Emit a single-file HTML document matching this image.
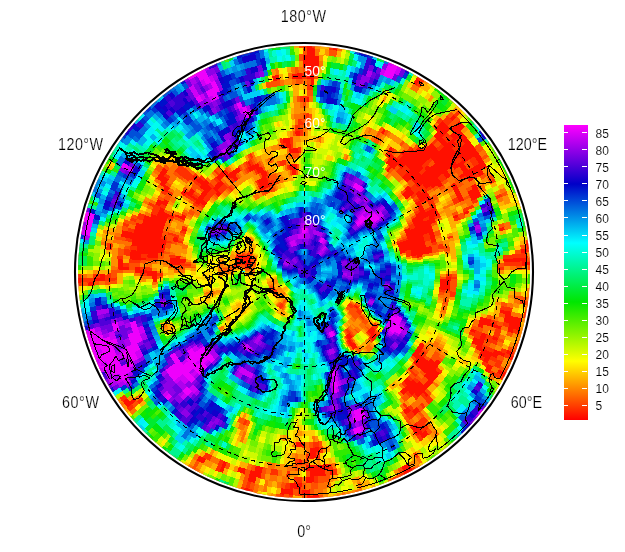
<!DOCTYPE html>
<html><head><meta charset="utf-8"><title>map</title>
<style>
html,body{margin:0;padding:0;background:#fff;}
svg{display:block;}
text{font-family:"Liberation Sans",Arial,Helvetica,sans-serif;}
.lb text{font-size:15.6px;stroke:#fff;stroke-width:0.2px;}
.lw text{font-size:15px;}
.cb text{font-size:12px;stroke:#fff;stroke-width:0.12px;}
</style></head>
<body>
<svg width="625" height="552" viewBox="0 0 625 552">
<rect width="625" height="552" fill="#fff"/>
<defs><clipPath id="cp"><circle cx="304.0" cy="272.0" r="226.0"/></clipPath></defs>
<g clip-path="url(#cp)">
<circle cx="304.0" cy="272.0" r="226.0" fill="#40e060"/>
<g fill="none" shape-rendering="crispEdges" transform="rotate(-0.5625 304.4 272.0)">
<circle cx="304.4" cy="272.0" r="225.40" stroke-width="5.00" stroke="#ff3000"/>
<circle cx="304.4" cy="272.0" r="220.23" stroke-width="6.94" stroke="#ff1000"/>
<circle cx="304.4" cy="272.0" r="214.11" stroke-width="6.89" stroke="#ff1000"/>
<circle cx="304.4" cy="272.0" r="208.05" stroke-width="6.84" stroke="#ff1000"/>
<circle cx="304.4" cy="272.0" r="202.02" stroke-width="6.80" stroke="#ff1000"/>
<circle cx="304.4" cy="272.0" r="196.05" stroke-width="6.76" stroke="#ff1000"/>
<circle cx="304.4" cy="272.0" r="190.11" stroke-width="6.71" stroke="#ff1000"/>
<circle cx="304.4" cy="272.0" r="184.22" stroke-width="6.67" stroke="#ff1000"/>
<circle cx="304.4" cy="272.0" r="178.36" stroke-width="6.64" stroke="#ff1000"/>
<circle cx="304.4" cy="272.0" r="172.55" stroke-width="6.60" stroke="#ff1000"/>
<circle cx="304.4" cy="272.0" r="166.76" stroke-width="6.56" stroke="#ff1000"/>
<circle cx="304.4" cy="272.0" r="161.02" stroke-width="6.53" stroke="#ff1000"/>
<circle cx="304.4" cy="272.0" r="155.31" stroke-width="6.50" stroke="#ff1000"/>
<circle cx="304.4" cy="272.0" r="149.63" stroke-width="6.46" stroke="#ff1000"/>
<circle cx="304.4" cy="272.0" r="143.98" stroke-width="6.43" stroke="#ff1000"/>
<circle cx="304.4" cy="272.0" r="138.36" stroke-width="6.40" stroke="#ff1000"/>
<circle cx="304.4" cy="272.0" r="132.77" stroke-width="6.38" stroke="#ff1000"/>
<circle cx="304.4" cy="272.0" r="127.21" stroke-width="6.35" stroke="#ff1000"/>
<circle cx="304.4" cy="272.0" r="121.67" stroke-width="6.33" stroke="#ff1000"/>
<circle cx="304.4" cy="272.0" r="116.15" stroke-width="6.30" stroke="#ff1000"/>
<circle cx="304.4" cy="272.0" r="110.66" stroke-width="6.28" stroke="#008fe7"/>
<circle cx="304.4" cy="272.0" r="105.20" stroke-width="6.26" stroke="#0070e0"/>
<circle cx="304.4" cy="272.0" r="99.75" stroke-width="6.24" stroke="#00facf"/>
<circle cx="304.4" cy="272.0" r="94.32" stroke-width="6.22" stroke="#ffaf00"/>
<circle cx="304.4" cy="272.0" r="88.91" stroke-width="6.20" stroke="#effd00"/>
<circle cx="304.4" cy="272.0" r="83.52" stroke-width="6.18" stroke="#ffef00"/>
<circle cx="304.4" cy="272.0" r="78.15" stroke-width="6.17" stroke="#0050d9"/>
<circle cx="304.4" cy="272.0" r="72.79" stroke-width="6.15" stroke="#00afee"/>
<circle cx="304.4" cy="272.0" r="67.44" stroke-width="6.14" stroke="#00cff5"/>
<circle cx="304.4" cy="272.0" r="62.11" stroke-width="6.13" stroke="#00effc"/>
<circle cx="304.4" cy="272.0" r="56.79" stroke-width="6.11" stroke="#0030d2"/>
<circle cx="304.4" cy="272.0" r="51.48" stroke-width="6.10" stroke="#00effc"/>
<circle cx="304.4" cy="272.0" r="46.18" stroke-width="6.09" stroke="#00afee"/>
<circle cx="304.4" cy="272.0" r="40.89" stroke-width="6.09" stroke="#af00ee"/>
<circle cx="304.4" cy="272.0" r="35.61" stroke-width="6.08" stroke="#0010cb"/>
<circle cx="304.4" cy="272.0" r="30.33" stroke-width="6.07" stroke="#1000cb"/>
<circle cx="304.4" cy="272.0" r="25.06" stroke-width="6.07" stroke="#5000d9"/>
<circle cx="304.4" cy="272.0" r="19.80" stroke-width="6.06" stroke="#3000d2"/>
<circle cx="304.4" cy="272.0" r="14.54" stroke-width="6.06" stroke="#0070e0"/>
<circle cx="304.4" cy="272.0" r="9.28" stroke-width="6.06" stroke="#1000cb"/>
<circle cx="304.4" cy="272.0" r="3.33" stroke-width="7.15" stroke="#3000d2"/>
<g stroke-width="5.00">
<circle cx="304.4" cy="272.0" r="225.40" pathLength="320" stroke="#ff1000" stroke-dasharray="0 20 1.2 2.8 1.2 29.8 2.2 19.8 3.2 12.8 1.2 63.8 1.2 81.8 1.2 4.8 1.2 65.8 1.2 2.8 1.2 0.8"/>
<circle cx="304.4" cy="272.0" r="225.40" pathLength="320" stroke="#ff5000" stroke-dasharray="0 7 1.2 9.8 1.2 2.8 1.2 34.8 1.2 16.8 1.2 2.8 1.2 2.8 1.2 0.8 1.2 18.8 1.2 131.8 1.2 76.8 1.2 0.8 1.2 399.8"/>
<circle cx="304.4" cy="272.0" r="225.40" pathLength="320" stroke="#ff7000" stroke-dasharray="0 6 1.2 0.8 1.2 6.8 1.2 3.8 1.2 30.8 1.2 5.8 1.2 5.8 2.2 1.8 1.2 18.8 1.2 12.8 1.2 0.8 1.2 19.8 1.2 118.8 1.2 70.8"/>
<circle cx="304.4" cy="272.0" r="225.40" pathLength="320" stroke="#ff8f00" stroke-dasharray="0 4 2.2 4.8 1.2 0.8 3.2 52.8 2.2 0.8 1.2 1.8 1.2 10.8 1.2 38.8 1.2 0.8 1.2 112.8 1.2 24.8 1.2 45.8 1.2 2.8"/>
<circle cx="304.4" cy="272.0" r="225.40" pathLength="320" stroke="#ffaf00" stroke-dasharray="0 12 1.2 50.8 1.2 7.8 1.2 6.8 2.2 4.8 1.2 5.8 1.2 7.8 1.2 20.8 1.2 110.8 1.2 4.8 2.2 73.8"/>
<circle cx="304.4" cy="272.0" r="225.40" pathLength="320" stroke="#ffcf00" stroke-dasharray="0 52 1.2 12.8 1.2 6.8 1.2 14.8 1.2 16.8 1.2 46.8 1.2 112.8 1.2 6.8 2.2 23.8 1.2 14.8"/>
<circle cx="304.4" cy="272.0" r="225.40" pathLength="320" stroke="#ffef00" stroke-dasharray="1.2 24.8 1.2 37.8 1.2 58.8 1.2 122.8 1.2 29.8 1.2 23.8 1.2 13.8"/>
<circle cx="304.4" cy="272.0" r="225.40" pathLength="320" stroke="#effd00" stroke-dasharray="0 3 1.2 46.8 1.2 10.8 1.2 24.8 1.2 64.8 1.2 146.8 1.2 15.8"/>
<circle cx="304.4" cy="272.0" r="225.40" pathLength="320" stroke="#cffa00" stroke-dasharray="0 27 1.2 17.8 2.2 12.8 1.2 46.8 1.2 4.8 1.2 43.8 1.2 104.8 1.2 3.8 1.2 4.8 1.2 23.8 1.2 8.8 1.2 6.8"/>
<circle cx="304.4" cy="272.0" r="225.40" pathLength="320" stroke="#aff700" stroke-dasharray="0 28 1.2 15.8 1.2 49.8 1.2 5.8 1.2 11.8 1.2 12.8 1.2 149.8 1.2 37.8"/>
<circle cx="304.4" cy="272.0" r="225.40" pathLength="320" stroke="#8ff400" stroke-dasharray="0 48 1.2 0.8 1.2 102.8 1.2 29.8 1.2 133.8"/>
<circle cx="304.4" cy="272.0" r="225.40" pathLength="320" stroke="#70f100" stroke-dasharray="0 62 1.2 37.8 2.2 146.8 1.2 24.8 1.2 12.8 1.2 0.8 1.2 17.8 1.2 7.8"/>
<circle cx="304.4" cy="272.0" r="225.40" pathLength="320" stroke="#50ee00" stroke-dasharray="0 29 1.2 13.8 1.2 3.8 1.2 46.8 1.2 25.8 1.2 58.8 1.2 36.8 1.2 13.8 1.2 43.8 1.2 7.8 1.2 17.8 1.2 8.8"/>
<circle cx="304.4" cy="272.0" r="225.40" pathLength="320" stroke="#30eb00" stroke-dasharray="0 1 2.2 106.8 1.2 5.8 1.2 57.8 1.2 8.8 1.2 101.8 1.2 2.8 1.2 1.8 3.2 1.8 1.2 3.8 1.2 12.8"/>
<circle cx="304.4" cy="272.0" r="225.40" pathLength="320" stroke="#10e800" stroke-dasharray="0 100 1.2 16.8 1.2 41.8 1.2 109.8 1.2 1.8 1.2 23.8 1.2 18.8"/>
<circle cx="304.4" cy="272.0" r="225.40" pathLength="320" stroke="#00e810" stroke-dasharray="0 43 1.2 69.8 1.2 117.8 1.2 38.8 2.2 18.8 2.2 2.8 1.2 19.8"/>
<circle cx="304.4" cy="272.0" r="225.40" pathLength="320" stroke="#00eb30" stroke-dasharray="0 164 1.2 11.8 1.2 8.8 1.2 34.8 1.2 9.8 1.2 21.8 1.2 50.8 1.2 9.8"/>
<circle cx="304.4" cy="272.0" r="225.40" pathLength="320" stroke="#00ee50" stroke-dasharray="0 30 1.2 66.8 1.2 13.8 1.2 4.8 1.2 42.8 1.2 93.8 1.2 23.8 1.2 22.8 2.2 10.8"/>
<circle cx="304.4" cy="272.0" r="225.40" pathLength="320" stroke="#00f170" stroke-dasharray="0 42 1.2 67.8 1.2 40.8 1.2 7.8 1.2 1.8 1.2 21.8 1.2 31.8 1.2 9.8 1.2 1.8 2.2 82.8"/>
<circle cx="304.4" cy="272.0" r="225.40" pathLength="320" stroke="#00f48f" stroke-dasharray="0 99 1.2 11.8 1.2 9.8 1.2 41.8 1.2 152.8"/>
<circle cx="304.4" cy="272.0" r="225.40" pathLength="320" stroke="#00f7af" stroke-dasharray="0 120 1.2 53.8 1.2 6.8 1.2 4.8 2.2 92.8 1.2 34.8"/>
<circle cx="304.4" cy="272.0" r="225.40" pathLength="320" stroke="#00facf" stroke-dasharray="0 122 1.2 28.8 1.2 44.8 1.2 65.8 1.2 21.8 1.2 30.8"/>
<circle cx="304.4" cy="272.0" r="225.40" pathLength="320" stroke="#00fdef" stroke-dasharray="0 131 1.2 98.8 1.2 18.8 1.2 67.8"/>
<circle cx="304.4" cy="272.0" r="225.40" pathLength="320" stroke="#00effc" stroke-dasharray="0 167 1.2 22.8 1.2 6.8 1.2 84.8 1.2 33.8"/>
<circle cx="304.4" cy="272.0" r="225.40" pathLength="320" stroke="#00cff5" stroke-dasharray="0 31 1.2 88.8 1.2 55.8 1.2 2.8 1.2 21.8 1.2 17.8 1.2 30.8 1.2 62.8"/>
<circle cx="304.4" cy="272.0" r="225.40" pathLength="320" stroke="#00afee" stroke-dasharray="0 41 1.2 108.8 1.2 44.8 1.2 5.8 1.2 4.8 1.2 108.8"/>
<circle cx="304.4" cy="272.0" r="225.40" pathLength="320" stroke="#008fe7" stroke-dasharray="0 149 2.2 28.8 2.2 26.8 1.2 109.8"/>
<circle cx="304.4" cy="272.0" r="225.40" pathLength="320" stroke="#0070e0" stroke-dasharray="0 179 1.2 11.8 1.2 8.8 2.2 3.8 1.2 10.8 1.2 8.8 1.2 27.8 1.2 59.8"/>
<circle cx="304.4" cy="272.0" r="225.40" pathLength="320" stroke="#0050d9" stroke-dasharray="0 32 1.2 114.8 1.2 50.8 1.2 4.8 2.2 43.8 1.2 66.8"/>
<circle cx="304.4" cy="272.0" r="225.40" pathLength="320" stroke="#0030d2" stroke-dasharray="0 168 1.2 23.8 1.2 6.8 1.2 23.8 2.2 26.8 1.2 63.8"/>
<circle cx="304.4" cy="272.0" r="225.40" pathLength="320" stroke="#0010cb" stroke-dasharray="0 39 2.2 90.8 1.2 77.8 1.2 12.8 1.2 1.8 2.2 22.8 2.2 30.8 1.2 32.8"/>
<circle cx="304.4" cy="272.0" r="225.40" pathLength="320" stroke="#1000cb" stroke-dasharray="0 38 1.2 107.8 1.2 45.8 1.2 0.8 1.2 66.8 1.2 21.8 1.2 31.8"/>
<circle cx="304.4" cy="272.0" r="225.40" pathLength="320" stroke="#3000d2" stroke-dasharray="0 136 1.2 57.8 1.2 21.8 2.2 99.8"/>
<circle cx="304.4" cy="272.0" r="225.40" pathLength="320" stroke="#5000d9" stroke-dasharray="0 135 1.2 183.8"/>
<circle cx="304.4" cy="272.0" r="225.40" pathLength="320" stroke="#7000e0" stroke-dasharray="0 33 1.2 1.8 2.2 94.8 1.2 39.8 1.2 87.8 1.2 55.8"/>
<circle cx="304.4" cy="272.0" r="225.40" pathLength="320" stroke="#8f00e7" stroke-dasharray="0 134 1.2 35.8 1.2 39.8 1.2 106.8"/>
<circle cx="304.4" cy="272.0" r="225.40" pathLength="320" stroke="#af00ee" stroke-dasharray="0 35 1.2 133.8 1.2 45.8 1.2 101.8"/>
<circle cx="304.4" cy="272.0" r="225.40" pathLength="320" stroke="#cf00f5" stroke-dasharray="0 34 1.2 101.8 1.2 0.8 1.2 5.8 1.2 21.8 1.2 89.8 1.2 0.8 1.2 56.8"/>
<circle cx="304.4" cy="272.0" r="225.40" pathLength="320" stroke="#ef00fc" stroke-dasharray="0 138 1.2 0.8 6.2 25.8 2.2 38.8 4.2 43.8 1.2 57.8"/>
</g>
<g stroke-width="6.94">
<circle cx="304.4" cy="272.0" r="220.23" pathLength="320" stroke="#ff3000" stroke-dasharray="0 7 1.2 5.8 1.2 4.8 1.2 3.8 1.2 54.8 1.2 10.8 1.2 31.8 1.2 1.8 1.2 27.8 1.2 108.8 1.2 9.8 1.2 35.8 1.2 2.8"/>
<circle cx="304.4" cy="272.0" r="220.23" pathLength="320" stroke="#ff5000" stroke-dasharray="0 6 1.2 10.8 1.2 3.8 1.2 32.8 1.2 19.8 1.2 2.8 1.2 8.8 1.2 0.8 1.2 10.8 1.2 49.8 1.2 81.8 1.2 4.8 2.2 65.8 1.2 4.8"/>
<circle cx="304.4" cy="272.0" r="220.23" pathLength="320" stroke="#ff7000" stroke-dasharray="0 10 1.2 40.8 1.2 13.8 1.2 7.8 2.2 10.8 1.2 0.8 1.2 32.8 1.2 32.8 1.2 82.8 1.2 75.8"/>
<circle cx="304.4" cy="272.0" r="220.23" pathLength="320" stroke="#ff8f00" stroke-dasharray="0 15 1.2 0.8 1.2 2.8 2.2 29.8 2.2 2.8 1.2 15.8 1.2 13.8 1.2 13.8 1.2 0.8 1.2 136.8 1.2 31.8 1.2 39.8 1.2 399.8"/>
<circle cx="304.4" cy="272.0" r="220.23" pathLength="320" stroke="#ffaf00" stroke-dasharray="0 16 1.2 8.8 1.2 37.8 2.2 18.8 1.2 7.8 1.2 88.8 1.2 61.8 1.2 19.8 2.2 8.8 1.2 31.8 1.2 5.8"/>
<circle cx="304.4" cy="272.0" r="220.23" pathLength="320" stroke="#ffcf00" stroke-dasharray="0 5 1.2 1.8 1.2 58.8 1.2 4.8 1.2 12.8 1.2 14.8 1.2 80.8 1.2 56.8 1.2 51.8 1.2 2.8 2.2 0.8 1.2 6.8 1.2 6.8"/>
<circle cx="304.4" cy="272.0" r="220.23" pathLength="320" stroke="#ffef00" stroke-dasharray="1.2 7.8 1.2 40.8 1.2 11.8 1.2 21.8 1.2 12.8 1.2 0.8 1.2 3.8 1.2 5.8 1.2 39.8 1.2 2.8 1.2 77.8 1.2 54.8 2.2 0.8 1.2 3.8 1.2 15.8"/>
<circle cx="304.4" cy="272.0" r="220.23" pathLength="320" stroke="#effd00" stroke-dasharray="0 4 1.2 40.8 1.2 1.8 1.2 8.8 1.2 9.8 2.2 176.8 1.2 15.8 1.2 3.8 1.2 8.8 1.2 6.8 2.2 28.8"/>
<circle cx="304.4" cy="272.0" r="220.23" pathLength="320" stroke="#cffa00" stroke-dasharray="0 1 1.2 0.8 1.2 40.8 1.2 3.8 1.2 17.8 1.2 2.8 1.2 27.8 1.2 12.8 1.2 159.8 1.2 3.8 1.2 7.8 1.2 1.8 1.2 3.8 2.2 18.8"/>
<circle cx="304.4" cy="272.0" r="220.23" pathLength="320" stroke="#aff700" stroke-dasharray="0 48 1.2 10.8 1.2 1.8 1.2 7.8 1.2 22.8 1.2 2.8 1.2 28.8 1.2 106.8 1.2 10.8 1.2 40.8 2.2 16.8 1.2 7.8"/>
<circle cx="304.4" cy="272.0" r="220.23" pathLength="320" stroke="#8ff400" stroke-dasharray="0 47 1.2 49.8 1.2 24.8 1.2 35.8 1.2 109.8 2.2 30.8 1.2 13.8"/>
<circle cx="304.4" cy="272.0" r="220.23" pathLength="320" stroke="#70f100" stroke-dasharray="0 2 1.2 23.8 1.2 70.8 1.2 8.8 1.2 3.8 1.2 3.8 1.2 34.8 1.2 163.8"/>
<circle cx="304.4" cy="272.0" r="220.23" pathLength="320" stroke="#50ee00" stroke-dasharray="0 44 1.2 51.8 1.2 19.8 1.2 168.8 1.2 30.8"/>
<circle cx="304.4" cy="272.0" r="220.23" pathLength="320" stroke="#30eb00" stroke-dasharray="0 28 1.2 87.8 1.2 57.8 1.2 59.8 1.2 37.8 1.2 5.8 1.2 0.8 1.2 33.8"/>
<circle cx="304.4" cy="272.0" r="220.23" pathLength="320" stroke="#10e800" stroke-dasharray="0 61 1.2 50.8 1.2 49.8 1.2 18.8 1.2 88.8 1.2 8.8 1.2 20.8 1.2 12.8"/>
<circle cx="304.4" cy="272.0" r="220.23" pathLength="320" stroke="#00e810" stroke-dasharray="0 29 1.2 31.8 1.2 46.8 1.2 75.8 1.2 121.8 1.2 8.8"/>
<circle cx="304.4" cy="272.0" r="220.23" pathLength="320" stroke="#00eb30" stroke-dasharray="0 120 1.2 32.8 1.2 9.8 1.2 98.8 1.2 8.8 1.2 43.8"/>
<circle cx="304.4" cy="272.0" r="220.23" pathLength="320" stroke="#00ee50" stroke-dasharray="0 162 2.2 86.8 1.2 54.8 1.2 11.8"/>
<circle cx="304.4" cy="272.0" r="220.23" pathLength="320" stroke="#00f170" stroke-dasharray="0 221 1.2 97.8"/>
<circle cx="304.4" cy="272.0" r="220.23" pathLength="320" stroke="#00f48f" stroke-dasharray="0 41 3.2 66.8 2.2 9.8 1.2 41.8 1.2 7.8 1.2 45.8 1.2 8.8 1.2 86.8"/>
<circle cx="304.4" cy="272.0" r="220.23" pathLength="320" stroke="#00f7af" stroke-dasharray="0 30 1.2 204.8 1.2 48.8 1.2 20.8 1.2 10.8"/>
<circle cx="304.4" cy="272.0" r="220.23" pathLength="320" stroke="#00facf" stroke-dasharray="0 177 1.2 11.8 1.2 41.8 1.2 74.8 1.2 9.8"/>
<circle cx="304.4" cy="272.0" r="220.23" pathLength="320" stroke="#00fdef" stroke-dasharray="0 40 1.2 79.8 1.2 30.8 1.2 28.8 1.2 4.8 1.2 0.8 1.2 42.8 1.2 20.8 1.2 61.8"/>
<circle cx="304.4" cy="272.0" r="220.23" pathLength="320" stroke="#00effc" stroke-dasharray="0 122 1.2 7.8 1.2 18.8 2.2 34.8 1.2 44.8 1.2 16.8 1.2 4.8 1.2 60.8"/>
<circle cx="304.4" cy="272.0" r="220.23" pathLength="320" stroke="#00cff5" stroke-dasharray="0 180 1.2 0.8 1.2 39.8 1.2 6.8 1.2 87.8"/>
<circle cx="304.4" cy="272.0" r="220.23" pathLength="320" stroke="#00afee" stroke-dasharray="0 150 1.2 58.8 1.2 8.8 1.2 98.8"/>
<circle cx="304.4" cy="272.0" r="220.23" pathLength="320" stroke="#008fe7" stroke-dasharray="0 31 1.2 134.8 1.2 10.8 1.2 0.8 1.2 9.8 2.2 14.8 1.2 42.8 2.2 64.8"/>
<circle cx="304.4" cy="272.0" r="220.23" pathLength="320" stroke="#0070e0" stroke-dasharray="0 149 1.2 49.8 2.2 21.8 1.2 4.8 1.2 88.8"/>
<circle cx="304.4" cy="272.0" r="220.23" pathLength="320" stroke="#0050d9" stroke-dasharray="0 32 1.2 5.8 1.2 137.8 1.2 14.8 2.2 2.8 1.2 7.8 1.2 1.8 1.2 74.8 1.2 31.8"/>
<circle cx="304.4" cy="272.0" r="220.23" pathLength="320" stroke="#0030d2" stroke-dasharray="0 148 1.2 48.8 1.2 2.8 1.2 21.8 1.2 2.8 1.2 33.8 1.2 54.8"/>
<circle cx="304.4" cy="272.0" r="220.23" pathLength="320" stroke="#0010cb" stroke-dasharray="0 33 1.2 139.8 1.2 20.8 1.2 6.8 2.2 49.8 1.2 62.8"/>
<circle cx="304.4" cy="272.0" r="220.23" pathLength="320" stroke="#1000cb" stroke-dasharray="0 36 1.2 165.8 1.2 2.8 1.2 17.8 3.2 90.8"/>
<circle cx="304.4" cy="272.0" r="220.23" pathLength="320" stroke="#3000d2" stroke-dasharray="0 34 2.2 0.8 1.2 158.8 1.2 7.8 1.2 47.8 1.2 63.8"/>
<circle cx="304.4" cy="272.0" r="220.23" pathLength="320" stroke="#5000d9" stroke-dasharray="0 38 1.2 107.8 1.2 171.8"/>
<circle cx="304.4" cy="272.0" r="220.23" pathLength="320" stroke="#7000e0" stroke-dasharray="0 132 1.2 78.8 1.2 5.8 1.2 42.8 1.2 55.8"/>
<circle cx="304.4" cy="272.0" r="220.23" pathLength="320" stroke="#8f00e7" stroke-dasharray="0 214 1.2 1.8 2.2 39.8 1.2 59.8"/>
<circle cx="304.4" cy="272.0" r="220.23" pathLength="320" stroke="#af00ee" stroke-dasharray="0 133 1.2 0.8 1.2 31.8 1.2 43.8 1.2 105.8"/>
<circle cx="304.4" cy="272.0" r="220.23" pathLength="320" stroke="#cf00f5" stroke-dasharray="0 134 1.2 0.8 1.2 0.8 1.2 1.8 1.2 119.8 1.2 56.8"/>
<circle cx="304.4" cy="272.0" r="220.23" pathLength="320" stroke="#ef00fc" stroke-dasharray="0 137 1.2 0.8 2.2 0.8 5.2 21.8 5.2 40.8 2.2 42.8 2.2 57.8"/>
</g>
<g stroke-width="6.89">
<circle cx="304.4" cy="272.0" r="214.11" pathLength="320" stroke="#ff3000" stroke-dasharray="0 19 1.2 1.8 2.2 0.8 1.2 25.8 1.2 30.8 1.2 15.8 1.2 55.8 1.2 156.8 1.2 0.8 1.2 0.8"/>
<circle cx="304.4" cy="272.0" r="214.11" pathLength="320" stroke="#ff5000" stroke-dasharray="0 6 1.2 7.8 1.2 4.8 1.2 54.8 2.2 0.8 1.2 3.8 1.2 7.8 1.2 30.8 1.2 111.8 1.2 37.8 1.2 0.8 1.2 6.8 2.2 0.8 1.2 8.8 1.2 12.8 1.2 2.8 1.2 399.8"/>
<circle cx="304.4" cy="272.0" r="214.11" pathLength="320" stroke="#ff7000" stroke-dasharray="0 7 1.2 1.8 1.2 12.8 1.2 0.8 1.2 46.8 3.2 1.8 1.2 5.8 1.2 1.8 1.2 16.8 1.2 158.8 2.2 20.8 1.2 8.8 1.2 18.8"/>
<circle cx="304.4" cy="272.0" r="214.11" pathLength="320" stroke="#ff8f00" stroke-dasharray="0 5 1.2 1.8 1.2 57.8 1.2 19.8 1.2 1.8 1.2 2.8 1.2 6.8 2.2 22.8 1.2 29.8 1.2 83.8 1.2 26.8 1.2 9.8 1.2 7.8 1.2 8.8 2.2 15.8"/>
<circle cx="304.4" cy="272.0" r="214.11" pathLength="320" stroke="#ffaf00" stroke-dasharray="0 16 1.2 0.8 1.2 31.8 1.2 0.8 1.2 13.8 1.2 17.8 1.2 10.8 1.2 1.8 1.2 180.8 2.2 12.8 1.2 19.8"/>
<circle cx="304.4" cy="272.0" r="214.11" pathLength="320" stroke="#ffcf00" stroke-dasharray="0 9 1.2 35.8 1.2 18.8 1.2 5.8 1.2 85.8 1.2 104.8 1.2 1.8 1.2 0.8 1.2 31.8 1.2 8.8 1.2 4.8"/>
<circle cx="304.4" cy="272.0" r="214.11" pathLength="320" stroke="#ffef00" stroke-dasharray="0 17 1.2 26.8 1.2 0.8 1.2 5.8 1.2 13.8 1.2 19.8 1.2 4.8 1.2 27.8 1.2 118.8 1.2 39.8 1.2 5.8 1.2 18.8 1.2 5.8"/>
<circle cx="304.4" cy="272.0" r="214.11" pathLength="320" stroke="#effd00" stroke-dasharray="1.2 46.8 2.2 4.8 2.2 7.8 1.2 3.8 1.2 26.8 1.2 170.8 1.2 15.8 1.2 5.8 2.2 1.8 1.2 20.8"/>
<circle cx="304.4" cy="272.0" r="214.11" pathLength="320" stroke="#cffa00" stroke-dasharray="0 44 1.2 51.8 1.2 57.8 1.2 91.8 1.2 45.8 2.2 13.8 1.2 6.8"/>
<circle cx="304.4" cy="272.0" r="214.11" pathLength="320" stroke="#aff700" stroke-dasharray="0 4 1.2 21.8 1.2 21.8 1.2 5.8 1.2 12.8 2.2 34.8 1.2 5.8 1.2 48.8 1.2 81.8 1.2 23.8 1.2 2.8 1.2 41.8"/>
<circle cx="304.4" cy="272.0" r="214.11" pathLength="320" stroke="#8ff400" stroke-dasharray="0 58 1.2 101.8 1.2 83.8 1.2 17.8 1.2 38.8 1.2 2.8 1.2 9.8"/>
<circle cx="304.4" cy="272.0" r="214.11" pathLength="320" stroke="#70f100" stroke-dasharray="0 3 1.2 54.8 1.2 3.8 1.2 58.8 1.2 38.8 1.2 72.8 1.2 7.8 1.2 1.8 1.2 68.8"/>
<circle cx="304.4" cy="272.0" r="214.11" pathLength="320" stroke="#50ee00" stroke-dasharray="0 116 1.2 11.8 1.2 179.8 2.2 7.8"/>
<circle cx="304.4" cy="272.0" r="214.11" pathLength="320" stroke="#30eb00" stroke-dasharray="0 1 2.2 37.8 3.2 117.8 2.2 1.8 1.2 17.8 1.2 121.8 1.2 10.8"/>
<circle cx="304.4" cy="272.0" r="214.11" pathLength="320" stroke="#10e800" stroke-dasharray="0 60 1.2 61.8 1.2 151.8 1.2 28.8 1.2 12.8"/>
<circle cx="304.4" cy="272.0" r="214.11" pathLength="320" stroke="#00e810" stroke-dasharray="0 63 1.2 52.8 3.2 1.8 1.2 150.8 2.2 43.8"/>
<circle cx="304.4" cy="272.0" r="214.11" pathLength="320" stroke="#00eb30" stroke-dasharray="0 40 1.2 19.8 2.2 45.8 1.2 3.8 1.2 4.8 2.2 128.8 1.2 54.8 1.2 11.8"/>
<circle cx="304.4" cy="272.0" r="214.11" pathLength="320" stroke="#00ee50" stroke-dasharray="0 28 1.2 156.8 1.2 132.8"/>
<circle cx="304.4" cy="272.0" r="214.11" pathLength="320" stroke="#00f170" stroke-dasharray="0 113 1.2 40.8 1.2 10.8 2.2 82.8 1.2 66.8"/>
<circle cx="304.4" cy="272.0" r="214.11" pathLength="320" stroke="#00f48f" stroke-dasharray="0 110 1.2 18.8 1.2 52.8 1.2 6.8 1.2 43.8 1.2 81.8"/>
<circle cx="304.4" cy="272.0" r="214.11" pathLength="320" stroke="#00f7af" stroke-dasharray="0 169 1.2 20.8 1.2 39.8 2.2 85.8"/>
<circle cx="304.4" cy="272.0" r="214.11" pathLength="320" stroke="#00facf" stroke-dasharray="0 39 1.2 71.8 1.2 66.8 1.2 8.8 1.2 8.8 1.2 33.8 1.2 27.8 1.2 54.8"/>
<circle cx="304.4" cy="272.0" r="214.11" pathLength="320" stroke="#00fdef" stroke-dasharray="0 29 1.2 80.8 1.2 66.8 1.2 53.8 1.2 0.8 1.2 15.8 1.2 65.8"/>
<circle cx="304.4" cy="272.0" r="214.11" pathLength="320" stroke="#00effc" stroke-dasharray="0 181 1.2 10.8 1.2 4.8 1.2 119.8"/>
<circle cx="304.4" cy="272.0" r="214.11" pathLength="320" stroke="#00cff5" stroke-dasharray="0 170 1.2 11.8 1.2 135.8"/>
<circle cx="304.4" cy="272.0" r="214.11" pathLength="320" stroke="#00afee" stroke-dasharray="0 30 1.2 2.8 2.2 117.8 1.2 15.8 1.2 2.8 2.2 0.8 1.2 2.8 1.2 5.8 1.2 10.8 1.2 19.8 1.2 0.8 1.2 5.8 1.2 87.8"/>
<circle cx="304.4" cy="272.0" r="214.11" pathLength="320" stroke="#008fe7" stroke-dasharray="0 36 1.2 115.8 1.2 19.8 1.2 1.8 1.2 19.8 1.2 21.8 1.2 0.8 1.2 0.8 1.2 27.8 1.2 64.8"/>
<circle cx="304.4" cy="272.0" r="214.11" pathLength="320" stroke="#0070e0" stroke-dasharray="0 33 1.2 2.8 1.2 113.8 1.2 33.8 2.2 4.8 1.2 0.8 2.2 3.8 1.2 22.8 3.2 90.8"/>
<circle cx="304.4" cy="272.0" r="214.11" pathLength="320" stroke="#0050d9" stroke-dasharray="0 31 1.2 5.8 1.2 132.8 1.2 21.8 1.2 23.8 1.2 41.8 1.2 55.8"/>
<circle cx="304.4" cy="272.0" r="214.11" pathLength="320" stroke="#0030d2" stroke-dasharray="0 32 1.2 97.8 1.2 18.8 1.2 76.8 1.2 89.8"/>
<circle cx="304.4" cy="272.0" r="214.11" pathLength="320" stroke="#0010cb" stroke-dasharray="0 173 1.2 28.8 1.2 25.8 1.2 25.8 1.2 61.8"/>
<circle cx="304.4" cy="272.0" r="214.11" pathLength="320" stroke="#1000cb" stroke-dasharray="0 148 1.2 54.8 1.2 4.8 1.2 108.8"/>
<circle cx="304.4" cy="272.0" r="214.11" pathLength="320" stroke="#3000d2" stroke-dasharray="0 149 2.2 53.8 1.2 0.8 3.2 8.8 1.2 34.8 1.2 63.8"/>
<circle cx="304.4" cy="272.0" r="214.11" pathLength="320" stroke="#5000d9" stroke-dasharray="0 206 1.2 112.8"/>
<circle cx="304.4" cy="272.0" r="214.11" pathLength="320" stroke="#7000e0" stroke-dasharray="0 147 1.2 62.8 1.2 1.8 1.2 40.8 1.2 0.8 1.2 2.8 1.2 56.8"/>
<circle cx="304.4" cy="272.0" r="214.11" pathLength="320" stroke="#8f00e7" stroke-dasharray="0 213 1.2 105.8"/>
<circle cx="304.4" cy="272.0" r="214.11" pathLength="320" stroke="#af00ee" stroke-dasharray="0 132 1.2 0.8 1.2 10.8 1.2 70.8 1.2 100.8"/>
<circle cx="304.4" cy="272.0" r="214.11" pathLength="320" stroke="#cf00f5" stroke-dasharray="0 133 1.2 10.8 1.2 65.8 1.2 1.8 1.2 0.8 1.2 40.8 1.2 59.8"/>
<circle cx="304.4" cy="272.0" r="214.11" pathLength="320" stroke="#ef00fc" stroke-dasharray="0 135 10.2 70.8 1.2 42.8 2.2 57.8"/>
</g>
<g stroke-width="6.84">
<circle cx="304.4" cy="272.0" r="208.05" pathLength="320" stroke="#ff3000" stroke-dasharray="0 9 1.2 2.8 1.2 7.8 1.2 53.8 1.2 2.8 2.2 17.8 1.2 1.8 2.2 19.8 1.2 31.8 1.2 117.8 2.2 16.8 1.2 2.8 1.2 13.8 1.2 0.8 1.2 0.8"/>
<circle cx="304.4" cy="272.0" r="208.05" pathLength="320" stroke="#ff5000" stroke-dasharray="0 17 1.2 4.8 1.2 49.8 3.2 12.8 1.2 2.8 1.2 3.8 1.2 56.8 1.2 121.8 1.2 14.8 1.2 22.8"/>
<circle cx="304.4" cy="272.0" r="208.05" pathLength="320" stroke="#ff7000" stroke-dasharray="0 8 1.2 4.8 1.2 0.8 1.2 0.8 1.2 25.8 1.2 33.8 1.2 2.8 2.2 0.8 2.2 12.8 2.2 22.8 1.2 115.8 1.2 49.8 1.2 5.8 1.2 4.8 2.2 8.8 1.2 399.8"/>
<circle cx="304.4" cy="272.0" r="208.05" pathLength="320" stroke="#ff8f00" stroke-dasharray="0 6 1.2 11.8 1.2 25.8 1.2 25.8 1.2 11.8 1.2 1.8 1.2 6.8 1.2 61.8 1.2 77.8 1.2 53.8 1.2 4.8 1.2 18.8"/>
<circle cx="304.4" cy="272.0" r="208.05" pathLength="320" stroke="#ffaf00" stroke-dasharray="0 5 1.2 0.8 1.2 6.8 1.2 30.8 1.2 23.8 1.2 9.8 1.2 21.8 1.2 17.8 1.2 150.8 1.2 19.8 1.2 3.8 1.2 15.8"/>
<circle cx="304.4" cy="272.0" r="208.05" pathLength="320" stroke="#ffcf00" stroke-dasharray="0 44 1.2 2.8 2.2 1.8 1.2 44.8 1.2 69.8 1.2 133.8 1.2 14.8"/>
<circle cx="304.4" cy="272.0" r="208.05" pathLength="320" stroke="#ffef00" stroke-dasharray="0 43 1.2 5.8 1.2 1.8 2.2 15.8 1.2 97.8 1.2 143.8 1.2 3.8"/>
<circle cx="304.4" cy="272.0" r="208.05" pathLength="320" stroke="#effd00" stroke-dasharray="0 51 1.2 2.8 1.2 104.8 1.2 142.8 1.2 3.8 1.2 8.8"/>
<circle cx="304.4" cy="272.0" r="208.05" pathLength="320" stroke="#cffa00" stroke-dasharray="1.2 24.8 1.2 14.8 1.2 23.8 1.2 38.8 1.2 19.8 1.2 38.8 1.2 68.8 1.2 5.8 1.2 19.8 1.2 1.8 1.2 28.8 1.2 19.8"/>
<circle cx="304.4" cy="272.0" r="208.05" pathLength="320" stroke="#aff700" stroke-dasharray="0 66 1.2 0.8 2.2 94.8 2.2 99.8 2.2 2.8 2.2 45.8"/>
<circle cx="304.4" cy="272.0" r="208.05" pathLength="320" stroke="#8ff400" stroke-dasharray="0 56 1.2 12.8 1.2 84.8 1.2 5.8 2.2 5.8 1.2 92.8 1.2 3.8 2.2 33.8 2.2 11.8"/>
<circle cx="304.4" cy="272.0" r="208.05" pathLength="320" stroke="#70f100" stroke-dasharray="0 4 1.2 34.8 2.2 81.8 1.2 36.8 1.2 3.8 1.2 107.8 1.2 33.8 1.2 1.8 1.2 4.8"/>
<circle cx="304.4" cy="272.0" r="208.05" pathLength="320" stroke="#50ee00" stroke-dasharray="0 65 1.2 166.8 1.2 77.8 1.2 6.8"/>
<circle cx="304.4" cy="272.0" r="208.05" pathLength="320" stroke="#30eb00" stroke-dasharray="0 121 1.2 114.8 1.2 35.8 2.2 36.8 1.2 5.8"/>
<circle cx="304.4" cy="272.0" r="208.05" pathLength="320" stroke="#10e800" stroke-dasharray="0 3 1.2 34.8 1.2 16.8 1.2 49.8 1.2 12.8 1.2 110.8 1.2 10.8 1.2 1.8 1.2 69.8"/>
<circle cx="304.4" cy="272.0" r="208.05" pathLength="320" stroke="#00e810" stroke-dasharray="0 1 2.2 55.8 1.2 62.8 1.2 107.8 1.2 86.8"/>
<circle cx="304.4" cy="272.0" r="208.05" pathLength="320" stroke="#00eb30" stroke-dasharray="0 120 1.2 114.8 1.2 9.8 2.2 14.8 1.2 54.8"/>
<circle cx="304.4" cy="272.0" r="208.05" pathLength="320" stroke="#00ee50" stroke-dasharray="0 27 1.2 29.8 1.2 0.8 1.2 2.8 1.2 43.8 1.2 4.8 3.2 10.8 1.2 24.8 1.2 78.8 1.2 13.8 1.2 68.8"/>
<circle cx="304.4" cy="272.0" r="208.05" pathLength="320" stroke="#00f170" stroke-dasharray="0 62 1.2 46.8 1.2 60.8 1.2 18.8 1.2 126.8"/>
<circle cx="304.4" cy="272.0" r="208.05" pathLength="320" stroke="#00f48f" stroke-dasharray="0 34 2.2 24.8 1.2 0.8 1.2 49.8 1.2 2.8 2.2 199.8"/>
<circle cx="304.4" cy="272.0" r="208.05" pathLength="320" stroke="#00f7af" stroke-dasharray="0 38 1.2 71.8 1.2 80.8 1.2 68.8 1.2 55.8"/>
<circle cx="304.4" cy="272.0" r="208.05" pathLength="320" stroke="#00facf" stroke-dasharray="0 231 1.2 87.8"/>
<circle cx="304.4" cy="272.0" r="208.05" pathLength="320" stroke="#00fdef" stroke-dasharray="0 33 1.2 156.8 1.2 3.8 1.2 1.8 2.2 118.8"/>
<circle cx="304.4" cy="272.0" r="208.05" pathLength="320" stroke="#00effc" stroke-dasharray="0 36 2.2 134.8 1.2 15.8 1.2 5.8 2.2 51.8 1.2 67.8"/>
<circle cx="304.4" cy="272.0" r="208.05" pathLength="320" stroke="#00cff5" stroke-dasharray="0 112 2.2 39.8 1.2 45.8 1.2 49.8 1.2 8.8 1.2 56.8"/>
<circle cx="304.4" cy="272.0" r="208.05" pathLength="320" stroke="#00afee" stroke-dasharray="0 28 1.2 144.8 1.2 13.8 1.2 3.8 2.2 63.8 1.2 58.8"/>
<circle cx="304.4" cy="272.0" r="208.05" pathLength="320" stroke="#008fe7" stroke-dasharray="0 32 1.2 168.8 1.2 49.8 1.2 4.8 1.2 0.8 1.2 57.8"/>
<circle cx="304.4" cy="272.0" r="208.05" pathLength="320" stroke="#0070e0" stroke-dasharray="0 175 1.2 3.8 1.2 1.8 2.2 37.8 2.2 94.8"/>
<circle cx="304.4" cy="272.0" r="208.05" pathLength="320" stroke="#0050d9" stroke-dasharray="0 179 1.2 4.8 1.2 38.8 1.2 93.8"/>
<circle cx="304.4" cy="272.0" r="208.05" pathLength="320" stroke="#0030d2" stroke-dasharray="0 130 1.2 46.8 1.2 1.8 2.2 38.8 1.2 30.8 1.2 64.8"/>
<circle cx="304.4" cy="272.0" r="208.05" pathLength="320" stroke="#0010cb" stroke-dasharray="0 152 2.2 21.8 1.2 42.8 2.2 7.8 1.2 88.8"/>
<circle cx="304.4" cy="272.0" r="208.05" pathLength="320" stroke="#1000cb" stroke-dasharray="0 31 1.2 144.8 1.2 9.8 1.2 13.8 1.2 0.8 1.2 2.8 1.2 8.8 1.2 6.8 2.2 90.8"/>
<circle cx="304.4" cy="272.0" r="208.05" pathLength="320" stroke="#3000d2" stroke-dasharray="0 29 1.2 175.8 3.2 16.8 1.2 27.8 1.2 63.8"/>
<circle cx="304.4" cy="272.0" r="208.05" pathLength="320" stroke="#5000d9" stroke-dasharray="0 30 1.2 115.8 2.2 1.8 1.2 51.8 1.2 4.8 1.2 2.8 1.2 42.8 1.2 60.8"/>
<circle cx="304.4" cy="272.0" r="208.05" pathLength="320" stroke="#7000e0" stroke-dasharray="0 146 1.2 63.8 1.2 16.8 1.2 26.8 1.2 61.8"/>
<circle cx="304.4" cy="272.0" r="208.05" pathLength="320" stroke="#8f00e7" stroke-dasharray="0 131 1.2 12.8 1.2 2.8 1.2 35.8 1.2 25.8 1.2 0.8 1.2 1.8 1.2 100.8"/>
<circle cx="304.4" cy="272.0" r="208.05" pathLength="320" stroke="#af00ee" stroke-dasharray="0 144 1.2 4.8 1.2 64.8 1.2 38.8 1.2 62.8"/>
<circle cx="304.4" cy="272.0" r="208.05" pathLength="320" stroke="#cf00f5" stroke-dasharray="0 132 1.2 78.8 1.2 106.8"/>
<circle cx="304.4" cy="272.0" r="208.05" pathLength="320" stroke="#ef00fc" stroke-dasharray="0 133 11.2 42.8 1.2 28.8 1.2 101.8"/>
</g>
<g stroke-width="6.80">
<circle cx="304.4" cy="272.0" r="202.02" pathLength="320" stroke="#ff3000" stroke-dasharray="0 9 1.2 4.8 2.2 0.8 1.2 0.8 1.2 2.8 1.2 23.8 1.2 21.8 1.2 10.8 1.2 1.8 2.2 187.8 1.2 5.8 2.2 3.8 2.2 23.8 1.2 0.8 1.2 0.8"/>
<circle cx="304.4" cy="272.0" r="202.02" pathLength="320" stroke="#ff5000" stroke-dasharray="0 8 1.2 1.8 1.2 0.8 1.2 31.8 1.2 26.8 1.2 3.8 1.2 9.8 1.2 1.8 1.2 143.8 1.2 0.8 1.2 53.8 1.2 11.8 1.2 10.8"/>
<circle cx="304.4" cy="272.0" r="202.02" pathLength="320" stroke="#ff7000" stroke-dasharray="0 19 1.2 65.8 1.2 1.8 1.2 3.8 1.2 61.8 1.2 8.8 1.2 64.8 1.2 2.8 1.2 0.8 1.2 79.8"/>
<circle cx="304.4" cy="272.0" r="202.02" pathLength="320" stroke="#ff8f00" stroke-dasharray="0 12 1.2 31.8 1.2 35.8 2.2 0.8 1.2 17.8 1.2 62.8 1.2 0.8 1.2 60.8 1.2 47.8 1.2 13.8 1.2 21.8 1.2 399.8"/>
<circle cx="304.4" cy="272.0" r="202.02" pathLength="320" stroke="#ffaf00" stroke-dasharray="0 50 1.2 19.8 1.2 22.8 2.2 62.8 1.2 7.8 1.2 65.8 1.2 6.8 1.2 30.8 1.2 19.8 1.2 11.8 1.2 8.8"/>
<circle cx="304.4" cy="272.0" r="202.02" pathLength="320" stroke="#ffcf00" stroke-dasharray="1.2 79.8 1.2 20.8 1.2 61.8 1.2 3.8 1.2 147.8"/>
<circle cx="304.4" cy="272.0" r="202.02" pathLength="320" stroke="#ffef00" stroke-dasharray="0 25 1.2 17.8 1.2 51.8 1.2 135.8 1.2 84.8"/>
<circle cx="304.4" cy="272.0" r="202.02" pathLength="320" stroke="#effd00" stroke-dasharray="0 7 1.2 42.8 1.2 27.8 1.2 17.8 4.2 52.8 1.2 5.8 2.2 69.8 1.2 38.8 1.2 21.8 1.2 20.8"/>
<circle cx="304.4" cy="272.0" r="202.02" pathLength="320" stroke="#cffa00" stroke-dasharray="0 1 1.2 67.8 1.2 26.8 1.2 5.8 1.2 19.8 2.2 36.8 1.2 78.8 1.2 60.8 1.2 11.8"/>
<circle cx="304.4" cy="272.0" r="202.02" pathLength="320" stroke="#aff700" stroke-dasharray="0 6 1.2 35.8 1.2 7.8 2.2 73.8 1.2 141.8 1.2 1.8 1.2 23.8 1.2 1.8 1.2 16.8"/>
<circle cx="304.4" cy="272.0" r="202.02" pathLength="320" stroke="#8ff400" stroke-dasharray="0 5 1.2 154.8 1.2 137.8 1.2 18.8"/>
<circle cx="304.4" cy="272.0" r="202.02" pathLength="320" stroke="#70f100" stroke-dasharray="0 42 1.2 25.8 1.2 101.8 1.2 92.8 3.2 0.8 1.2 29.8 1.2 12.8 1.2 3.8"/>
<circle cx="304.4" cy="272.0" r="202.02" pathLength="320" stroke="#50ee00" stroke-dasharray="0 2 3.2 34.8 1.2 12.8 1.2 50.8 1.2 13.8 1.2 2.8 1.2 35.8 1.2 101.8 1.2 2.8 1.2 1.8 2.2 28.8 1.2 6.8 1.2 7.8"/>
<circle cx="304.4" cy="272.0" r="202.02" pathLength="320" stroke="#30eb00" stroke-dasharray="0 39 1.2 0.8 1.2 25.8 1.2 37.8 1.2 197.8 1.2 12.8"/>
<circle cx="304.4" cy="272.0" r="202.02" pathLength="320" stroke="#10e800" stroke-dasharray="0 67 1.2 51.8 1.2 0.8 1.2 107.8 1.2 13.8 1.2 16.8 1.2 38.8 1.2 14.8"/>
<circle cx="304.4" cy="272.0" r="202.02" pathLength="320" stroke="#00e810" stroke-dasharray="0 26 1.2 145.8 1.2 130.8 1.2 13.8"/>
<circle cx="304.4" cy="272.0" r="202.02" pathLength="320" stroke="#00eb30" stroke-dasharray="0 55 1.2 9.8 1.2 51.8 1.2 34.8 1.2 105.8 1.2 56.8"/>
<circle cx="304.4" cy="272.0" r="202.02" pathLength="320" stroke="#00ee50" stroke-dasharray="0 38 1.2 25.8 1.2 41.8 1.2 14.8 1.2 135.8 1.2 0.8 1.2 47.8 1.2 0.8 1.2 4.8"/>
<circle cx="304.4" cy="272.0" r="202.02" pathLength="320" stroke="#00f170" stroke-dasharray="0 62 1.2 59.8 1.2 4.8 1.2 43.8 1.2 144.8"/>
<circle cx="304.4" cy="272.0" r="202.02" pathLength="320" stroke="#00f48f" stroke-dasharray="0 34 2.2 19.8 1.2 5.8 2.2 52.8 1.2 71.8 2.2 5.8 1.2 112.8 1.2 5.8"/>
<circle cx="304.4" cy="272.0" r="202.02" pathLength="320" stroke="#00f7af" stroke-dasharray="0 33 1.2 1.8 2.2 22.8 1.2 46.8 1.2 6.8 1.2 71.8 1.2 1.8 1.2 55.8 1.2 68.8"/>
<circle cx="304.4" cy="272.0" r="202.02" pathLength="320" stroke="#00facf" stroke-dasharray="0 116 1.2 76.8 1.2 51.8 1.2 0.8 1.2 9.8 1.2 58.8"/>
<circle cx="304.4" cy="272.0" r="202.02" pathLength="320" stroke="#00fdef" stroke-dasharray="0 32 1.2 23.8 1.2 0.8 2.2 48.8 1.2 2.8 2.2 78.8 2.2 0.8 1.2 120.8"/>
<circle cx="304.4" cy="272.0" r="202.02" pathLength="320" stroke="#00effc" stroke-dasharray="0 29 1.2 144.8 1.2 6.8 1.2 15.8 1.2 46.8 1.2 1.8 1.2 67.8"/>
<circle cx="304.4" cy="272.0" r="202.02" pathLength="320" stroke="#00cff5" stroke-dasharray="0 27 1.2 29.8 1.2 53.8 1.2 39.8 1.2 164.8"/>
<circle cx="304.4" cy="272.0" r="202.02" pathLength="320" stroke="#00afee" stroke-dasharray="0 28 1.2 0.8 1.2 79.8 1.2 69.8 1.2 13.8 1.2 121.8"/>
<circle cx="304.4" cy="272.0" r="202.02" pathLength="320" stroke="#008fe7" stroke-dasharray="0 31 1.2 151.8 1.2 3.8 1.2 10.8 1.2 2.8 1.2 52.8 1.2 59.8"/>
<circle cx="304.4" cy="272.0" r="202.02" pathLength="320" stroke="#0070e0" stroke-dasharray="0 112 1.2 16.8 1.2 21.8 1.2 47.8 1.2 26.8 1.2 88.8"/>
<circle cx="304.4" cy="272.0" r="202.02" pathLength="320" stroke="#0050d9" stroke-dasharray="0 152 1.2 22.8 1.2 3.8 1.2 21.8 1.2 15.8 2.2 28.8 1.2 66.8"/>
<circle cx="304.4" cy="272.0" r="202.02" pathLength="320" stroke="#0030d2" stroke-dasharray="0 185 1.2 16.8 1.2 18.8 1.2 95.8"/>
<circle cx="304.4" cy="272.0" r="202.02" pathLength="320" stroke="#0010cb" stroke-dasharray="0 131 1.2 73.8 1.2 0.8 2.2 8.8 2.2 31.8 1.2 3.8 1.2 60.8"/>
<circle cx="304.4" cy="272.0" r="202.02" pathLength="320" stroke="#1000cb" stroke-dasharray="0 151 1.2 54.8 1.2 1.8 1.2 12.8 1.2 94.8"/>
<circle cx="304.4" cy="272.0" r="202.02" pathLength="320" stroke="#3000d2" stroke-dasharray="0 148 1.2 30.8 1.2 43.8 3.2 91.8"/>
<circle cx="304.4" cy="272.0" r="202.02" pathLength="320" stroke="#5000d9" stroke-dasharray="0 132 1.2 2.8 1.2 9.8 1.2 28.8 1.2 0.8 1.2 30.8 1.2 41.8 1.2 1.8 1.2 61.8"/>
<circle cx="304.4" cy="272.0" r="202.02" pathLength="320" stroke="#7000e0" stroke-dasharray="0 137 1.2 6.8 2.2 1.8 1.2 27.8 1.2 6.8 1.2 0.8 1.2 38.8 1.2 90.8"/>
<circle cx="304.4" cy="272.0" r="202.02" pathLength="320" stroke="#8f00e7" stroke-dasharray="0 140 1.2 72.8 1.2 2.8 1.2 9.8 1.2 24.8 2.2 62.8"/>
<circle cx="304.4" cy="272.0" r="202.02" pathLength="320" stroke="#af00ee" stroke-dasharray="0 133 1.2 4.8 1.2 0.8 1.2 7.8 1.2 168.8"/>
<circle cx="304.4" cy="272.0" r="202.02" pathLength="320" stroke="#cf00f5" stroke-dasharray="0 138 1.2 3.8 2.2 41.8 1.2 24.8 1.2 105.8"/>
<circle cx="304.4" cy="272.0" r="202.02" pathLength="320" stroke="#ef00fc" stroke-dasharray="0 134 2.2 5.8 1.2 68.8 1.2 1.8 3.2 101.8"/>
</g>
<g stroke-width="6.76">
<circle cx="304.4" cy="272.0" r="196.05" pathLength="320" stroke="#ff3000" stroke-dasharray="0 13 1.2 2.8 2.2 0.8 1.2 1.8 1.2 21.8 2.2 24.8 1.2 83.8 2.2 5.8 2.2 71.8 1.2 39.8 2.2 1.8 1.2 7.8 1.2 23.8 1.2 399.8"/>
<circle cx="304.4" cy="272.0" r="196.05" pathLength="320" stroke="#ff5000" stroke-dasharray="0 19 1.2 61.8 1.2 73.8 1.2 84.8 1.2 45.8 2.2 25.8 1.2 0.8"/>
<circle cx="304.4" cy="272.0" r="196.05" pathLength="320" stroke="#ff7000" stroke-dasharray="0 12 1.2 1.8 1.2 28.8 1.2 25.8 1.2 6.8 2.2 0.8 2.2 2.8 2.2 145.8 1.2 39.8 1.2 18.8 2.2 20.8"/>
<circle cx="304.4" cy="272.0" r="196.05" pathLength="320" stroke="#ff8f00" stroke-dasharray="1.2 6.8 1.2 40.8 1.2 33.8 3.2 79.8 1.2 0.8 1.2 148.8"/>
<circle cx="304.4" cy="272.0" r="196.05" pathLength="320" stroke="#ffaf00" stroke-dasharray="0 9 3.2 3.8 1.2 72.8 1.2 68.8 1.2 3.8 1.2 4.8 1.2 61.8 1.2 60.8 1.2 19.8 1.2 1.8"/>
<circle cx="304.4" cy="272.0" r="196.05" pathLength="320" stroke="#ffcf00" stroke-dasharray="0 7 1.2 15.8 1.2 18.8 1.2 110.8 1.2 11.8 1.2 124.8 1.2 2.8 1.2 19.8"/>
<circle cx="304.4" cy="272.0" r="196.05" pathLength="320" stroke="#ffef00" stroke-dasharray="0 51 2.2 17.8 1.2 158.8 1.2 2.8 1.2 25.8 1.2 12.8 1.2 42.8"/>
<circle cx="304.4" cy="272.0" r="196.05" pathLength="320" stroke="#effd00" stroke-dasharray="0 91 1.2 0.8 2.2 68.8 1.2 97.8 1.2 55.8"/>
<circle cx="304.4" cy="272.0" r="196.05" pathLength="320" stroke="#cffa00" stroke-dasharray="0 1 1.2 40.8 1.2 116.8 1.2 9.8 1.2 90.8 1.2 42.8 2.2 9.8"/>
<circle cx="304.4" cy="272.0" r="196.05" pathLength="320" stroke="#aff700" stroke-dasharray="0 70 1.2 20.8 1.2 2.8 2.2 64.8 1.2 79.8 1.2 64.8 1.2 8.8"/>
<circle cx="304.4" cy="272.0" r="196.05" pathLength="320" stroke="#8ff400" stroke-dasharray="0 2 1.2 2.8 1.2 17.8 1.2 26.8 1.2 40.8 1.2 168.8 1.2 53.8"/>
<circle cx="304.4" cy="272.0" r="196.05" pathLength="320" stroke="#70f100" stroke-dasharray="0 3 1.2 150.8 1.2 5.8 1.2 97.8 1.2 44.8 1.2 2.8 1.2 3.8 1.2 2.8"/>
<circle cx="304.4" cy="272.0" r="196.05" pathLength="320" stroke="#50ee00" stroke-dasharray="0 67 1.2 31.8 1.2 71.8 1.2 96.8 1.2 2.8 1.2 43.8"/>
<circle cx="304.4" cy="272.0" r="196.05" pathLength="320" stroke="#30eb00" stroke-dasharray="0 4 2.2 35.8 1.2 25.8 1.2 27.8 2.2 2.8 1.2 125.8 1.2 42.8 1.2 44.8"/>
<circle cx="304.4" cy="272.0" r="196.05" pathLength="320" stroke="#10e800" stroke-dasharray="0 66 1.2 0.8 1.2 31.8 2.2 0.8 1.2 68.8 1.2 19.8 1.2 48.8 1.2 19.8 1.2 4.8 2.2 37.8 1.2 6.8"/>
<circle cx="304.4" cy="272.0" r="196.05" pathLength="320" stroke="#00e810" stroke-dasharray="0 41 1.2 22.8 1.2 203.8 1.2 48.8"/>
<circle cx="304.4" cy="272.0" r="196.05" pathLength="320" stroke="#00eb30" stroke-dasharray="0 107 1.2 66.8 1.2 15.8 3.2 124.8"/>
<circle cx="304.4" cy="272.0" r="196.05" pathLength="320" stroke="#00ee50" stroke-dasharray="0 26 1.2 10.8 1.2 0.8 1.2 12.8 1.2 6.8 1.2 0.8 1.2 42.8 1.2 18.8 2.2 23.8 1.2 35.8 1.2 53.8 1.2 72.8"/>
<circle cx="304.4" cy="272.0" r="196.05" pathLength="320" stroke="#00f170" stroke-dasharray="0 37 1.2 0.8 1.2 22.8 1.2 40.8 1.2 46.8 1.2 41.8 1.2 1.8 1.2 28.8 1.2 20.8 1.2 14.8 1.2 0.8 1.2 49.8"/>
<circle cx="304.4" cy="272.0" r="196.05" pathLength="320" stroke="#00f48f" stroke-dasharray="0 29 1.2 2.8 1.2 26.8 1.2 43.8 1.2 12.8 2.2 7.8 1.2 68.8 1.2 45.8 2.2 10.8 1.2 51.8 1.2 0.8 1.2 3.8"/>
<circle cx="304.4" cy="272.0" r="196.05" pathLength="320" stroke="#00f7af" stroke-dasharray="0 28 1.2 2.8 1.2 0.8 1.2 0.8 1.2 81.8 1.2 6.8 1.2 23.8 1.2 95.8 2.2 48.8 1.2 4.8 1.2 12.8"/>
<circle cx="304.4" cy="272.0" r="196.05" pathLength="320" stroke="#00facf" stroke-dasharray="0 30 1.2 3.8 1.2 22.8 2.2 55.8 1.2 63.8 1.2 14.8 1.2 1.8 1.2 25.8 1.2 38.8 1.2 44.8 1.2 4.8"/>
<circle cx="304.4" cy="272.0" r="196.05" pathLength="320" stroke="#00fdef" stroke-dasharray="0 27 1.2 29.8 1.2 49.8 1.2 7.8 1.2 6.8 1.2 48.8 1.2 3.8 1.2 0.8 1.2 74.8 1.2 59.8"/>
<circle cx="304.4" cy="272.0" r="196.05" pathLength="320" stroke="#00effc" stroke-dasharray="0 31 1.2 83.8 1.2 4.8 1.2 66.8 1.2 5.8 1.2 3.8 1.2 1.8 1.2 113.8"/>
<circle cx="304.4" cy="272.0" r="196.05" pathLength="320" stroke="#00cff5" stroke-dasharray="0 131 1.2 119.8 1.2 66.8"/>
<circle cx="304.4" cy="272.0" r="196.05" pathLength="320" stroke="#00afee" stroke-dasharray="0 113 3.2 8.8 1.2 53.8 1.2 21.8 1.2 4.8 1.2 11.8 2.2 2.8 1.2 29.8 1.2 60.8"/>
<circle cx="304.4" cy="272.0" r="196.05" pathLength="320" stroke="#008fe7" stroke-dasharray="0 55 1.2 53.8 2.2 71.8 1.2 18.8 1.2 2.8 1.2 110.8"/>
<circle cx="304.4" cy="272.0" r="196.05" pathLength="320" stroke="#0070e0" stroke-dasharray="0 57 1.2 53.8 1.2 10.8 1.2 25.8 1.2 26.8 1.2 4.8 1.2 19.8 1.2 13.8 1.2 82.8 1.2 13.8"/>
<circle cx="304.4" cy="272.0" r="196.05" pathLength="320" stroke="#0050d9" stroke-dasharray="0 123 1.2 52.8 1.2 10.8 1.2 19.8 1.2 12.8 1.2 31.8 1.2 61.8"/>
<circle cx="304.4" cy="272.0" r="196.05" pathLength="320" stroke="#0030d2" stroke-dasharray="0 56 1.2 128.8 1.2 19.8 1.2 11.8 1.2 79.8 1.2 17.8"/>
<circle cx="304.4" cy="272.0" r="196.05" pathLength="320" stroke="#0010cb" stroke-dasharray="0 132 1.2 44.8 1.2 7.8 1.2 30.8 1.2 32.8 1.2 65.8"/>
<circle cx="304.4" cy="272.0" r="196.05" pathLength="320" stroke="#1000cb" stroke-dasharray="0 133 1.2 13.8 1.2 38.8 1.2 28.8 1.2 6.8 1.2 76.8 1.2 14.8"/>
<circle cx="304.4" cy="272.0" r="196.05" pathLength="320" stroke="#3000d2" stroke-dasharray="0 143 1.2 4.8 2.2 59.8 1.2 43.8 1.2 45.8 1.2 15.8"/>
<circle cx="304.4" cy="272.0" r="196.05" pathLength="320" stroke="#5000d9" stroke-dasharray="0 217 1.2 83.8 1.2 16.8"/>
<circle cx="304.4" cy="272.0" r="196.05" pathLength="320" stroke="#7000e0" stroke-dasharray="0 140 1.2 2.8 1.2 79.8 1.2 27.8 1.2 64.8"/>
<circle cx="304.4" cy="272.0" r="196.05" pathLength="320" stroke="#8f00e7" stroke-dasharray="0 141 2.2 3.8 1.2 63.8 2.2 40.8 1.2 63.8"/>
<circle cx="304.4" cy="272.0" r="196.05" pathLength="320" stroke="#af00ee" stroke-dasharray="0 134 1.2 0.8 1.2 76.8 1.2 104.8"/>
<circle cx="304.4" cy="272.0" r="196.05" pathLength="320" stroke="#cf00f5" stroke-dasharray="0 137 1.2 0.8 1.2 74.8 1.2 103.8"/>
<circle cx="304.4" cy="272.0" r="196.05" pathLength="320" stroke="#ef00fc" stroke-dasharray="0 135 1.2 1.8 1.2 5.8 2.2 68.8 1.2 102.8"/>
</g>
<g stroke-width="6.71">
<circle cx="304.4" cy="272.0" r="190.11" pathLength="320" stroke="#ff3000" stroke-dasharray="0 45 3.2 33.8 1.2 74.8 1.2 128.8 1.2 30.8"/>
<circle cx="304.4" cy="272.0" r="190.11" pathLength="320" stroke="#ff5000" stroke-dasharray="0 12 1.2 65.8 2.2 75.8 1.2 0.8 2.2 7.8 1.2 59.8 4.2 3.8 2.2 0.8 1.2 77.8"/>
<circle cx="304.4" cy="272.0" r="190.11" pathLength="320" stroke="#ff7000" stroke-dasharray="0 15 2.2 4.8 1.2 137.8 1.2 5.8 1.2 0.8 1.2 62.8 1.2 1.8 1.2 1.8 1.2 53.8 1.2 23.8"/>
<circle cx="304.4" cy="272.0" r="190.11" pathLength="320" stroke="#ff8f00" stroke-dasharray="0 44 1.2 30.8 1.2 84.8 5.2 3.8 2.2 61.8 2.2 24.8 1.2 56.8"/>
<circle cx="304.4" cy="272.0" r="190.11" pathLength="320" stroke="#ffaf00" stroke-dasharray="0 23 1.2 25.8 1.2 21.8 1.2 2.8 2.2 3.8 1.2 82.8 1.2 4.8 1.2 145.8"/>
<circle cx="304.4" cy="272.0" r="190.11" pathLength="320" stroke="#ffcf00" stroke-dasharray="0 11 1.2 11.8 1.2 46.8 1.2 0.8 2.2 7.8 2.2 142.8 1.2 12.8 1.2 75.8"/>
<circle cx="304.4" cy="272.0" r="190.11" pathLength="320" stroke="#ffef00" stroke-dasharray="0 25 1.2 147.8 1.2 85.8 1.2 57.8"/>
<circle cx="304.4" cy="272.0" r="190.11" pathLength="320" stroke="#effd00" stroke-dasharray="0 9 2.2 74.8 1.2 8.8 1.2 58.8 1.2 105.8 1.2 13.8 1.2 40.8"/>
<circle cx="304.4" cy="272.0" r="190.11" pathLength="320" stroke="#cffa00" stroke-dasharray="0 26 1.2 65.8 3.2 223.8"/>
<circle cx="304.4" cy="272.0" r="190.11" pathLength="320" stroke="#aff700" stroke-dasharray="0 7 2.2 33.8 1.2 52.8 1.2 221.8"/>
<circle cx="304.4" cy="272.0" r="190.11" pathLength="320" stroke="#8ff400" stroke-dasharray="0 27 1.2 22.8 1.2 18.8 1.2 19.8 1.2 81.8 1.2 16.8 1.2 33.8 1.2 70.8 1.2 11.8 1.2 5.8"/>
<circle cx="304.4" cy="272.0" r="190.11" pathLength="320" stroke="#70f100" stroke-dasharray="0 6 1.2 79.8 1.2 0.8 3.2 61.8 1.2 38.8 2.2 80.8 1.2 32.8 2.2 5.8 1.2 399.8"/>
<circle cx="304.4" cy="272.0" r="190.11" pathLength="320" stroke="#50ee00" stroke-dasharray="2.2 37.8 1.2 56.8 2.2 52.8 1.2 0.8 1.2 35.8 1.2 124.8 1.2 0.8"/>
<circle cx="304.4" cy="272.0" r="190.11" pathLength="320" stroke="#30eb00" stroke-dasharray="0 5 1.2 21.8 1.2 7.8 1.2 2.8 2.2 26.8 1.2 16.8 1.2 10.8 1.2 94.8 1.2 62.8 1.2 2.8 1.2 44.8 1.2 8.8"/>
<circle cx="304.4" cy="272.0" r="190.11" pathLength="320" stroke="#10e800" stroke-dasharray="0 2 1.2 0.8 1.2 23.8 1.2 7.8 2.2 11.8 1.2 12.8 1.2 1.8 1.2 105.8 1.2 3.8 2.2 7.8 1.2 5.8 1.2 51.8 1.2 23.8 1.2 42.8"/>
<circle cx="304.4" cy="272.0" r="190.11" pathLength="320" stroke="#00e810" stroke-dasharray="0 3 1.2 31.8 1.2 27.8 1.2 0.8 1.2 35.8 1.2 46.8 1.2 45.8 1.2 73.8 1.2 38.8 1.2 4.8"/>
<circle cx="304.4" cy="272.0" r="190.11" pathLength="320" stroke="#00eb30" stroke-dasharray="0 30 1.2 2.8 2.2 31.8 1.2 35.8 2.2 89.8 1.2 76.8 1.2 32.8 1.2 6.8 1.2 1.8"/>
<circle cx="304.4" cy="272.0" r="190.11" pathLength="320" stroke="#00ee50" stroke-dasharray="0 101 1.2 4.8 1.2 91.8 2.2 24.8 1.2 15.8 1.2 13.8 1.2 12.8 1.2 45.8"/>
<circle cx="304.4" cy="272.0" r="190.11" pathLength="320" stroke="#00f170" stroke-dasharray="0 31 1.2 31.8 1.2 37.8 1.2 25.8 1.2 45.8 1.2 1.8 1.2 8.8 1.2 10.8 1.2 68.8 1.2 34.8 1.2 10.8"/>
<circle cx="304.4" cy="272.0" r="190.11" pathLength="320" stroke="#00f48f" stroke-dasharray="0 32 2.2 18.8 1.2 128.8 1.2 67.8 1.2 17.8 1.2 43.8 1.2 2.8"/>
<circle cx="304.4" cy="272.0" r="190.11" pathLength="320" stroke="#00f7af" stroke-dasharray="0 108 1.2 19.8 1.2 127.8 1.2 5.8 1.2 40.8 1.2 6.8 1.2 3.8"/>
<circle cx="304.4" cy="272.0" r="190.11" pathLength="320" stroke="#00facf" stroke-dasharray="0 61 1.2 0.8 1.2 37.8 1.2 85.8 1.2 12.8 1.2 45.8 1.2 14.8 1.2 2.8 1.2 48.8"/>
<circle cx="304.4" cy="272.0" r="190.11" pathLength="320" stroke="#00fdef" stroke-dasharray="0 54 1.2 4.8 1.2 0.8 1.2 45.8 2.2 39.8 1.2 26.8 1.2 3.8 2.2 22.8 1.2 56.8 1.2 0.8 1.2 49.8"/>
<circle cx="304.4" cy="272.0" r="190.11" pathLength="320" stroke="#00effc" stroke-dasharray="0 59 1.2 67.8 1.2 1.8 1.2 53.8 1.2 16.8 1.2 62.8 1.2 31.8 1.2 17.8"/>
<circle cx="304.4" cy="272.0" r="190.11" pathLength="320" stroke="#00cff5" stroke-dasharray="0 178 1.2 7.8 2.2 20.8 1.2 11.8 1.2 20.8 1.2 59.8 1.2 12.8"/>
<circle cx="304.4" cy="272.0" r="190.11" pathLength="320" stroke="#00afee" stroke-dasharray="0 111 1.2 7.8 1.2 83.8 1.2 1.8 1.2 16.8 1.2 18.8 1.2 72.8"/>
<circle cx="304.4" cy="272.0" r="190.11" pathLength="320" stroke="#008fe7" stroke-dasharray="0 58 1.2 61.8 1.2 99.8 1.2 29.8 1.2 2.8 1.2 61.8"/>
<circle cx="304.4" cy="272.0" r="190.11" pathLength="320" stroke="#0070e0" stroke-dasharray="0 55 1.2 0.8 1.2 60.8 1.2 6.8 1.2 21.8 1.2 59.8 1.2 6.8 1.2 26.8 1.2 71.8"/>
<circle cx="304.4" cy="272.0" r="190.11" pathLength="320" stroke="#0050d9" stroke-dasharray="0 56 1.2 54.8 1.2 104.8 1.2 0.8 2.2 1.8 1.2 23.8 1.2 5.8 1.2 47.8 1.2 13.8"/>
<circle cx="304.4" cy="272.0" r="190.11" pathLength="320" stroke="#0030d2" stroke-dasharray="0 126 1.2 4.8 1.2 72.8 2.2 39.8 1.2 70.8"/>
<circle cx="304.4" cy="272.0" r="190.11" pathLength="320" stroke="#0010cb" stroke-dasharray="0 113 1.2 3.8 1.2 2.8 1.2 1.8 1.2 22.8 1.2 61.8 1.2 11.8 1.2 27.8 2.2 63.8"/>
<circle cx="304.4" cy="272.0" r="190.11" pathLength="320" stroke="#1000cb" stroke-dasharray="0 124 1.2 87.8 1.2 89.8 1.2 14.8"/>
<circle cx="304.4" cy="272.0" r="190.11" pathLength="320" stroke="#3000d2" stroke-dasharray="0 116 2.2 4.8 1.2 8.8 2.2 12.8 1.2 67.8 1.2 83.8 1.2 16.8"/>
<circle cx="304.4" cy="272.0" r="190.11" pathLength="320" stroke="#5000d9" stroke-dasharray="0 114 2.2 203.8"/>
<circle cx="304.4" cy="272.0" r="190.11" pathLength="320" stroke="#7000e0" stroke-dasharray="0 142 4.2 0.8 1.2 65.8 1.2 0.8 1.2 85.8 1.2 15.8"/>
<circle cx="304.4" cy="272.0" r="190.11" pathLength="320" stroke="#8f00e7" stroke-dasharray="0 215 1.2 103.8"/>
<circle cx="304.4" cy="272.0" r="190.11" pathLength="320" stroke="#af00ee" stroke-dasharray="0 135 1.2 3.8 2.2 3.8 1.2 172.8"/>
<circle cx="304.4" cy="272.0" r="190.11" pathLength="320" stroke="#ef00fc" stroke-dasharray="0 136 4.2 179.8"/>
</g>
<g stroke-width="6.67">
<circle cx="304.4" cy="272.0" r="184.22" pathLength="320" stroke="#ff3000" stroke-dasharray="0 17 2.2 56.8 1.2 1.8 1.2 83.8 1.2 7.8 1.2 66.8 2.2 36.8 1.2 0.8 1.2 9.8 1.2 5.8 1.2 18.8"/>
<circle cx="304.4" cy="272.0" r="184.22" pathLength="320" stroke="#ff5000" stroke-dasharray="0 16 1.2 27.8 1.2 2.8 1.2 109.8 1.2 3.8 2.2 1.8 1.2 1.8 1.2 0.8 1.2 105.8 1.2 7.8 2.2 3.8 1.2 22.8"/>
<circle cx="304.4" cy="272.0" r="184.22" pathLength="320" stroke="#ff7000" stroke-dasharray="0 21 1.2 23.8 1.2 0.8 1.2 32.8 1.2 84.8 1.2 124.8 2.2 23.8"/>
<circle cx="304.4" cy="272.0" r="184.22" pathLength="320" stroke="#ff8f00" stroke-dasharray="0 44 1.2 1.8 1.2 31.8 2.2 0.8 1.2 82.8 1.2 110.8 1.2 20.8 1.2 17.8"/>
<circle cx="304.4" cy="272.0" r="184.22" pathLength="320" stroke="#ffaf00" stroke-dasharray="0 12 1.2 12.8 1.2 56.8 1.2 71.8 3.2 14.8 1.2 60.8 2.2 0.8 1.2 78.8"/>
<circle cx="304.4" cy="272.0" r="184.22" pathLength="320" stroke="#ffcf00" stroke-dasharray="0 75 1.2 8.8 1.2 12.8 1.2 91.8 2.2 44.8 1.2 79.8"/>
<circle cx="304.4" cy="272.0" r="184.22" pathLength="320" stroke="#ffef00" stroke-dasharray="0 25 1.2 0.8 1.2 21.8 1.2 268.8"/>
<circle cx="304.4" cy="272.0" r="184.22" pathLength="320" stroke="#effd00" stroke-dasharray="0 22 1.2 0.8 1.2 17.8 1.2 28.8 2.2 24.8 1.2 74.8 1.2 13.8 1.2 1.8 1.2 40.8 1.2 23.8 2.2 56.8"/>
<circle cx="304.4" cy="272.0" r="184.22" pathLength="320" stroke="#cffa00" stroke-dasharray="0 23 1.2 12.8 3.2 45.8 1.2 8.8 1.2 0.8 1.2 56.8 1.2 162.8"/>
<circle cx="304.4" cy="272.0" r="184.22" pathLength="320" stroke="#aff700" stroke-dasharray="0 11 1.2 23.8 1.2 34.8 1.2 19.8 1.2 2.8 1.2 91.8 1.2 3.8 1.2 63.8 1.2 58.8"/>
<circle cx="304.4" cy="272.0" r="184.22" pathLength="320" stroke="#8ff400" stroke-dasharray="0 28 2.2 61.8 1.2 0.8 2.2 4.8 1.2 74.8 1.2 3.8 1.2 47.8 2.2 1.8 1.2 75.8 1.2 6.8"/>
<circle cx="304.4" cy="272.0" r="184.22" pathLength="320" stroke="#70f100" stroke-dasharray="0 10 1.2 18.8 1.2 8.8 1.2 110.8 2.2 0.8 1.2 24.8 1.2 6.8 1.2 5.8 1.2 61.8 1.2 17.8 1.2 33.8 1.2 5.8"/>
<circle cx="304.4" cy="272.0" r="184.22" pathLength="320" stroke="#50ee00" stroke-dasharray="0 9 1.2 40.8 1.2 34.8 1.2 2.8 1.2 61.8 1.2 74.8 1.2 1.8 1.2 67.8 1.2 16.8"/>
<circle cx="304.4" cy="272.0" r="184.22" pathLength="320" stroke="#30eb00" stroke-dasharray="0 7 2.2 21.8 3.2 0.8 1.2 4.8 2.2 23.8 5.2 16.8 2.2 11.8 1.2 78.8 1.2 3.8 1.2 44.8 1.2 16.8 1.2 9.8 1.2 55.8"/>
<circle cx="304.4" cy="272.0" r="184.22" pathLength="320" stroke="#10e800" stroke-dasharray="0 34 1.2 52.8 1.2 12.8 1.2 0.8 1.2 79.8 1.2 10.8 1.2 44.8 1.2 66.8 1.2 7.8"/>
<circle cx="304.4" cy="272.0" r="184.22" pathLength="320" stroke="#00e810" stroke-dasharray="0 6 1.2 58.8 1.2 83.8 1.2 27.8 1.2 2.8 1.2 0.8 2.2 9.8 1.2 58.8 1.2 54.8 1.2 4.8"/>
<circle cx="304.4" cy="272.0" r="184.22" pathLength="320" stroke="#00eb30" stroke-dasharray="0 1 1.2 2.8 1.2 171.8 1.2 71.8 1.2 18.8 1.2 4.8 1.2 41.8"/>
<circle cx="304.4" cy="272.0" r="184.22" pathLength="320" stroke="#00ee50" stroke-dasharray="0 52 1.2 11.8 1.2 63.8 1.2 67.8 1.2 1.8 1.2 49.8 1.2 21.8 1.2 42.8"/>
<circle cx="304.4" cy="272.0" r="184.22" pathLength="320" stroke="#00f170" stroke-dasharray="1.2 0.8 1.2 0.8 1.2 99.8 1.2 72.8 1.2 20.8 1.2 26.8 1.2 41.8 1.2 46.8"/>
<circle cx="304.4" cy="272.0" r="184.22" pathLength="320" stroke="#00f48f" stroke-dasharray="0 3 1.2 59.8 1.2 65.8 1.2 67.8 1.2 1.8 1.2 52.8 1.2 5.8 1.2 1.8 2.2 0.8 1.2 3.8 1.2 33.8 1.2 3.8 1.2 3.8"/>
<circle cx="304.4" cy="272.0" r="184.22" pathLength="320" stroke="#00f7af" stroke-dasharray="0 269 1.2 45.8 1.2 2.8"/>
<circle cx="304.4" cy="272.0" r="184.22" pathLength="320" stroke="#00facf" stroke-dasharray="0 53 1.2 74.8 1.2 188.8 1.2 399.8"/>
<circle cx="304.4" cy="272.0" r="184.22" pathLength="320" stroke="#00fdef" stroke-dasharray="0 63 1.2 41.8 1.2 42.8 1.2 76.8 1.2 73.8 1.2 12.8 2.2 0.8"/>
<circle cx="304.4" cy="272.0" r="184.22" pathLength="320" stroke="#00effc" stroke-dasharray="0 54 1.2 198.8 1.2 0.8 1.2 16.8 1.2 44.8"/>
<circle cx="304.4" cy="272.0" r="184.22" pathLength="320" stroke="#00cff5" stroke-dasharray="0 62 1.2 64.8 1.2 2.8 1.2 70.8 1.2 5.8 1.2 10.8 5.2 21.8 1.2 3.8 1.2 8.8 2.2 5.8 1.2 34.8 1.2 9.8"/>
<circle cx="304.4" cy="272.0" r="184.22" pathLength="320" stroke="#00afee" stroke-dasharray="0 205 1.2 2.8 2.2 94.8 1.2 12.8"/>
<circle cx="304.4" cy="272.0" r="184.22" pathLength="320" stroke="#008fe7" stroke-dasharray="0 149 1.2 55.8 1.2 97.8 1.2 0.8 1.2 11.8"/>
<circle cx="304.4" cy="272.0" r="184.22" pathLength="320" stroke="#0070e0" stroke-dasharray="0 55 1.2 151.8 1.2 2.8 1.2 90.8 1.2 2.8 1.2 10.8"/>
<circle cx="304.4" cy="272.0" r="184.22" pathLength="320" stroke="#0050d9" stroke-dasharray="0 61 1.2 44.8 1.2 2.8 1.2 14.8 1.2 19.8 1.2 57.8 1.2 13.8 1.2 20.8 1.2 74.8"/>
<circle cx="304.4" cy="272.0" r="184.22" pathLength="320" stroke="#0030d2" stroke-dasharray="0 110 1.2 137.8 1.2 69.8"/>
<circle cx="304.4" cy="272.0" r="184.22" pathLength="320" stroke="#0010cb" stroke-dasharray="0 56 1.2 1.8 2.2 50.8 1.2 19.8 1.2 12.8 1.2 97.8 2.2 71.8"/>
<circle cx="304.4" cy="272.0" r="184.22" pathLength="320" stroke="#1000cb" stroke-dasharray="0 58 1.2 53.8 1.2 11.8 1.2 89.8 3.2 27.8 1.2 70.8"/>
<circle cx="304.4" cy="272.0" r="184.22" pathLength="320" stroke="#3000d2" stroke-dasharray="0 57 1.2 60.8 1.2 13.8 1.2 77.8 1.2 1.8 1.2 2.8 1.2 23.8 1.2 73.8"/>
<circle cx="304.4" cy="272.0" r="184.22" pathLength="320" stroke="#5000d9" stroke-dasharray="0 109 1.2 3.8 1.2 2.8 1.2 0.8 1.2 3.8 1.2 193.8"/>
<circle cx="304.4" cy="272.0" r="184.22" pathLength="320" stroke="#7000e0" stroke-dasharray="0 108 1.2 7.8 1.2 25.8 1.2 69.8 1.2 4.8 1.2 97.8"/>
<circle cx="304.4" cy="272.0" r="184.22" pathLength="320" stroke="#8f00e7" stroke-dasharray="0 115 2.2 3.8 1.2 1.8 1.2 9.8 1.2 6.8 1.2 1.8 1.2 66.8 1.2 104.8"/>
<circle cx="304.4" cy="272.0" r="184.22" pathLength="320" stroke="#af00ee" stroke-dasharray="0 145 1.2 173.8"/>
<circle cx="304.4" cy="272.0" r="184.22" pathLength="320" stroke="#cf00f5" stroke-dasharray="0 123 1.2 11.8 2.2 181.8"/>
<circle cx="304.4" cy="272.0" r="184.22" pathLength="320" stroke="#ef00fc" stroke-dasharray="0 122 1.2 14.8 5.2 176.8"/>
</g>
<g stroke-width="6.64">
<circle cx="304.4" cy="272.0" r="178.36" pathLength="320" stroke="#ff3000" stroke-dasharray="0 18 1.2 20.8 2.2 0.8 1.2 2.8 2.2 25.8 1.2 85.8 1.2 1.8 2.2 1.8 1.2 1.8 1.2 1.8 1.2 124.8 1.2 17.8"/>
<circle cx="304.4" cy="272.0" r="178.36" pathLength="320" stroke="#ff5000" stroke-dasharray="0 16 1.2 26.8 1.2 3.8 1.2 116.8 1.2 5.8 1.2 0.8 1.2 13.8 2.2 47.8 2.2 45.8 2.2 0.8 3.2 2.8 1.2 20.8"/>
<circle cx="304.4" cy="272.0" r="178.36" pathLength="320" stroke="#ff7000" stroke-dasharray="0 14 2.2 25.8 1.2 35.8 1.2 17.8 1.2 60.8 1.2 6.8 1.2 3.8 1.2 15.8 1.2 99.8 1.2 2.8 3.2 0.8 2.2 18.8"/>
<circle cx="304.4" cy="272.0" r="178.36" pathLength="320" stroke="#ff8f00" stroke-dasharray="0 19 1.2 53.8 1.2 88.8 1.2 23.8 1.2 88.8 1.2 39.8"/>
<circle cx="304.4" cy="272.0" r="178.36" pathLength="320" stroke="#ffaf00" stroke-dasharray="0 39 1.2 32.8 1.2 5.8 3.2 13.8 1.2 0.8 1.2 62.8 1.2 28.8 1.2 42.8 2.2 62.8 1.2 16.8"/>
<circle cx="304.4" cy="272.0" r="178.36" pathLength="320" stroke="#ffcf00" stroke-dasharray="0 13 1.2 11.8 1.2 57.8 1.2 90.8 1.2 15.8 1.2 44.8 1.2 78.8"/>
<circle cx="304.4" cy="272.0" r="178.36" pathLength="320" stroke="#ffef00" stroke-dasharray="0 27 1.2 9.8 1.2 10.8 1.2 31.8 2.2 14.8 1.2 57.8 1.2 27.8 1.2 5.8 1.2 123.8"/>
<circle cx="304.4" cy="272.0" r="178.36" pathLength="320" stroke="#effd00" stroke-dasharray="0 20 1.2 6.8 1.2 7.8 1.2 47.8 1.2 151.8 1.2 79.8"/>
<circle cx="304.4" cy="272.0" r="178.36" pathLength="320" stroke="#cffa00" stroke-dasharray="0 12 1.2 11.8 1.2 2.8 1.2 5.8 1.2 144.8 1.2 3.8 1.2 7.8 1.2 122.8"/>
<circle cx="304.4" cy="272.0" r="178.36" pathLength="320" stroke="#aff700" stroke-dasharray="0 35 1.2 35.8 1.2 13.8 3.2 1.8 2.2 1.8 1.2 3.8 1.2 55.8 1.2 21.8 1.2 3.8 1.2 72.8 1.2 58.8"/>
<circle cx="304.4" cy="272.0" r="178.36" pathLength="320" stroke="#8ff400" stroke-dasharray="0 11 1.2 8.8 1.2 1.8 1.2 4.8 2.2 37.8 1.2 83.8 2.2 25.8 1.2 51.8 1.2 23.8 1.2 57.8"/>
<circle cx="304.4" cy="272.0" r="178.36" pathLength="320" stroke="#70f100" stroke-dasharray="0 22 1.2 10.8 1.2 33.8 1.2 20.8 1.2 1.8 2.2 55.8 1.2 0.8 1.2 1.8 1.2 19.8 1.2 4.8 2.2 72.8 1.2 59.8"/>
<circle cx="304.4" cy="272.0" r="178.36" pathLength="320" stroke="#50ee00" stroke-dasharray="0 10 1.2 11.8 1.2 7.8 1.2 17.8 1.2 15.8 1.2 1.8 1.2 17.8 1.2 10.8 1.2 47.8 1.2 0.8 1.2 42.8 1.2 63.8 2.2 6.8 1.2 5.8 1.2 40.8"/>
<circle cx="304.4" cy="272.0" r="178.36" pathLength="320" stroke="#30eb00" stroke-dasharray="0 33 1.2 68.8 1.2 75.8 1.2 90.8 1.2 46.8"/>
<circle cx="304.4" cy="272.0" r="178.36" pathLength="320" stroke="#10e800" stroke-dasharray="0 9 1.2 241.8 1.2 10.8 1.2 4.8 1.2 31.8 1.2 15.8"/>
<circle cx="304.4" cy="272.0" r="178.36" pathLength="320" stroke="#00e810" stroke-dasharray="0 67 1.2 110.8 1.2 77.8 1.2 9.8 1.2 49.8"/>
<circle cx="304.4" cy="272.0" r="178.36" pathLength="320" stroke="#00eb30" stroke-dasharray="0 8 1.2 140.8 1.2 46.8 1.2 35.8 1.2 6.8 1.2 20.8 1.2 1.8 1.2 50.8"/>
<circle cx="304.4" cy="272.0" r="178.36" pathLength="320" stroke="#00ee50" stroke-dasharray="0 66 1.2 199.8 1.2 8.8 1.2 41.8"/>
<circle cx="304.4" cy="272.0" r="178.36" pathLength="320" stroke="#00f170" stroke-dasharray="0 7 1.2 43.8 1.2 50.8 1.2 43.8 1.2 48.8 1.2 50.8 1.2 0.8 1.2 11.8 1.2 5.8 1.2 45.8"/>
<circle cx="304.4" cy="272.0" r="178.36" pathLength="320" stroke="#00f48f" stroke-dasharray="0 131 1.2 67.8 1.2 0.8 1.2 108.8 3.2 4.8"/>
<circle cx="304.4" cy="272.0" r="178.36" pathLength="320" stroke="#00f7af" stroke-dasharray="0 6 1.2 193.8 1.2 54.8 1.2 17.8 1.2 37.8 1.2 3.8"/>
<circle cx="304.4" cy="272.0" r="178.36" pathLength="320" stroke="#00facf" stroke-dasharray="0 1 1.2 1.8 2.2 58.8 1.2 167.8 1.2 18.8 1.2 64.8"/>
<circle cx="304.4" cy="272.0" r="178.36" pathLength="320" stroke="#00fdef" stroke-dasharray="1.2 1.8 1.2 125.8 1.2 0.8 1.2 14.8 1.2 105.8 2.2 16.8 2.2 43.8"/>
<circle cx="304.4" cy="272.0" r="178.36" pathLength="320" stroke="#00effc" stroke-dasharray="0 2 1.2 57.8 1.2 140.8 1.2 7.8 1.2 19.8 1.2 69.8 1.2 5.8 1.2 3.8 2.2 0.8 1.2 399.8"/>
<circle cx="304.4" cy="272.0" r="178.36" pathLength="320" stroke="#00cff5" stroke-dasharray="0 53 1.2 7.8 1.2 149.8 1.2 103.8 1.2 0.8"/>
<circle cx="304.4" cy="272.0" r="178.36" pathLength="320" stroke="#00afee" stroke-dasharray="0 54 1.2 49.8 1.2 125.8 1.2 86.8"/>
<circle cx="304.4" cy="272.0" r="178.36" pathLength="320" stroke="#008fe7" stroke-dasharray="0 129 1.2 73.8 2.2 2.8 1.2 0.8 1.2 37.8 1.2 68.8"/>
<circle cx="304.4" cy="272.0" r="178.36" pathLength="320" stroke="#0070e0" stroke-dasharray="0 64 1.2 67.8 3.2 10.8 1.2 57.8 1.2 2.8 1.2 2.8 1.2 7.8 2.2 5.8 1.2 87.8"/>
<circle cx="304.4" cy="272.0" r="178.36" pathLength="320" stroke="#0050d9" stroke-dasharray="0 60 1.2 1.8 1.2 142.8 2.2 6.8 1.2 7.8 1.2 3.8 1.2 12.8 1.2 3.8 1.2 54.8 1.2 3.8 1.2 8.8"/>
<circle cx="304.4" cy="272.0" r="178.36" pathLength="320" stroke="#0030d2" stroke-dasharray="0 55 1.2 158.8 1.2 0.8 1.2 9.8 2.2 15.8 1.2 0.8 1.2 70.8"/>
<circle cx="304.4" cy="272.0" r="178.36" pathLength="320" stroke="#0010cb" stroke-dasharray="0 106 1.2 2.8 1.2 1.8 1.2 13.8 1.2 96.8 1.2 17.8 1.2 0.8 1.2 71.8"/>
<circle cx="304.4" cy="272.0" r="178.36" pathLength="320" stroke="#1000cb" stroke-dasharray="0 59 1.2 53.8 1.2 20.8 1.2 89.8 1.2 80.8 1.2 9.8"/>
<circle cx="304.4" cy="272.0" r="178.36" pathLength="320" stroke="#3000d2" stroke-dasharray="0 56 1.2 0.8 1.2 49.8 1.2 0.8 2.2 3.8 2.2 7.8 1.2 8.8 1.2 7.8 1.2 70.8 1.2 100.8"/>
<circle cx="304.4" cy="272.0" r="178.36" pathLength="320" stroke="#5000d9" stroke-dasharray="0 57 1.2 56.8 1.2 21.8 1.2 79.8 1.2 1.8 1.2 82.8 1.2 12.8"/>
<circle cx="304.4" cy="272.0" r="178.36" pathLength="320" stroke="#7000e0" stroke-dasharray="0 107 1.2 7.8 1.2 3.8 1.2 3.8 1.2 192.8"/>
<circle cx="304.4" cy="272.0" r="178.36" pathLength="320" stroke="#8f00e7" stroke-dasharray="0 108 1.2 9.8 2.2 0.8 4.2 12.8 1.2 167.8 1.2 10.8"/>
<circle cx="304.4" cy="272.0" r="178.36" pathLength="320" stroke="#af00ee" stroke-dasharray="0 220 1.2 85.8 1.2 11.8"/>
<circle cx="304.4" cy="272.0" r="178.36" pathLength="320" stroke="#ef00fc" stroke-dasharray="0 140 6.2 74.8 1.2 97.8"/>
</g>
<g stroke-width="6.60">
<circle cx="304.4" cy="272.0" r="172.55" pathLength="320" stroke="#ff3000" stroke-dasharray="0 41 1.2 3.8 1.2 28.8 2.2 1.8 1.2 81.8 1.2 2.8 1.2 7.8 2.2 60.8 2.2 37.8 1.2 20.8 1.2 17.8"/>
<circle cx="304.4" cy="272.0" r="172.55" pathLength="320" stroke="#ff5000" stroke-dasharray="0 39 1.2 34.8 1.2 1.8 1.2 81.8 2.2 11.8 1.2 16.8 1.2 43.8 1.2 80.8"/>
<circle cx="304.4" cy="272.0" r="172.55" pathLength="320" stroke="#ff7000" stroke-dasharray="0 36 1.2 4.8 4.2 2.8 1.2 28.8 1.2 2.8 1.2 13.8 1.2 60.8 1.2 19.8 1.2 5.8 1.2 52.8 1.2 47.8 2.2 5.8 1.2 19.8"/>
<circle cx="304.4" cy="272.0" r="172.55" pathLength="320" stroke="#ff8f00" stroke-dasharray="0 99 1.2 81.8 1.2 10.8 2.2 40.8 1.2 61.8 1.2 1.8 1.2 15.8"/>
<circle cx="304.4" cy="272.0" r="172.55" pathLength="320" stroke="#ffaf00" stroke-dasharray="0 17 2.2 15.8 1.2 0.8 2.2 138.8 1.2 0.8 1.2 138.8"/>
<circle cx="304.4" cy="272.0" r="172.55" pathLength="320" stroke="#ffcf00" stroke-dasharray="0 33 2.2 38.8 1.2 8.8 1.2 11.8 1.2 1.8 1.2 85.8 1.2 7.8 1.2 122.8"/>
<circle cx="304.4" cy="272.0" r="172.55" pathLength="320" stroke="#ffef00" stroke-dasharray="0 14 1.2 0.8 1.2 7.8 1.2 5.8 1.2 125.8 1.2 18.8 1.2 97.8 1.2 40.8"/>
<circle cx="304.4" cy="272.0" r="172.55" pathLength="320" stroke="#effd00" stroke-dasharray="0 15 1.2 14.8 1.2 17.8 1.2 33.8 2.2 4.8 2.2 225.8"/>
<circle cx="304.4" cy="272.0" r="172.55" pathLength="320" stroke="#cffa00" stroke-dasharray="0 19 1.2 3.8 1.2 0.8 1.2 45.8 1.2 12.8 3.2 92.8 1.2 1.8 1.2 48.8 1.2 34.8 1.2 46.8"/>
<circle cx="304.4" cy="272.0" r="172.55" pathLength="320" stroke="#aff700" stroke-dasharray="0 13 1.2 15.8 1.2 58.8 1.2 63.8 1.2 40.8 1.2 63.8 1.2 7.8 1.2 47.8"/>
<circle cx="304.4" cy="272.0" r="172.55" pathLength="320" stroke="#8ff400" stroke-dasharray="0 23 1.2 66.8 1.2 1.8 1.2 5.8 1.2 51.8 1.2 2.8 1.2 24.8 2.2 72.8 1.2 2.8 1.2 8.8 1.2 29.8 1.2 14.8"/>
<circle cx="304.4" cy="272.0" r="172.55" pathLength="320" stroke="#70f100" stroke-dasharray="0 29 1.2 20.8 1.2 19.8 1.2 82.8 1.2 100.8 1.2 0.8 2.2 7.8 1.2 48.8"/>
<circle cx="304.4" cy="272.0" r="172.55" pathLength="320" stroke="#50ee00" stroke-dasharray="0 20 1.2 48.8 2.2 23.8 1.2 55.8 1.2 2.8 1.2 39.8 1.2 43.8 1.2 12.8 1.2 10.8 1.2 6.8 1.2 41.8"/>
<circle cx="304.4" cy="272.0" r="172.55" pathLength="320" stroke="#30eb00" stroke-dasharray="0 12 1.2 8.8 1.2 3.8 2.2 65.8 1.2 55.8 1.2 110.8 1.2 8.8 2.2 43.8"/>
<circle cx="304.4" cy="272.0" r="172.55" pathLength="320" stroke="#10e800" stroke-dasharray="0 21 1.2 46.8 1.2 80.8 1.2 46.8 1.2 67.8 1.2 50.8"/>
<circle cx="304.4" cy="272.0" r="172.55" pathLength="320" stroke="#00e810" stroke-dasharray="0 11 1.2 89.8 1.2 131.8 1.2 17.8 3.2 7.8 2.2 52.8"/>
<circle cx="304.4" cy="272.0" r="172.55" pathLength="320" stroke="#00eb30" stroke-dasharray="0 10 1.2 40.8 1.2 146.8 1.2 51.8 1.2 21.8 1.2 42.8"/>
<circle cx="304.4" cy="272.0" r="172.55" pathLength="320" stroke="#00ee50" stroke-dasharray="0 252 1.2 13.8 1.2 51.8"/>
<circle cx="304.4" cy="272.0" r="172.55" pathLength="320" stroke="#00f170" stroke-dasharray="0 9 1.2 190.8 1.2 102.8 1.2 13.8"/>
<circle cx="304.4" cy="272.0" r="172.55" pathLength="320" stroke="#00f48f" stroke-dasharray="0 8 1.2 58.8 1.2 80.8 1.2 168.8"/>
<circle cx="304.4" cy="272.0" r="172.55" pathLength="320" stroke="#00f7af" stroke-dasharray="0 7 1.2 193.8 1.2 0.8 2.2 106.8 1.2 5.8"/>
<circle cx="304.4" cy="272.0" r="172.55" pathLength="320" stroke="#00facf" stroke-dasharray="0 103 1.2 98.8 1.2 1.8 1.2 26.8 1.2 84.8"/>
<circle cx="304.4" cy="272.0" r="172.55" pathLength="320" stroke="#00fdef" stroke-dasharray="0 53 1.2 196.8 1.2 59.8 1.2 0.8 1.2 4.8"/>
<circle cx="304.4" cy="272.0" r="172.55" pathLength="320" stroke="#00effc" stroke-dasharray="0 1 2.2 2.8 1.2 141.8 1.2 62.8 2.2 28.8 1.2 69.8 1.2 3.8"/>
<circle cx="304.4" cy="272.0" r="172.55" pathLength="320" stroke="#00cff5" stroke-dasharray="0 133 3.2 11.8 1.2 57.8 1.2 24.8 1.2 75.8 2.2 3.8 1.2 2.8"/>
<circle cx="304.4" cy="272.0" r="172.55" pathLength="320" stroke="#00afee" stroke-dasharray="1.2 3.8 1.2 53.8 1.2 5.8 1.2 63.8 1.2 175.8 1.2 6.8 3.2 399.8"/>
<circle cx="304.4" cy="272.0" r="172.55" pathLength="320" stroke="#008fe7" stroke-dasharray="0 3 1.2 49.8 1.2 5.8 1.2 68.8 1.2 75.8 1.2 2.8 1.2 13.8 2.2 2.8 1.2 72.8 1.2 12.8"/>
<circle cx="304.4" cy="272.0" r="172.55" pathLength="320" stroke="#0070e0" stroke-dasharray="0 4 1.2 53.8 1.2 69.8 1.2 77.8 1.2 4.8 1.2 12.8 3.2 17.8 1.2 68.8"/>
<circle cx="304.4" cy="272.0" r="172.55" pathLength="320" stroke="#0050d9" stroke-dasharray="0 58 1.2 6.8 1.2 142.8 1.2 33.8 1.2 61.8 1.2 10.8"/>
<circle cx="304.4" cy="272.0" r="172.55" pathLength="320" stroke="#0030d2" stroke-dasharray="0 55 1.2 0.8 1.2 45.8 1.2 30.8 1.2 9.8 1.2 62.8 1.2 3.8 1.2 8.8 1.2 18.8 1.2 72.8"/>
<circle cx="304.4" cy="272.0" r="172.55" pathLength="320" stroke="#0010cb" stroke-dasharray="0 56 1.2 4.8 1.2 1.8 1.2 46.8 1.2 2.8 1.2 98.8 2.2 5.8 1.2 22.8 1.2 56.8 1.2 11.8"/>
<circle cx="304.4" cy="272.0" r="172.55" pathLength="320" stroke="#1000cb" stroke-dasharray="0 112 1.2 2.8 1.2 129.8 2.2 70.8"/>
<circle cx="304.4" cy="272.0" r="172.55" pathLength="320" stroke="#3000d2" stroke-dasharray="0 109 2.2 2.8 1.2 13.8 1.2 88.8 1.2 3.8 1.2 94.8"/>
<circle cx="304.4" cy="272.0" r="172.55" pathLength="320" stroke="#5000d9" stroke-dasharray="0 64 1.2 39.8 1.2 4.8 1.2 2.8 1.2 1.8 1.2 19.8 1.2 4.8 2.2 172.8"/>
<circle cx="304.4" cy="272.0" r="172.55" pathLength="320" stroke="#7000e0" stroke-dasharray="0 63 1.2 41.8 1.2 0.8 1.2 11.8 3.2 12.8 2.2 4.8 1.2 74.8 1.2 98.8"/>
<circle cx="304.4" cy="272.0" r="172.55" pathLength="320" stroke="#8f00e7" stroke-dasharray="0 107 1.2 15.8 4.2 191.8"/>
<circle cx="304.4" cy="272.0" r="172.55" pathLength="320" stroke="#af00ee" stroke-dasharray="0 120 1.2 6.8 1.2 10.8 2.2 80.8 1.2 95.8"/>
<circle cx="304.4" cy="272.0" r="172.55" pathLength="320" stroke="#cf00f5" stroke-dasharray="0 119 1.2 21.8 2.2 76.8 1.2 97.8"/>
<circle cx="304.4" cy="272.0" r="172.55" pathLength="320" stroke="#ef00fc" stroke-dasharray="0 222 1.2 96.8"/>
</g>
<g stroke-width="6.56">
<circle cx="304.4" cy="272.0" r="166.76" pathLength="320" stroke="#ff3000" stroke-dasharray="0 32 1.2 9.8 1.2 2.8 1.2 114.8 1.2 16.8 1.2 8.8 1.2 90.8 1.2 4.8 2.2 5.8 2.2 20.8"/>
<circle cx="304.4" cy="272.0" r="166.76" pathLength="320" stroke="#ff5000" stroke-dasharray="0 162 1.2 76.8 1.2 35.8 1.2 5.8 1.2 5.8 1.2 9.8 2.2 15.8"/>
<circle cx="304.4" cy="272.0" r="166.76" pathLength="320" stroke="#ff7000" stroke-dasharray="0 48 1.2 27.8 1.2 20.8 2.2 57.8 1.2 17.8 1.2 0.8 1.2 0.8 1.2 3.8 1.2 3.8 4.2 42.8 1.2 52.8 2.2 0.8 1.2 22.8"/>
<circle cx="304.4" cy="272.0" r="166.76" pathLength="320" stroke="#ff8f00" stroke-dasharray="0 46 1.2 28.8 1.2 8.8 1.2 10.8 1.2 137.8 2.2 1.8 1.2 49.8 1.2 1.8 1.2 2.8 1.2 19.8"/>
<circle cx="304.4" cy="272.0" r="166.76" pathLength="320" stroke="#ffaf00" stroke-dasharray="0 31 1.2 11.8 2.2 35.8 1.2 1.8 1.2 0.8 1.2 12.8 1.2 76.8 1.2 2.8 1.2 1.8 1.2 8.8 1.2 78.8 1.2 23.8 1.2 17.8"/>
<circle cx="304.4" cy="272.0" r="166.76" pathLength="320" stroke="#ffcf00" stroke-dasharray="0 78 1.2 1.8 1.2 0.8 1.2 73.8 1.2 24.8 1.2 50.8 1.2 34.8 1.2 26.8 1.2 18.8"/>
<circle cx="304.4" cy="272.0" r="166.76" pathLength="320" stroke="#ffef00" stroke-dasharray="0 49 1.2 29.8 1.2 2.8 1.2 2.8 1.2 7.8 1.2 86.8 1.2 55.8 1.2 17.8 1.2 3.8 1.2 2.8 2.2 0.8 1.2 45.8"/>
<circle cx="304.4" cy="272.0" r="166.76" pathLength="320" stroke="#effd00" stroke-dasharray="0 25 2.2 47.8 1.2 2.8 1.2 76.8 1.2 100.8 2.2 5.8 3.2 4.8 1.2 27.8 1.2 14.8"/>
<circle cx="304.4" cy="272.0" r="166.76" pathLength="320" stroke="#cffa00" stroke-dasharray="0 24 1.2 4.8 1.2 18.8 2.2 36.8 1.2 1.8 2.2 148.8 1.2 17.8 1.2 10.8 1.2 44.8"/>
<circle cx="304.4" cy="272.0" r="166.76" pathLength="320" stroke="#aff700" stroke-dasharray="0 22 2.2 2.8 1.2 61.8 1.2 10.8 1.2 50.8 3.2 100.8 1.2 5.8 1.2 53.8"/>
<circle cx="304.4" cy="272.0" r="166.76" pathLength="320" stroke="#8ff400" stroke-dasharray="0 21 1.2 29.8 1.2 20.8 1.2 15.8 1.2 60.8 1.2 42.8 1.2 36.8 1.2 20.8 1.2 61.8"/>
<circle cx="304.4" cy="272.0" r="166.76" pathLength="320" stroke="#70f100" stroke-dasharray="0 96 1.2 54.8 1.2 90.8 1.2 17.8 1.2 40.8 1.2 13.8"/>
<circle cx="304.4" cy="272.0" r="166.76" pathLength="320" stroke="#50ee00" stroke-dasharray="0 14 1.2 12.8 2.2 63.8 1.2 160.8 1.2 49.8 2.2 10.8"/>
<circle cx="304.4" cy="272.0" r="166.76" pathLength="320" stroke="#30eb00" stroke-dasharray="0 13 1.2 58.8 1.2 76.8 1.2 111.8 1.2 40.8 1.2 12.8"/>
<circle cx="304.4" cy="272.0" r="166.76" pathLength="320" stroke="#10e800" stroke-dasharray="0 17 1.2 1.8 1.2 176.8 1.2 120.8"/>
<circle cx="304.4" cy="272.0" r="166.76" pathLength="320" stroke="#00e810" stroke-dasharray="0 12 1.2 1.8 2.2 0.8 1.2 33.8 1.2 16.8 2.2 21.8 1.2 137.8 1.2 19.8 1.2 52.8 1.2 9.8"/>
<circle cx="304.4" cy="272.0" r="166.76" pathLength="320" stroke="#00eb30" stroke-dasharray="0 1 1.2 242.8 1.2 73.8"/>
<circle cx="304.4" cy="272.0" r="166.76" pathLength="320" stroke="#00ee50" stroke-dasharray="1.2 0.8 1.2 15.8 1.2 129.8 1.2 47.8 1.2 119.8"/>
<circle cx="304.4" cy="272.0" r="166.76" pathLength="320" stroke="#00f170" stroke-dasharray="0 11 1.2 57.8 1.2 31.8 1.2 100.8 1.2 25.8 2.2 19.8 1.2 64.8"/>
<circle cx="304.4" cy="272.0" r="166.76" pathLength="320" stroke="#00f48f" stroke-dasharray="0 204 1.2 114.8"/>
<circle cx="304.4" cy="272.0" r="166.76" pathLength="320" stroke="#00f7af" stroke-dasharray="0 8 3.2 188.8 1.2 108.8 1.2 8.8"/>
<circle cx="304.4" cy="272.0" r="166.76" pathLength="320" stroke="#00facf" stroke-dasharray="0 3 1.2 49.8 1.2 13.8 1.2 132.8 1.2 1.8 1.2 23.8 1.2 13.8 1.2 5.8 1.2 58.8 2.2 3.8 1.2 399.8"/>
<circle cx="304.4" cy="272.0" r="166.76" pathLength="320" stroke="#00fdef" stroke-dasharray="0 7 1.2 140.8 1.2 98.8 2.2 60.8 1.2 6.8"/>
<circle cx="304.4" cy="272.0" r="166.76" pathLength="320" stroke="#00effc" stroke-dasharray="0 4 3.2 140.8 1.2 51.8 1.2 26.8 2.2 79.8 1.2 7.8"/>
<circle cx="304.4" cy="272.0" r="166.76" pathLength="320" stroke="#00cff5" stroke-dasharray="0 55 1.2 11.8 1.2 132.8 1.2 24.8 1.2 18.8 1.2 1.8 2.2 66.8"/>
<circle cx="304.4" cy="272.0" r="166.76" pathLength="320" stroke="#00afee" stroke-dasharray="0 104 1.2 26.8 3.2 91.8 1.2 18.8 1.2 66.8 1.2 3.8"/>
<circle cx="304.4" cy="272.0" r="166.76" pathLength="320" stroke="#008fe7" stroke-dasharray="0 135 1.2 70.8 1.2 1.8 1.2 2.8 1.2 102.8 1.2 0.8"/>
<circle cx="304.4" cy="272.0" r="166.76" pathLength="320" stroke="#0070e0" stroke-dasharray="0 56 1.2 73.8 1.2 14.8 1.2 60.8 1.2 2.8 1.2 0.8 1.2 103.8"/>
<circle cx="304.4" cy="272.0" r="166.76" pathLength="320" stroke="#0050d9" stroke-dasharray="0 57 3.2 6.8 1.2 44.8 2.2 92.8 1.2 1.8 1.2 13.8 1.2 88.8 1.2 2.8"/>
<circle cx="304.4" cy="272.0" r="166.76" pathLength="320" stroke="#0030d2" stroke-dasharray="0 112 1.2 16.8 1.2 12.8 1.2 66.8 1.2 103.8 1.2 1.8"/>
<circle cx="304.4" cy="272.0" r="166.76" pathLength="320" stroke="#0010cb" stroke-dasharray="0 60 1.2 43.8 1.2 3.8 2.2 23.8 1.2 5.8 1.2 71.8 3.2 100.8"/>
<circle cx="304.4" cy="272.0" r="166.76" pathLength="320" stroke="#1000cb" stroke-dasharray="0 108 2.2 4.8 1.2 22.8 1.2 0.8 1.2 82.8 1.2 93.8"/>
<circle cx="304.4" cy="272.0" r="166.76" pathLength="320" stroke="#3000d2" stroke-dasharray="0 66 1.2 38.8 1.2 29.8 1.2 1.8 1.2 0.8 1.2 1.8 2.2 172.8"/>
<circle cx="304.4" cy="272.0" r="166.76" pathLength="320" stroke="#5000d9" stroke-dasharray="0 107 1.2 7.8 1.2 20.8 1.2 180.8"/>
<circle cx="304.4" cy="272.0" r="166.76" pathLength="320" stroke="#7000e0" stroke-dasharray="0 61 1.2 54.8 1.2 10.8 1.2 88.8 1.2 3.8 1.2 94.8"/>
<circle cx="304.4" cy="272.0" r="166.76" pathLength="320" stroke="#8f00e7" stroke-dasharray="0 65 1.2 153.8 2.2 97.8"/>
<circle cx="304.4" cy="272.0" r="166.76" pathLength="320" stroke="#af00ee" stroke-dasharray="0 118 1.2 1.8 3.2 195.8"/>
<circle cx="304.4" cy="272.0" r="166.76" pathLength="320" stroke="#cf00f5" stroke-dasharray="0 62 1.2 60.8 1.2 194.8"/>
<circle cx="304.4" cy="272.0" r="166.76" pathLength="320" stroke="#ef00fc" stroke-dasharray="0 63 2.2 53.8 2.2 3.8 4.2 92.8 2.2 95.8"/>
</g>
<g stroke-width="6.53">
<circle cx="304.4" cy="272.0" r="161.02" pathLength="320" stroke="#ff3000" stroke-dasharray="0 44 1.2 53.8 1.2 58.8 1.2 0.8 1.2 2.8 1.2 12.8 3.2 3.8 1.2 6.8 3.2 78.8 1.2 5.8 1.2 18.8 1.2 15.8"/>
<circle cx="304.4" cy="272.0" r="161.02" pathLength="320" stroke="#ff5000" stroke-dasharray="0 29 1.2 6.8 2.2 5.8 2.2 50.8 1.2 0.8 2.2 60.8 1.2 19.8 1.2 3.8 1.2 2.8 1.2 70.8 1.2 0.8 1.2 4.8 1.2 17.8 1.2 7.8 1.2 17.8"/>
<circle cx="304.4" cy="272.0" r="161.02" pathLength="320" stroke="#ff7000" stroke-dasharray="0 28 1.2 128.8 1.2 25.8 1.2 3.8 3.2 74.8 1.2 4.8 2.2 16.8 1.2 3.8 1.2 20.8"/>
<circle cx="304.4" cy="272.0" r="161.02" pathLength="320" stroke="#ff8f00" stroke-dasharray="0 27 1.2 18.8 1.2 32.8 2.2 73.8 1.2 3.8 1.2 33.8 1.2 38.8 4.2 27.8 4.2 20.8 1.2 1.8 1.2 1.8 1.2 18.8"/>
<circle cx="304.4" cy="272.0" r="161.02" pathLength="320" stroke="#ffaf00" stroke-dasharray="0 26 1.2 52.8 1.2 154.8 1.2 3.8 2.2 52.8 1.2 1.8 1.2 3.8 1.2 14.8"/>
<circle cx="304.4" cy="272.0" r="161.02" pathLength="320" stroke="#ffcf00" stroke-dasharray="0 77 3.2 2.8 1.2 158.8 1.2 50.8 1.2 23.8"/>
<circle cx="304.4" cy="272.0" r="161.02" pathLength="320" stroke="#ffef00" stroke-dasharray="0 24 2.2 57.8 1.2 11.8 1.2 145.8 1.2 15.8 1.2 1.8 1.2 54.8"/>
<circle cx="304.4" cy="272.0" r="161.02" pathLength="320" stroke="#effd00" stroke-dasharray="0 76 1.2 24.8 1.2 52.8 1.2 104.8 1.2 41.8 1.2 13.8"/>
<circle cx="304.4" cy="272.0" r="161.02" pathLength="320" stroke="#cffa00" stroke-dasharray="0 22 2.2 26.8 2.2 31.8 1.2 148.8 1.2 26.8 1.2 41.8 1.2 12.8"/>
<circle cx="304.4" cy="272.0" r="161.02" pathLength="320" stroke="#aff700" stroke-dasharray="0 48 1.2 37.8 2.2 108.8 1.2 45.8 1.2 10.8 2.2 47.8 1.2 11.8"/>
<circle cx="304.4" cy="272.0" r="161.02" pathLength="320" stroke="#8ff400" stroke-dasharray="0 2 1.2 17.8 1.2 30.8 1.2 20.8 1.2 9.8 1.2 1.8 1.2 1.8 1.2 60.8 1.2 103.8 2.2 46.8 1.2 10.8"/>
<circle cx="304.4" cy="272.0" r="161.02" pathLength="320" stroke="#70f100" stroke-dasharray="0 1 1.2 88.8 1.2 3.8 1.2 55.8 1.2 0.8 1.2 77.8 1.2 84.8"/>
<circle cx="304.4" cy="272.0" r="161.02" pathLength="320" stroke="#50ee00" stroke-dasharray="0 49 2.2 38.8 1.2 1.8 1.2 225.8"/>
<circle cx="304.4" cy="272.0" r="161.02" pathLength="320" stroke="#30eb00" stroke-dasharray="0 20 1.2 32.8 1.2 96.8 1.2 79.8 1.2 21.8 1.2 51.8 1.2 9.8"/>
<circle cx="304.4" cy="272.0" r="161.02" pathLength="320" stroke="#10e800" stroke-dasharray="0 3 1.2 9.8 2.2 57.8 1.2 170.8 1.2 72.8"/>
<circle cx="304.4" cy="272.0" r="161.02" pathLength="320" stroke="#00e810" stroke-dasharray="1.2 11.8 1.2 79.8 1.2 55.8 1.2 79.8 1.2 86.8"/>
<circle cx="304.4" cy="272.0" r="161.02" pathLength="320" stroke="#00eb30" stroke-dasharray="0 12 1.2 2.8 1.2 37.8 1.2 38.8 1.2 102.8 1.2 109.8 1.2 8.8"/>
<circle cx="304.4" cy="272.0" r="161.02" pathLength="320" stroke="#00ee50" stroke-dasharray="0 19 1.2 52.8 1.2 28.8 1.2 122.8 2.2 90.8"/>
<circle cx="304.4" cy="272.0" r="161.02" pathLength="320" stroke="#00f170" stroke-dasharray="0 4 1.2 5.8 1.2 4.8 1.2 52.8 1.2 77.8 1.2 74.8 1.2 1.8 1.2 0.8 1.2 14.8 1.2 62.8 1.2 6.8 1.2 399.8"/>
<circle cx="304.4" cy="272.0" r="161.02" pathLength="320" stroke="#00f48f" stroke-dasharray="0 8 1.2 60.8 1.2 0.8 1.2 131.8 1.2 23.8 1.2 23.8 1.2 55.8 2.2 5.8"/>
<circle cx="304.4" cy="272.0" r="161.02" pathLength="320" stroke="#00f7af" stroke-dasharray="0 5 1.2 0.8 1.2 0.8 2.2 6.8 1.2 84.8 1.2 98.8 1.2 108.8 1.2 2.8 1.2 0.8"/>
<circle cx="304.4" cy="272.0" r="161.02" pathLength="320" stroke="#00facf" stroke-dasharray="0 69 1.2 78.8 1.2 49.8 1.2 46.8 2.2 66.8 1.2 1.8"/>
<circle cx="304.4" cy="272.0" r="161.02" pathLength="320" stroke="#00fdef" stroke-dasharray="0 6 1.2 48.8 1.2 90.8 1.2 53.8 1.2 110.8 2.2 2.8"/>
<circle cx="304.4" cy="272.0" r="161.02" pathLength="320" stroke="#00effc" stroke-dasharray="0 105 1.2 28.8 2.2 68.8 1.2 17.8 1.2 23.8 1.2 2.8 1.2 64.8"/>
<circle cx="304.4" cy="272.0" r="161.02" pathLength="320" stroke="#00cff5" stroke-dasharray="0 68 1.2 64.8 1.2 1.8 1.2 8.8 1.2 52.8 2.2 49.8 1.2 65.8"/>
<circle cx="304.4" cy="272.0" r="161.02" pathLength="320" stroke="#00afee" stroke-dasharray="0 138 2.2 110.8 2.2 66.8"/>
<circle cx="304.4" cy="272.0" r="161.02" pathLength="320" stroke="#008fe7" stroke-dasharray="0 113 1.2 18.8 1.2 5.8 2.2 0.8 1.2 65.8 1.2 108.8"/>
<circle cx="304.4" cy="272.0" r="161.02" pathLength="320" stroke="#0070e0" stroke-dasharray="0 57 1.2 47.8 1.2 6.8 1.2 26.8 1.2 0.8 1.2 61.8 1.2 2.8 1.2 107.8"/>
<circle cx="304.4" cy="272.0" r="161.02" pathLength="320" stroke="#0050d9" stroke-dasharray="0 67 1.2 155.8 1.2 94.8"/>
<circle cx="304.4" cy="272.0" r="161.02" pathLength="320" stroke="#0030d2" stroke-dasharray="0 58 2.2 46.8 1.2 3.8 1.2 1.8 1.2 15.8 1.2 12.8 1.2 60.8 2.2 109.8"/>
<circle cx="304.4" cy="272.0" r="161.02" pathLength="320" stroke="#0010cb" stroke-dasharray="0 66 1.2 40.8 3.2 33.8 1.2 67.8 1.2 104.8"/>
<circle cx="304.4" cy="272.0" r="161.02" pathLength="320" stroke="#1000cb" stroke-dasharray="0 65 1.2 44.8 1.2 99.8 2.2 0.8 1.2 4.8 3.2 95.8"/>
<circle cx="304.4" cy="272.0" r="161.02" pathLength="320" stroke="#3000d2" stroke-dasharray="0 217 2.2 0.8 1.2 98.8"/>
<circle cx="304.4" cy="272.0" r="161.02" pathLength="320" stroke="#5000d9" stroke-dasharray="0 60 1.2 54.8 1.2 13.8 1.2 83.8 1.2 1.8 1.2 99.8"/>
<circle cx="304.4" cy="272.0" r="161.02" pathLength="320" stroke="#7000e0" stroke-dasharray="0 61 1.2 1.8 1.2 63.8 2.2 188.8"/>
<circle cx="304.4" cy="272.0" r="161.02" pathLength="320" stroke="#8f00e7" stroke-dasharray="0 62 1.2 56.8 2.2 197.8"/>
<circle cx="304.4" cy="272.0" r="161.02" pathLength="320" stroke="#af00ee" stroke-dasharray="0 63 1.2 52.8 1.2 201.8"/>
<circle cx="304.4" cy="272.0" r="161.02" pathLength="320" stroke="#cf00f5" stroke-dasharray="0 118 2.2 1.8 3.2 194.8"/>
<circle cx="304.4" cy="272.0" r="161.02" pathLength="320" stroke="#ef00fc" stroke-dasharray="0 125 4.2 190.8"/>
</g>
<g stroke-width="6.50">
<circle cx="304.4" cy="272.0" r="155.31" pathLength="320" stroke="#ff3000" stroke-dasharray="0 39 1.2 120.8 1.2 1.8 1.2 16.8 1.2 3.8 1.2 5.8 3.2 43.8 1.2 41.8 1.2 34.8"/>
<circle cx="304.4" cy="272.0" r="155.31" pathLength="320" stroke="#ff5000" stroke-dasharray="0 28 3.2 4.8 1.2 0.8 1.2 145.8 2.2 5.8 1.2 45.8 1.2 0.8 1.2 21.8 1.2 24.8 1.2 27.8"/>
<circle cx="304.4" cy="272.0" r="155.31" pathLength="320" stroke="#ff7000" stroke-dasharray="0 26 2.2 8.8 1.2 7.8 1.2 110.8 1.2 2.8 2.2 23.8 1.2 7.8 1.2 38.8 3.2 21.8 1.2 2.8 1.2 30.8 1.2 20.8"/>
<circle cx="304.4" cy="272.0" r="155.31" pathLength="320" stroke="#ff8f00" stroke-dasharray="0 25 1.2 73.8 1.2 134.8 1.2 23.8 1.2 0.8 2.2 1.8 1.2 5.8 1.2 16.8 2.2 4.8 3.2 17.8"/>
<circle cx="304.4" cy="272.0" r="155.31" pathLength="320" stroke="#ffaf00" stroke-dasharray="0 24 1.2 56.8 1.2 105.8 1.2 1.8 1.2 100.8 1.2 1.8 1.2 3.8 4.2 0.8 3.2 9.8"/>
<circle cx="304.4" cy="272.0" r="155.31" pathLength="320" stroke="#ffcf00" stroke-dasharray="0 23 1.2 56.8 1.2 16.8 1.2 0.8 1.2 54.8 1.2 31.8 1.2 51.8 1.2 15.8 1.2 6.8 1.2 0.8 4.2 21.8 1.2 8.8 1.2 2.8 1.2 8.8"/>
<circle cx="304.4" cy="272.0" r="155.31" pathLength="320" stroke="#ffef00" stroke-dasharray="0 22 1.2 56.8 1.2 109.8 1.2 52.8 1.2 22.8 1.2 24.8 1.2 23.8"/>
<circle cx="304.4" cy="272.0" r="155.31" pathLength="320" stroke="#effd00" stroke-dasharray="0 2 1.2 43.8 1.2 30.8 1.2 2.8 1.2 71.8 1.2 77.8 1.2 7.8 1.2 65.8 1.2 7.8"/>
<circle cx="304.4" cy="272.0" r="155.31" pathLength="320" stroke="#cffa00" stroke-dasharray="0 1 1.2 243.8 1.2 72.8"/>
<circle cx="304.4" cy="272.0" r="155.31" pathLength="320" stroke="#aff700" stroke-dasharray="0 3 1.2 16.8 1.2 55.8 1.2 18.8 1.2 55.8 1.2 41.8 1.2 33.8 2.2 76.8 1.2 6.8"/>
<circle cx="304.4" cy="272.0" r="155.31" pathLength="320" stroke="#8ff400" stroke-dasharray="0 4 1.2 42.8 1.2 103.8 2.2 75.8 2.2 25.8 1.2 52.8 2.2 4.8"/>
<circle cx="304.4" cy="272.0" r="155.31" pathLength="320" stroke="#70f100" stroke-dasharray="1.2 3.8 1.2 7.8 1.2 68.8 1.2 54.8 2.2 87.8 1.2 88.8"/>
<circle cx="304.4" cy="272.0" r="155.31" pathLength="320" stroke="#50ee00" stroke-dasharray="0 12 2.2 34.8 1.2 26.8 1.2 60.8 1.2 88.8 1.2 16.8 1.2 66.8 1.2 1.8 2.2 399.8"/>
<circle cx="304.4" cy="272.0" r="155.31" pathLength="320" stroke="#30eb00" stroke-dasharray="0 11 1.2 2.8 1.2 80.8 1.2 3.8 1.2 38.8 1.2 8.8 1.2 74.8 1.2 28.8 1.2 56.8 2.2 1.8"/>
<circle cx="304.4" cy="272.0" r="155.31" pathLength="320" stroke="#10e800" stroke-dasharray="0 6 1.2 1.8 2.2 8.8 1.2 63.8 1.2 3.8 2.2 44.8 2.2 86.8 2.2 91.8"/>
<circle cx="304.4" cy="272.0" r="155.31" pathLength="320" stroke="#00e810" stroke-dasharray="0 8 1.2 6.8 1.2 32.8 1.2 24.8 1.2 9.8 3.2 1.8 1.2 2.8 1.2 101.8 1.2 47.8 1.2 7.8 1.2 61.8"/>
<circle cx="304.4" cy="272.0" r="155.31" pathLength="320" stroke="#00eb30" stroke-dasharray="0 7 1.2 42.8 2.2 32.8 1.2 5.8 1.2 41.8 1.2 87.8 1.2 29.8 1.2 62.8"/>
<circle cx="304.4" cy="272.0" r="155.31" pathLength="320" stroke="#00ee50" stroke-dasharray="0 17 1.2 0.8 1.2 32.8 1.2 39.8 2.2 38.8 1.2 6.8 1.2 6.8 1.2 167.8"/>
<circle cx="304.4" cy="272.0" r="155.31" pathLength="320" stroke="#00f170" stroke-dasharray="0 18 1.2 34.8 1.2 264.8"/>
<circle cx="304.4" cy="272.0" r="155.31" pathLength="320" stroke="#00f48f" stroke-dasharray="0 75 1.2 172.8 1.2 4.8 1.2 63.8"/>
<circle cx="304.4" cy="272.0" r="155.31" pathLength="320" stroke="#00f7af" stroke-dasharray="0 144 1.2 54.8 1.2 22.8 1.2 94.8"/>
<circle cx="304.4" cy="272.0" r="155.31" pathLength="320" stroke="#00facf" stroke-dasharray="0 55 1.2 16.8 2.2 27.8 1.2 29.8 1.2 14.8 1.2 52.8 1.2 114.8"/>
<circle cx="304.4" cy="272.0" r="155.31" pathLength="320" stroke="#00fdef" stroke-dasharray="0 72 1.2 33.8 3.2 94.8 1.2 113.8"/>
<circle cx="304.4" cy="272.0" r="155.31" pathLength="320" stroke="#00effc" stroke-dasharray="0 71 1.2 31.8 1.2 4.8 1.2 37.8 1.2 52.8 1.2 45.8 1.2 2.8 1.2 64.8"/>
<circle cx="304.4" cy="272.0" r="155.31" pathLength="320" stroke="#00cff5" stroke-dasharray="0 56 1.2 12.8 1.2 34.8 1.2 37.8 1.2 54.8 1.2 3.8 1.2 112.8"/>
<circle cx="304.4" cy="272.0" r="155.31" pathLength="320" stroke="#00afee" stroke-dasharray="0 105 1.2 6.8 2.2 32.8 1.2 52.8 1.2 19.8 1.2 28.8 1.2 65.8"/>
<circle cx="304.4" cy="272.0" r="155.31" pathLength="320" stroke="#008fe7" stroke-dasharray="0 69 1.2 40.8 1.2 20.8 1.2 117.8 1.2 66.8"/>
<circle cx="304.4" cy="272.0" r="155.31" pathLength="320" stroke="#0070e0" stroke-dasharray="0 57 1.2 53.8 1.2 1.8 1.2 29.8 2.2 58.8 1.2 2.8 1.2 38.8 1.2 67.8"/>
<circle cx="304.4" cy="272.0" r="155.31" pathLength="320" stroke="#0050d9" stroke-dasharray="0 210 1.2 10.8 1.2 96.8"/>
<circle cx="304.4" cy="272.0" r="155.31" pathLength="320" stroke="#0030d2" stroke-dasharray="0 58 1.2 8.8 1.2 46.8 1.2 99.8 1.2 2.8 1.2 97.8"/>
<circle cx="304.4" cy="272.0" r="155.31" pathLength="320" stroke="#0010cb" stroke-dasharray="0 209 1.2 7.8 3.2 98.8"/>
<circle cx="304.4" cy="272.0" r="155.31" pathLength="320" stroke="#1000cb" stroke-dasharray="0 117 1.2 89.8 1.2 2.8 1.2 2.8 1.2 102.8"/>
<circle cx="304.4" cy="272.0" r="155.31" pathLength="320" stroke="#3000d2" stroke-dasharray="0 67 1.2 251.8"/>
<circle cx="304.4" cy="272.0" r="155.31" pathLength="320" stroke="#5000d9" stroke-dasharray="0 66 1.2 50.8 1.2 12.8 1.2 186.8"/>
<circle cx="304.4" cy="272.0" r="155.31" pathLength="320" stroke="#7000e0" stroke-dasharray="0 65 1.2 52.8 1.2 94.8 1.2 103.8"/>
<circle cx="304.4" cy="272.0" r="155.31" pathLength="320" stroke="#8f00e7" stroke-dasharray="0 59 1.2 59.8 1.2 91.8 2.2 104.8"/>
<circle cx="304.4" cy="272.0" r="155.31" pathLength="320" stroke="#af00ee" stroke-dasharray="0 64 1.2 254.8"/>
<circle cx="304.4" cy="272.0" r="155.31" pathLength="320" stroke="#ef00fc" stroke-dasharray="0 60 4.2 56.8 11.2 187.8"/>
</g>
<g stroke-width="6.46">
<circle cx="304.4" cy="272.0" r="149.63" pathLength="320" stroke="#ff3000" stroke-dasharray="0 2 1.2 3.8 2.2 28.8 1.2 0.8 1.2 1.8 1.2 119.8 1.2 28.8 3.2 40.8 2.2 31.8 1.2 1.8 1.2 13.8 1.2 16.8 1.2 10.8"/>
<circle cx="304.4" cy="272.0" r="149.63" pathLength="320" stroke="#ff5000" stroke-dasharray="0 1 1.2 0.8 4.2 23.8 1.2 4.8 1.2 0.8 1.2 140.8 1.2 57.8 2.2 22.8 2.2 5.8 1.2 18.8 2.2 24.8"/>
<circle cx="304.4" cy="272.0" r="149.63" pathLength="320" stroke="#ff7000" stroke-dasharray="0 25 2.2 8.8 1.2 6.8 1.2 95.8 1.2 13.8 1.2 5.8 1.2 20.8 2.2 5.8 1.2 2.8 1.2 38.8 1.2 25.8 1.2 8.8 1.2 15.8 1.2 2.8 1.2 23.8"/>
<circle cx="304.4" cy="272.0" r="149.63" pathLength="320" stroke="#ff8f00" stroke-dasharray="1.2 7.8 1.2 13.8 1.2 1.8 4.2 108.8 1.2 19.8 1.2 21.8 1.2 1.8 3.2 51.8 1.2 17.8 2.2 3.8 1.2 1.8 1.2 20.8 1.2 5.8 1.2 6.8 1.2 0.8 1.2 9.8"/>
<circle cx="304.4" cy="272.0" r="149.63" pathLength="320" stroke="#ffaf00" stroke-dasharray="0 23 1.2 114.8 1.2 1.8 1.2 11.8 1.2 5.8 1.2 18.8 2.2 7.8 1.2 69.8 1.2 31.8 1.2 0.8 1.2 0.8 1.2 8.8 6.2 3.8"/>
<circle cx="304.4" cy="272.0" r="149.63" pathLength="320" stroke="#ffcf00" stroke-dasharray="0 22 1.2 21.8 1.2 35.8 1.2 106.8 2.2 38.8 1.2 3.8 1.2 5.8 1.2 0.8 1.2 13.8 1.2 6.8 1.2 27.8 1.2 2.8 1.2 13.8 1.2 2.8"/>
<circle cx="304.4" cy="272.0" r="149.63" pathLength="320" stroke="#ffef00" stroke-dasharray="0 10 1.2 2.8 1.2 214.8 1.2 0.8 1.2 10.8 1.2 0.8 1.2 21.8 1.2 35.8 1.2 11.8 1.2 399.8"/>
<circle cx="304.4" cy="272.0" r="149.63" pathLength="320" stroke="#effd00" stroke-dasharray="0 12 2.2 31.8 1.2 35.8 1.2 53.8 1.2 14.8 1.2 42.8 1.2 35.8 1.2 65.8 4.2 10.8 1.2 1.8"/>
<circle cx="304.4" cy="272.0" r="149.63" pathLength="320" stroke="#cffa00" stroke-dasharray="0 11 1.2 2.8 1.2 4.8 1.2 24.8 1.2 32.8 1.2 150.8 1.2 83.8 1.2 0.8"/>
<circle cx="304.4" cy="272.0" r="149.63" pathLength="320" stroke="#aff700" stroke-dasharray="0 234 1.2 11.8 1.2 10.8 1.2 59.8"/>
<circle cx="304.4" cy="272.0" r="149.63" pathLength="320" stroke="#8ff400" stroke-dasharray="0 16 1.2 30.8 1.2 50.8 1.2 127.8 1.2 89.8"/>
<circle cx="304.4" cy="272.0" r="149.63" pathLength="320" stroke="#70f100" stroke-dasharray="0 17 1.2 134.8 1.2 44.8 1.2 25.8 1.2 92.8"/>
<circle cx="304.4" cy="272.0" r="149.63" pathLength="320" stroke="#50ee00" stroke-dasharray="0 80 1.2 2.8 1.2 13.8 1.2 36.8 1.2 4.8 1.2 82.8 2.2 28.8 1.2 60.8"/>
<circle cx="304.4" cy="272.0" r="149.63" pathLength="320" stroke="#30eb00" stroke-dasharray="0 20 1.2 27.8 1.2 50.8 1.2 122.8 1.2 21.8 1.2 7.8 1.2 61.8"/>
<circle cx="304.4" cy="272.0" r="149.63" pathLength="320" stroke="#10e800" stroke-dasharray="0 18 1.2 59.8 1.2 17.8 1.2 220.8"/>
<circle cx="304.4" cy="272.0" r="149.63" pathLength="320" stroke="#00e810" stroke-dasharray="0 77 2.2 10.8 1.2 15.8 2.2 90.8 1.2 54.8 1.2 62.8"/>
<circle cx="304.4" cy="272.0" r="149.63" pathLength="320" stroke="#00eb30" stroke-dasharray="0 19 1.2 29.8 1.2 33.8 1.2 1.8 2.2 0.8 1.2 43.8 1.2 111.8 1.2 69.8"/>
<circle cx="304.4" cy="272.0" r="149.63" pathLength="320" stroke="#00ee50" stroke-dasharray="0 109 1.2 41.8 1.2 101.8 1.2 63.8"/>
<circle cx="304.4" cy="272.0" r="149.63" pathLength="320" stroke="#00f170" stroke-dasharray="0 92 1.2 8.8 1.2 2.8 1.2 3.8 4.2 85.8 1.2 21.8 1.2 26.8 1.2 66.8"/>
<circle cx="304.4" cy="272.0" r="149.63" pathLength="320" stroke="#00f48f" stroke-dasharray="0 51 1.2 23.8 1.2 8.8 2.2 4.8 2.2 1.8 1.2 6.8 1.2 3.8 1.2 139.8 1.2 0.8 2.2 64.8"/>
<circle cx="304.4" cy="272.0" r="149.63" pathLength="320" stroke="#00f7af" stroke-dasharray="0 95 1.2 18.8 1.2 133.8 1.2 68.8"/>
<circle cx="304.4" cy="272.0" r="149.63" pathLength="320" stroke="#00facf" stroke-dasharray="0 96 1.2 6.8 1.2 29.8 1.2 65.8 1.2 14.8 1.2 100.8"/>
<circle cx="304.4" cy="272.0" r="149.63" pathLength="320" stroke="#00fdef" stroke-dasharray="0 75 1.2 26.8 1.2 98.8 1.2 115.8"/>
<circle cx="304.4" cy="272.0" r="149.63" pathLength="320" stroke="#00effc" stroke-dasharray="0 52 1.2 20.8 1.2 68.8 1.2 5.8 1.2 64.8 1.2 0.8 1.2 2.8 1.2 95.8"/>
<circle cx="304.4" cy="272.0" r="149.63" pathLength="320" stroke="#00cff5" stroke-dasharray="0 53 2.2 17.8 1.2 129.8 1.2 114.8"/>
<circle cx="304.4" cy="272.0" r="149.63" pathLength="320" stroke="#00afee" stroke-dasharray="0 55 1.2 15.8 1.2 42.8 1.2 16.8 1.2 184.8"/>
<circle cx="304.4" cy="272.0" r="149.63" pathLength="320" stroke="#008fe7" stroke-dasharray="0 71 1.2 147.8 1.2 0.8 1.2 96.8"/>
<circle cx="304.4" cy="272.0" r="149.63" pathLength="320" stroke="#0070e0" stroke-dasharray="0 56 2.2 86.8 3.2 72.8 1.2 97.8"/>
<circle cx="304.4" cy="272.0" r="149.63" pathLength="320" stroke="#0050d9" stroke-dasharray="0 70 1.2 45.8 1.2 86.8 1.2 113.8"/>
<circle cx="304.4" cy="272.0" r="149.63" pathLength="320" stroke="#0030d2" stroke-dasharray="0 58 1.2 9.8 1.2 62.8 1.2 15.8 1.2 168.8"/>
<circle cx="304.4" cy="272.0" r="149.63" pathLength="320" stroke="#0010cb" stroke-dasharray="0 66 3.2 78.8 1.2 56.8 1.2 8.8 1.2 102.8"/>
<circle cx="304.4" cy="272.0" r="149.63" pathLength="320" stroke="#1000cb" stroke-dasharray="0 65 1.2 51.8 1.2 29.8 1.2 56.8 1.2 111.8"/>
<circle cx="304.4" cy="272.0" r="149.63" pathLength="320" stroke="#3000d2" stroke-dasharray="0 128 2.2 77.8 1.2 110.8"/>
<circle cx="304.4" cy="272.0" r="149.63" pathLength="320" stroke="#5000d9" stroke-dasharray="0 119 2.2 10.8 1.2 81.8 1.2 103.8"/>
<circle cx="304.4" cy="272.0" r="149.63" pathLength="320" stroke="#7000e0" stroke-dasharray="0 59 1.2 3.8 1.2 143.8 1.2 3.8 1.2 104.8"/>
<circle cx="304.4" cy="272.0" r="149.63" pathLength="320" stroke="#8f00e7" stroke-dasharray="0 130 2.2 77.8 3.2 106.8"/>
<circle cx="304.4" cy="272.0" r="149.63" pathLength="320" stroke="#af00ee" stroke-dasharray="0 121 1.2 0.8 1.2 88.8 1.2 105.8"/>
<circle cx="304.4" cy="272.0" r="149.63" pathLength="320" stroke="#cf00f5" stroke-dasharray="0 63 1.2 57.8 1.2 3.8 1.2 191.8"/>
<circle cx="304.4" cy="272.0" r="149.63" pathLength="320" stroke="#ef00fc" stroke-dasharray="0 60 3.2 60.8 3.2 192.8"/>
</g>
<g stroke-width="6.43">
<circle cx="304.4" cy="272.0" r="143.98" pathLength="320" stroke="#ff3000" stroke-dasharray="0 1 1.2 27.8 2.2 5.8 1.2 119.8 1.2 11.8 1.2 5.8 1.2 14.8 1.2 0.8 1.2 38.8 2.2 31.8 1.2 6.8 2.2 6.8 2.2 3.8 3.2 2.8 1.2 18.8"/>
<circle cx="304.4" cy="272.0" r="143.98" pathLength="320" stroke="#ff5000" stroke-dasharray="0 7 1.2 1.8 2.2 16.8 1.2 6.8 1.2 119.8 1.2 5.8 2.2 5.8 2.2 5.8 1.2 8.8 1.2 46.8 1.2 70.8 2.2 6.8"/>
<circle cx="304.4" cy="272.0" r="143.98" pathLength="320" stroke="#ff7000" stroke-dasharray="0 8 2.2 1.8 3.2 12.8 1.2 6.8 1.2 122.8 1.2 2.8 1.2 9.8 4.2 14.8 1.2 44.8 2.2 58.8 1.2 10.8 1.2 5.8"/>
<circle cx="304.4" cy="272.0" r="143.98" pathLength="320" stroke="#ff8f00" stroke-dasharray="0 15 1.2 9.8 2.2 10.8 1.2 122.8 1.2 17.8 1.2 4.8 1.2 2.8 1.2 42.8 1.2 4.8 1.2 65.8 2.2 8.8"/>
<circle cx="304.4" cy="272.0" r="143.98" pathLength="320" stroke="#ffaf00" stroke-dasharray="1.2 14.8 1.2 27.8 3.2 90.8 3.2 18.8 2.2 29.8 1.2 3.8 1.2 70.8 1.2 48.8"/>
<circle cx="304.4" cy="272.0" r="143.98" pathLength="320" stroke="#ffcf00" stroke-dasharray="0 25 1.2 17.8 1.2 111.8 1.2 149.8 1.2 4.8 1.2 4.8"/>
<circle cx="304.4" cy="272.0" r="143.98" pathLength="320" stroke="#ffef00" stroke-dasharray="0 17 1.2 3.8 3.2 14.8 4.2 3.8 1.2 88.8 1.2 95.8 1.2 6.8 1.2 24.8 1.2 31.8 1.2 1.8 3.2 11.8"/>
<circle cx="304.4" cy="272.0" r="143.98" pathLength="320" stroke="#effd00" stroke-dasharray="0 81 2.2 58.8 1.2 39.8 1.2 2.8 1.2 44.8 1.2 80.8 2.2 1.8 1.2 399.8"/>
<circle cx="304.4" cy="272.0" r="143.98" pathLength="320" stroke="#cffa00" stroke-dasharray="0 21 1.2 163.8 1.2 11.8 1.2 29.8 3.2 0.8 1.2 11.8 1.2 19.8 1.2 34.8 1.2 14.8"/>
<circle cx="304.4" cy="272.0" r="143.98" pathLength="320" stroke="#aff700" stroke-dasharray="0 18 1.2 60.8 1.2 1.8 1.2 161.8 1.2 55.8 1.2 12.8 2.2 0.8"/>
<circle cx="304.4" cy="272.0" r="143.98" pathLength="320" stroke="#8ff400" stroke-dasharray="0 79 1.2 75.8 1.2 26.8 2.2 39.8 1.2 16.8 1.2 2.8 1.2 7.8 1.2 61.8"/>
<circle cx="304.4" cy="272.0" r="143.98" pathLength="320" stroke="#70f100" stroke-dasharray="0 49 1.2 27.8 1.2 120.8 2.2 22.8 1.2 0.8 1.2 0.8 1.2 14.8 1.2 9.8 1.2 0.8 1.2 7.8 1.2 51.8"/>
<circle cx="304.4" cy="272.0" r="143.98" pathLength="320" stroke="#50ee00" stroke-dasharray="0 20 1.2 87.8 2.2 25.8 1.2 63.8 1.2 45.8 1.2 1.8 2.2 65.8"/>
<circle cx="304.4" cy="272.0" r="143.98" pathLength="320" stroke="#30eb00" stroke-dasharray="0 19 1.2 56.8 1.2 29.8 1.2 1.8 1.2 115.8 1.2 24.8 2.2 4.8 2.2 56.8"/>
<circle cx="304.4" cy="272.0" r="143.98" pathLength="320" stroke="#10e800" stroke-dasharray="0 84 1.2 26.8 1.2 89.8 1.2 45.8 2.2 6.8 2.2 4.8 1.2 52.8"/>
<circle cx="304.4" cy="272.0" r="143.98" pathLength="320" stroke="#00e810" stroke-dasharray="0 107 1.2 4.8 2.2 27.8 1.2 10.8 1.2 67.8 1.2 94.8"/>
<circle cx="304.4" cy="272.0" r="143.98" pathLength="320" stroke="#00eb30" stroke-dasharray="0 50 1.2 268.8"/>
<circle cx="304.4" cy="272.0" r="143.98" pathLength="320" stroke="#00ee50" stroke-dasharray="0 76 1.2 21.8 1.2 5.8 1.2 7.8 1.2 146.8 1.2 55.8"/>
<circle cx="304.4" cy="272.0" r="143.98" pathLength="320" stroke="#00f170" stroke-dasharray="0 98 1.2 5.8 1.2 29.8 1.2 85.8 1.2 40.8 1.2 53.8"/>
<circle cx="304.4" cy="272.0" r="143.98" pathLength="320" stroke="#00f48f" stroke-dasharray="0 100 5.2 158.8 1.2 54.8"/>
<circle cx="304.4" cy="272.0" r="143.98" pathLength="320" stroke="#00f7af" stroke-dasharray="0 85 1.2 9.8 2.2 17.8 1.2 86.8 1.2 114.8"/>
<circle cx="304.4" cy="272.0" r="143.98" pathLength="320" stroke="#00facf" stroke-dasharray="0 51 1.2 22.8 1.2 17.8 2.2 38.8 1.2 17.8 1.2 66.8 1.2 96.8"/>
<circle cx="304.4" cy="272.0" r="143.98" pathLength="320" stroke="#00fdef" stroke-dasharray="0 88 1.2 1.8 3.2 22.8 1.2 201.8"/>
<circle cx="304.4" cy="272.0" r="143.98" pathLength="320" stroke="#00effc" stroke-dasharray="0 74 1.2 11.8 1.2 1.8 1.2 42.8 1.2 8.8 1.2 73.8 1.2 99.8"/>
<circle cx="304.4" cy="272.0" r="143.98" pathLength="320" stroke="#00cff5" stroke-dasharray="0 52 1.2 32.8 1.2 1.8 1.2 27.8 1.2 98.8 1.2 0.8 2.2 97.8"/>
<circle cx="304.4" cy="272.0" r="143.98" pathLength="320" stroke="#00afee" stroke-dasharray="0 54 2.2 263.8"/>
<circle cx="304.4" cy="272.0" r="143.98" pathLength="320" stroke="#008fe7" stroke-dasharray="0 53 1.2 3.8 1.2 13.8 1.2 70.8 1.2 58.8 1.2 113.8"/>
<circle cx="304.4" cy="272.0" r="143.98" pathLength="320" stroke="#0070e0" stroke-dasharray="0 133 1.2 82.8 1.2 101.8"/>
<circle cx="304.4" cy="272.0" r="143.98" pathLength="320" stroke="#0050d9" stroke-dasharray="0 56 2.2 0.8 1.2 85.8 1.2 5.8 1.2 165.8"/>
<circle cx="304.4" cy="272.0" r="143.98" pathLength="320" stroke="#0030d2" stroke-dasharray="0 72 1.2 45.8 1.2 199.8"/>
<circle cx="304.4" cy="272.0" r="143.98" pathLength="320" stroke="#0010cb" stroke-dasharray="0 147 1.2 171.8"/>
<circle cx="304.4" cy="272.0" r="143.98" pathLength="320" stroke="#1000cb" stroke-dasharray="0 60 1.2 3.8 4.2 1.8 1.2 59.8 1.2 18.8 1.2 52.8 1.2 6.8 1.2 104.8"/>
<circle cx="304.4" cy="272.0" r="143.98" pathLength="320" stroke="#3000d2" stroke-dasharray="0 69 2.2 79.8 1.2 54.8 1.2 7.8 1.2 102.8"/>
<circle cx="304.4" cy="272.0" r="143.98" pathLength="320" stroke="#5000d9" stroke-dasharray="0 61 1.2 1.8 1.2 63.8 3.2 75.8 1.2 3.8 1.2 0.8 1.2 103.8"/>
<circle cx="304.4" cy="272.0" r="143.98" pathLength="320" stroke="#7000e0" stroke-dasharray="0 62 2.2 55.8 1.2 26.8 1.2 0.8 1.2 60.8 1.2 106.8"/>
<circle cx="304.4" cy="272.0" r="143.98" pathLength="320" stroke="#8f00e7" stroke-dasharray="0 128 1.2 79.8 1.2 109.8"/>
<circle cx="304.4" cy="272.0" r="143.98" pathLength="320" stroke="#af00ee" stroke-dasharray="0 149 1.2 60.8 1.2 107.8"/>
<circle cx="304.4" cy="272.0" r="143.98" pathLength="320" stroke="#cf00f5" stroke-dasharray="0 210 1.2 108.8"/>
<circle cx="304.4" cy="272.0" r="143.98" pathLength="320" stroke="#ef00fc" stroke-dasharray="0 121 7.2 191.8"/>
</g>
<g stroke-width="6.40">
<circle cx="304.4" cy="272.0" r="138.36" pathLength="320" stroke="#ff3000" stroke-dasharray="0 7 1.2 162.8 1.2 1.8 1.2 13.8 1.2 4.8 1.2 1.8 1.2 39.8 1.2 37.8 3.2 4.8 3.2 3.8 1.2 1.8 1.2 12.8 2.2 7.8"/>
<circle cx="304.4" cy="272.0" r="138.36" pathLength="320" stroke="#ff5000" stroke-dasharray="0 2 1.2 4.8 1.2 24.8 1.2 128.8 1.2 1.8 1.2 0.8 2.2 0.8 2.2 5.8 1.2 11.8 2.2 40.8 1.2 39.8 1.2 5.8 2.2 15.8 1.2 1.8 2.2 12.8"/>
<circle cx="304.4" cy="272.0" r="138.36" pathLength="320" stroke="#ff7000" stroke-dasharray="0 9 1.2 152.8 1.2 0.8 2.2 0.8 1.2 5.8 1.2 5.8 1.2 56.8 1.2 30.8 1.2 20.8 2.2 10.8 1.2 0.8 1.2 1.8 1.2 6.8"/>
<circle cx="304.4" cy="272.0" r="138.36" pathLength="320" stroke="#ff8f00" stroke-dasharray="0 1 1.2 7.8 1.2 150.8 1.2 12.8 1.2 1.8 1.2 7.8 1.2 45.8 1.2 4.8 1.2 60.8 2.2 2.8 1.2 10.8"/>
<circle cx="304.4" cy="272.0" r="138.36" pathLength="320" stroke="#ffaf00" stroke-dasharray="0 11 1.2 14.8 1.2 6.8 1.2 122.8 1.2 16.8 2.2 54.8 1.2 84.8"/>
<circle cx="304.4" cy="272.0" r="138.36" pathLength="320" stroke="#ffcf00" stroke-dasharray="0 14 1.2 7.8 1.2 135.8 2.2 24.8 1.2 53.8 1.2 76.8"/>
<circle cx="304.4" cy="272.0" r="138.36" pathLength="320" stroke="#ffef00" stroke-dasharray="1.2 10.8 2.2 0.8 1.2 5.8 1.2 0.8 1.2 132.8 1.2 23.8 1.2 0.8 2.2 11.8 1.2 31.8 2.2 12.8 4.2 19.8 1.2 40.8 1.2 5.8"/>
<circle cx="304.4" cy="272.0" r="138.36" pathLength="320" stroke="#effd00" stroke-dasharray="0 16 2.2 2.8 1.2 2.8 2.2 8.8 1.2 43.8 1.2 101.8 1.2 45.8 1.2 10.8 1.2 0.8 2.2 3.8 1.2 67.8"/>
<circle cx="304.4" cy="272.0" r="138.36" pathLength="320" stroke="#cffa00" stroke-dasharray="0 37 1.2 41.8 1.2 57.8 1.2 62.8 2.2 24.8 1.2 12.8 1.2 8.8 2.2 13.8 1.2 48.8"/>
<circle cx="304.4" cy="272.0" r="138.36" pathLength="320" stroke="#aff700" stroke-dasharray="0 18 1.2 18.8 1.2 3.8 4.2 34.8 1.2 56.8 1.2 58.8 3.2 1.8 1.2 19.8 2.2 23.8 2.2 1.8 1.2 11.8 1.2 49.8"/>
<circle cx="304.4" cy="272.0" r="138.36" pathLength="320" stroke="#8ff400" stroke-dasharray="0 20 1.2 25.8 1.2 30.8 1.2 57.8 1.2 88.8 2.2 83.8 1.2 3.8 1.2 399.8"/>
<circle cx="304.4" cy="272.0" r="138.36" pathLength="320" stroke="#70f100" stroke-dasharray="0 19 1.2 62.8 1.2 56.8 1.2 81.8 2.2 30.8 1.2 56.8 1.2 3.8"/>
<circle cx="304.4" cy="272.0" r="138.36" pathLength="320" stroke="#50ee00" stroke-dasharray="0 39 1.2 1.8 1.2 113.8 1.2 64.8 1.2 91.8 3.2 0.8"/>
<circle cx="304.4" cy="272.0" r="138.36" pathLength="320" stroke="#30eb00" stroke-dasharray="0 48 1.2 172.8 1.2 44.8 1.2 50.8"/>
<circle cx="304.4" cy="272.0" r="138.36" pathLength="320" stroke="#10e800" stroke-dasharray="0 40 2.2 35.8 1.2 4.8 1.2 23.8 3.2 24.8 1.2 3.8 1.2 114.8 1.2 60.8"/>
<circle cx="304.4" cy="272.0" r="138.36" pathLength="320" stroke="#00e810" stroke-dasharray="0 108 1.2 2.8 2.2 91.8 1.2 13.8 1.2 97.8"/>
<circle cx="304.4" cy="272.0" r="138.36" pathLength="320" stroke="#00eb30" stroke-dasharray="0 98 1.2 14.8 1.2 104.8 1.2 37.8 1.2 59.8"/>
<circle cx="304.4" cy="272.0" r="138.36" pathLength="320" stroke="#00ee50" stroke-dasharray="0 94 2.2 0.8 1.2 0.8 1.2 6.8 1.2 6.8 1.2 203.8"/>
<circle cx="304.4" cy="272.0" r="138.36" pathLength="320" stroke="#00f170" stroke-dasharray="0 49 1.2 34.8 1.2 9.8 1.2 2.8 1.2 3.8 2.2 8.8 1.2 18.8 1.2 18.8 1.2 102.8 1.2 58.8"/>
<circle cx="304.4" cy="272.0" r="138.36" pathLength="320" stroke="#00f48f" stroke-dasharray="0 77 1.2 14.8 1.2 6.8 4.2 11.8 1.2 24.8 1.2 74.8 1.2 40.8 1.2 4.8 1.2 51.8"/>
<circle cx="304.4" cy="272.0" r="138.36" pathLength="320" stroke="#00facf" stroke-dasharray="0 50 1.2 0.8 2.2 37.8 1.2 24.8 1.2 15.8 1.2 81.8 1.2 42.8 1.2 56.8"/>
<circle cx="304.4" cy="272.0" r="138.36" pathLength="320" stroke="#00fdef" stroke-dasharray="0 51 1.2 1.8 1.2 3.8 1.2 30.8 1.2 51.8 1.2 61.8 1.2 8.8 1.2 101.8"/>
<circle cx="304.4" cy="272.0" r="138.36" pathLength="320" stroke="#00effc" stroke-dasharray="0 86 1.2 2.8 1.2 42.8 1.2 19.8 1.2 59.8 1.2 102.8"/>
<circle cx="304.4" cy="272.0" r="138.36" pathLength="320" stroke="#00cff5" stroke-dasharray="0 55 1.2 1.8 1.2 0.8 1.2 14.8 1.2 11.8 1.2 54.8 1.2 67.8 2.2 103.8"/>
<circle cx="304.4" cy="272.0" r="138.36" pathLength="320" stroke="#00afee" stroke-dasharray="0 61 1.2 25.8 1.2 29.8 1.2 92.8 1.2 48.8 1.2 1.8 1.2 52.8"/>
<circle cx="304.4" cy="272.0" r="138.36" pathLength="320" stroke="#008fe7" stroke-dasharray="0 56 2.2 3.8 1.2 23.8 1.2 44.8 1.2 11.8 1.2 6.8 1.2 164.8"/>
<circle cx="304.4" cy="272.0" r="138.36" pathLength="320" stroke="#0070e0" stroke-dasharray="0 63 1.2 10.8 1.2 243.8"/>
<circle cx="304.4" cy="272.0" r="138.36" pathLength="320" stroke="#0050d9" stroke-dasharray="0 64 1.2 146.8 1.2 50.8 2.2 53.8"/>
<circle cx="304.4" cy="272.0" r="138.36" pathLength="320" stroke="#0030d2" stroke-dasharray="0 65 1.2 65.8 1.2 16.8 2.2 0.8 1.2 53.8 1.2 110.8"/>
<circle cx="304.4" cy="272.0" r="138.36" pathLength="320" stroke="#0010cb" stroke-dasharray="0 74 1.2 71.8 1.2 0.8 1.2 1.8 1.2 166.8"/>
<circle cx="304.4" cy="272.0" r="138.36" pathLength="320" stroke="#1000cb" stroke-dasharray="0 66 1.2 52.8 1.2 26.8 1.2 61.8 1.2 107.8"/>
<circle cx="304.4" cy="272.0" r="138.36" pathLength="320" stroke="#5000d9" stroke-dasharray="0 67 1.2 3.8 2.2 56.8 1.2 76.8 1.2 109.8"/>
<circle cx="304.4" cy="272.0" r="138.36" pathLength="320" stroke="#7000e0" stroke-dasharray="0 71 1.2 137.8 1.2 108.8"/>
<circle cx="304.4" cy="272.0" r="138.36" pathLength="320" stroke="#8f00e7" stroke-dasharray="0 68 1.2 0.8 1.2 248.8"/>
<circle cx="304.4" cy="272.0" r="138.36" pathLength="320" stroke="#af00ee" stroke-dasharray="0 69 1.2 59.8 1.2 188.8"/>
<circle cx="304.4" cy="272.0" r="138.36" pathLength="320" stroke="#cf00f5" stroke-dasharray="0 124 1.2 194.8"/>
<circle cx="304.4" cy="272.0" r="138.36" pathLength="320" stroke="#ef00fc" stroke-dasharray="0 121 3.2 0.8 5.2 189.8"/>
</g>
<g stroke-width="6.38">
<circle cx="304.4" cy="272.0" r="132.77" pathLength="320" stroke="#ff3000" stroke-dasharray="0 166 1.2 6.8 1.2 13.8 1.2 0.8 1.2 10.8 1.2 26.8 1.2 2.8 1.2 52.8 1.2 0.8 1.2 6.8 1.2 8.8 1.2 9.8"/>
<circle cx="304.4" cy="272.0" r="132.77" pathLength="320" stroke="#ff5000" stroke-dasharray="0 162 1.2 7.8 1.2 7.8 1.2 1.8 1.2 7.8 1.2 0.8 1.2 8.8 2.2 67.8 1.2 0.8 1.2 12.8 1.2 18.8 3.2 6.8"/>
<circle cx="304.4" cy="272.0" r="132.77" pathLength="320" stroke="#ff7000" stroke-dasharray="0 167 1.2 6.8 1.2 7.8 1.2 2.8 1.2 9.8 1.2 1.8 1.2 42.8 1.2 29.8 5.2 37.8"/>
<circle cx="304.4" cy="272.0" r="132.77" pathLength="320" stroke="#ff8f00" stroke-dasharray="0 161 1.2 5.8 3.2 5.8 3.2 12.8 1.2 41.8 3.2 5.8 1.2 37.8 1.2 27.8 1.2 5.8"/>
<circle cx="304.4" cy="272.0" r="132.77" pathLength="320" stroke="#ffaf00" stroke-dasharray="0 159 2.2 14.8 1.2 7.8 1.2 14.8 1.2 27.8 1.2 7.8 3.2 1.8 1.2 1.8 1.2 33.8 1.2 36.8"/>
<circle cx="304.4" cy="272.0" r="132.77" pathLength="320" stroke="#ffcf00" stroke-dasharray="0 28 1.2 128.8 1.2 26.8 2.2 11.8 1.2 4.8 1.2 34.8 2.2 38.8 1.2 35.8"/>
<circle cx="304.4" cy="272.0" r="132.77" pathLength="320" stroke="#ffef00" stroke-dasharray="0 7 2.2 19.8 1.2 217.8 1.2 64.8 1.2 4.8"/>
<circle cx="304.4" cy="272.0" r="132.77" pathLength="320" stroke="#effd00" stroke-dasharray="0 6 1.2 17.8 3.2 197.8 4.2 18.8 2.2 1.8 2.2 17.8 1.2 45.8"/>
<circle cx="304.4" cy="272.0" r="132.77" pathLength="320" stroke="#cffa00" stroke-dasharray="0 5 1.2 2.8 1.2 12.8 2.2 191.8 1.2 0.8 1.2 3.8 2.2 24.8 1.2 2.8 1.2 63.8"/>
<circle cx="304.4" cy="272.0" r="132.77" pathLength="320" stroke="#aff700" stroke-dasharray="0 18 1.2 2.8 1.2 6.8 1.2 125.8 1.2 57.8 1.2 0.8 1.2 0.8 4.2 27.8 1.2 61.8 1.2 3.8"/>
<circle cx="304.4" cy="272.0" r="132.77" pathLength="320" stroke="#8ff400" stroke-dasharray="0 4 1.2 4.8 1.2 4.8 2.2 2.8 1.2 184.8 1.2 47.8 1.2 62.8"/>
<circle cx="304.4" cy="272.0" r="132.77" pathLength="320" stroke="#70f100" stroke-dasharray="1.2 17.8 2.2 117.8 2.2 73.8 1.2 40.8 1.2 60.8 1.2 399.8"/>
<circle cx="304.4" cy="272.0" r="132.77" pathLength="320" stroke="#50ee00" stroke-dasharray="0 1 1.2 0.8 1.2 6.8 1.2 1.8 2.2 14.8 1.2 108.8 1.2 177.8"/>
<circle cx="304.4" cy="272.0" r="132.77" pathLength="320" stroke="#30eb00" stroke-dasharray="0 2 1.2 8.8 2.2 65.8 1.2 56.8 1.2 74.8 1.2 56.8 1.2 42.8 1.2 0.8 1.2 0.8"/>
<circle cx="304.4" cy="272.0" r="132.77" pathLength="320" stroke="#10e800" stroke-dasharray="0 38 1.2 39.8 1.2 0.8 1.2 73.8 1.2 50.8 1.2 107.8 1.2 1.8"/>
<circle cx="304.4" cy="272.0" r="132.77" pathLength="320" stroke="#00e810" stroke-dasharray="0 32 1.2 5.8 1.2 101.8 1.2 69.8 1.2 43.8 1.2 9.8 1.2 49.8"/>
<circle cx="304.4" cy="272.0" r="132.77" pathLength="320" stroke="#00eb30" stroke-dasharray="0 37 1.2 98.8 1.2 129.8 1.2 0.8 2.2 47.8"/>
<circle cx="304.4" cy="272.0" r="132.77" pathLength="320" stroke="#00ee50" stroke-dasharray="0 33 1.2 5.8 5.2 1.8 2.2 28.8 1.2 2.8 1.2 24.8 2.2 2.8 3.2 38.8 1.2 55.8 1.2 106.8"/>
<circle cx="304.4" cy="272.0" r="132.77" pathLength="320" stroke="#00f170" stroke-dasharray="0 36 1.2 7.8 2.2 45.8 2.2 16.8 1.2 2.8 1.2 25.8 1.2 114.8 1.2 1.8 1.2 56.8"/>
<circle cx="304.4" cy="272.0" r="132.77" pathLength="320" stroke="#00f48f" stroke-dasharray="0 34 2.2 12.8 2.2 0.8 2.2 52.8 1.2 1.8 1.2 24.8 1.2 16.8 1.2 53.8 1.2 0.8 1.2 47.8 2.2 0.8 1.2 55.8"/>
<circle cx="304.4" cy="272.0" r="132.77" pathLength="320" stroke="#00f7af" stroke-dasharray="0 51 1.2 9.8 1.2 19.8 1.2 7.8 1.2 1.8 1.2 14.8 1.2 31.8 1.2 4.8 4.2 112.8 1.2 51.8"/>
<circle cx="304.4" cy="272.0" r="132.77" pathLength="320" stroke="#00facf" stroke-dasharray="0 54 1.2 5.8 1.2 14.8 1.2 5.8 1.2 5.8 1.2 24.8 1.2 91.8 1.2 52.8 1.2 0.8 1.2 52.8"/>
<circle cx="304.4" cy="272.0" r="132.77" pathLength="320" stroke="#00fdef" stroke-dasharray="0 55 1.2 33.8 1.2 4.8 1.2 8.8 1.2 37.8 1.2 2.8 1.2 114.8 1.2 53.8"/>
<circle cx="304.4" cy="272.0" r="132.77" pathLength="320" stroke="#00effc" stroke-dasharray="0 56 5.2 13.8 2.2 7.8 1.2 16.8 3.2 28.8 1.2 9.8 1.2 172.8"/>
<circle cx="304.4" cy="272.0" r="132.77" pathLength="320" stroke="#00cff5" stroke-dasharray="0 63 1.2 32.8 1.2 19.8 1.2 27.8 1.2 171.8"/>
<circle cx="304.4" cy="272.0" r="132.77" pathLength="320" stroke="#00afee" stroke-dasharray="0 64 1.2 7.8 2.2 13.8 1.2 7.8 1.2 2.8 1.2 44.8 1.2 170.8"/>
<circle cx="304.4" cy="272.0" r="132.77" pathLength="320" stroke="#008fe7" stroke-dasharray="0 65 1.2 5.8 1.2 12.8 1.2 11.8 1.2 219.8"/>
<circle cx="304.4" cy="272.0" r="132.77" pathLength="320" stroke="#0070e0" stroke-dasharray="0 71 1.2 27.8 2.2 31.8 1.2 184.8"/>
<circle cx="304.4" cy="272.0" r="132.77" pathLength="320" stroke="#0050d9" stroke-dasharray="0 87 2.2 230.8"/>
<circle cx="304.4" cy="272.0" r="132.77" pathLength="320" stroke="#0030d2" stroke-dasharray="0 66 1.2 51.8 1.2 12.8 1.2 185.8"/>
<circle cx="304.4" cy="272.0" r="132.77" pathLength="320" stroke="#0010cb" stroke-dasharray="0 70 1.2 248.8"/>
<circle cx="304.4" cy="272.0" r="132.77" pathLength="320" stroke="#1000cb" stroke-dasharray="0 132 1.2 186.8"/>
<circle cx="304.4" cy="272.0" r="132.77" pathLength="320" stroke="#3000d2" stroke-dasharray="0 67 1.2 51.8 1.2 198.8"/>
<circle cx="304.4" cy="272.0" r="132.77" pathLength="320" stroke="#5000d9" stroke-dasharray="0 131 1.2 187.8"/>
<circle cx="304.4" cy="272.0" r="132.77" pathLength="320" stroke="#7000e0" stroke-dasharray="0 68 2.2 249.8"/>
<circle cx="304.4" cy="272.0" r="132.77" pathLength="320" stroke="#8f00e7" stroke-dasharray="0 130 1.2 188.8"/>
<circle cx="304.4" cy="272.0" r="132.77" pathLength="320" stroke="#af00ee" stroke-dasharray="0 121 1.2 197.8"/>
<circle cx="304.4" cy="272.0" r="132.77" pathLength="320" stroke="#cf00f5" stroke-dasharray="0 122 1.2 4.8 2.2 189.8"/>
<circle cx="304.4" cy="272.0" r="132.77" pathLength="320" stroke="#ef00fc" stroke-dasharray="0 123 5.2 191.8"/>
</g>
<g stroke-width="6.35">
<circle cx="304.4" cy="272.0" r="127.21" pathLength="320" stroke="#ff3000" stroke-dasharray="0 172 1.2 2.8 1.2 0.8 1.2 8.8 1.2 8.8 1.2 1.8 1.2 15.8 1.2 11.8 2.2 1.8 1.2 58.8 1.2 8.8 3.2 11.8"/>
<circle cx="304.4" cy="272.0" r="127.21" pathLength="320" stroke="#ff5000" stroke-dasharray="0 161 2.2 9.8 1.2 0.8 1.2 7.8 2.2 12.8 2.2 5.8 1.2 8.8 1.2 66.8 1.2 7.8 1.2 12.8 2.2 9.8"/>
<circle cx="304.4" cy="272.0" r="127.21" pathLength="320" stroke="#ff7000" stroke-dasharray="0 160 1.2 9.8 1.2 1.8 1.2 7.8 1.2 1.8 2.2 19.8 1.2 9.8 1.2 9.8 1.2 44.8 1.2 35.8 1.2 5.8"/>
<circle cx="304.4" cy="272.0" r="127.21" pathLength="320" stroke="#ff8f00" stroke-dasharray="0 167 4.2 7.8 1.2 1.8 1.2 32.8 1.2 9.8 3.2 5.8 1.2 39.8 1.2 10.8 1.2 2.8 1.2 25.8"/>
<circle cx="304.4" cy="272.0" r="127.21" pathLength="320" stroke="#ffaf00" stroke-dasharray="0 209 1.2 13.8 3.2 9.8 2.2 35.8 1.2 15.8 1.2 26.8"/>
<circle cx="304.4" cy="272.0" r="127.21" pathLength="320" stroke="#ffcf00" stroke-dasharray="0 159 1.2 19.8 2.2 27.8 1.2 8.8 1.2 1.8 1.2 14.8 1.2 4.8 2.2 30.8 1.2 4.8 1.2 5.8 1.2 27.8"/>
<circle cx="304.4" cy="272.0" r="127.21" pathLength="320" stroke="#ffef00" stroke-dasharray="0 215 1.2 5.8 1.2 16.8 1.2 5.8 1.2 7.8 2.2 31.8 1.2 22.8 1.2 4.8"/>
<circle cx="304.4" cy="272.0" r="127.21" pathLength="320" stroke="#effd00" stroke-dasharray="0 211 1.2 1.8 1.2 5.8 1.2 18.8 1.2 1.8 1.2 2.8 2.2 7.8 1.2 23.8 1.2 35.8"/>
<circle cx="304.4" cy="272.0" r="127.21" pathLength="320" stroke="#cffa00" stroke-dasharray="0 158 1.2 52.8 2.2 27.8 1.2 6.8 1.2 2.8 2.2 22.8 1.2 1.8 1.2 36.8"/>
<circle cx="304.4" cy="272.0" r="127.21" pathLength="320" stroke="#aff700" stroke-dasharray="0 243 1.2 6.8 3.2 19.8 1.2 4.8 2.2 37.8"/>
<circle cx="304.4" cy="272.0" r="127.21" pathLength="320" stroke="#8ff400" stroke-dasharray="0 15 2.2 6.8 1.2 289.8 1.2 3.8"/>
<circle cx="304.4" cy="272.0" r="127.21" pathLength="320" stroke="#70f100" stroke-dasharray="0 17 1.2 4.8 1.2 0.8 1.2 50.8 1.2 61.8 1.2 2.8 2.2 10.8 1.2 161.8"/>
<circle cx="304.4" cy="272.0" r="127.21" pathLength="320" stroke="#50ee00" stroke-dasharray="0 22 1.2 51.8 2.2 61.8 1.2 2.8 1.2 1.8 1.2 7.8 2.2 101.8 1.2 59.8"/>
<circle cx="304.4" cy="272.0" r="127.21" pathLength="320" stroke="#30eb00" stroke-dasharray="0 18 1.2 1.8 1.2 51.8 1.2 2.8 1.2 61.8 2.2 3.8 1.2 124.8 1.2 41.8 1.2 2.8"/>
<circle cx="304.4" cy="272.0" r="127.21" pathLength="320" stroke="#10e800" stroke-dasharray="0 14 1.2 4.8 1.2 4.8 1.2 20.8 2.2 87.8 1.2 8.8 1.2 0.8 1.2 2.8 1.2 164.8"/>
<circle cx="304.4" cy="272.0" r="127.21" pathLength="320" stroke="#00e810" stroke-dasharray="0 19 1.2 52.8 1.2 74.8 1.2 169.8"/>
<circle cx="304.4" cy="272.0" r="127.21" pathLength="320" stroke="#00eb30" stroke-dasharray="0 8 2.2 16.8 2.2 17.8 1.2 1.8 1.2 27.8 1.2 34.8 1.2 20.8 1.2 12.8 1.2 119.8 1.2 46.8"/>
<circle cx="304.4" cy="272.0" r="127.21" pathLength="320" stroke="#00ee50" stroke-dasharray="0 7 1.2 4.8 1.2 36.8 1.2 63.8 1.2 34.8 2.2 105.8 1.2 2.8 1.2 3.8 3.2 44.8 1.2 1.8"/>
<circle cx="304.4" cy="272.0" r="127.21" pathLength="320" stroke="#00f170" stroke-dasharray="0 10 1.2 17.8 1.2 21.8 1.2 18.8 1.2 18.8 1.2 20.8 1.2 149.8 1.2 1.8 1.2 50.8"/>
<circle cx="304.4" cy="272.0" r="127.21" pathLength="320" stroke="#00f48f" stroke-dasharray="0 6 1.2 3.8 2.2 25.8 1.2 5.8 1.2 5.8 1.2 38.8 1.2 18.8 1.2 148.8 1.2 1.8 2.2 49.8 1.2 0.8"/>
<circle cx="304.4" cy="272.0" r="127.21" pathLength="320" stroke="#00f7af" stroke-dasharray="0 4 2.2 31.8 1.2 5.8 1.2 7.8 1.2 24.8 1.2 9.8 1.2 1.8 1.2 21.8 1.2 17.8 1.2 123.8 1.2 56.8 1.2 399.8"/>
<circle cx="304.4" cy="272.0" r="127.21" pathLength="320" stroke="#00facf" stroke-dasharray="1.2 1.8 1.2 25.8 1.2 8.8 1.2 1.8 2.2 9.8 1.2 205.8 1.2 56.8"/>
<circle cx="304.4" cy="272.0" r="127.21" pathLength="320" stroke="#00fdef" stroke-dasharray="0 1 2.2 33.8 1.2 2.8 2.2 27.8 1.2 17.8 1.2 3.8 1.2 15.8 1.2 206.8"/>
<circle cx="304.4" cy="272.0" r="127.21" pathLength="320" stroke="#00effc" stroke-dasharray="0 36 1.2 18.8 1.2 262.8"/>
<circle cx="304.4" cy="272.0" r="127.21" pathLength="320" stroke="#00cff5" stroke-dasharray="0 31 1.2 48.8 1.2 13.8 1.2 37.8 1.2 183.8"/>
<circle cx="304.4" cy="272.0" r="127.21" pathLength="320" stroke="#00afee" stroke-dasharray="0 57 3.2 28.8 1.2 17.8 4.2 207.8"/>
<circle cx="304.4" cy="272.0" r="127.21" pathLength="320" stroke="#008fe7" stroke-dasharray="0 35 1.2 23.8 2.2 44.8 1.2 9.8 1.2 200.8"/>
<circle cx="304.4" cy="272.0" r="127.21" pathLength="320" stroke="#0070e0" stroke-dasharray="0 32 1.2 28.8 1.2 6.8 1.2 16.8 1.2 7.8 1.2 7.8 1.2 26.8 1.2 184.8"/>
<circle cx="304.4" cy="272.0" r="127.21" pathLength="320" stroke="#0050d9" stroke-dasharray="0 33 2.2 46.8 1.2 3.8 1.2 14.8 3.2 26.8 1.2 185.8"/>
<circle cx="304.4" cy="272.0" r="127.21" pathLength="320" stroke="#0030d2" stroke-dasharray="0 84 3.2 10.8 1.2 32.8 1.2 186.8"/>
<circle cx="304.4" cy="272.0" r="127.21" pathLength="320" stroke="#0010cb" stroke-dasharray="0 63 1.2 18.8 1.2 235.8"/>
<circle cx="304.4" cy="272.0" r="127.21" pathLength="320" stroke="#1000cb" stroke-dasharray="0 99 1.2 1.8 1.2 15.8 1.2 10.8 1.2 187.8"/>
<circle cx="304.4" cy="272.0" r="127.21" pathLength="320" stroke="#3000d2" stroke-dasharray="0 69 1.2 30.8 1.2 27.8 1.2 188.8"/>
<circle cx="304.4" cy="272.0" r="127.21" pathLength="320" stroke="#5000d9" stroke-dasharray="0 64 2.2 33.8 1.2 218.8"/>
<circle cx="304.4" cy="272.0" r="127.21" pathLength="320" stroke="#7000e0" stroke-dasharray="0 66 1.2 61.8 1.2 189.8"/>
<circle cx="304.4" cy="272.0" r="127.21" pathLength="320" stroke="#8f00e7" stroke-dasharray="0 67 2.2 50.8 1.2 198.8"/>
<circle cx="304.4" cy="272.0" r="127.21" pathLength="320" stroke="#af00ee" stroke-dasharray="0 128 1.2 190.8"/>
<circle cx="304.4" cy="272.0" r="127.21" pathLength="320" stroke="#ef00fc" stroke-dasharray="0 121 7.2 191.8"/>
</g>
<g stroke-width="6.33">
<circle cx="304.4" cy="272.0" r="121.67" pathLength="320" stroke="#ff3000" stroke-dasharray="0 163 1.2 24.8 1.2 1.8 6.2 6.8 1.2 8.8 1.2 0.8 1.2 19.8 1.2 80.8"/>
<circle cx="304.4" cy="272.0" r="121.67" pathLength="320" stroke="#ff5000" stroke-dasharray="0 161 2.2 24.8 1.2 22.8 1.2 0.8 1.2 2.8 1.2 76.8 1.2 22.8"/>
<circle cx="304.4" cy="272.0" r="121.67" pathLength="320" stroke="#ff7000" stroke-dasharray="0 160 1.2 4.8 1.2 2.8 2.2 12.8 3.2 14.8 1.2 8.8 1.2 4.8 1.2 12.8 1.2 23.8 1.2 53.8 1.2 5.8"/>
<circle cx="304.4" cy="272.0" r="121.67" pathLength="320" stroke="#ff8f00" stroke-dasharray="0 168 2.2 13.8 1.2 18.8 1.2 14.8 2.2 34.8 1.2 27.8 1.2 7.8 1.2 23.8"/>
<circle cx="304.4" cy="272.0" r="121.67" pathLength="320" stroke="#ffaf00" stroke-dasharray="0 159 1.2 6.8 1.2 8.8 2.2 42.8 5.2 11.8 1.2 44.8 1.2 0.8 1.2 31.8"/>
<circle cx="304.4" cy="272.0" r="121.67" pathLength="320" stroke="#ffcf00" stroke-dasharray="0 172 1.2 2.8 1.2 49.8 1.2 1.8 3.2 25.8 1.2 23.8 1.2 6.8 3.2 24.8"/>
<circle cx="304.4" cy="272.0" r="121.67" pathLength="320" stroke="#ffef00" stroke-dasharray="0 173 1.2 0.8 1.2 2.8 1.2 2.8 1.2 43.8 2.2 57.8 1.2 30.8"/>
<circle cx="304.4" cy="272.0" r="121.67" pathLength="320" stroke="#effd00" stroke-dasharray="0 158 1.2 14.8 1.2 69.8 1.2 3.8 2.2 30.8 1.2 6.8 1.2 21.8 1.2 4.8"/>
<circle cx="304.4" cy="272.0" r="121.67" pathLength="320" stroke="#cffa00" stroke-dasharray="0 182 1.2 56.8 1.2 2.8 1.2 0.8 4.2 1.8 1.2 2.8 1.2 62.8"/>
<circle cx="304.4" cy="272.0" r="121.67" pathLength="320" stroke="#aff700" stroke-dasharray="0 15 2.2 139.8 1.2 21.8 2.2 70.8 1.2 27.8 1.2 5.8 2.2 28.8"/>
<circle cx="304.4" cy="272.0" r="121.67" pathLength="320" stroke="#8ff400" stroke-dasharray="0 14 1.2 1.8 1.2 124.8 1.2 2.8 2.2 93.8 1.2 9.8 2.2 63.8"/>
<circle cx="304.4" cy="272.0" r="121.67" pathLength="320" stroke="#70f100" stroke-dasharray="0 142 1.2 2.8 1.2 8.8 1.2 83.8 2.2 71.8 1.2 3.8"/>
<circle cx="304.4" cy="272.0" r="121.67" pathLength="320" stroke="#50ee00" stroke-dasharray="0 13 1.2 3.8 1.2 121.8 1.2 1.8 2.2 2.8 1.2 109.8 1.2 19.8 1.2 37.8"/>
<circle cx="304.4" cy="272.0" r="121.67" pathLength="320" stroke="#30eb00" stroke-dasharray="0 73 2.2 1.8 2.2 75.8 1.2 113.8 1.2 1.8 3.2 0.8 4.2 38.8"/>
<circle cx="304.4" cy="272.0" r="121.67" pathLength="320" stroke="#10e800" stroke-dasharray="0 19 1.2 0.8 1.2 49.8 1.2 1.8 2.2 62.8 1.2 8.8 1.2 117.8 1.2 0.8 1.2 3.8 1.2 42.8"/>
<circle cx="304.4" cy="272.0" r="121.67" pathLength="320" stroke="#00e810" stroke-dasharray="0 12 1.2 6.8 1.2 0.8 1.2 55.8 1.2 73.8 1.2 112.8 1.2 2.8 1.2 42.8 1.2 2.8"/>
<circle cx="304.4" cy="272.0" r="121.67" pathLength="320" stroke="#00eb30" stroke-dasharray="0 50 2.2 86.8 1.2 10.8 1.2 0.8 1.2 165.8"/>
<circle cx="304.4" cy="272.0" r="121.67" pathLength="320" stroke="#00ee50" stroke-dasharray="0 11 1.2 39.8 1.2 62.8 1.2 20.8 1.2 12.8 1.2 107.8 1.2 57.8"/>
<circle cx="304.4" cy="272.0" r="121.67" pathLength="320" stroke="#00f170" stroke-dasharray="0 23 1.2 24.8 1.2 29.8 1.2 10.8 2.2 20.8 1.2 146.8 1.2 2.8 1.2 51.8"/>
<circle cx="304.4" cy="272.0" r="121.67" pathLength="320" stroke="#00f48f" stroke-dasharray="0 9 2.2 105.8 1.2 143.8 1.2 0.8 3.2 49.8 1.2 1.8"/>
<circle cx="304.4" cy="272.0" r="121.67" pathLength="320" stroke="#00f7af" stroke-dasharray="0 6 3.2 38.8 1.2 3.8 1.2 82.8 1.2 181.8"/>
<circle cx="304.4" cy="272.0" r="121.67" pathLength="320" stroke="#00facf" stroke-dasharray="0 1 5.2 17.8 1.2 15.8 2.2 10.8 1.2 15.8 1.2 18.8 1.2 1.8 1.2 18.8 1.2 202.8 1.2 0.8"/>
<circle cx="304.4" cy="272.0" r="121.67" pathLength="320" stroke="#00fdef" stroke-dasharray="1.2 41.8 5.2 6.8 1.2 24.8 1.2 53.8 1.2 181.8 1.2 399.8"/>
<circle cx="304.4" cy="272.0" r="121.67" pathLength="320" stroke="#00effc" stroke-dasharray="0 40 1.2 14.8 1.2 32.8 1.2 228.8"/>
<circle cx="304.4" cy="272.0" r="121.67" pathLength="320" stroke="#00cff5" stroke-dasharray="0 25 1.2 30.8 1.2 29.8 2.2 22.8 1.2 3.8 1.2 200.8"/>
<circle cx="304.4" cy="272.0" r="121.67" pathLength="320" stroke="#00afee" stroke-dasharray="0 39 1.2 46.8 1.2 46.8 1.2 183.8"/>
<circle cx="304.4" cy="272.0" r="121.67" pathLength="320" stroke="#008fe7" stroke-dasharray="0 58 1.2 22.8 1.2 11.8 1.2 223.8"/>
<circle cx="304.4" cy="272.0" r="121.67" pathLength="320" stroke="#0070e0" stroke-dasharray="0 26 1.2 10.8 1.2 19.8 1.2 22.8 1.2 27.8 1.2 20.8 1.2 184.8"/>
<circle cx="304.4" cy="272.0" r="121.67" pathLength="320" stroke="#0050d9" stroke-dasharray="0 70 1.2 14.8 1.2 45.8 1.2 185.8"/>
<circle cx="304.4" cy="272.0" r="121.67" pathLength="320" stroke="#0030d2" stroke-dasharray="0 27 2.2 6.8 2.2 21.8 1.2 22.8 2.2 32.8 1.2 7.8 3.2 188.8"/>
<circle cx="304.4" cy="272.0" r="121.67" pathLength="320" stroke="#0010cb" stroke-dasharray="0 29 1.2 4.8 1.2 24.8 3.2 66.8 2.2 186.8"/>
<circle cx="304.4" cy="272.0" r="121.67" pathLength="320" stroke="#1000cb" stroke-dasharray="0 30 1.2 0.8 3.2 60.8 1.2 29.8 1.2 191.8"/>
<circle cx="304.4" cy="272.0" r="121.67" pathLength="320" stroke="#3000d2" stroke-dasharray="0 31 1.2 31.8 1.2 45.8 1.2 207.8"/>
<circle cx="304.4" cy="272.0" r="121.67" pathLength="320" stroke="#5000d9" stroke-dasharray="0 69 1.2 26.8 6.2 2.8 2.2 211.8"/>
<circle cx="304.4" cy="272.0" r="121.67" pathLength="320" stroke="#7000e0" stroke-dasharray="0 65 1.2 36.8 1.2 0.8 1.2 13.8 1.2 4.8 1.2 192.8"/>
<circle cx="304.4" cy="272.0" r="121.67" pathLength="320" stroke="#8f00e7" stroke-dasharray="0 104 1.2 4.8 1.2 13.8 1.2 193.8"/>
<circle cx="304.4" cy="272.0" r="121.67" pathLength="320" stroke="#af00ee" stroke-dasharray="0 68 1.2 38.8 2.2 10.8 4.2 194.8"/>
<circle cx="304.4" cy="272.0" r="121.67" pathLength="320" stroke="#cf00f5" stroke-dasharray="0 66 1.2 252.8"/>
<circle cx="304.4" cy="272.0" r="121.67" pathLength="320" stroke="#ef00fc" stroke-dasharray="0 67 1.2 251.8"/>
</g>
<g stroke-width="6.30">
<circle cx="304.4" cy="272.0" r="116.15" pathLength="320" stroke="#ff3000" stroke-dasharray="0 163 1.2 34.8 4.2 2.8 1.2 6.8 1.2 83.8 2.2 18.8"/>
<circle cx="304.4" cy="272.0" r="116.15" pathLength="320" stroke="#ff5000" stroke-dasharray="0 162 1.2 0.8 1.2 30.8 1.2 5.8 1.2 4.8 1.2 2.8 1.2 5.8 1.2 3.8 1.2 8.8 3.2 59.8 1.2 20.8"/>
<circle cx="304.4" cy="272.0" r="116.15" pathLength="320" stroke="#ff7000" stroke-dasharray="0 195 1.2 8.8 1.2 3.8 1.2 0.8 1.2 7.8 1.2 1.8 1.2 0.8 1.2 5.8 2.2 61.8 1.2 15.8 1.2 4.8"/>
<circle cx="304.4" cy="272.0" r="116.15" pathLength="320" stroke="#ff8f00" stroke-dasharray="0 165 1.2 27.8 1.2 8.8 1.2 5.8 1.2 10.8 1.2 7.8 1.2 4.8 1.2 56.8 1.2 22.8"/>
<circle cx="304.4" cy="272.0" r="116.15" pathLength="320" stroke="#ffaf00" stroke-dasharray="0 161 1.2 30.8 1.2 27.8 1.2 3.8 5.2 62.8 1.2 23.8"/>
<circle cx="304.4" cy="272.0" r="116.15" pathLength="320" stroke="#ffcf00" stroke-dasharray="0 166 5.2 78.8 3.2 66.8"/>
<circle cx="304.4" cy="272.0" r="116.15" pathLength="320" stroke="#ffef00" stroke-dasharray="0 160 1.2 9.8 1.2 17.8 3.2 100.8 1.2 19.8 1.2 3.8"/>
<circle cx="304.4" cy="272.0" r="116.15" pathLength="320" stroke="#effd00" stroke-dasharray="0 158 2.2 28.8 1.2 58.8 1.2 2.8 1.2 38.8 1.2 25.8"/>
<circle cx="304.4" cy="272.0" r="116.15" pathLength="320" stroke="#cffa00" stroke-dasharray="0 157 1.2 29.8 1.2 49.8 1.2 4.8 1.2 1.8 1.2 70.8"/>
<circle cx="304.4" cy="272.0" r="116.15" pathLength="320" stroke="#aff700" stroke-dasharray="0 145 2.2 24.8 1.2 70.8 1.2 0.8 2.2 43.8 1.2 26.8"/>
<circle cx="304.4" cy="272.0" r="116.15" pathLength="320" stroke="#8ff400" stroke-dasharray="0 143 2.2 1.8 1.2 7.8 1.2 28.8 2.2 65.8 1.2 64.8"/>
<circle cx="304.4" cy="272.0" r="116.15" pathLength="320" stroke="#70f100" stroke-dasharray="0 14 1.2 132.8 1.2 1.8 2.2 24.8 2.2 4.8 1.2 56.8 1.2 75.8"/>
<circle cx="304.4" cy="272.0" r="116.15" pathLength="320" stroke="#50ee00" stroke-dasharray="0 15 1.2 56.8 1.2 67.8 1.2 5.8 2.2 21.8 1.2 1.8 2.2 1.8 1.2 2.8 1.2 54.8 1.2 43.8 1.2 4.8 1.2 23.8 1.2 2.8"/>
<circle cx="304.4" cy="272.0" r="116.15" pathLength="320" stroke="#30eb00" stroke-dasharray="0 74 1.2 77.8 1.2 0.8 1.2 17.8 2.2 4.8 1.2 0.8 1.2 99.8 1.2 34.8"/>
<circle cx="304.4" cy="272.0" r="116.15" pathLength="320" stroke="#10e800" stroke-dasharray="0 13 1.2 1.8 1.2 54.8 1.2 67.8 1.2 11.8 1.2 26.8 1.2 57.8 2.2 11.8 1.2 1.8 1.2 23.8 1.2 1.8 1.2 32.8"/>
<circle cx="304.4" cy="272.0" r="116.15" pathLength="320" stroke="#00e810" stroke-dasharray="0 75 1.2 39.8 1.2 22.8 1.2 114.8 2.2 13.8 1.2 3.8 2.2 7.8 1.2 1.8 1.2 28.8"/>
<circle cx="304.4" cy="272.0" r="116.15" pathLength="320" stroke="#00eb30" stroke-dasharray="0 17 1.2 98.8 1.2 20.8 1.2 118.8 1.2 10.8 1.2 6.8 1.2 1.8 1.2 33.8 1.2 1.8"/>
<circle cx="304.4" cy="272.0" r="116.15" pathLength="320" stroke="#00ee50" stroke-dasharray="0 12 1.2 62.8 3.2 190.8 1.2 1.8 1.2 1.8 1.2 10.8 2.2 29.8"/>
<circle cx="304.4" cy="272.0" r="116.15" pathLength="320" stroke="#00f170" stroke-dasharray="0 20 1.2 57.8 1.2 12.8 1.2 20.8 1.2 21.8 1.2 134.8 1.2 4.8 2.2 37.8"/>
<circle cx="304.4" cy="272.0" r="116.15" pathLength="320" stroke="#00f48f" stroke-dasharray="0 4 2.2 11.8 2.2 0.8 1.2 48.8 1.2 7.8 1.2 9.8 2.2 0.8 1.2 22.8 1.2 140.8 1.2 13.8 1.2 41.8 1.2 0.8"/>
<circle cx="304.4" cy="272.0" r="116.15" pathLength="320" stroke="#00f7af" stroke-dasharray="4.2 1.8 1.2 41.8 2.2 38.8 1.2 169.8 3.2 4.8 1.2 48.8 1.2 399.8"/>
<circle cx="304.4" cy="272.0" r="116.15" pathLength="320" stroke="#00facf" stroke-dasharray="0 11 1.2 35.8 1.2 1.8 1.2 28.8 1.2 31.8 1.2 21.8 1.2 125.8 1.2 2.8 1.2 50.8"/>
<circle cx="304.4" cy="272.0" r="116.15" pathLength="320" stroke="#00fdef" stroke-dasharray="0 7 2.2 0.8 1.2 40.8 1.2 35.8 1.2 174.8 3.2 51.8"/>
<circle cx="304.4" cy="272.0" r="116.15" pathLength="320" stroke="#00effc" stroke-dasharray="0 9 1.2 11.8 1.2 23.8 1.2 33.8 1.2 4.8 1.2 5.8 1.2 22.8 1.2 15.8 1.2 182.8"/>
<circle cx="304.4" cy="272.0" r="116.15" pathLength="320" stroke="#00cff5" stroke-dasharray="0 53 1.2 28.8 1.2 2.8 1.2 231.8"/>
<circle cx="304.4" cy="272.0" r="116.15" pathLength="320" stroke="#00afee" stroke-dasharray="0 45 2.2 36.8 1.2 27.8 1.2 13.8 1.2 5.8 1.2 183.8"/>
<circle cx="304.4" cy="272.0" r="116.15" pathLength="320" stroke="#008fe7" stroke-dasharray="0 44 1.2 8.8 1.2 14.8 1.2 13.8 2.2 41.8 6.2 184.8"/>
<circle cx="304.4" cy="272.0" r="116.15" pathLength="320" stroke="#0070e0" stroke-dasharray="0 23 1.2 15.8 4.2 51.8 1.2 29.8 1.2 191.8"/>
<circle cx="304.4" cy="272.0" r="116.15" pathLength="320" stroke="#0050d9" stroke-dasharray="0 120 1.2 198.8"/>
<circle cx="304.4" cy="272.0" r="116.15" pathLength="320" stroke="#0030d2" stroke-dasharray="0 39 1.2 14.8 1.2 263.8"/>
<circle cx="304.4" cy="272.0" r="116.15" pathLength="320" stroke="#0010cb" stroke-dasharray="0 97 3.2 11.8 1.2 206.8"/>
<circle cx="304.4" cy="272.0" r="116.15" pathLength="320" stroke="#1000cb" stroke-dasharray="0 24 1.2 12.8 1.2 16.8 1.2 42.8 1.2 19.8 1.2 3.8 1.2 192.8"/>
<circle cx="304.4" cy="272.0" r="116.15" pathLength="320" stroke="#3000d2" stroke-dasharray="0 32 1.2 3.8 1.2 18.8 2.2 9.8 1.2 30.8 1.2 19.8 1.2 196.8"/>
<circle cx="304.4" cy="272.0" r="116.15" pathLength="320" stroke="#5000d9" stroke-dasharray="0 25 1.2 4.8 1.2 0.8 1.2 24.8 2.2 40.8 1.2 7.8 1.2 10.8 1.2 0.8 1.2 193.8"/>
<circle cx="304.4" cy="272.0" r="116.15" pathLength="320" stroke="#7000e0" stroke-dasharray="0 30 1.2 4.8 1.2 23.8 1.2 61.8 1.2 194.8"/>
<circle cx="304.4" cy="272.0" r="116.15" pathLength="320" stroke="#8f00e7" stroke-dasharray="0 26 1.2 1.8 1.2 3.8 2.2 25.8 2.2 38.8 1.2 215.8"/>
<circle cx="304.4" cy="272.0" r="116.15" pathLength="320" stroke="#af00ee" stroke-dasharray="0 27 2.2 34.8 1.2 2.8 1.2 40.8 1.2 208.8"/>
<circle cx="304.4" cy="272.0" r="116.15" pathLength="320" stroke="#cf00f5" stroke-dasharray="0 65 1.2 37.8 6.2 209.8"/>
<circle cx="304.4" cy="272.0" r="116.15" pathLength="320" stroke="#ef00fc" stroke-dasharray="0 66 2.2 251.8"/>
</g>
<g stroke-width="6.28">
<circle cx="304.4" cy="272.0" r="110.66" pathLength="320" stroke="#ff1000" stroke-dasharray="0 218 3.2 78.8 13.2 6.8"/>
<circle cx="304.4" cy="272.0" r="110.66" pathLength="320" stroke="#ff3000" stroke-dasharray="0 203 1.2 12.8 1.2 10.8 3.2 80.8 1.2 5.8"/>
<circle cx="304.4" cy="272.0" r="110.66" pathLength="320" stroke="#ff5000" stroke-dasharray="0 162 1.2 38.8 1.2 0.8 1.2 15.8 1.2 5.8 1.2 90.8"/>
<circle cx="304.4" cy="272.0" r="110.66" pathLength="320" stroke="#ff7000" stroke-dasharray="0 163 1.2 36.8 1.2 2.8 1.2 9.8 1.2 14.8 1.2 65.8 1.2 19.8"/>
<circle cx="304.4" cy="272.0" r="110.66" pathLength="320" stroke="#ff8f00" stroke-dasharray="0 161 1.2 1.8 1.2 33.8 2.2 4.8 10.2 10.8 1.2 4.8 1.2 85.8"/>
<circle cx="304.4" cy="272.0" r="110.66" pathLength="320" stroke="#ffaf00" stroke-dasharray="0 198 1.2 22.8 5.2 6.8 2.2 77.8 1.2 4.8"/>
<circle cx="304.4" cy="272.0" r="110.66" pathLength="320" stroke="#ffcf00" stroke-dasharray="0 146 2.2 10.8 2.2 3.8 1.2 30.8 1.2 37.8 1.2 60.8 1.2 20.8"/>
<circle cx="304.4" cy="272.0" r="110.66" pathLength="320" stroke="#ffef00" stroke-dasharray="0 157 2.2 6.8 1.2 69.8 1.2 81.8"/>
<circle cx="304.4" cy="272.0" r="110.66" pathLength="320" stroke="#effd00" stroke-dasharray="0 145 1.2 1.8 1.2 46.8 1.2 99.8 1.2 21.8"/>
<circle cx="304.4" cy="272.0" r="110.66" pathLength="320" stroke="#cffa00" stroke-dasharray="0 156 1.2 9.8 1.2 69.8 1.2 4.8 5.2 46.8 1.2 17.8 1.2 3.8"/>
<circle cx="304.4" cy="272.0" r="110.66" pathLength="320" stroke="#aff700" stroke-dasharray="0 144 1.2 9.8 1.2 11.8 1.2 25.8 1.2 52.8 1.2 44.8 1.2 23.8"/>
<circle cx="304.4" cy="272.0" r="110.66" pathLength="320" stroke="#8ff400" stroke-dasharray="0 15 1.2 125.8 2.2 4.8 1.2 88.8 1.2 2.8 1.2 5.8 1.2 68.8"/>
<circle cx="304.4" cy="272.0" r="110.66" pathLength="320" stroke="#70f100" stroke-dasharray="0 14 1.2 125.8 1.2 7.8 5.2 13.8 1.2 23.8 1.2 55.8 1.2 67.8"/>
<circle cx="304.4" cy="272.0" r="110.66" pathLength="320" stroke="#50ee00" stroke-dasharray="0 16 1.2 152.8 2.2 67.8 1.2 0.8 1.2 8.8 1.2 66.8"/>
<circle cx="304.4" cy="272.0" r="110.66" pathLength="320" stroke="#30eb00" stroke-dasharray="0 13 1.2 226.8 1.2 10.8 1.2 39.8 1.2 20.8 1.2 2.8"/>
<circle cx="304.4" cy="272.0" r="110.66" pathLength="320" stroke="#10e800" stroke-dasharray="0 17 1.2 121.8 1.2 30.8 1.2 13.8 5.2 0.8 1.2 125.8"/>
<circle cx="304.4" cy="272.0" r="110.66" pathLength="320" stroke="#00e810" stroke-dasharray="0 186 1.2 4.8 1.2 60.8 1.2 64.8"/>
<circle cx="304.4" cy="272.0" r="110.66" pathLength="320" stroke="#00eb30" stroke-dasharray="0 12 1.2 4.8 1.2 153.8 1.2 1.8 1.2 7.8 1.2 130.8 1.2 1.8"/>
<circle cx="304.4" cy="272.0" r="110.66" pathLength="320" stroke="#00ee50" stroke-dasharray="0 72 2.2 99.8 2.2 0.8 1.2 5.8 1.2 134.8"/>
<circle cx="304.4" cy="272.0" r="110.66" pathLength="320" stroke="#00f170" stroke-dasharray="0 5 1.2 12.8 1.2 24.8 2.2 26.8 1.2 0.8 3.2 59.8 1.2 37.8 1.2 75.8 1.2 16.8 2.2 17.8 1.2 23.8 1.2 0.8"/>
<circle cx="304.4" cy="272.0" r="110.66" pathLength="320" stroke="#00f48f" stroke-dasharray="0 4 1.2 0.8 1.2 3.8 1.2 34.8 1.2 26.8 1.2 2.8 1.2 13.8 2.2 82.8 1.2 2.8 1.2 93.8 1.2 39.8 1.2 399.8"/>
<circle cx="304.4" cy="272.0" r="110.66" pathLength="320" stroke="#00f7af" stroke-dasharray="1.2 42.8 1.2 45.8 3.2 87.8 1.2 72.8 1.2 14.8 1.2 1.8 3.2 0.8 1.2 39.8"/>
<circle cx="304.4" cy="272.0" r="110.66" pathLength="320" stroke="#00facf" stroke-dasharray="0 1 3.2 2.8 1.2 1.8 1.2 8.8 1.2 26.8 1.2 21.8 1.2 7.8 1.2 14.8 1.2 82.8 1.2 75.8 2.2 60.8"/>
<circle cx="304.4" cy="272.0" r="110.66" pathLength="320" stroke="#00fdef" stroke-dasharray="0 8 2.2 38.8 1.2 30.8 1.2 7.8 1.2 89.8 1.2 97.8 1.2 10.8 1.2 26.8"/>
<circle cx="304.4" cy="272.0" r="110.66" pathLength="320" stroke="#00effc" stroke-dasharray="0 43 1.2 93.8 1.2 119.8 1.2 10.8 1.2 9.8 4.2 33.8"/>
<circle cx="304.4" cy="272.0" r="110.66" pathLength="320" stroke="#00cff5" stroke-dasharray="0 50 1.2 30.8 3.2 11.8 1.2 15.8 4.2 8.8 2.2 151.8 1.2 8.8 1.2 27.8"/>
<circle cx="304.4" cy="272.0" r="110.66" pathLength="320" stroke="#00afee" stroke-dasharray="0 21 1.2 19.8 1.2 41.8 1.2 2.8 1.2 22.8 1.2 22.8 1.2 121.8 1.2 0.8 1.2 5.8 2.2 14.8 1.2 2.8 1.2 28.8"/>
<circle cx="304.4" cy="272.0" r="110.66" pathLength="320" stroke="#0070e0" stroke-dasharray="0 52 1.2 45.8 2.2 16.8 1.2 5.8 1.2 6.8 1.2 154.8 1.2 29.8"/>
<circle cx="304.4" cy="272.0" r="110.66" pathLength="320" stroke="#0050d9" stroke-dasharray="0 41 1.2 58.8 1.2 8.8 1.2 11.8 1.2 139.8 2.2 19.8 2.2 30.8"/>
<circle cx="304.4" cy="272.0" r="110.66" pathLength="320" stroke="#0030d2" stroke-dasharray="0 40 1.2 11.8 2.2 4.8 2.2 60.8 1.2 5.8 1.2 0.8 1.2 186.8"/>
<circle cx="304.4" cy="272.0" r="110.66" pathLength="320" stroke="#0010cb" stroke-dasharray="0 22 1.2 14.8 2.2 14.8 1.2 2.8 1.2 41.8 1.2 6.8 1.2 7.8 1.2 10.8 1.2 187.8"/>
<circle cx="304.4" cy="272.0" r="110.66" pathLength="320" stroke="#1000cb" stroke-dasharray="0 37 1.2 17.8 1.2 0.8 1.2 2.8 1.2 5.8 1.2 32.8 1.2 17.8 1.2 196.8"/>
<circle cx="304.4" cy="272.0" r="110.66" pathLength="320" stroke="#3000d2" stroke-dasharray="0 34 3.2 19.8 1.2 50.8 1.2 9.8 2.2 197.8"/>
<circle cx="304.4" cy="272.0" r="110.66" pathLength="320" stroke="#5000d9" stroke-dasharray="0 23 1.2 8.8 1.2 28.8 1.2 3.8 1.2 34.8 1.2 214.8"/>
<circle cx="304.4" cy="272.0" r="110.66" pathLength="320" stroke="#7000e0" stroke-dasharray="0 31 2.2 71.8 4.2 210.8"/>
<circle cx="304.4" cy="272.0" r="110.66" pathLength="320" stroke="#8f00e7" stroke-dasharray="0 24 1.2 38.8 1.2 254.8"/>
<circle cx="304.4" cy="272.0" r="110.66" pathLength="320" stroke="#af00ee" stroke-dasharray="0 25 1.2 3.8 1.2 35.8 1.2 251.8"/>
<circle cx="304.4" cy="272.0" r="110.66" pathLength="320" stroke="#cf00f5" stroke-dasharray="0 26 1.2 37.8 2.2 252.8"/>
<circle cx="304.4" cy="272.0" r="110.66" pathLength="320" stroke="#ef00fc" stroke-dasharray="0 27 3.2 289.8"/>
</g>
<g stroke-width="6.26">
<circle cx="304.4" cy="272.0" r="105.20" pathLength="320" stroke="#ff1000" stroke-dasharray="0 219 3.2 10.8 4.2 67.8 5.2 9.8"/>
<circle cx="304.4" cy="272.0" r="105.20" pathLength="320" stroke="#ff3000" stroke-dasharray="0 232 1.2 70.8 1.2 4.8 3.2 6.8"/>
<circle cx="304.4" cy="272.0" r="105.20" pathLength="320" stroke="#ff5000" stroke-dasharray="0 218 1.2 2.8 1.2 13.8 1.2 64.8 1.2 15.8"/>
<circle cx="304.4" cy="272.0" r="105.20" pathLength="320" stroke="#ff7000" stroke-dasharray="0 231 1.2 69.8 1.2 16.8"/>
<circle cx="304.4" cy="272.0" r="105.20" pathLength="320" stroke="#ff8f00" stroke-dasharray="0 215 3.2 4.8 3.2 74.8 1.2 10.8 1.2 5.8"/>
<circle cx="304.4" cy="272.0" r="105.20" pathLength="320" stroke="#ffaf00" stroke-dasharray="0 214 1.2 14.8 1.2 68.8 1.2 18.8"/>
<circle cx="304.4" cy="272.0" r="105.20" pathLength="320" stroke="#ffcf00" stroke-dasharray="0 146 1.2 9.8 1.2 44.8 3.2 5.8 2.2 11.8 1.2 10.8 1.2 80.8"/>
<circle cx="304.4" cy="272.0" r="105.20" pathLength="320" stroke="#ffef00" stroke-dasharray="0 147 1.2 7.8 1.2 0.8 1.2 1.8 2.2 38.8 1.2 2.8 2.2 1.8 2.2 14.8 1.2 0.8 1.2 68.8 1.2 13.8 1.2 4.8"/>
<circle cx="304.4" cy="272.0" r="105.20" pathLength="320" stroke="#effd00" stroke-dasharray="0 145 1.2 1.8 1.2 5.8 1.2 2.8 2.2 1.8 1.2 36.8 1.2 5.8 2.2 17.8 1.2 90.8"/>
<circle cx="304.4" cy="272.0" r="105.20" pathLength="320" stroke="#cffa00" stroke-dasharray="0 154 1.2 44.8 1.2 43.8 2.2 72.8"/>
<circle cx="304.4" cy="272.0" r="105.20" pathLength="320" stroke="#aff700" stroke-dasharray="0 44 2.2 97.8 1.2 3.8 1.2 13.8 1.2 73.8 1.2 6.8 1.2 66.8 1.2 3.8"/>
<circle cx="304.4" cy="272.0" r="105.20" pathLength="320" stroke="#8ff400" stroke-dasharray="0 46 1.2 105.8 1.2 44.8 1.2 43.8 1.2 2.8 1.2 48.8 1.2 20.8"/>
<circle cx="304.4" cy="272.0" r="105.20" pathLength="320" stroke="#70f100" stroke-dasharray="0 15 1.2 126.8 1.2 5.8 1.2 46.8 1.2 49.8 1.2 69.8"/>
<circle cx="304.4" cy="272.0" r="105.20" pathLength="320" stroke="#50ee00" stroke-dasharray="0 14 1.2 0.8 1.2 25.8 1.2 2.8 1.2 93.8 1.2 7.8 2.2 11.8 1.2 83.8 4.2 65.8"/>
<circle cx="304.4" cy="272.0" r="105.20" pathLength="320" stroke="#30eb00" stroke-dasharray="0 13 1.2 182.8 1.2 41.8 1.2 1.8 1.2 52.8 1.2 21.8"/>
<circle cx="304.4" cy="272.0" r="105.20" pathLength="320" stroke="#10e800" stroke-dasharray="0 9 4.2 28.8 1.2 97.8 1.2 23.8 1.2 28.8 1.2 118.8 1.2 2.8"/>
<circle cx="304.4" cy="272.0" r="105.20" pathLength="320" stroke="#00e810" stroke-dasharray="0 6 3.2 38.8 1.2 117.8 1.2 72.8 2.2 10.8 1.2 64.8"/>
<circle cx="304.4" cy="272.0" r="105.20" pathLength="320" stroke="#00eb30" stroke-dasharray="0 17 1.2 109.8 2.2 9.8 1.2 26.8 3.2 18.8 2.2 2.8 1.2 99.8 1.2 19.8 1.2 0.8 1.2 399.8"/>
<circle cx="304.4" cy="272.0" r="105.20" pathLength="320" stroke="#00ee50" stroke-dasharray="1.2 3.8 1.2 34.8 1.2 132.8 2.2 11.8 1.2 1.8 1.2 61.8 1.2 61.8 1.2 0.8"/>
<circle cx="304.4" cy="272.0" r="105.20" pathLength="320" stroke="#00f170" stroke-dasharray="0 77 2.2 17.8 1.2 28.8 1.2 42.8 1.2 1.8 1.2 1.8 1.2 14.8 2.2 99.8 1.2 23.8"/>
<circle cx="304.4" cy="272.0" r="105.20" pathLength="320" stroke="#00f48f" stroke-dasharray="0 1 1.2 1.8 1.2 34.8 1.2 7.8 1.2 28.8 1.2 15.8 1.2 41.8 1.2 31.8 2.2 13.8 1.2 130.8"/>
<circle cx="304.4" cy="272.0" r="105.20" pathLength="320" stroke="#00f7af" stroke-dasharray="0 18 1.2 53.8 1.2 1.8 1.2 17.8 1.2 1.8 1.2 26.8 1.2 2.8 1.2 46.8 1.2 7.8 1.2 67.8 1.2 16.8 3.2 42.8"/>
<circle cx="304.4" cy="272.0" r="105.20" pathLength="320" stroke="#00facf" stroke-dasharray="0 2 2.2 67.8 1.2 0.8 1.2 4.8 1.2 12.8 1.2 90.8 1.2 69.8 1.2 18.8 1.2 41.8"/>
<circle cx="304.4" cy="272.0" r="105.20" pathLength="320" stroke="#00fdef" stroke-dasharray="0 39 1.2 9.8 1.2 23.8 1.2 16.8 1.2 4.8 1.2 84.8 1.2 86.8 1.2 3.8 1.2 14.8 1.2 24.8"/>
<circle cx="304.4" cy="272.0" r="105.20" pathLength="320" stroke="#00effc" stroke-dasharray="0 81 1.2 2.8 2.2 4.8 1.2 31.8 1.2 11.8 1.2 39.8 1.2 98.8 1.2 39.8"/>
<circle cx="304.4" cy="272.0" r="105.20" pathLength="320" stroke="#00cff5" stroke-dasharray="0 19 1.2 38.8 1.2 10.8 1.2 11.8 1.2 1.8 1.2 34.8 2.2 58.8 1.2 72.8 1.2 60.8"/>
<circle cx="304.4" cy="272.0" r="105.20" pathLength="320" stroke="#00afee" stroke-dasharray="0 38 1.2 18.8 1.2 0.8 1.2 20.8 2.2 6.8 1.2 7.8 1.2 29.8 1.2 47.8 1.2 98.8 1.2 11.8 1.2 25.8"/>
<circle cx="304.4" cy="272.0" r="105.20" pathLength="320" stroke="#008fe7" stroke-dasharray="0 88 1.2 0.8 1.2 14.8 3.2 12.8 1.2 13.8 1.2 44.8 1.2 135.8"/>
<circle cx="304.4" cy="272.0" r="105.20" pathLength="320" stroke="#0050d9" stroke-dasharray="0 37 1.2 12.8 1.2 4.8 1.2 2.8 1.2 39.8 1.2 0.8 1.2 7.8 1.2 20.8 1.2 44.8 1.2 108.8 1.2 27.8"/>
<circle cx="304.4" cy="272.0" r="105.20" pathLength="320" stroke="#0030d2" stroke-dasharray="0 69 1.2 32.8 1.2 9.8 2.2 4.8 1.2 10.8 2.2 46.8 1.2 98.8 1.2 6.8 1.2 28.8"/>
<circle cx="304.4" cy="272.0" r="105.20" pathLength="320" stroke="#0010cb" stroke-dasharray="0 36 1.2 18.8 1.2 58.8 1.2 2.8 1.2 138.8 1.2 21.8 1.2 1.8 1.2 1.8 1.2 29.8"/>
<circle cx="304.4" cy="272.0" r="105.20" pathLength="320" stroke="#1000cb" stroke-dasharray="0 21 1.2 12.8 1.2 15.8 1.2 8.8 1.2 4.8 1.2 47.8 3.2 150.8 1.2 11.8 2.2 0.8 2.2 30.8"/>
<circle cx="304.4" cy="272.0" r="105.20" pathLength="320" stroke="#3000d2" stroke-dasharray="0 34 1.2 19.8 1.2 263.8"/>
<circle cx="304.4" cy="272.0" r="105.20" pathLength="320" stroke="#5000d9" stroke-dasharray="0 53 2.2 7.8 1.2 196.8 1.2 0.8 2.2 4.8 1.2 48.8"/>
<circle cx="304.4" cy="272.0" r="105.20" pathLength="320" stroke="#7000e0" stroke-dasharray="0 22 1.2 9.8 1.2 32.8 1.2 193.8 1.2 1.8 1.2 53.8"/>
<circle cx="304.4" cy="272.0" r="105.20" pathLength="320" stroke="#8f00e7" stroke-dasharray="0 266 4.2 49.8"/>
<circle cx="304.4" cy="272.0" r="105.20" pathLength="320" stroke="#af00ee" stroke-dasharray="0 32 1.2 30.8 1.2 254.8"/>
<circle cx="304.4" cy="272.0" r="105.20" pathLength="320" stroke="#cf00f5" stroke-dasharray="0 31 1.2 287.8"/>
<circle cx="304.4" cy="272.0" r="105.20" pathLength="320" stroke="#ef00fc" stroke-dasharray="0 23 8.2 33.8 2.2 252.8"/>
</g>
<g stroke-width="6.24">
<circle cx="304.4" cy="272.0" r="99.75" pathLength="320" stroke="#ff1000" stroke-dasharray="0 216 5.2 12.8 2.2 68.8 6.2 8.8"/>
<circle cx="304.4" cy="272.0" r="99.75" pathLength="320" stroke="#ff3000" stroke-dasharray="0 215 1.2 4.8 1.2 81.8 1.2 14.8"/>
<circle cx="304.4" cy="272.0" r="99.75" pathLength="320" stroke="#ff5000" stroke-dasharray="0 222 4.2 6.8 1.2 1.8 1.2 82.8"/>
<circle cx="304.4" cy="272.0" r="99.75" pathLength="320" stroke="#ff7000" stroke-dasharray="0 43 3.2 82.8 2.2 17.8 1.2 75.8 1.2 75.8 1.2 15.8"/>
<circle cx="304.4" cy="272.0" r="99.75" pathLength="320" stroke="#ff8f00" stroke-dasharray="0 42 1.2 2.8 1.2 100.8 1.2 64.8 1.2 11.8 2.2 2.8 1.2 77.8 1.2 7.8"/>
<circle cx="304.4" cy="272.0" r="99.75" pathLength="320" stroke="#ffaf00" stroke-dasharray="0 41 1.2 4.8 1.2 79.8 1.2 16.8 2.2 1.8 1.2 6.8 1.2 69.8 3.2 4.8 1.2 81.8"/>
<circle cx="304.4" cy="272.0" r="99.75" pathLength="320" stroke="#ffcf00" stroke-dasharray="0 144 2.2 4.8 1.2 3.8 2.2 0.8 1.2 41.8 1.2 9.8 1.2 87.8 1.2 16.8"/>
<circle cx="304.4" cy="272.0" r="99.75" pathLength="320" stroke="#ffef00" stroke-dasharray="0 40 1.2 110.8 4.2 3.8 1.2 41.8 1.2 107.8 1.2 6.8"/>
<circle cx="304.4" cy="272.0" r="99.75" pathLength="320" stroke="#effd00" stroke-dasharray="0 161 1.2 38.8 1.2 9.8 1.2 24.8 1.2 61.8 1.2 17.8"/>
<circle cx="304.4" cy="272.0" r="99.75" pathLength="320" stroke="#cffa00" stroke-dasharray="0 48 1.2 77.8 1.2 2.8 1.2 29.8 1.2 40.8 1.2 93.8 2.2 18.8"/>
<circle cx="304.4" cy="272.0" r="99.75" pathLength="320" stroke="#aff700" stroke-dasharray="0 39 1.2 102.8 1.2 55.8 1.2 9.8 1.2 107.8"/>
<circle cx="304.4" cy="272.0" r="99.75" pathLength="320" stroke="#8ff400" stroke-dasharray="0 163 1.2 40.8 1.2 32.8 1.2 9.8 2.2 45.8 1.2 13.8 1.2 5.8"/>
<circle cx="304.4" cy="272.0" r="99.75" pathLength="320" stroke="#70f100" stroke-dasharray="0 49 1.2 148.8 1.2 5.8 5.2 35.8 3.2 1.8 1.2 66.8"/>
<circle cx="304.4" cy="272.0" r="99.75" pathLength="320" stroke="#50ee00" stroke-dasharray="0 38 1.2 124.8 3.2 72.8 1.2 4.8 1.2 5.8 1.2 65.8"/>
<circle cx="304.4" cy="272.0" r="99.75" pathLength="320" stroke="#30eb00" stroke-dasharray="0 126 1.2 14.8 1.2 23.8 2.2 71.8 2.2 1.8 1.2 50.8 1.2 15.8 1.2 4.8"/>
<circle cx="304.4" cy="272.0" r="99.75" pathLength="320" stroke="#10e800" stroke-dasharray="0 132 1.2 35.8 1.2 27.8 1.2 43.8 2.2 8.8 1.2 64.8"/>
<circle cx="304.4" cy="272.0" r="99.75" pathLength="320" stroke="#00eb30" stroke-dasharray="0 37 1.2 11.8 1.2 89.8 1.2 27.8 1.2 25.8 1.2 56.8 1.2 39.8 1.2 17.8 1.2 3.8"/>
<circle cx="304.4" cy="272.0" r="99.75" pathLength="320" stroke="#00ee50" stroke-dasharray="0 8 3.2 65.8 2.2 45.8 1.2 193.8"/>
<circle cx="304.4" cy="272.0" r="99.75" pathLength="320" stroke="#00f170" stroke-dasharray="0 7 1.2 2.8 1.2 2.8 1.2 59.8 1.2 62.8 1.2 49.8 1.2 3.8 1.2 58.8 1.2 62.8"/>
<circle cx="304.4" cy="272.0" r="99.75" pathLength="320" stroke="#00f48f" stroke-dasharray="0 6 1.2 4.8 1.2 0.8 1.2 0.8 1.2 57.8 1.2 2.8 1.2 2.8 5.2 82.8 1.2 17.8 1.2 0.8 2.2 0.8 1.2 98.8 1.2 19.8 1.2 2.8"/>
<circle cx="304.4" cy="272.0" r="99.75" pathLength="320" stroke="#00f7af" stroke-dasharray="1.2 3.8 1.2 6.8 1.2 59.8 1.2 4.8 3.2 4.8 1.2 8.8 1.2 94.8 1.2 123.8 1.2 399.8"/>
<circle cx="304.4" cy="272.0" r="99.75" pathLength="320" stroke="#00fdef" stroke-dasharray="0 4 1.2 62.8 1.2 20.8 1.2 84.8 1.2 11.8 1.2 103.8 1.2 24.8"/>
<circle cx="304.4" cy="272.0" r="99.75" pathLength="320" stroke="#00effc" stroke-dasharray="0 2 2.2 12.8 1.2 72.8 1.2 3.8 1.2 2.8 1.2 21.8 1.2 13.8 1.2 118.8 1.2 60.8"/>
<circle cx="304.4" cy="272.0" r="99.75" pathLength="320" stroke="#00cff5" stroke-dasharray="0 35 1.2 55.8 1.2 7.8 1.2 217.8"/>
<circle cx="304.4" cy="272.0" r="99.75" pathLength="320" stroke="#00afee" stroke-dasharray="0 67 1.2 24.8 3.2 5.8 1.2 18.8 1.2 53.8 1.2 9.8 1.2 69.8 1.2 32.8 1.2 25.8"/>
<circle cx="304.4" cy="272.0" r="99.75" pathLength="320" stroke="#008fe7" stroke-dasharray="0 103 2.2 15.8 1.2 14.8 1.2 139.8 3.2 38.8"/>
<circle cx="304.4" cy="272.0" r="99.75" pathLength="320" stroke="#0070e0" stroke-dasharray="0 18 1.2 32.8 1.2 51.8 2.2 26.8 1.2 51.8 1.2 86.8 3.2 41.8"/>
<circle cx="304.4" cy="272.0" r="99.75" pathLength="320" stroke="#0050d9" stroke-dasharray="0 34 1.2 71.8 1.2 11.8 1.2 56.8 1.2 5.8 2.2 72.8 1.2 12.8 1.2 16.8 1.2 26.8"/>
<circle cx="304.4" cy="272.0" r="99.75" pathLength="320" stroke="#0030d2" stroke-dasharray="0 53 1.2 2.8 1.2 49.8 1.2 9.8 1.2 14.8 2.2 46.8 1.2 95.8 1.2 37.8"/>
<circle cx="304.4" cy="272.0" r="99.75" pathLength="320" stroke="#0010cb" stroke-dasharray="0 54 3.2 0.8 3.2 4.8 1.2 41.8 1.2 7.8 1.2 153.8 1.2 45.8"/>
<circle cx="304.4" cy="272.0" r="99.75" pathLength="320" stroke="#1000cb" stroke-dasharray="0 19 1.2 12.8 1.2 26.8 1.2 47.8 2.2 4.8 1.2 60.8 1.2 101.8 1.2 7.8 1.2 27.8"/>
<circle cx="304.4" cy="272.0" r="99.75" pathLength="320" stroke="#3000d2" stroke-dasharray="0 32 1.2 28.8 1.2 48.8 1.2 0.8 1.2 0.8 1.2 65.8 1.2 135.8"/>
<circle cx="304.4" cy="272.0" r="99.75" pathLength="320" stroke="#5000d9" stroke-dasharray="0 20 1.2 91.8 1.2 0.8 1.2 144.8 1.2 9.8 1.2 9.8 1.2 4.8 2.2 28.8"/>
<circle cx="304.4" cy="272.0" r="99.75" pathLength="320" stroke="#7000e0" stroke-dasharray="0 21 1.2 40.8 3.2 113.8 1.2 0.8 1.2 103.8 2.2 30.8"/>
<circle cx="304.4" cy="272.0" r="99.75" pathLength="320" stroke="#8f00e7" stroke-dasharray="0 31 1.2 148.8 1.2 79.8 4.2 17.8 1.2 0.8 1.2 32.8"/>
<circle cx="304.4" cy="272.0" r="99.75" pathLength="320" stroke="#af00ee" stroke-dasharray="0 22 1.2 6.8 1.2 234.8 1.2 17.8 1.2 33.8"/>
<circle cx="304.4" cy="272.0" r="99.75" pathLength="320" stroke="#cf00f5" stroke-dasharray="0 23 1.2 1.8 4.2 240.8 1.2 47.8"/>
<circle cx="304.4" cy="272.0" r="99.75" pathLength="320" stroke="#ef00fc" stroke-dasharray="0 24 2.2 240.8 4.2 48.8"/>
</g>
<g stroke-width="6.22">
<circle cx="304.4" cy="272.0" r="94.32" pathLength="320" stroke="#ff1000" stroke-dasharray="0 37 4.2 173.8 6.2 98.8"/>
<circle cx="304.4" cy="272.0" r="94.32" pathLength="320" stroke="#ff3000" stroke-dasharray="0 36 1.2 183.8 3.2 95.8"/>
<circle cx="304.4" cy="272.0" r="94.32" pathLength="320" stroke="#ff5000" stroke-dasharray="0 35 1.2 4.8 1.2 6.8 1.2 173.8 2.2 93.8"/>
<circle cx="304.4" cy="272.0" r="94.32" pathLength="320" stroke="#ff7000" stroke-dasharray="0 48 1.2 0.8 1.2 96.8 2.2 63.8 1.2 10.8 3.2 90.8"/>
<circle cx="304.4" cy="272.0" r="94.32" pathLength="320" stroke="#ff8f00" stroke-dasharray="0 42 2.2 2.8 1.2 180.8 1.2 89.8"/>
<circle cx="304.4" cy="272.0" r="94.32" pathLength="320" stroke="#ffcf00" stroke-dasharray="0 51 1.2 76.8 2.2 14.8 1.2 6.8 1.2 2.8 3.2 4.8 1.2 66.8 1.2 84.8"/>
<circle cx="304.4" cy="272.0" r="94.32" pathLength="320" stroke="#ffef00" stroke-dasharray="0 128 1.2 1.8 1.2 18.8 1.2 0.8 1.2 6.8 5.2 45.8 1.2 89.8 1.2 1.8 1.2 12.8"/>
<circle cx="304.4" cy="272.0" r="94.32" pathLength="320" stroke="#effd00" stroke-dasharray="0 33 1.2 109.8 2.2 5.8 1.2 13.8 1.2 42.8 1.2 22.8 1.2 4.8 1.2 77.8"/>
<circle cx="304.4" cy="272.0" r="94.32" pathLength="320" stroke="#cffa00" stroke-dasharray="0 32 1.2 93.8 1.2 14.8 1.2 23.8 1.2 72.8 1.2 58.8 1.2 3.8 1.2 11.8"/>
<circle cx="304.4" cy="272.0" r="94.32" pathLength="320" stroke="#aff700" stroke-dasharray="0 132 1.2 68.8 2.2 5.8 1.2 24.8 1.2 2.8 1.2 1.8 5.2 59.8 1.2 10.8"/>
<circle cx="304.4" cy="272.0" r="94.32" pathLength="320" stroke="#8ff400" stroke-dasharray="0 52 1.2 72.8 1.2 14.8 1.2 25.8 1.2 30.8 1.2 1.8 1.2 3.8 1.2 28.8 1.2 7.8 1.2 49.8 3.2 17.8"/>
<circle cx="304.4" cy="272.0" r="94.32" pathLength="320" stroke="#70f100" stroke-dasharray="0 141 1.2 62.8 1.2 1.8 1.2 27.8 2.2 9.8 1.2 47.8 1.2 9.8 1.2 9.8"/>
<circle cx="304.4" cy="272.0" r="94.32" pathLength="320" stroke="#50ee00" stroke-dasharray="0 140 1.2 64.8 2.2 101.8 1.2 8.8"/>
<circle cx="304.4" cy="272.0" r="94.32" pathLength="320" stroke="#30eb00" stroke-dasharray="0 84 1.2 47.8 1.2 4.8 1.2 29.8 1.2 28.8 1.2 48.8 1.2 45.8 1.2 12.8 1.2 7.8"/>
<circle cx="304.4" cy="272.0" r="94.32" pathLength="320" stroke="#10e800" stroke-dasharray="0 83 1.2 0.8 1.2 38.8 1.2 124.8 1.2 67.8"/>
<circle cx="304.4" cy="272.0" r="94.32" pathLength="320" stroke="#00e810" stroke-dasharray="0 31 1.2 20.8 1.2 83.8 1.2 59.8 1.2 111.8 1.2 6.8"/>
<circle cx="304.4" cy="272.0" r="94.32" pathLength="320" stroke="#00eb30" stroke-dasharray="0 82 1.2 2.8 1.2 46.8 1.2 35.8 1.2 79.8 1.2 42.8 1.2 22.8"/>
<circle cx="304.4" cy="272.0" r="94.32" pathLength="320" stroke="#00ee50" stroke-dasharray="0 76 1.2 46.8 1.2 11.8 1.2 33.8 1.2 24.8 1.2 53.8 1.2 58.8 1.2 5.8"/>
<circle cx="304.4" cy="272.0" r="94.32" pathLength="320" stroke="#00f170" stroke-dasharray="0 75 1.2 0.8 1.2 2.8 1.2 52.8 2.2 35.8 1.2 79.8 1.2 58.8 1.2 4.8"/>
<circle cx="304.4" cy="272.0" r="94.32" pathLength="320" stroke="#00f48f" stroke-dasharray="0 74 1.2 4.8 1.2 92.8 1.2 21.8 1.2 56.8 1.2 38.8 1.2 23.8"/>
<circle cx="304.4" cy="272.0" r="94.32" pathLength="320" stroke="#00f7af" stroke-dasharray="0 54 1.2 22.8 2.2 6.8 1.2 34.8 1.2 67.8 2.2 1.8 1.2 58.8 1.2 62.8"/>
<circle cx="304.4" cy="272.0" r="94.32" pathLength="320" stroke="#00facf" stroke-dasharray="0 30 1.2 41.8 1.2 100.8 1.2 14.8 1.2 1.8 2.2 118.8 1.2 3.8"/>
<circle cx="304.4" cy="272.0" r="94.32" pathLength="320" stroke="#00fdef" stroke-dasharray="0 69 4.2 14.8 1.2 4.8 3.2 24.8 1.2 133.8 1.2 61.8"/>
<circle cx="304.4" cy="272.0" r="94.32" pathLength="320" stroke="#00effc" stroke-dasharray="0 93 1.2 26.8 1.2 53.8 1.2 12.8 1.2 128.8"/>
<circle cx="304.4" cy="272.0" r="94.32" pathLength="320" stroke="#00cff5" stroke-dasharray="1.2 53.8 1.2 11.8 1.2 22.8 1.2 3.8 1.2 21.8 1.2 136.8 1.2 34.8 1.2 20.8 1.2 1.8 1.2 399.8"/>
<circle cx="304.4" cy="272.0" r="94.32" pathLength="320" stroke="#00afee" stroke-dasharray="0 1 1.2 3.8 1.2 81.8 1.2 0.8 1.2 5.8 1.2 19.8 1.2 56.8 1.2 138.8 2.2 0.8"/>
<circle cx="304.4" cy="272.0" r="94.32" pathLength="320" stroke="#008fe7" stroke-dasharray="0 4 2.2 0.8 4.2 17.8 1.2 59.8 1.2 7.8 5.2 84.8 1.2 68.8 1.2 59.8"/>
<circle cx="304.4" cy="272.0" r="94.32" pathLength="320" stroke="#0070e0" stroke-dasharray="0 2 2.2 6.8 2.2 1.8 1.2 39.8 1.2 9.8 1.2 109.8 1.2 140.8"/>
<circle cx="304.4" cy="272.0" r="94.32" pathLength="320" stroke="#0050d9" stroke-dasharray="0 13 2.2 0.8 1.2 43.8 1.2 41.8 1.2 12.8 1.2 68.8 1.2 70.8 1.2 31.8 1.2 25.8"/>
<circle cx="304.4" cy="272.0" r="94.32" pathLength="320" stroke="#0030d2" stroke-dasharray="0 26 1.2 0.8 1.2 30.8 1.2 0.8 1.2 115.8 1.2 139.8"/>
<circle cx="304.4" cy="272.0" r="94.32" pathLength="320" stroke="#0010cb" stroke-dasharray="0 17 1.2 6.8 1.2 0.8 1.2 28.8 3.2 2.8 1.2 1.8 1.2 37.8 1.2 80.8 1.2 72.8 1.2 29.8 1.2 26.8"/>
<circle cx="304.4" cy="272.0" r="94.32" pathLength="320" stroke="#1000cb" stroke-dasharray="0 21 4.2 38.8 2.2 39.8 1.2 9.8 1.2 61.8 1.2 98.8 1.2 38.8"/>
<circle cx="304.4" cy="272.0" r="94.32" pathLength="320" stroke="#3000d2" stroke-dasharray="0 18 1.2 0.8 1.2 85.8 2.2 76.8 1.2 74.8 1.2 1.8 1.2 12.8 1.2 0.8 1.2 8.8 1.2 27.8"/>
<circle cx="304.4" cy="272.0" r="94.32" pathLength="320" stroke="#5000d9" stroke-dasharray="0 19 1.2 160.8 1.2 80.8 2.2 0.8 1.2 10.8 1.2 2.8 1.2 36.8"/>
<circle cx="304.4" cy="272.0" r="94.32" pathLength="320" stroke="#7000e0" stroke-dasharray="0 109 1.2 5.8 1.2 64.8 1.2 0.8 2.2 80.8 2.2 0.8 5.2 7.8 1.2 5.8 1.2 28.8"/>
<circle cx="304.4" cy="272.0" r="94.32" pathLength="320" stroke="#8f00e7" stroke-dasharray="0 110 1.2 3.8 1.2 66.8 1.2 84.8 1.2 4.8 1.2 0.8 1.2 5.8 1.2 3.8 1.2 29.8"/>
<circle cx="304.4" cy="272.0" r="94.32" pathLength="320" stroke="#af00ee" stroke-dasharray="0 111 1.2 163.8 1.2 7.8 1.2 33.8"/>
<circle cx="304.4" cy="272.0" r="94.32" pathLength="320" stroke="#cf00f5" stroke-dasharray="0 112 3.2 170.8 3.2 30.8"/>
</g>
<g stroke-width="6.20">
<circle cx="304.4" cy="272.0" r="88.91" pathLength="320" stroke="#ff1000" stroke-dasharray="0 35 4.2 9.8 3.2 267.8"/>
<circle cx="304.4" cy="272.0" r="88.91" pathLength="320" stroke="#ff3000" stroke-dasharray="0 32 3.2 3.8 1.2 176.8 1.2 1.8 1.2 98.8"/>
<circle cx="304.4" cy="272.0" r="88.91" pathLength="320" stroke="#ff5000" stroke-dasharray="0 215 2.2 0.8 2.2 0.8 2.2 96.8"/>
<circle cx="304.4" cy="272.0" r="88.91" pathLength="320" stroke="#ff7000" stroke-dasharray="0 52 1.2 156.8 3.2 9.8 1.2 95.8"/>
<circle cx="304.4" cy="272.0" r="88.91" pathLength="320" stroke="#ff8f00" stroke-dasharray="0 31 1.2 7.8 1.2 6.8 1.2 82.8 2.2 13.8 2.2 62.8 2.2 8.8 1.2 94.8"/>
<circle cx="304.4" cy="272.0" r="88.91" pathLength="320" stroke="#ffaf00" stroke-dasharray="0 131 1.2 14.8 1.2 76.8 2.2 92.8"/>
<circle cx="304.4" cy="272.0" r="88.91" pathLength="320" stroke="#ffcf00" stroke-dasharray="0 47 1.2 81.8 1.2 18.8 1.2 9.8 3.2 44.8 1.2 16.8 2.2 90.8"/>
<circle cx="304.4" cy="272.0" r="88.91" pathLength="320" stroke="#ffef00" stroke-dasharray="0 41 1.2 86.8 1.2 3.8 1.2 10.8 1.2 12.8 1.2 2.8 2.2 62.8 4.2 86.8"/>
<circle cx="304.4" cy="272.0" r="88.91" pathLength="320" stroke="#cffa00" stroke-dasharray="0 44 2.2 80.8 1.2 6.8 1.2 15.8 2.2 13.8 1.2 38.8 1.2 23.8 1.2 5.8 1.2 78.8"/>
<circle cx="304.4" cy="272.0" r="88.91" pathLength="320" stroke="#aff700" stroke-dasharray="0 30 1.2 94.8 1.2 8.8 1.2 2.8 1.2 3.8 1.2 22.8 1.2 68.8 1.2 79.8"/>
<circle cx="304.4" cy="272.0" r="88.91" pathLength="320" stroke="#8ff400" stroke-dasharray="0 137 3.2 0.8 1.2 64.8 1.2 25.8 1.2 2.8 1.2 7.8 1.2 71.8"/>
<circle cx="304.4" cy="272.0" r="88.91" pathLength="320" stroke="#70f100" stroke-dasharray="0 125 1.2 15.8 3.2 24.8 1.2 31.8 2.2 29.8 3.2 81.8"/>
<circle cx="304.4" cy="272.0" r="88.91" pathLength="320" stroke="#50ee00" stroke-dasharray="0 202 1.2 1.8 2.2 40.8 1.2 54.8 2.2 13.8"/>
<circle cx="304.4" cy="272.0" r="88.91" pathLength="320" stroke="#30eb00" stroke-dasharray="0 54 1.2 115.8 1.2 28.8 1.2 100.8 1.2 15.8"/>
<circle cx="304.4" cy="272.0" r="88.91" pathLength="320" stroke="#10e800" stroke-dasharray="0 124 1.2 123.8 1.2 55.8 1.2 12.8"/>
<circle cx="304.4" cy="272.0" r="88.91" pathLength="320" stroke="#00e810" stroke-dasharray="0 172 2.2 25.8 1.2 100.8 1.2 16.8"/>
<circle cx="304.4" cy="272.0" r="88.91" pathLength="320" stroke="#00eb30" stroke-dasharray="0 123 1.2 49.8 1.2 23.8 1.2 49.8 1.2 68.8"/>
<circle cx="304.4" cy="272.0" r="88.91" pathLength="320" stroke="#00ee50" stroke-dasharray="0 29 1.2 24.8 1.2 26.8 2.2 36.8 1.2 74.8 1.2 51.8 1.2 1.8 2.2 44.8 1.2 4.8 1.2 11.8"/>
<circle cx="304.4" cy="272.0" r="88.91" pathLength="320" stroke="#00f170" stroke-dasharray="0 75 1.2 5.8 1.2 1.8 1.2 88.8 1.2 75.8 2.2 45.8 1.2 6.8 1.2 10.8"/>
<circle cx="304.4" cy="272.0" r="88.91" pathLength="320" stroke="#00f48f" stroke-dasharray="0 74 1.2 0.8 1.2 43.8 1.2 74.8 1.2 100.8 1.2 19.8"/>
<circle cx="304.4" cy="272.0" r="88.91" pathLength="320" stroke="#00f7af" stroke-dasharray="0 56 1.2 19.8 1.2 97.8 1.2 78.8 1.2 51.8 2.2 8.8"/>
<circle cx="304.4" cy="272.0" r="88.91" pathLength="320" stroke="#00facf" stroke-dasharray="0 73 1.2 6.8 1.2 3.8 1.2 104.8 2.2 0.8 2.2 100.8 1.2 11.8 1.2 7.8"/>
<circle cx="304.4" cy="272.0" r="88.91" pathLength="320" stroke="#00fdef" stroke-dasharray="0 57 1.2 19.8 1.2 0.8 1.2 38.8 1.2 69.8 1.2 1.8 1.2 101.8 1.2 13.8 2.2 5.8"/>
<circle cx="304.4" cy="272.0" r="88.91" pathLength="320" stroke="#00effc" stroke-dasharray="0 72 1.2 5.8 1.2 6.8 1.2 88.8 1.2 78.8 1.2 37.8 1.2 16.8 1.2 4.8"/>
<circle cx="304.4" cy="272.0" r="88.91" pathLength="320" stroke="#00cff5" stroke-dasharray="0 28 1.2 41.8 1.2 19.8 3.2 82.8 1.2 10.8 1.2 103.8 1.2 23.8"/>
<circle cx="304.4" cy="272.0" r="88.91" pathLength="320" stroke="#00afee" stroke-dasharray="0 4 1.2 52.8 1.2 10.8 1.2 16.8 4.2 2.8 1.2 22.8 1.2 173.8 1.2 19.8 1.2 3.8"/>
<circle cx="304.4" cy="272.0" r="88.91" pathLength="320" stroke="#008fe7" stroke-dasharray="0 3 1.2 0.8 1.2 9.8 3.2 76.8 1.2 81.8 1.2 77.8 1.2 60.8"/>
<circle cx="304.4" cy="272.0" r="88.91" pathLength="320" stroke="#0070e0" stroke-dasharray="0 2 1.2 11.8 1.2 2.8 6.2 33.8 1.2 8.8 1.2 47.8 1.2 60.8 1.2 7.8 1.2 102.8 1.2 21.8 1.2 2.8"/>
<circle cx="304.4" cy="272.0" r="88.91" pathLength="320" stroke="#0050d9" stroke-dasharray="0 1 1.2 3.8 1.2 6.8 1.2 11.8 1.2 39.8 1.2 27.8 1.2 82.8 1.2 76.8 1.2 59.8"/>
<circle cx="304.4" cy="272.0" r="88.91" pathLength="320" stroke="#0030d2" stroke-dasharray="1.2 11.8 1.2 10.8 2.2 70.8 1.2 1.8 3.2 12.8 1.2 63.8 1.2 4.8 1.2 70.8 1.2 55.8 3.2 399.8"/>
<circle cx="304.4" cy="272.0" r="88.91" pathLength="320" stroke="#0010cb" stroke-dasharray="0 7 1.2 51.8 1.2 37.8 2.2 2.8 1.2 155.8 1.2 29.8 1.2 26.8"/>
<circle cx="304.4" cy="272.0" r="88.91" pathLength="320" stroke="#1000cb" stroke-dasharray="0 12 1.2 53.8 1.2 47.8 1.2 65.8 1.2 2.8 1.2 77.8 3.2 21.8 1.2 27.8"/>
<circle cx="304.4" cy="272.0" r="88.91" pathLength="320" stroke="#3000d2" stroke-dasharray="0 8 4.2 48.8 1.2 3.8 1.2 37.8 1.2 8.8 1.2 145.8 4.2 2.8 1.2 49.8"/>
<circle cx="304.4" cy="272.0" r="88.91" pathLength="320" stroke="#5000d9" stroke-dasharray="0 62 1.2 42.8 3.2 4.8 1.2 68.8 3.2 102.8 1.2 28.8"/>
<circle cx="304.4" cy="272.0" r="88.91" pathLength="320" stroke="#7000e0" stroke-dasharray="0 63 3.2 42.8 5.2 155.8 1.2 3.8 2.2 42.8"/>
<circle cx="304.4" cy="272.0" r="88.91" pathLength="320" stroke="#8f00e7" stroke-dasharray="0 271 1.2 1.8 1.2 1.8 2.2 40.8"/>
<circle cx="304.4" cy="272.0" r="88.91" pathLength="320" stroke="#af00ee" stroke-dasharray="0 272 2.2 4.8 5.2 4.8 1.2 29.8"/>
<circle cx="304.4" cy="272.0" r="88.91" pathLength="320" stroke="#cf00f5" stroke-dasharray="0 284 1.2 34.8"/>
<circle cx="304.4" cy="272.0" r="88.91" pathLength="320" stroke="#ef00fc" stroke-dasharray="0 285 4.2 30.8"/>
</g>
<g stroke-width="6.18">
<circle cx="304.4" cy="272.0" r="83.52" pathLength="320" stroke="#ff1000" stroke-dasharray="0 50 2.2 267.8"/>
<circle cx="304.4" cy="272.0" r="83.52" pathLength="320" stroke="#ff3000" stroke-dasharray="0 49 1.2 1.8 1.2 266.8"/>
<circle cx="304.4" cy="272.0" r="83.52" pathLength="320" stroke="#ff5000" stroke-dasharray="0 37 1.2 281.8"/>
<circle cx="304.4" cy="272.0" r="83.52" pathLength="320" stroke="#ff7000" stroke-dasharray="0 33 1.2 0.8 2.2 0.8 1.2 8.8 1.2 109.8 7.2 153.8"/>
<circle cx="304.4" cy="272.0" r="83.52" pathLength="320" stroke="#ff8f00" stroke-dasharray="0 34 1.2 3.8 1.2 12.8 1.2 103.8 1.2 6.8 2.2 151.8"/>
<circle cx="304.4" cy="272.0" r="83.52" pathLength="320" stroke="#ffaf00" stroke-dasharray="0 32 1.2 6.8 1.2 115.8 1.2 9.8 1.2 150.8"/>
<circle cx="304.4" cy="272.0" r="83.52" pathLength="320" stroke="#ffcf00" stroke-dasharray="0 47 1.2 107.8 1.2 11.8 1.2 46.8 4.2 98.8"/>
<circle cx="304.4" cy="272.0" r="83.52" pathLength="320" stroke="#effd00" stroke-dasharray="0 31 1.2 9.8 2.2 9.8 1.2 72.8 1.2 2.8 1.2 2.8 1.2 9.8 1.2 75.8 4.2 1.8 1.2 1.8 1.2 85.8"/>
<circle cx="304.4" cy="272.0" r="83.52" pathLength="320" stroke="#cffa00" stroke-dasharray="0 44 1.2 0.8 1.2 89.8 1.2 32.8 1.2 42.8 1.2 11.8 2.2 3.8 1.2 84.8"/>
<circle cx="304.4" cy="272.0" r="83.52" pathLength="320" stroke="#aff700" stroke-dasharray="0 45 1.2 80.8 1.2 9.8 1.2 6.8 1.2 24.8 1.2 36.8 5.2 19.8 1.2 83.8"/>
<circle cx="304.4" cy="272.0" r="83.52" pathLength="320" stroke="#8ff400" stroke-dasharray="0 145 1.2 62.8 1.2 25.8 1.2 82.8"/>
<circle cx="304.4" cy="272.0" r="83.52" pathLength="320" stroke="#70f100" stroke-dasharray="0 30 1.2 94.8 1.2 11.8 1.2 179.8"/>
<circle cx="304.4" cy="272.0" r="83.52" pathLength="320" stroke="#50ee00" stroke-dasharray="0 55 1.2 68.8 1.2 17.8 1.2 27.8 1.2 32.8 2.2 35.8 2.2 72.8"/>
<circle cx="304.4" cy="272.0" r="83.52" pathLength="320" stroke="#30eb00" stroke-dasharray="0 124 1.2 14.8 1.2 1.8 1.2 60.8 2.2 29.8 1.2 4.8 2.2 1.8 1.2 71.8"/>
<circle cx="304.4" cy="272.0" r="83.52" pathLength="320" stroke="#10e800" stroke-dasharray="0 123 1.2 16.8 2.2 30.8 1.2 28.8 1.2 32.8 1.2 1.8 2.2 76.8"/>
<circle cx="304.4" cy="272.0" r="83.52" pathLength="320" stroke="#00e810" stroke-dasharray="0 203 1.2 35.8 1.2 6.8 1.2 70.8"/>
<circle cx="304.4" cy="272.0" r="83.52" pathLength="320" stroke="#00eb30" stroke-dasharray="0 56 1.2 64.8 1.2 115.8 1.2 8.8 1.2 69.8"/>
<circle cx="304.4" cy="272.0" r="83.52" pathLength="320" stroke="#00ee50" stroke-dasharray="0 121 1.2 52.8 1.2 25.8 1.2 46.8 1.2 68.8"/>
<circle cx="304.4" cy="272.0" r="83.52" pathLength="320" stroke="#00f170" stroke-dasharray="0 29 1.2 289.8"/>
<circle cx="304.4" cy="272.0" r="83.52" pathLength="320" stroke="#00f48f" stroke-dasharray="0 83 2.2 34.8 1.2 54.8 1.2 23.8 1.2 48.8 1.2 67.8"/>
<circle cx="304.4" cy="272.0" r="83.52" pathLength="320" stroke="#00f7af" stroke-dasharray="0 74 1.2 6.8 1.2 6.8 1.2 108.8 1.2 118.8"/>
<circle cx="304.4" cy="272.0" r="83.52" pathLength="320" stroke="#00facf" stroke-dasharray="0 57 1.2 13.8 2.2 0.8 1.2 8.8 1.2 32.8 1.2 56.8 1.2 19.8 2.2 51.8 2.2 65.8"/>
<circle cx="304.4" cy="272.0" r="83.52" pathLength="320" stroke="#00fdef" stroke-dasharray="0 76 1.2 3.8 1.2 6.8 1.2 0.8 1.2 85.8 1.2 17.8 1.2 55.8 1.2 46.8 3.2 14.8"/>
<circle cx="304.4" cy="272.0" r="83.52" pathLength="320" stroke="#00effc" stroke-dasharray="0 71 1.2 4.8 1.2 1.8 1.2 4.8 3.2 2.8 1.2 24.8 1.2 59.8 1.2 14.8 2.2 57.8 1.2 48.8 1.2 13.8"/>
<circle cx="304.4" cy="272.0" r="83.52" pathLength="320" stroke="#00cff5" stroke-dasharray="0 78 2.2 36.8 1.2 75.8 1.2 60.8 1.2 43.8 1.2 3.8 1.2 3.8 2.2 6.8"/>
<circle cx="304.4" cy="272.0" r="83.52" pathLength="320" stroke="#00afee" stroke-dasharray="0 28 1.2 63.8 1.2 85.8 2.2 10.8 1.2 62.8 1.2 48.8 1.2 0.8 2.2 1.8 1.2 5.8"/>
<circle cx="304.4" cy="272.0" r="83.52" pathLength="320" stroke="#008fe7" stroke-dasharray="0 17 3.2 37.8 1.2 10.8 1.2 44.8 1.2 64.8 3.2 6.8 1.2 106.8 1.2 6.8 1.2 10.8"/>
<circle cx="304.4" cy="272.0" r="83.52" pathLength="320" stroke="#0070e0" stroke-dasharray="0 15 2.2 2.8 1.2 72.8 2.2 88.8 2.2 3.8 1.2 65.8 1.2 54.8 1.2 4.8"/>
<circle cx="304.4" cy="272.0" r="83.52" pathLength="320" stroke="#0050d9" stroke-dasharray="0 14 1.2 5.8 1.2 4.8 1.2 40.8 1.2 25.8 2.2 90.8 2.2 102.8 3.2 1.8 1.2 19.8"/>
<circle cx="304.4" cy="272.0" r="83.52" pathLength="320" stroke="#0030d2" stroke-dasharray="0 12 2.2 7.8 3.2 72.8 1.2 15.8 1.2 70.8 2.2 69.8 1.2 32.8 1.2 2.8 2.2 15.8 1.2 3.8"/>
<circle cx="304.4" cy="272.0" r="83.52" pathLength="320" stroke="#0010cb" stroke-dasharray="0 3 2.2 19.8 2.2 31.8 1.2 38.8 1.2 159.8 1.2 54.8 1.2 2.8"/>
<circle cx="304.4" cy="272.0" r="83.52" pathLength="320" stroke="#1000cb" stroke-dasharray="0 2 1.2 1.8 1.2 4.8 1.2 55.8 1.2 30.8 1.2 159.8 4.2 1.8 2.2 4.8 2.2 15.8 1.2 23.8 1.2 1.8"/>
<circle cx="304.4" cy="272.0" r="83.52" pathLength="320" stroke="#3000d2" stroke-dasharray="2.2 64.8 1.2 32.8 4.2 8.8 1.2 149.8 2.2 1.8 2.2 0.8 2.2 1.8 1.2 40.8 2.2 399.8"/>
<circle cx="304.4" cy="272.0" r="83.52" pathLength="320" stroke="#5000d9" stroke-dasharray="0 6 1.2 2.8 1.2 48.8 1.2 4.8 1.2 37.8 1.2 164.8 1.2 4.8 1.2 41.8"/>
<circle cx="304.4" cy="272.0" r="83.52" pathLength="320" stroke="#7000e0" stroke-dasharray="0 7 1.2 0.8 1.2 50.8 1.2 43.8 2.2 4.8 1.2 176.8 1.2 27.8"/>
<circle cx="304.4" cy="272.0" r="83.52" pathLength="320" stroke="#8f00e7" stroke-dasharray="0 65 1.2 41.8 2.2 1.8 1.2 164.8 1.2 10.8 1.2 28.8"/>
<circle cx="304.4" cy="272.0" r="83.52" pathLength="320" stroke="#af00ee" stroke-dasharray="0 8 1.2 52.8 3.2 44.8 2.2 166.8 1.2 0.8 2.2 5.8 1.2 29.8"/>
<circle cx="304.4" cy="272.0" r="83.52" pathLength="320" stroke="#cf00f5" stroke-dasharray="0 280 1.2 1.8 1.2 3.8 1.2 30.8"/>
<circle cx="304.4" cy="272.0" r="83.52" pathLength="320" stroke="#ef00fc" stroke-dasharray="0 284 4.2 31.8"/>
</g>
<g stroke-width="6.17">
<circle cx="304.4" cy="272.0" r="78.15" pathLength="320" stroke="#ff1000" stroke-dasharray="0 48 3.2 268.8"/>
<circle cx="304.4" cy="272.0" r="78.15" pathLength="320" stroke="#ff3000" stroke-dasharray="0 47 1.2 2.8 1.2 267.8"/>
<circle cx="304.4" cy="272.0" r="78.15" pathLength="320" stroke="#ff5000" stroke-dasharray="0 34 3.2 5.8 1.2 1.8 1.2 112.8 3.2 156.8"/>
<circle cx="304.4" cy="272.0" r="78.15" pathLength="320" stroke="#ff7000" stroke-dasharray="0 33 1.2 2.8 3.2 0.8 2.2 0.8 2.2 112.8 1.2 2.8 1.2 155.8"/>
<circle cx="304.4" cy="272.0" r="78.15" pathLength="320" stroke="#ff8f00" stroke-dasharray="0 40 1.2 10.8 1.2 110.8 1.2 154.8"/>
<circle cx="304.4" cy="272.0" r="78.15" pathLength="320" stroke="#ffaf00" stroke-dasharray="0 32 1.2 98.8 1.2 1.8 1.2 21.8 1.2 160.8"/>
<circle cx="304.4" cy="272.0" r="78.15" pathLength="320" stroke="#ffcf00" stroke-dasharray="0 129 3.2 0.8 2.2 0.8 2.2 26.8 1.2 153.8"/>
<circle cx="304.4" cy="272.0" r="78.15" pathLength="320" stroke="#ffef00" stroke-dasharray="0 53 1.2 73.8 1.2 8.8 1.2 17.8 1.2 7.8 1.2 0.8 3.2 148.8"/>
<circle cx="304.4" cy="272.0" r="78.15" pathLength="320" stroke="#effd00" stroke-dasharray="0 127 1.2 10.8 1.2 6.8 2.2 17.8 1.2 2.8 1.2 147.8"/>
<circle cx="304.4" cy="272.0" r="78.15" pathLength="320" stroke="#cffa00" stroke-dasharray="0 126 1.2 18.8 1.2 1.8 6.2 0.8 1.2 162.8"/>
<circle cx="304.4" cy="272.0" r="78.15" pathLength="320" stroke="#aff700" stroke-dasharray="0 31 1.2 92.8 1.2 13.8 1.2 3.8 1.2 8.8 1.2 15.8 1.2 146.8"/>
<circle cx="304.4" cy="272.0" r="78.15" pathLength="320" stroke="#8ff400" stroke-dasharray="0 124 1.2 15.8 1.2 1.8 1.2 27.8 1.2 52.8 1.2 91.8"/>
<circle cx="304.4" cy="272.0" r="78.15" pathLength="320" stroke="#70f100" stroke-dasharray="0 54 1.2 86.8 2.2 69.8 4.2 5.8 3.2 0.8 4.2 87.8"/>
<circle cx="304.4" cy="272.0" r="78.15" pathLength="320" stroke="#50ee00" stroke-dasharray="0 123 1.2 49.8 1.2 37.8 1.2 3.8 3.2 0.8 2.2 7.8 2.2 85.8"/>
<circle cx="304.4" cy="272.0" r="78.15" pathLength="320" stroke="#30eb00" stroke-dasharray="0 122 1.2 51.8 1.2 35.8 1.2 7.8 1.2 97.8"/>
<circle cx="304.4" cy="272.0" r="78.15" pathLength="320" stroke="#10e800" stroke-dasharray="0 30 1.2 89.8 1.2 53.8 1.2 33.8 1.2 21.8 1.2 84.8"/>
<circle cx="304.4" cy="272.0" r="78.15" pathLength="320" stroke="#00e810" stroke-dasharray="0 120 1.2 55.8 1.2 31.8 1.2 108.8"/>
<circle cx="304.4" cy="272.0" r="78.15" pathLength="320" stroke="#00eb30" stroke-dasharray="0 55 1.2 121.8 1.2 28.8 2.2 24.8 1.2 83.8"/>
<circle cx="304.4" cy="272.0" r="78.15" pathLength="320" stroke="#00ee50" stroke-dasharray="0 179 1.2 26.8 1.2 111.8"/>
<circle cx="304.4" cy="272.0" r="78.15" pathLength="320" stroke="#00f170" stroke-dasharray="0 29 1.2 88.8 1.2 59.8 3.2 22.8 1.2 28.8 1.2 7.8 2.2 72.8"/>
<circle cx="304.4" cy="272.0" r="78.15" pathLength="320" stroke="#00f48f" stroke-dasharray="0 183 1.2 20.8 1.2 37.8 1.2 1.8 3.2 69.8"/>
<circle cx="304.4" cy="272.0" r="78.15" pathLength="320" stroke="#00f7af" stroke-dasharray="0 56 1.2 19.8 1.2 39.8 1.2 84.8 1.2 31.8 1.2 4.8 1.2 5.8 2.2 67.8"/>
<circle cx="304.4" cy="272.0" r="78.15" pathLength="320" stroke="#00facf" stroke-dasharray="0 76 1.2 0.8 2.2 1.8 3.2 98.8 1.2 52.8 1.2 2.8 1.2 76.8"/>
<circle cx="304.4" cy="272.0" r="78.15" pathLength="320" stroke="#00fdef" stroke-dasharray="0 28 1.2 45.8 1.2 3.8 2.2 2.8 1.2 107.8 1.2 7.8 1.2 34.8 3.2 9.8 1.2 66.8"/>
<circle cx="304.4" cy="272.0" r="78.15" pathLength="320" stroke="#00effc" stroke-dasharray="0 74 1.2 41.8 1.2 66.8 1.2 6.8 1.2 0.8 1.2 123.8"/>
<circle cx="304.4" cy="272.0" r="78.15" pathLength="320" stroke="#00cff5" stroke-dasharray="0 27 1.2 28.8 1.2 14.8 1.2 11.8 1.2 104.8 1.2 8.8 1.2 49.8 1.2 39.8 3.2 22.8"/>
<circle cx="304.4" cy="272.0" r="78.15" pathLength="320" stroke="#00afee" stroke-dasharray="0 72 1.2 17.8 1.2 93.8 1.2 3.8 1.2 3.8 1.2 122.8"/>
<circle cx="304.4" cy="272.0" r="78.15" pathLength="320" stroke="#008fe7" stroke-dasharray="0 10 4.2 11.8 1.2 43.8 1.2 14.8 2.2 0.8 1.2 0.8 1.2 22.8 1.2 69.8 4.2 62.8 1.2 37.8 1.2 2.8 1.2 3.8 3.2 14.8"/>
<circle cx="304.4" cy="272.0" r="78.15" pathLength="320" stroke="#0070e0" stroke-dasharray="0 14 5.2 38.8 1.2 10.8 1.2 17.8 1.2 2.8 1.2 2.8 3.2 96.8 1.2 2.8 1.2 95.8 4.2 2.8 1.2 7.8 1.2 4.8"/>
<circle cx="304.4" cy="272.0" r="78.15" pathLength="320" stroke="#0030d2" stroke-dasharray="0 6 2.2 12.8 1.2 77.8 1.2 0.8 4.2 91.8 3.2 63.8 1.2 24.8 1.2 13.8 1.2 3.8 1.2 5.8 1.2 0.8"/>
<circle cx="304.4" cy="272.0" r="78.15" pathLength="320" stroke="#0010cb" stroke-dasharray="0 5 1.2 15.8 3.2 42.8 1.2 31.8 1.2 3.8 1.2 6.8 1.2 150.8 1.2 51.8 1.2 399.8"/>
<circle cx="304.4" cy="272.0" r="78.15" pathLength="320" stroke="#1000cb" stroke-dasharray="1.2 2.8 1.2 53.8 1.2 5.8 2.2 38.8 1.2 158.8 1.2 21.8 1.2 15.8 1.2 1.8 1.2 8.8"/>
<circle cx="304.4" cy="272.0" r="78.15" pathLength="320" stroke="#3000d2" stroke-dasharray="0 1 3.2 55.8 1.2 1.8 3.2 41.8 1.2 3.8 1.2 153.8 1.2 1.8 4.2 11.8 3.2 17.8 1.2 10.8"/>
<circle cx="304.4" cy="272.0" r="78.15" pathLength="320" stroke="#5000d9" stroke-dasharray="0 61 2.2 205.8 2.2 3.8 2.2 8.8 1.2 21.8 1.2 9.8"/>
<circle cx="304.4" cy="272.0" r="78.15" pathLength="320" stroke="#7000e0" stroke-dasharray="0 109 1.2 1.8 1.2 163.8 1.2 41.8"/>
<circle cx="304.4" cy="272.0" r="78.15" pathLength="320" stroke="#8f00e7" stroke-dasharray="0 278 1.2 5.8 1.2 33.8"/>
<circle cx="304.4" cy="272.0" r="78.15" pathLength="320" stroke="#af00ee" stroke-dasharray="0 110 2.2 166.8 1.2 39.8"/>
<circle cx="304.4" cy="272.0" r="78.15" pathLength="320" stroke="#cf00f5" stroke-dasharray="0 280 1.2 2.8 1.2 34.8"/>
<circle cx="304.4" cy="272.0" r="78.15" pathLength="320" stroke="#ef00fc" stroke-dasharray="0 281 3.2 35.8"/>
</g>
<g stroke-width="6.15">
<circle cx="304.4" cy="272.0" r="72.79" pathLength="320" stroke="#ff3000" stroke-dasharray="0 34 1.2 11.8 2.2 270.8"/>
<circle cx="304.4" cy="272.0" r="72.79" pathLength="320" stroke="#ff5000" stroke-dasharray="0 33 1.2 0.8 1.2 9.8 1.2 1.8 1.2 110.8 3.2 155.8"/>
<circle cx="304.4" cy="272.0" r="72.79" pathLength="320" stroke="#ff7000" stroke-dasharray="0 32 1.2 2.8 1.2 4.8 1.2 0.8 2.2 3.8 1.2 108.8 1.2 2.8 1.2 154.8"/>
<circle cx="304.4" cy="272.0" r="72.79" pathLength="320" stroke="#ff8f00" stroke-dasharray="0 37 5.2 0.8 1.2 114.8 1.2 4.8 1.2 2.8 4.2 146.8"/>
<circle cx="304.4" cy="272.0" r="72.79" pathLength="320" stroke="#ffaf00" stroke-dasharray="0 130 8.2 27.8 3.2 3.8 2.2 144.8"/>
<circle cx="304.4" cy="272.0" r="72.79" pathLength="320" stroke="#ffcf00" stroke-dasharray="0 31 1.2 96.8 1.2 7.8 1.2 18.8 1.2 160.8"/>
<circle cx="304.4" cy="272.0" r="72.79" pathLength="320" stroke="#ffef00" stroke-dasharray="0 51 1.2 86.8 1.2 34.8 1.2 143.8"/>
<circle cx="304.4" cy="272.0" r="72.79" pathLength="320" stroke="#effd00" stroke-dasharray="0 128 1.2 10.8 1.2 15.8 1.2 17.8 1.2 142.8"/>
<circle cx="304.4" cy="272.0" r="72.79" pathLength="320" stroke="#cffa00" stroke-dasharray="0 30 1.2 95.8 1.2 48.8 1.2 141.8"/>
<circle cx="304.4" cy="272.0" r="72.79" pathLength="320" stroke="#aff700" stroke-dasharray="0 52 1.2 72.8 1.2 13.8 1.2 1.8 4.2 7.8 1.2 20.8 1.2 140.8"/>
<circle cx="304.4" cy="272.0" r="72.79" pathLength="320" stroke="#8ff400" stroke-dasharray="0 124 2.2 15.8 2.2 3.8 1.2 5.8 1.2 22.8 1.2 139.8"/>
<circle cx="304.4" cy="272.0" r="72.79" pathLength="320" stroke="#70f100" stroke-dasharray="0 123 1.2 24.8 1.2 2.8 2.2 24.8 4.2 135.8"/>
<circle cx="304.4" cy="272.0" r="72.79" pathLength="320" stroke="#50ee00" stroke-dasharray="0 29 1.2 119.8 3.2 68.8 1.2 96.8"/>
<circle cx="304.4" cy="272.0" r="72.79" pathLength="320" stroke="#30eb00" stroke-dasharray="0 53 1.2 67.8 1.2 60.8 1.2 35.8 1.2 0.8 2.2 94.8"/>
<circle cx="304.4" cy="272.0" r="72.79" pathLength="320" stroke="#10e800" stroke-dasharray="0 121 1.2 96.8 2.2 3.8 1.2 93.8"/>
<circle cx="304.4" cy="272.0" r="72.79" pathLength="320" stroke="#00e810" stroke-dasharray="0 185 2.2 7.8 1.2 21.8 1.2 6.8 1.2 92.8"/>
<circle cx="304.4" cy="272.0" r="72.79" pathLength="320" stroke="#00eb30" stroke-dasharray="0 28 1.2 90.8 1.2 65.8 1.2 7.8 1.2 18.8 2.2 8.8 1.2 91.8"/>
<circle cx="304.4" cy="272.0" r="72.79" pathLength="320" stroke="#00ee50" stroke-dasharray="0 54 1.2 63.8 1.2 67.8 1.2 4.8 1.2 19.8 1.2 11.8 2.2 89.8"/>
<circle cx="304.4" cy="272.0" r="72.79" pathLength="320" stroke="#00f170" stroke-dasharray="0 189 1.2 2.8 1.2 2.8 1.2 14.8 2.2 14.8 3.2 86.8"/>
<circle cx="304.4" cy="272.0" r="72.79" pathLength="320" stroke="#00f48f" stroke-dasharray="0 118 1.2 70.8 1.2 0.8 1.2 18.8 1.2 19.8 2.2 84.8"/>
<circle cx="304.4" cy="272.0" r="72.79" pathLength="320" stroke="#00f7af" stroke-dasharray="0 27 1.2 162.8 1.2 18.8 1.2 22.8 6.2 78.8"/>
<circle cx="304.4" cy="272.0" r="72.79" pathLength="320" stroke="#00facf" stroke-dasharray="0 55 1.2 19.8 3.2 37.8 1.2 79.8 1.2 10.8 1.2 29.8 3.2 75.8"/>
<circle cx="304.4" cy="272.0" r="72.79" pathLength="320" stroke="#00fdef" stroke-dasharray="0 75 1.2 2.8 1.2 35.8 1.2 91.8 1.2 33.8 1.2 49.8 3.2 21.8"/>
<circle cx="304.4" cy="272.0" r="72.79" pathLength="320" stroke="#00effc" stroke-dasharray="0 74 1.2 4.8 1.2 125.8 2.2 84.8 1.2 2.8 1.2 20.8"/>
<circle cx="304.4" cy="272.0" r="72.79" pathLength="320" stroke="#00cff5" stroke-dasharray="0 84 3.2 4.8 1.2 21.8 1.2 82.8 1.2 5.8 1.2 37.8 1.2 46.8 1.2 4.8 1.2 19.8"/>
<circle cx="304.4" cy="272.0" r="72.79" pathLength="320" stroke="#008fe7" stroke-dasharray="0 98 1.2 13.8 1.2 85.8 1.2 2.8 1.2 41.8 2.2 4.8 1.2 17.8 2.2 15.8 1.2 8.8 1.2 12.8 1.2 1.8 1.2 0.8"/>
<circle cx="304.4" cy="272.0" r="72.79" pathLength="320" stroke="#0070e0" stroke-dasharray="0 13 2.2 56.8 1.2 25.8 1.2 101.8 2.2 50.8 2.2 5.8 1.2 7.8 1.2 1.8 1.2 13.8 1.2 10.8 2.2 9.8 1.2 3.8 1.2 399.8"/>
<circle cx="304.4" cy="272.0" r="72.79" pathLength="320" stroke="#0050d9" stroke-dasharray="1.2 9.8 2.2 1.8 1.2 47.8 4.2 31.8 2.2 9.8 1.2 87.8 1.2 54.8 2.2 2.8 1.2 0.8 1.2 10.8 1.2 11.8 1.2 13.8 1.2 14.8"/>
<circle cx="304.4" cy="272.0" r="72.79" pathLength="320" stroke="#0030d2" stroke-dasharray="0 1 7.2 1.8 1.2 4.8 1.2 7.8 1.2 30.8 1.2 4.8 1.2 3.8 2.2 0.8 1.2 29.8 1.2 4.8 1.2 1.8 1.2 146.8 3.2 2.8 1.2 4.8 1.2 15.8 1.2 15.8 1.2 6.8 1.2 5.8"/>
<circle cx="304.4" cy="272.0" r="72.79" pathLength="320" stroke="#0010cb" stroke-dasharray="0 8 2.2 6.8 1.2 51.8 1.2 31.8 5.2 0.8 2.2 165.8 1.2 27.8 1.2 12.8"/>
<circle cx="304.4" cy="272.0" r="72.79" pathLength="320" stroke="#1000cb" stroke-dasharray="0 18 1.2 42.8 1.2 202.8 1.2 2.8 1.2 6.8 1.2 7.8 1.2 18.8 1.2 3.8 1.2 6.8"/>
<circle cx="304.4" cy="272.0" r="72.79" pathLength="320" stroke="#3000d2" stroke-dasharray="0 24 1.2 32.8 1.2 1.8 1.2 216.8 1.2 27.8 1.2 1.8 1.2 7.8"/>
<circle cx="304.4" cy="272.0" r="72.79" pathLength="320" stroke="#5000d9" stroke-dasharray="0 19 1.2 38.8 1.2 206.8 1.2 0.8 1.2 15.8 1.2 21.8 2.2 8.8"/>
<circle cx="304.4" cy="272.0" r="72.79" pathLength="320" stroke="#7000e0" stroke-dasharray="0 60 1.2 258.8"/>
<circle cx="304.4" cy="272.0" r="72.79" pathLength="320" stroke="#8f00e7" stroke-dasharray="0 20 1.2 1.8 1.2 243.8 1.2 10.8 1.2 3.8 1.2 33.8"/>
<circle cx="304.4" cy="272.0" r="72.79" pathLength="320" stroke="#af00ee" stroke-dasharray="0 21 2.2 296.8"/>
<circle cx="304.4" cy="272.0" r="72.79" pathLength="320" stroke="#cf00f5" stroke-dasharray="0 281 1.2 1.8 1.2 34.8"/>
<circle cx="304.4" cy="272.0" r="72.79" pathLength="320" stroke="#ef00fc" stroke-dasharray="0 282 2.2 35.8"/>
</g>
<g stroke-width="6.14">
<circle cx="304.4" cy="272.0" r="67.44" pathLength="320" stroke="#ff1000" stroke-dasharray="0 165 8.2 146.8"/>
<circle cx="304.4" cy="272.0" r="67.44" pathLength="320" stroke="#ff3000" stroke-dasharray="0 31 3.2 129.8 1.2 7.8 1.2 145.8"/>
<circle cx="304.4" cy="272.0" r="67.44" pathLength="320" stroke="#ff5000" stroke-dasharray="0 30 1.2 2.8 5.2 280.8"/>
<circle cx="304.4" cy="272.0" r="67.44" pathLength="320" stroke="#ff7000" stroke-dasharray="0 39 2.2 121.8 1.2 9.8 1.2 144.8"/>
<circle cx="304.4" cy="272.0" r="67.44" pathLength="320" stroke="#ff8f00" stroke-dasharray="0 41 3.2 0.8 1.2 115.8 1.2 11.8 1.2 143.8"/>
<circle cx="304.4" cy="272.0" r="67.44" pathLength="320" stroke="#ffaf00" stroke-dasharray="0 29 1.2 13.8 1.2 0.8 2.2 83.8 2.2 41.8 1.2 142.8"/>
<circle cx="304.4" cy="272.0" r="67.44" pathLength="320" stroke="#ffcf00" stroke-dasharray="0 130 2.2 1.8 2.2 24.8 1.2 24.8 2.2 130.8"/>
<circle cx="304.4" cy="272.0" r="67.44" pathLength="320" stroke="#ffef00" stroke-dasharray="0 48 1.2 78.8 2.2 5.8 2.2 38.8 1.2 6.8 2.2 1.8 2.2 128.8"/>
<circle cx="304.4" cy="272.0" r="67.44" pathLength="320" stroke="#effd00" stroke-dasharray="0 28 1.2 108.8 1.2 20.8 1.2 16.8 1.2 4.8 1.2 134.8"/>
<circle cx="304.4" cy="272.0" r="67.44" pathLength="320" stroke="#cffa00" stroke-dasharray="0 127 1.2 10.8 1.2 38.8 1.2 1.8 2.2 6.8 1.2 127.8"/>
<circle cx="304.4" cy="272.0" r="67.44" pathLength="320" stroke="#aff700" stroke-dasharray="0 49 1.2 75.8 1.2 12.8 1.2 3.8 2.2 11.8 1.2 19.8 2.2 137.8"/>
<circle cx="304.4" cy="272.0" r="67.44" pathLength="320" stroke="#8ff400" stroke-dasharray="0 125 1.2 14.8 4.2 1.8 1.2 43.8 1.2 126.8"/>
<circle cx="304.4" cy="272.0" r="67.44" pathLength="320" stroke="#70f100" stroke-dasharray="0 27 1.2 119.8 1.2 43.8 1.2 125.8"/>
<circle cx="304.4" cy="272.0" r="67.44" pathLength="320" stroke="#50ee00" stroke-dasharray="0 50 1.2 72.8 1.2 23.8 1.2 7.8 1.2 34.8 1.2 124.8"/>
<circle cx="304.4" cy="272.0" r="67.44" pathLength="320" stroke="#30eb00" stroke-dasharray="0 123 1.2 70.8 1.2 123.8"/>
<circle cx="304.4" cy="272.0" r="67.44" pathLength="320" stroke="#10e800" stroke-dasharray="0 122 1.2 26.8 2.2 4.8 1.2 37.8 1.2 122.8"/>
<circle cx="304.4" cy="272.0" r="67.44" pathLength="320" stroke="#00e810" stroke-dasharray="0 26 1.2 23.8 1.2 99.8 1.2 2.8 1.2 61.8 2.2 98.8"/>
<circle cx="304.4" cy="272.0" r="67.44" pathLength="320" stroke="#00eb30" stroke-dasharray="0 121 1.2 30.8 3.2 40.8 1.2 19.8 1.2 1.8 1.2 97.8"/>
<circle cx="304.4" cy="272.0" r="67.44" pathLength="320" stroke="#00ee50" stroke-dasharray="0 120 1.2 198.8"/>
<circle cx="304.4" cy="272.0" r="67.44" pathLength="320" stroke="#00f170" stroke-dasharray="0 52 1.2 163.8 1.2 3.8 1.2 96.8"/>
<circle cx="304.4" cy="272.0" r="67.44" pathLength="320" stroke="#00f48f" stroke-dasharray="0 25 1.2 92.8 1.2 77.8 1.2 120.8"/>
<circle cx="304.4" cy="272.0" r="67.44" pathLength="320" stroke="#00f7af" stroke-dasharray="0 118 1.2 96.8 1.2 5.8 1.2 95.8"/>
<circle cx="304.4" cy="272.0" r="67.44" pathLength="320" stroke="#00facf" stroke-dasharray="0 81 5.2 30.8 1.2 80.8 1.2 23.8 1.2 1.8 5.2 62.8 4.2 20.8"/>
<circle cx="304.4" cy="272.0" r="67.44" pathLength="320" stroke="#00fdef" stroke-dasharray="0 24 1.2 27.8 1.2 18.8 8.2 4.8 1.2 28.8 1.2 97.8 1.2 8.8 2.2 4.8 1.2 59.8 2.2 3.8 1.2 19.8"/>
<circle cx="304.4" cy="272.0" r="67.44" pathLength="320" stroke="#00effc" stroke-dasharray="0 71 2.2 13.8 2.2 25.8 1.2 83.8 1.2 31.8 1.2 5.8 2.2 17.8 2.2 10.8 3.2 15.8 1.2 6.8 1.2 13.8 3.2 1.8"/>
<circle cx="304.4" cy="272.0" r="67.44" pathLength="320" stroke="#00afee" stroke-dasharray="1.2 21.8 1.2 41.8 1.2 26.8 4.2 13.8 1.2 88.8 1.2 8.8 2.2 29.8 1.2 10.8 1.2 13.8 1.2 17.8 1.2 10.8 1.2 15.8 1.2 399.8"/>
<circle cx="304.4" cy="272.0" r="67.44" pathLength="320" stroke="#008fe7" stroke-dasharray="0 1 4.2 48.8 1.2 9.8 1.2 31.8 2.2 10.8 1.2 90.8 2.2 4.8 2.2 32.8 1.2 7.8 2.2 9.8 1.2 9.8 1.2 10.8 1.2 12.8 2.2 7.8 1.2 5.8"/>
<circle cx="304.4" cy="272.0" r="67.44" pathLength="320" stroke="#0070e0" stroke-dasharray="0 5 1.2 15.8 1.2 76.8 1.2 6.8 3.2 93.8 1.2 0.8 3.2 35.8 3.2 1.8 3.2 12.8 4.2 33.8 3.2 11.8"/>
<circle cx="304.4" cy="272.0" r="67.44" pathLength="320" stroke="#0050d9" stroke-dasharray="0 6 1.2 7.8 1.2 4.8 1.2 41.8 1.2 35.8 1.2 4.8 1.2 97.8 1.2 41.8 2.2 26.8 1.2 8.8 1.2 18.8 3.2 0.8 1.2 6.8"/>
<circle cx="304.4" cy="272.0" r="67.44" pathLength="320" stroke="#0030d2" stroke-dasharray="0 7 2.2 3.8 2.2 0.8 1.2 2.8 1.2 80.8 2.2 1.8 1.2 171.8 1.2 30.8 1.2 7.8"/>
<circle cx="304.4" cy="272.0" r="67.44" pathLength="320" stroke="#0010cb" stroke-dasharray="0 12 1.2 3.8 3.2 34.8 1.2 47.8 2.2 180.8 1.2 31.8"/>
<circle cx="304.4" cy="272.0" r="67.44" pathLength="320" stroke="#1000cb" stroke-dasharray="0 9 3.2 50.8 1.2 215.8 1.2 38.8"/>
<circle cx="304.4" cy="272.0" r="67.44" pathLength="320" stroke="#3000d2" stroke-dasharray="0 286 1.2 32.8"/>
<circle cx="304.4" cy="272.0" r="67.44" pathLength="320" stroke="#5000d9" stroke-dasharray="0 281 1.2 37.8"/>
<circle cx="304.4" cy="272.0" r="67.44" pathLength="320" stroke="#7000e0" stroke-dasharray="0 56 1.2 4.8 1.2 221.8 1.2 33.8"/>
<circle cx="304.4" cy="272.0" r="67.44" pathLength="320" stroke="#8f00e7" stroke-dasharray="0 282 3.2 34.8"/>
<circle cx="304.4" cy="272.0" r="67.44" pathLength="320" stroke="#af00ee" stroke-dasharray="0 61 1.2 257.8"/>
<circle cx="304.4" cy="272.0" r="67.44" pathLength="320" stroke="#cf00f5" stroke-dasharray="0 57 1.2 261.8"/>
<circle cx="304.4" cy="272.0" r="67.44" pathLength="320" stroke="#ef00fc" stroke-dasharray="0 58 3.2 258.8"/>
</g>
<g stroke-width="6.13">
<circle cx="304.4" cy="272.0" r="62.11" pathLength="320" stroke="#ff1000" stroke-dasharray="0 30 1.2 136.8 6.2 145.8"/>
<circle cx="304.4" cy="272.0" r="62.11" pathLength="320" stroke="#ff3000" stroke-dasharray="0 29 1.2 0.8 1.2 133.8 2.2 5.8 1.2 144.8"/>
<circle cx="304.4" cy="272.0" r="62.11" pathLength="320" stroke="#ff5000" stroke-dasharray="0 28 1.2 2.8 6.2 125.8 2.2 8.8 1.2 143.8"/>
<circle cx="304.4" cy="272.0" r="62.11" pathLength="320" stroke="#ff7000" stroke-dasharray="0 38 1.2 136.8 1.2 9.8 2.2 130.8"/>
<circle cx="304.4" cy="272.0" r="62.11" pathLength="320" stroke="#ff8f00" stroke-dasharray="0 27 1.2 10.8 1.2 122.8 1.2 12.8 1.2 7.8 1.2 1.8 1.2 129.8"/>
<circle cx="304.4" cy="272.0" r="62.11" pathLength="320" stroke="#ffaf00" stroke-dasharray="0 40 2.2 119.8 1.2 14.8 1.2 3.8 3.2 133.8"/>
<circle cx="304.4" cy="272.0" r="62.11" pathLength="320" stroke="#ffcf00" stroke-dasharray="0 137 3.2 38.8 4.2 6.8 1.2 128.8"/>
<circle cx="304.4" cy="272.0" r="62.11" pathLength="320" stroke="#ffef00" stroke-dasharray="0 26 1.2 14.8 1.2 89.8 4.2 23.8 1.2 157.8"/>
<circle cx="304.4" cy="272.0" r="62.11" pathLength="320" stroke="#effd00" stroke-dasharray="0 132 1.2 6.8 1.2 49.8 1.2 127.8"/>
<circle cx="304.4" cy="272.0" r="62.11" pathLength="320" stroke="#cffa00" stroke-dasharray="0 43 1.2 86.8 1.2 8.8 1.2 17.8 1.2 158.8"/>
<circle cx="304.4" cy="272.0" r="62.11" pathLength="320" stroke="#aff700" stroke-dasharray="0 25 1.2 17.8 1.2 81.8 4.2 10.8 2.2 14.8 1.2 159.8"/>
<circle cx="304.4" cy="272.0" r="62.11" pathLength="320" stroke="#8ff400" stroke-dasharray="0 126 1.2 16.8 5.2 8.8 1.2 32.8 1.2 126.8"/>
<circle cx="304.4" cy="272.0" r="62.11" pathLength="320" stroke="#70f100" stroke-dasharray="0 45 1.2 78.8 1.2 22.8 1.2 6.8 1.2 161.8"/>
<circle cx="304.4" cy="272.0" r="62.11" pathLength="320" stroke="#50ee00" stroke-dasharray="0 24 1.2 98.8 1.2 24.8 7.2 162.8"/>
<circle cx="304.4" cy="272.0" r="62.11" pathLength="320" stroke="#30eb00" stroke-dasharray="0 193 1.2 125.8"/>
<circle cx="304.4" cy="272.0" r="62.11" pathLength="320" stroke="#10e800" stroke-dasharray="0 23 1.2 21.8 1.2 75.8 1.2 195.8"/>
<circle cx="304.4" cy="272.0" r="62.11" pathLength="320" stroke="#00eb30" stroke-dasharray="0 47 1.2 34.8 1.2 37.8 1.2 70.8 1.2 124.8"/>
<circle cx="304.4" cy="272.0" r="62.11" pathLength="320" stroke="#00ee50" stroke-dasharray="0 22 1.2 58.8 1.2 0.8 1.2 234.8"/>
<circle cx="304.4" cy="272.0" r="62.11" pathLength="320" stroke="#00f170" stroke-dasharray="0 48 1.2 31.8 1.2 38.8 1.2 72.8 1.2 123.8"/>
<circle cx="304.4" cy="272.0" r="62.11" pathLength="320" stroke="#00f48f" stroke-dasharray="0 80 1.2 3.8 1.2 33.8 1.2 198.8"/>
<circle cx="304.4" cy="272.0" r="62.11" pathLength="320" stroke="#00f7af" stroke-dasharray="0 21 1.2 26.8 1.2 68.8 1.2 75.8 1.2 122.8"/>
<circle cx="304.4" cy="272.0" r="62.11" pathLength="320" stroke="#00facf" stroke-dasharray="0 20 1.2 28.8 1.2 27.8 1.2 5.8 1.2 11.8 4.2 8.8 7.2 141.8 5.2 30.8 3.2 19.8"/>
<circle cx="304.4" cy="272.0" r="62.11" pathLength="320" stroke="#00fdef" stroke-dasharray="0 19 1.2 50.8 2.2 4.8 1.2 7.8 1.2 2.8 4.2 2.8 1.2 3.8 2.2 5.8 1.2 84.8 1.2 61.8 1.2 4.8 1.2 27.8 2.2 2.8 3.2 16.8"/>
<circle cx="304.4" cy="272.0" r="62.11" pathLength="320" stroke="#00cff5" stroke-dasharray="0 16 1.2 34.8 1.2 15.8 1.2 5.8 1.2 10.8 1.2 0.8 1.2 14.8 3.2 104.8 2.2 3.8 1.2 1.8 2.2 32.8 1.2 9.8 7.2 17.8 1.2 9.8 2.2 6.8 1.2 4.8"/>
<circle cx="304.4" cy="272.0" r="62.11" pathLength="320" stroke="#00afee" stroke-dasharray="0 15 1.2 51.8 1.2 19.8 1.2 108.8 1.2 12.8 1.2 6.8 2.2 1.8 4.2 0.8 3.2 23.8 1.2 17.8 2.2 14.8 1.2 12.8 1.2 4.8 1.2 2.8 1.2 1.8"/>
<circle cx="304.4" cy="272.0" r="62.11" pathLength="320" stroke="#008fe7" stroke-dasharray="0 14 1.2 37.8 1.2 12.8 1.2 131.8 3.2 8.8 1.2 15.8 1.2 2.8 1.2 8.8 2.2 10.8 1.2 20.8 1.2 12.8 1.2 14.8 2.2 1.8 1.2 6.8"/>
<circle cx="304.4" cy="272.0" r="62.11" pathLength="320" stroke="#0070e0" stroke-dasharray="0 11 3.2 51.8 1.2 135.8 1.2 29.8 1.2 5.8 2.2 1.8 1.2 4.8 1.2 1.8 2.2 22.8 1.2 10.8 1.2 17.8 2.2 5.8 1.2 0.8"/>
<circle cx="304.4" cy="272.0" r="62.11" pathLength="320" stroke="#0050d9" stroke-dasharray="0 8 3.2 42.8 1.2 148.8 1.2 5.8 1.2 22.8 1.2 3.8 1.2 4.8 5.2 0.8 2.2 25.8 1.2 8.8 1.2 27.8 1.2 399.8"/>
<circle cx="304.4" cy="272.0" r="62.11" pathLength="320" stroke="#0030d2" stroke-dasharray="0 6 2.2 46.8 1.2 8.8 1.2 138.8 1.2 3.8 1.2 24.8 1.2 1.8 1.2 47.8 2.2 29.8"/>
<circle cx="304.4" cy="272.0" r="62.11" pathLength="320" stroke="#0010cb" stroke-dasharray="1.2 2.8 2.2 199.8 1.2 1.8 1.2 26.8 2.2 41.8 1.2 4.8 1.2 31.8"/>
<circle cx="304.4" cy="272.0" r="62.11" pathLength="320" stroke="#1000cb" stroke-dasharray="0 1 3.2 59.8 1.2 141.8 2.2 72.8 1.2 2.8 1.2 32.8"/>
<circle cx="304.4" cy="272.0" r="62.11" pathLength="320" stroke="#3000d2" stroke-dasharray="0 56 1.2 5.8 1.2 218.8 3.2 33.8"/>
<circle cx="304.4" cy="272.0" r="62.11" pathLength="320" stroke="#5000d9" stroke-dasharray="0 57 1.2 261.8"/>
<circle cx="304.4" cy="272.0" r="62.11" pathLength="320" stroke="#7000e0" stroke-dasharray="0 58 1.2 2.8 1.2 256.8"/>
<circle cx="304.4" cy="272.0" r="62.11" pathLength="320" stroke="#8f00e7" stroke-dasharray="0 59 3.2 257.8"/>
</g>
<g stroke-width="6.11">
<circle cx="304.4" cy="272.0" r="56.79" pathLength="320" stroke="#ff1000" stroke-dasharray="0 164 11.2 144.8"/>
<circle cx="304.4" cy="272.0" r="56.79" pathLength="320" stroke="#ff3000" stroke-dasharray="0 31 3.2 128.8 1.2 10.8 2.2 142.8"/>
<circle cx="304.4" cy="272.0" r="56.79" pathLength="320" stroke="#ff5000" stroke-dasharray="0 30 1.2 2.8 3.2 124.8 1.2 13.8 2.2 140.8"/>
<circle cx="304.4" cy="272.0" r="56.79" pathLength="320" stroke="#ff7000" stroke-dasharray="0 29 1.2 130.8 1.2 16.8 2.2 138.8"/>
<circle cx="304.4" cy="272.0" r="56.79" pathLength="320" stroke="#ff8f00" stroke-dasharray="0 37 1.2 121.8 1.2 19.8 2.2 136.8"/>
<circle cx="304.4" cy="272.0" r="56.79" pathLength="320" stroke="#ffaf00" stroke-dasharray="0 28 1.2 8.8 1.2 118.8 2.2 22.8 3.2 133.8"/>
<circle cx="304.4" cy="272.0" r="56.79" pathLength="320" stroke="#ffcf00" stroke-dasharray="0 156 2.2 27.8 1.2 132.8"/>
<circle cx="304.4" cy="272.0" r="56.79" pathLength="320" stroke="#ffef00" stroke-dasharray="0 39 1.2 96.8 3.2 9.8 6.2 30.8 2.2 130.8"/>
<circle cx="304.4" cy="272.0" r="56.79" pathLength="320" stroke="#effd00" stroke-dasharray="0 27 1.2 107.8 1.2 2.8 2.2 4.8 3.2 169.8"/>
<circle cx="304.4" cy="272.0" r="56.79" pathLength="320" stroke="#cffa00" stroke-dasharray="0 40 1.2 92.8 2.2 5.8 1.2 0.8 3.2 41.8 1.2 129.8"/>
<circle cx="304.4" cy="272.0" r="56.79" pathLength="320" stroke="#aff700" stroke-dasharray="0 26 1.2 105.8 1.2 8.8 1.2 45.8 1.2 128.8"/>
<circle cx="304.4" cy="272.0" r="56.79" pathLength="320" stroke="#8ff400" stroke-dasharray="0 132 1.2 186.8"/>
<circle cx="304.4" cy="272.0" r="56.79" pathLength="320" stroke="#70f100" stroke-dasharray="0 25 1.2 14.8 1.2 81.8 1.2 65.8 1.2 127.8"/>
<circle cx="304.4" cy="272.0" r="56.79" pathLength="320" stroke="#50ee00" stroke-dasharray="0 24 1.2 97.8 1.2 0.8 7.2 187.8"/>
<circle cx="304.4" cy="272.0" r="56.79" pathLength="320" stroke="#30eb00" stroke-dasharray="0 23 1.2 167.8 1.2 126.8"/>
<circle cx="304.4" cy="272.0" r="56.79" pathLength="320" stroke="#10e800" stroke-dasharray="0 21 2.2 18.8 1.2 78.8 1.2 196.8"/>
<circle cx="304.4" cy="272.0" r="56.79" pathLength="320" stroke="#00e810" stroke-dasharray="0 20 1.2 62.8 1.2 35.8 1.2 70.8 1.2 125.8"/>
<circle cx="304.4" cy="272.0" r="56.79" pathLength="320" stroke="#00eb30" stroke-dasharray="0 83 1.2 21.8 3.2 10.8 1.2 198.8"/>
<circle cx="304.4" cy="272.0" r="56.79" pathLength="320" stroke="#00ee50" stroke-dasharray="0 19 1.2 22.8 1.2 40.8 1.2 11.8 1.2 4.8 2.2 2.8 7.2 2.8 1.2 199.8"/>
<circle cx="304.4" cy="272.0" r="56.79" pathLength="320" stroke="#00f170" stroke-dasharray="0 18 1.2 62.8 1.2 2.8 1.2 6.8 4.2 0.8 2.2 0.8 2.2 11.8 3.2 74.8 1.2 124.8"/>
<circle cx="304.4" cy="272.0" r="56.79" pathLength="320" stroke="#00f48f" stroke-dasharray="0 17 1.2 62.8 1.2 4.8 1.2 3.8 2.2 6.8 1.2 217.8"/>
<circle cx="304.4" cy="272.0" r="56.79" pathLength="320" stroke="#00f7af" stroke-dasharray="0 15 2.2 26.8 1.2 42.8 4.2 102.8 1.2 64.8 2.2 56.8"/>
<circle cx="304.4" cy="272.0" r="56.79" pathLength="320" stroke="#00facf" stroke-dasharray="0 14 1.2 64.8 1.2 178.8 1.2 1.8 2.2 36.8 4.2 13.8"/>
<circle cx="304.4" cy="272.0" r="56.79" pathLength="320" stroke="#00fdef" stroke-dasharray="0 13 1.2 30.8 1.2 32.8 1.2 115.8 1.2 61.8 1.2 4.8 1.2 4.8 4.2 24.8 2.2 3.8 1.2 12.8"/>
<circle cx="304.4" cy="272.0" r="56.79" pathLength="320" stroke="#00effc" stroke-dasharray="0 12 1.2 64.8 1.2 178.8 1.2 6.8 5.2 3.8 4.2 13.8 1.2 1.8 4.2 6.8 1.2 11.8"/>
<circle cx="304.4" cy="272.0" r="56.79" pathLength="320" stroke="#00cff5" stroke-dasharray="0 11 1.2 33.8 1.2 22.8 8.2 118.8 1.2 58.8 1.2 20.8 2.2 9.8 2.2 0.8 2.2 11.8 1.2 10.8"/>
<circle cx="304.4" cy="272.0" r="56.79" pathLength="320" stroke="#00afee" stroke-dasharray="0 10 1.2 35.8 1.2 19.8 2.2 127.8 1.2 13.8 3.2 39.8 1.2 23.8 1.2 7.8 1.2 17.8 2.2 8.8"/>
<circle cx="304.4" cy="272.0" r="56.79" pathLength="320" stroke="#008fe7" stroke-dasharray="0 48 2.2 16.8 1.2 130.8 1.2 11.8 1.2 2.8 1.2 37.8 1.2 25.8 1.2 5.8 1.2 20.8 1.2 7.8"/>
<circle cx="304.4" cy="272.0" r="56.79" pathLength="320" stroke="#0070e0" stroke-dasharray="0 9 1.2 39.8 1.2 14.8 1.2 132.8 4.2 5.8 2.2 4.8 1.2 12.8 2.2 20.8 1.2 27.8 1.2 3.8 1.2 22.8 1.2 6.8"/>
<circle cx="304.4" cy="272.0" r="56.79" pathLength="320" stroke="#0050d9" stroke-dasharray="0 8 1.2 41.8 1.2 12.8 1.2 137.8 6.2 7.8 1.2 7.8 4.2 1.8 2.2 16.8 2.2 29.8 1.2 27.8 2.2 4.8"/>
<circle cx="304.4" cy="272.0" r="56.79" pathLength="320" stroke="#0010cb" stroke-dasharray="0 5 1.2 47.8 1.2 4.8 4.2 154.8 2.2 1.8 2.2 10.8 1.2 7.8 2.2 68.8 1.2 2.8"/>
<circle cx="304.4" cy="272.0" r="56.79" pathLength="320" stroke="#1000cb" stroke-dasharray="0 4 1.2 215.8 2.2 13.8 1.2 4.8 2.2 71.8 1.2 1.8"/>
<circle cx="304.4" cy="272.0" r="56.79" pathLength="320" stroke="#3000d2" stroke-dasharray="0 3 1.2 233.8 1.2 2.8 1.2 74.8 2.2 399.8"/>
<circle cx="304.4" cy="272.0" r="56.79" pathLength="320" stroke="#5000d9" stroke-dasharray="3.2 235.8 3.2 77.8"/>
</g>
<g stroke-width="6.10">
<circle cx="304.4" cy="272.0" r="51.48" pathLength="320" stroke="#ff5000" stroke-dasharray="0 167 8.2 144.8"/>
<circle cx="304.4" cy="272.0" r="51.48" pathLength="320" stroke="#ff7000" stroke-dasharray="0 159 8.2 7.8 1.2 143.8"/>
<circle cx="304.4" cy="272.0" r="51.48" pathLength="320" stroke="#ff8f00" stroke-dasharray="0 158 1.2 16.8 1.2 142.8"/>
<circle cx="304.4" cy="272.0" r="51.48" pathLength="320" stroke="#ffaf00" stroke-dasharray="0 156 2.2 18.8 1.2 141.8"/>
<circle cx="304.4" cy="272.0" r="51.48" pathLength="320" stroke="#ffcf00" stroke-dasharray="0 155 1.2 21.8 1.2 140.8"/>
<circle cx="304.4" cy="272.0" r="51.48" pathLength="320" stroke="#ffef00" stroke-dasharray="0 30 5.2 118.8 1.2 23.8 1.2 139.8"/>
<circle cx="304.4" cy="272.0" r="51.48" pathLength="320" stroke="#effd00" stroke-dasharray="0 29 1.2 4.8 1.2 68.8 6.2 41.8 1.2 25.8 6.2 133.8"/>
<circle cx="304.4" cy="272.0" r="51.48" pathLength="320" stroke="#cffa00" stroke-dasharray="0 36 1.2 66.8 1.2 5.8 1.2 34.8 3.2 0.8 2.2 32.8 1.2 132.8"/>
<circle cx="304.4" cy="272.0" r="51.48" pathLength="320" stroke="#aff700" stroke-dasharray="0 28 1.2 72.8 2.2 7.8 1.2 22.8 2.2 6.8 2.2 2.8 1.2 35.8 1.2 131.8"/>
<circle cx="304.4" cy="272.0" r="51.48" pathLength="320" stroke="#8ff400" stroke-dasharray="0 37 1.2 61.8 2.2 31.8 2.2 1.8 7.2 174.8"/>
<circle cx="304.4" cy="272.0" r="51.48" pathLength="320" stroke="#70f100" stroke-dasharray="0 97 3.2 12.8 2.2 17.8 1.2 53.8 1.2 130.8"/>
<circle cx="304.4" cy="272.0" r="51.48" pathLength="320" stroke="#50ee00" stroke-dasharray="0 27 1.2 9.8 1.2 56.8 1.2 17.8 1.2 4.8 4.2 5.8 2.2 186.8"/>
<circle cx="304.4" cy="272.0" r="51.48" pathLength="320" stroke="#30eb00" stroke-dasharray="0 39 1.2 75.8 1.2 0.8 3.2 3.8 2.2 1.8 2.2 57.8 1.2 129.8"/>
<circle cx="304.4" cy="272.0" r="51.48" pathLength="320" stroke="#10e800" stroke-dasharray="0 26 1.2 12.8 1.2 53.8 1.2 20.8 1.2 8.8 2.2 60.8 1.2 128.8"/>
<circle cx="304.4" cy="272.0" r="51.48" pathLength="320" stroke="#00e810" stroke-dasharray="0 94 1.2 224.8"/>
<circle cx="304.4" cy="272.0" r="51.48" pathLength="320" stroke="#00eb30" stroke-dasharray="0 25 1.2 14.8 1.2 50.8 1.2 96.8 1.2 127.8"/>
<circle cx="304.4" cy="272.0" r="51.48" pathLength="320" stroke="#00ee50" stroke-dasharray="0 42 1.2 276.8"/>
<circle cx="304.4" cy="272.0" r="51.48" pathLength="320" stroke="#00f170" stroke-dasharray="0 24 1.2 66.8 1.2 98.8 1.2 126.8"/>
<circle cx="304.4" cy="272.0" r="51.48" pathLength="320" stroke="#00f48f" stroke-dasharray="0 23 1.2 66.8 1.2 179.8 7.2 40.8"/>
<circle cx="304.4" cy="272.0" r="51.48" pathLength="320" stroke="#00f7af" stroke-dasharray="0 22 1.2 19.8 1.2 36.8 4.2 107.8 1.2 75.8 2.2 6.8 1.2 39.8"/>
<circle cx="304.4" cy="272.0" r="51.48" pathLength="320" stroke="#00facf" stroke-dasharray="0 20 2.2 62.8 1.2 3.8 1.2 176.8 2.2 49.8"/>
<circle cx="304.4" cy="272.0" r="51.48" pathLength="320" stroke="#00fdef" stroke-dasharray="0 18 2.2 23.8 1.2 15.8 1.2 17.8 1.2 4.8 4.2 103.8 1.2 70.8 2.2 11.8 1.2 38.8"/>
<circle cx="304.4" cy="272.0" r="51.48" pathLength="320" stroke="#00cff5" stroke-dasharray="0 15 2.2 39.8 2.2 10.8 1.2 124.8 2.2 0.8 2.2 58.8 2.2 19.8 1.2 5.8 1.2 3.8 1.2 5.8 3.2 15.8"/>
<circle cx="304.4" cy="272.0" r="51.48" pathLength="320" stroke="#00afee" stroke-dasharray="0 13 2.2 29.8 1.2 9.8 1.2 13.8 1.2 5.8 1.2 118.8 1.2 4.8 1.2 3.8 4.2 45.8 1.2 22.8 2.2 1.8 2.2 5.8 2.2 1.8 2.2 2.8 1.2 14.8"/>
<circle cx="304.4" cy="272.0" r="51.48" pathLength="320" stroke="#008fe7" stroke-dasharray="0 55 1.2 15.8 2.2 2.8 1.2 126.8 1.2 0.8 2.2 3.8 2.2 42.8 1.2 25.8 2.2 9.8 2.2 5.8 1.2 13.8"/>
<circle cx="304.4" cy="272.0" r="51.48" pathLength="320" stroke="#0070e0" stroke-dasharray="0 12 1.2 32.8 1.2 26.8 3.2 128.8 1.2 7.8 2.2 39.8 1.2 47.8 1.2 12.8"/>
<circle cx="304.4" cy="272.0" r="51.48" pathLength="320" stroke="#0050d9" stroke-dasharray="0 11 1.2 41.8 1.2 161.8 1.2 37.8 1.2 62.8"/>
<circle cx="304.4" cy="272.0" r="51.48" pathLength="320" stroke="#0030d2" stroke-dasharray="0 10 1.2 35.8 2.2 2.8 2.2 163.8 2.2 33.8 2.2 50.8 1.2 11.8"/>
<circle cx="304.4" cy="272.0" r="51.48" pathLength="320" stroke="#0010cb" stroke-dasharray="0 9 1.2 38.8 3.2 167.8 1.2 30.8 2.2 53.8 1.2 10.8"/>
<circle cx="304.4" cy="272.0" r="51.48" pathLength="320" stroke="#1000cb" stroke-dasharray="0 8 1.2 211.8 4.2 22.8 4.2 56.8 1.2 9.8"/>
<circle cx="304.4" cy="272.0" r="51.48" pathLength="320" stroke="#3000d2" stroke-dasharray="0 6 2.2 216.8 3.2 16.8 3.2 61.8 1.2 8.8"/>
<circle cx="304.4" cy="272.0" r="51.48" pathLength="320" stroke="#5000d9" stroke-dasharray="0 2 4.2 221.8 7.2 7.8 2.2 65.8 1.2 5.8 1.2 0.8"/>
<circle cx="304.4" cy="272.0" r="51.48" pathLength="320" stroke="#7000e0" stroke-dasharray="2.2 232.8 2.2 3.8 2.2 68.8 6.2 0.8 1.2 399.8"/>
<circle cx="304.4" cy="272.0" r="51.48" pathLength="320" stroke="#8f00e7" stroke-dasharray="0 237 4.2 78.8"/>
</g>
<g stroke-width="6.09">
<circle cx="304.4" cy="272.0" r="46.18" pathLength="320" stroke="#ff8f00" stroke-dasharray="0 104 4.2 211.8"/>
<circle cx="304.4" cy="272.0" r="46.18" pathLength="320" stroke="#ffaf00" stroke-dasharray="0 102 2.2 3.8 3.2 208.8"/>
<circle cx="304.4" cy="272.0" r="46.18" pathLength="320" stroke="#ffcf00" stroke-dasharray="0 99 3.2 8.8 1.2 207.8"/>
<circle cx="304.4" cy="272.0" r="46.18" pathLength="320" stroke="#ffef00" stroke-dasharray="0 112 1.2 50.8 8.2 147.8"/>
<circle cx="304.4" cy="272.0" r="46.18" pathLength="320" stroke="#effd00" stroke-dasharray="0 98 1.2 13.8 2.2 46.8 2.2 7.8 8.2 139.8"/>
<circle cx="304.4" cy="272.0" r="46.18" pathLength="320" stroke="#cffa00" stroke-dasharray="0 96 2.2 16.8 3.2 40.8 3.2 17.8 2.2 137.8"/>
<circle cx="304.4" cy="272.0" r="46.18" pathLength="320" stroke="#aff700" stroke-dasharray="0 95 1.2 21.8 6.2 17.8 6.2 6.8 4.2 22.8 1.2 136.8"/>
<circle cx="304.4" cy="272.0" r="46.18" pathLength="320" stroke="#8ff400" stroke-dasharray="0 124 2.2 13.8 2.2 5.8 4.2 0.8 2.2 27.8 1.2 135.8"/>
<circle cx="304.4" cy="272.0" r="46.18" pathLength="320" stroke="#70f100" stroke-dasharray="0 94 1.2 30.8 7.2 3.8 3.2 11.8 1.2 30.8 1.2 134.8"/>
<circle cx="304.4" cy="272.0" r="46.18" pathLength="320" stroke="#50ee00" stroke-dasharray="0 133 4.2 47.8 1.2 133.8"/>
<circle cx="304.4" cy="272.0" r="46.18" pathLength="320" stroke="#30eb00" stroke-dasharray="0 93 1.2 91.8 1.2 132.8"/>
<circle cx="304.4" cy="272.0" r="46.18" pathLength="320" stroke="#10e800" stroke-dasharray="0 92 1.2 93.8 1.2 131.8"/>
<circle cx="304.4" cy="272.0" r="46.18" pathLength="320" stroke="#00e810" stroke-dasharray="0 33 6.2 18.8 5.2 124.8 1.2 130.8"/>
<circle cx="304.4" cy="272.0" r="46.18" pathLength="320" stroke="#00eb30" stroke-dasharray="0 31 2.2 5.8 1.2 22.8 1.2 26.8 1.2 96.8 1.2 129.8"/>
<circle cx="304.4" cy="272.0" r="46.18" pathLength="320" stroke="#00ee50" stroke-dasharray="0 30 1.2 8.8 1.2 15.8 1.2 5.8 1.2 124.8 1.2 86.8 1.2 40.8"/>
<circle cx="304.4" cy="272.0" r="46.18" pathLength="320" stroke="#00f170" stroke-dasharray="0 28 2.2 10.8 1.2 13.8 1.2 7.8 1.2 124.8 1.2 83.8 2.2 0.8 1.2 39.8"/>
<circle cx="304.4" cy="272.0" r="46.18" pathLength="320" stroke="#00f48f" stroke-dasharray="0 27 1.2 13.8 1.2 22.8 1.2 22.8 1.2 100.8 1.2 81.8 1.2 3.8 1.2 38.8"/>
<circle cx="304.4" cy="272.0" r="46.18" pathLength="320" stroke="#00f7af" stroke-dasharray="0 26 1.2 27.8 1.2 10.8 1.2 124.8 1.2 78.8 2.2 5.8 1.2 37.8"/>
<circle cx="304.4" cy="272.0" r="46.18" pathLength="320" stroke="#00facf" stroke-dasharray="0 43 1.2 23.8 1.2 19.8 1.2 103.8 1.2 76.8 1.2 8.8 1.2 36.8"/>
<circle cx="304.4" cy="272.0" r="46.18" pathLength="320" stroke="#00fdef" stroke-dasharray="0 25 1.2 27.8 1.2 13.8 1.2 124.8 2.2 85.8 1.2 35.8"/>
<circle cx="304.4" cy="272.0" r="46.18" pathLength="320" stroke="#00effc" stroke-dasharray="0 24 1.2 18.8 1.2 24.8 1.2 16.8 1.2 107.8 1.2 72.8 1.2 11.8 1.2 34.8"/>
<circle cx="304.4" cy="272.0" r="46.18" pathLength="320" stroke="#00cff5" stroke-dasharray="0 53 1.2 16.8 1.2 14.8 1.2 109.8 1.2 70.8 1.2 13.8 2.2 32.8"/>
<circle cx="304.4" cy="272.0" r="46.18" pathLength="320" stroke="#008fe7" stroke-dasharray="0 74 3.2 6.8 2.2 114.8 2.2 63.8 1.2 27.8 6.2 17.8"/>
<circle cx="304.4" cy="272.0" r="46.18" pathLength="320" stroke="#0070e0" stroke-dasharray="0 21 2.2 22.8 1.2 3.8 1.2 150.8 1.2 61.8 1.2 34.8 1.2 16.8"/>
<circle cx="304.4" cy="272.0" r="46.18" pathLength="320" stroke="#0050d9" stroke-dasharray="0 15 2.2 2.8 1.2 25.8 4.2 152.8 2.2 2.8 5.2 49.8 2.2 36.8 2.2 14.8"/>
<circle cx="304.4" cy="272.0" r="46.18" pathLength="320" stroke="#0030d2" stroke-dasharray="0 13 2.2 1.8 3.2 185.8 3.2 4.8 5.2 42.8 2.2 55.8"/>
<circle cx="304.4" cy="272.0" r="46.18" pathLength="320" stroke="#0010cb" stroke-dasharray="0 12 1.2 205.8 2.2 38.8 2.2 42.8 1.2 13.8"/>
<circle cx="304.4" cy="272.0" r="46.18" pathLength="320" stroke="#1000cb" stroke-dasharray="0 11 1.2 208.8 4.2 0.8 5.2 27.8 1.2 45.8 1.2 12.8"/>
<circle cx="304.4" cy="272.0" r="46.18" pathLength="320" stroke="#3000d2" stroke-dasharray="0 10 1.2 213.8 1.2 4.8 2.2 22.8 3.2 47.8 1.2 11.8"/>
<circle cx="304.4" cy="272.0" r="46.18" pathLength="320" stroke="#5000d9" stroke-dasharray="0 9 1.2 222.8 1.2 19.8 2.2 51.8 2.2 9.8"/>
<circle cx="304.4" cy="272.0" r="46.18" pathLength="320" stroke="#7000e0" stroke-dasharray="0 8 1.2 224.8 1.2 17.8 1.2 55.8 10.2 399.8"/>
<circle cx="304.4" cy="272.0" r="46.18" pathLength="320" stroke="#8f00e7" stroke-dasharray="5.2 0.8 2.2 226.8 2.2 4.8 6.2 0.8 4.2 66.8"/>
<circle cx="304.4" cy="272.0" r="46.18" pathLength="320" stroke="#af00ee" stroke-dasharray="0 5 1.2 230.8 2.2 0.8 2.2 5.8 1.2 70.8"/>
<circle cx="304.4" cy="272.0" r="46.18" pathLength="320" stroke="#cf00f5" stroke-dasharray="0 239 1.2 79.8"/>
</g>
<g stroke-width="6.09">
<circle cx="304.4" cy="272.0" r="40.89" pathLength="320" stroke="#ff3000" stroke-dasharray="0 109 4.2 206.8"/>
<circle cx="304.4" cy="272.0" r="40.89" pathLength="320" stroke="#ff5000" stroke-dasharray="0 107 2.2 3.8 2.2 204.8"/>
<circle cx="304.4" cy="272.0" r="40.89" pathLength="320" stroke="#ff7000" stroke-dasharray="0 106 1.2 7.8 1.2 203.8"/>
<circle cx="304.4" cy="272.0" r="40.89" pathLength="320" stroke="#ff8f00" stroke-dasharray="0 105 1.2 9.8 1.2 202.8"/>
<circle cx="304.4" cy="272.0" r="40.89" pathLength="320" stroke="#ffaf00" stroke-dasharray="0 117 1.2 201.8"/>
<circle cx="304.4" cy="272.0" r="40.89" pathLength="320" stroke="#ffcf00" stroke-dasharray="0 104 1.2 12.8 2.2 199.8"/>
<circle cx="304.4" cy="272.0" r="40.89" pathLength="320" stroke="#ffef00" stroke-dasharray="0 103 1.2 15.8 1.2 4.8 8.2 11.8 2.2 171.8"/>
<circle cx="304.4" cy="272.0" r="40.89" pathLength="320" stroke="#effd00" stroke-dasharray="0 102 1.2 17.8 5.2 7.8 2.2 6.8 3.2 1.8 2.2 169.8"/>
<circle cx="304.4" cy="272.0" r="40.89" pathLength="320" stroke="#cffa00" stroke-dasharray="0 101 1.2 33.8 2.2 2.8 2.2 6.8 1.2 17.8 5.2 145.8"/>
<circle cx="304.4" cy="272.0" r="40.89" pathLength="320" stroke="#aff700" stroke-dasharray="0 100 1.2 36.8 3.2 9.8 1.2 15.8 1.2 4.8 2.2 143.8"/>
<circle cx="304.4" cy="272.0" r="40.89" pathLength="320" stroke="#8ff400" stroke-dasharray="0 99 1.2 51.8 1.2 13.8 1.2 7.8 3.2 140.8"/>
<circle cx="304.4" cy="272.0" r="40.89" pathLength="320" stroke="#70f100" stroke-dasharray="0 98 1.2 53.8 1.2 11.8 1.2 11.8 1.2 139.8"/>
<circle cx="304.4" cy="272.0" r="40.89" pathLength="320" stroke="#50ee00" stroke-dasharray="0 96 2.2 55.8 1.2 9.8 1.2 13.8 2.2 137.8"/>
<circle cx="304.4" cy="272.0" r="40.89" pathLength="320" stroke="#30eb00" stroke-dasharray="0 95 1.2 58.8 1.2 7.8 1.2 16.8 1.2 136.8"/>
<circle cx="304.4" cy="272.0" r="40.89" pathLength="320" stroke="#10e800" stroke-dasharray="0 94 1.2 60.8 2.2 2.8 3.2 155.8"/>
<circle cx="304.4" cy="272.0" r="40.89" pathLength="320" stroke="#00e810" stroke-dasharray="0 93 1.2 63.8 3.2 21.8 1.2 135.8"/>
<circle cx="304.4" cy="272.0" r="40.89" pathLength="320" stroke="#00eb30" stroke-dasharray="0 184 1.2 134.8"/>
<circle cx="304.4" cy="272.0" r="40.89" pathLength="320" stroke="#00ee50" stroke-dasharray="0 92 1.2 91.8 1.2 133.8"/>
<circle cx="304.4" cy="272.0" r="40.89" pathLength="320" stroke="#00f170" stroke-dasharray="0 186 1.2 132.8"/>
<circle cx="304.4" cy="272.0" r="40.89" pathLength="320" stroke="#00f48f" stroke-dasharray="0 44 2.2 10.8 6.2 27.8 1.2 94.8 1.2 131.8"/>
<circle cx="304.4" cy="272.0" r="40.89" pathLength="320" stroke="#00f7af" stroke-dasharray="0 43 1.2 1.8 2.2 6.8 2.2 5.8 6.2 118.8 1.2 89.8 3.2 37.8"/>
<circle cx="304.4" cy="272.0" r="40.89" pathLength="320" stroke="#00facf" stroke-dasharray="0 41 2.2 4.8 7.2 13.8 2.2 117.8 1.2 87.8 1.2 2.8 2.2 35.8"/>
<circle cx="304.4" cy="272.0" r="40.89" pathLength="320" stroke="#00fdef" stroke-dasharray="0 39 2.2 29.8 1.2 17.8 1.2 185.8 1.2 5.8 1.2 34.8"/>
<circle cx="304.4" cy="272.0" r="40.89" pathLength="320" stroke="#00effc" stroke-dasharray="0 38 1.2 32.8 2.2 14.8 1.2 99.8 2.2 83.8 1.2 7.8 1.2 33.8"/>
<circle cx="304.4" cy="272.0" r="40.89" pathLength="320" stroke="#00cff5" stroke-dasharray="0 36 2.2 35.8 5.2 8.8 1.2 102.8 1.2 81.8 1.2 9.8 1.2 32.8"/>
<circle cx="304.4" cy="272.0" r="40.89" pathLength="320" stroke="#00afee" stroke-dasharray="0 33 3.2 42.8 3.2 110.8 2.2 78.8 1.2 44.8"/>
<circle cx="304.4" cy="272.0" r="40.89" pathLength="320" stroke="#008fe7" stroke-dasharray="0 28 5.2 48.8 3.2 1.8 1.2 106.8 2.2 75.8 1.2 12.8 2.2 30.8"/>
<circle cx="304.4" cy="272.0" r="40.89" pathLength="320" stroke="#0070e0" stroke-dasharray="0 15 3.2 6.8 3.2 56.8 2.2 109.8 2.2 72.8 1.2 15.8 1.2 29.8"/>
<circle cx="304.4" cy="272.0" r="40.89" pathLength="320" stroke="#0050d9" stroke-dasharray="0 13 2.2 2.8 7.2 173.8 1.2 70.8 1.2 17.8 4.2 1.8 3.2 20.8"/>
<circle cx="304.4" cy="272.0" r="40.89" pathLength="320" stroke="#0030d2" stroke-dasharray="0 12 1.2 186.8 5.2 64.8 1.2 22.8 2.2 2.8 2.2 18.8"/>
<circle cx="304.4" cy="272.0" r="40.89" pathLength="320" stroke="#0010cb" stroke-dasharray="0 11 1.2 192.8 7.2 5.8 3.2 47.8 1.2 30.8 2.2 16.8"/>
<circle cx="304.4" cy="272.0" r="40.89" pathLength="320" stroke="#1000cb" stroke-dasharray="0 10 1.2 200.8 6.2 2.8 1.2 45.8 1.2 33.8 1.2 15.8"/>
<circle cx="304.4" cy="272.0" r="40.89" pathLength="320" stroke="#3000d2" stroke-dasharray="0 9 1.2 211.8 2.2 42.8 1.2 35.8 1.2 14.8"/>
<circle cx="304.4" cy="272.0" r="40.89" pathLength="320" stroke="#5000d9" stroke-dasharray="0 8 1.2 214.8 2.2 4.8 1.2 33.8 1.2 37.8 1.2 6.8 4.2 2.8"/>
<circle cx="304.4" cy="272.0" r="40.89" pathLength="320" stroke="#7000e0" stroke-dasharray="0 7 1.2 217.8 5.2 0.8 2.2 29.8 2.2 39.8 1.2 4.8 1.2 3.8 2.2 0.8"/>
<circle cx="304.4" cy="272.0" r="40.89" pathLength="320" stroke="#8f00e7" stroke-dasharray="1.2 3.8 2.2 226.8 1.2 10.8 5.2 11.8 1.2 42.8 5.2 6.8 1.2 399.8"/>
<circle cx="304.4" cy="272.0" r="40.89" pathLength="320" stroke="#cf00f5" stroke-dasharray="0 237 1.2 4.8 2.2 74.8"/>
<circle cx="304.4" cy="272.0" r="40.89" pathLength="320" stroke="#ef00fc" stroke-dasharray="0 238 5.2 76.8"/>
</g>
<g stroke-width="6.08">
<circle cx="304.4" cy="272.0" r="35.61" pathLength="320" stroke="#ff3000" stroke-dasharray="0 128 9.2 182.8"/>
<circle cx="304.4" cy="272.0" r="35.61" pathLength="320" stroke="#ff5000" stroke-dasharray="0 109 3.2 13.8 2.2 8.8 3.2 179.8"/>
<circle cx="304.4" cy="272.0" r="35.61" pathLength="320" stroke="#ff7000" stroke-dasharray="0 108 1.2 2.8 1.2 10.8 2.2 13.8 2.2 177.8"/>
<circle cx="304.4" cy="272.0" r="35.61" pathLength="320" stroke="#ff8f00" stroke-dasharray="0 107 1.2 4.8 2.2 6.8 2.2 17.8 5.2 172.8"/>
<circle cx="304.4" cy="272.0" r="35.61" pathLength="320" stroke="#ffaf00" stroke-dasharray="0 115 7.2 24.8 4.2 168.8"/>
<circle cx="304.4" cy="272.0" r="35.61" pathLength="320" stroke="#ffcf00" stroke-dasharray="0 106 1.2 43.8 1.2 167.8"/>
<circle cx="304.4" cy="272.0" r="35.61" pathLength="320" stroke="#ffef00" stroke-dasharray="0 105 1.2 45.8 1.2 166.8"/>
<circle cx="304.4" cy="272.0" r="35.61" pathLength="320" stroke="#effd00" stroke-dasharray="0 153 1.2 165.8"/>
<circle cx="304.4" cy="272.0" r="35.61" pathLength="320" stroke="#cffa00" stroke-dasharray="0 104 1.2 48.8 1.2 164.8"/>
<circle cx="304.4" cy="272.0" r="35.61" pathLength="320" stroke="#aff700" stroke-dasharray="0 103 1.2 50.8 2.2 162.8"/>
<circle cx="304.4" cy="272.0" r="35.61" pathLength="320" stroke="#8ff400" stroke-dasharray="0 157 1.2 161.8"/>
<circle cx="304.4" cy="272.0" r="35.61" pathLength="320" stroke="#70f100" stroke-dasharray="0 102 1.2 54.8 1.2 160.8"/>
<circle cx="304.4" cy="272.0" r="35.61" pathLength="320" stroke="#50ee00" stroke-dasharray="0 101 1.2 56.8 1.2 159.8"/>
<circle cx="304.4" cy="272.0" r="35.61" pathLength="320" stroke="#30eb00" stroke-dasharray="0 160 2.2 157.8"/>
<circle cx="304.4" cy="272.0" r="35.61" pathLength="320" stroke="#10e800" stroke-dasharray="0 100 1.2 60.8 12.2 145.8"/>
<circle cx="304.4" cy="272.0" r="35.61" pathLength="320" stroke="#00e810" stroke-dasharray="0 98 2.2 73.8 2.2 143.8"/>
<circle cx="304.4" cy="272.0" r="35.61" pathLength="320" stroke="#00eb30" stroke-dasharray="0 97 1.2 77.8 2.2 141.8"/>
<circle cx="304.4" cy="272.0" r="35.61" pathLength="320" stroke="#00ee50" stroke-dasharray="0 96 1.2 80.8 1.2 140.8"/>
<circle cx="304.4" cy="272.0" r="35.61" pathLength="320" stroke="#00f170" stroke-dasharray="0 94 2.2 82.8 1.2 139.8"/>
<circle cx="304.4" cy="272.0" r="35.61" pathLength="320" stroke="#00f48f" stroke-dasharray="0 93 1.2 85.8 1.2 138.8"/>
<circle cx="304.4" cy="272.0" r="35.61" pathLength="320" stroke="#00f7af" stroke-dasharray="0 68 4.2 19.8 1.2 87.8 2.2 136.8"/>
<circle cx="304.4" cy="272.0" r="35.61" pathLength="320" stroke="#00facf" stroke-dasharray="0 65 3.2 3.8 4.2 14.8 1.2 90.8 1.2 135.8"/>
<circle cx="304.4" cy="272.0" r="35.61" pathLength="320" stroke="#00fdef" stroke-dasharray="0 62 3.2 10.8 6.2 6.8 2.2 92.8 1.2 134.8"/>
<circle cx="304.4" cy="272.0" r="35.61" pathLength="320" stroke="#00effc" stroke-dasharray="0 45 4.2 10.8 2.2 19.8 3.2 2.8 1.2 95.8 1.2 133.8"/>
<circle cx="304.4" cy="272.0" r="35.61" pathLength="320" stroke="#00cff5" stroke-dasharray="0 43 2.2 3.8 4.2 4.8 2.2 24.8 3.2 97.8 1.2 132.8"/>
<circle cx="304.4" cy="272.0" r="35.61" pathLength="320" stroke="#00afee" stroke-dasharray="0 41 2.2 9.8 5.2 128.8 1.2 131.8"/>
<circle cx="304.4" cy="272.0" r="35.61" pathLength="320" stroke="#008fe7" stroke-dasharray="0 18 3.2 1.8 7.2 6.8 4.2 278.8"/>
<circle cx="304.4" cy="272.0" r="35.61" pathLength="320" stroke="#0070e0" stroke-dasharray="0 13 5.2 2.8 2.2 6.8 7.2 150.8 1.2 130.8"/>
<circle cx="304.4" cy="272.0" r="35.61" pathLength="320" stroke="#0050d9" stroke-dasharray="0 11 2.2 175.8 1.2 90.8 6.2 32.8"/>
<circle cx="304.4" cy="272.0" r="35.61" pathLength="320" stroke="#0030d2" stroke-dasharray="0 9 2.2 178.8 1.2 87.8 2.2 5.8 1.2 9.8 7.2 14.8"/>
<circle cx="304.4" cy="272.0" r="35.61" pathLength="320" stroke="#1000cb" stroke-dasharray="0 1 3.2 187.8 8.2 9.8 2.2 63.8 1.2 11.8 1.2 2.8 4.2 10.8 2.2 9.8"/>
<circle cx="304.4" cy="272.0" r="35.61" pathLength="320" stroke="#3000d2" stroke-dasharray="0 212 1.2 41.8 3.2 16.8 1.2 13.8 3.2 26.8"/>
<circle cx="304.4" cy="272.0" r="35.61" pathLength="320" stroke="#5000d9" stroke-dasharray="0 213 1.2 39.8 1.2 2.8 3.2 12.8 1.2 44.8"/>
<circle cx="304.4" cy="272.0" r="35.61" pathLength="320" stroke="#7000e0" stroke-dasharray="0 214 2.2 35.8 2.2 6.8 1.2 10.8 1.2 45.8"/>
<circle cx="304.4" cy="272.0" r="35.61" pathLength="320" stroke="#8f00e7" stroke-dasharray="0 216 2.2 29.8 4.2 9.8 1.2 8.8 1.2 46.8"/>
<circle cx="304.4" cy="272.0" r="35.61" pathLength="320" stroke="#af00ee" stroke-dasharray="0 218 13.2 9.8 7.2 22.8 1.2 47.8"/>
<circle cx="304.4" cy="272.0" r="35.61" pathLength="320" stroke="#cf00f5" stroke-dasharray="0 231 10.2 21.8 1.2 3.8 3.2 48.8"/>
<circle cx="304.4" cy="272.0" r="35.61" pathLength="320" stroke="#ef00fc" stroke-dasharray="0 264 4.2 51.8"/>
</g>
<g stroke-width="6.07">
<circle cx="304.4" cy="272.0" r="30.33" pathLength="320" stroke="#ff7000" stroke-dasharray="0 118 2.2 199.8"/>
<circle cx="304.4" cy="272.0" r="30.33" pathLength="320" stroke="#ff8f00" stroke-dasharray="0 116 2.2 1.8 13.2 6.8 9.2 170.8"/>
<circle cx="304.4" cy="272.0" r="30.33" pathLength="320" stroke="#ffaf00" stroke-dasharray="0 114 2.2 16.8 7.2 8.8 2.2 168.8"/>
<circle cx="304.4" cy="272.0" r="30.33" pathLength="320" stroke="#ffcf00" stroke-dasharray="0 111 3.2 36.8 2.2 166.8"/>
<circle cx="304.4" cy="272.0" r="30.33" pathLength="320" stroke="#ffef00" stroke-dasharray="0 110 1.2 41.8 1.2 165.8"/>
<circle cx="304.4" cy="272.0" r="30.33" pathLength="320" stroke="#effd00" stroke-dasharray="0 109 1.2 43.8 1.2 164.8"/>
<circle cx="304.4" cy="272.0" r="30.33" pathLength="320" stroke="#cffa00" stroke-dasharray="0 108 1.2 45.8 1.2 163.8"/>
<circle cx="304.4" cy="272.0" r="30.33" pathLength="320" stroke="#aff700" stroke-dasharray="0 107 1.2 47.8 1.2 162.8"/>
<circle cx="304.4" cy="272.0" r="30.33" pathLength="320" stroke="#8ff400" stroke-dasharray="0 106 1.2 49.8 1.2 161.8"/>
<circle cx="304.4" cy="272.0" r="30.33" pathLength="320" stroke="#70f100" stroke-dasharray="0 105 1.2 51.8 1.2 160.8"/>
<circle cx="304.4" cy="272.0" r="30.33" pathLength="320" stroke="#50ee00" stroke-dasharray="0 104 1.2 53.8 1.2 159.8"/>
<circle cx="304.4" cy="272.0" r="30.33" pathLength="320" stroke="#30eb00" stroke-dasharray="0 102 2.2 55.8 1.2 158.8"/>
<circle cx="304.4" cy="272.0" r="30.33" pathLength="320" stroke="#10e800" stroke-dasharray="0 101 1.2 58.8 1.2 157.8"/>
<circle cx="304.4" cy="272.0" r="30.33" pathLength="320" stroke="#00e810" stroke-dasharray="0 99 2.2 60.8 1.2 156.8"/>
<circle cx="304.4" cy="272.0" r="30.33" pathLength="320" stroke="#00eb30" stroke-dasharray="0 97 2.2 63.8 1.2 155.8"/>
<circle cx="304.4" cy="272.0" r="30.33" pathLength="320" stroke="#00ee50" stroke-dasharray="0 67 2.2 26.8 1.2 66.8 2.2 153.8"/>
<circle cx="304.4" cy="272.0" r="30.33" pathLength="320" stroke="#00f170" stroke-dasharray="0 64 3.2 1.8 3.2 20.8 3.2 69.8 2.2 151.8"/>
<circle cx="304.4" cy="272.0" r="30.33" pathLength="320" stroke="#00f48f" stroke-dasharray="0 62 2.2 7.8 2.2 16.8 2.2 74.8 2.2 149.8"/>
<circle cx="304.4" cy="272.0" r="30.33" pathLength="320" stroke="#00f7af" stroke-dasharray="0 61 1.2 11.8 2.2 13.8 1.2 78.8 3.2 146.8"/>
<circle cx="304.4" cy="272.0" r="30.33" pathLength="320" stroke="#00facf" stroke-dasharray="0 60 1.2 14.8 1.2 10.8 2.2 82.8 2.2 144.8"/>
<circle cx="304.4" cy="272.0" r="30.33" pathLength="320" stroke="#00fdef" stroke-dasharray="0 59 1.2 16.8 2.2 5.8 3.2 86.8 2.2 142.8"/>
<circle cx="304.4" cy="272.0" r="30.33" pathLength="320" stroke="#00effc" stroke-dasharray="0 58 1.2 19.8 6.2 91.8 2.2 140.8"/>
<circle cx="304.4" cy="272.0" r="30.33" pathLength="320" stroke="#00cff5" stroke-dasharray="0 56 2.2 120.8 2.2 138.8"/>
<circle cx="304.4" cy="272.0" r="30.33" pathLength="320" stroke="#00afee" stroke-dasharray="0 55 1.2 124.8 2.2 136.8"/>
<circle cx="304.4" cy="272.0" r="30.33" pathLength="320" stroke="#008fe7" stroke-dasharray="5.2 48.8 1.2 127.8 2.2 115.8 19.2 399.8"/>
<circle cx="304.4" cy="272.0" r="30.33" pathLength="320" stroke="#0070e0" stroke-dasharray="0 5 3.2 44.8 1.2 130.8 1.2 109.8 5.2 18.8"/>
<circle cx="304.4" cy="272.0" r="30.33" pathLength="320" stroke="#0050d9" stroke-dasharray="0 8 2.2 41.8 1.2 132.8 2.2 106.8 1.2 23.8"/>
<circle cx="304.4" cy="272.0" r="30.33" pathLength="320" stroke="#0030d2" stroke-dasharray="0 10 4.2 34.8 3.2 135.8 1.2 103.8 2.2 24.8"/>
<circle cx="304.4" cy="272.0" r="30.33" pathLength="320" stroke="#0010cb" stroke-dasharray="0 14 9.2 16.8 9.2 139.8 2.2 10.8 6.2 83.8 1.2 26.8"/>
<circle cx="304.4" cy="272.0" r="30.33" pathLength="320" stroke="#3000d2" stroke-dasharray="0 27 4.2 162.8 3.2 12.8 2.2 40.8 4.2 3.8 4.2 20.8 3.2 30.8"/>
<circle cx="304.4" cy="272.0" r="30.33" pathLength="320" stroke="#5000d9" stroke-dasharray="0 212 1.2 37.8 2.2 11.8 2.2 15.8 3.2 33.8"/>
<circle cx="304.4" cy="272.0" r="30.33" pathLength="320" stroke="#7000e0" stroke-dasharray="0 213 2.2 21.8 3.2 6.8 4.2 15.8 2.2 11.8 2.2 36.8"/>
<circle cx="304.4" cy="272.0" r="30.33" pathLength="320" stroke="#8f00e7" stroke-dasharray="0 215 1.2 10.8 10.2 2.8 7.2 21.8 3.2 6.8 2.2 38.8"/>
<circle cx="304.4" cy="272.0" r="30.33" pathLength="320" stroke="#af00ee" stroke-dasharray="0 216 1.2 7.8 2.2 44.8 3.2 1.8 2.2 40.8"/>
<circle cx="304.4" cy="272.0" r="30.33" pathLength="320" stroke="#cf00f5" stroke-dasharray="0 217 8.2 49.8 2.2 42.8"/>
</g>
<g stroke-width="6.07">
<circle cx="304.4" cy="272.0" r="25.06" pathLength="320" stroke="#ffaf00" stroke-dasharray="0 121 6.2 192.8"/>
<circle cx="304.4" cy="272.0" r="25.06" pathLength="320" stroke="#ffcf00" stroke-dasharray="0 118 3.2 5.8 1.2 191.8"/>
<circle cx="304.4" cy="272.0" r="25.06" pathLength="320" stroke="#ffef00" stroke-dasharray="0 117 1.2 9.8 2.2 189.8"/>
<circle cx="304.4" cy="272.0" r="25.06" pathLength="320" stroke="#effd00" stroke-dasharray="0 115 2.2 12.8 2.2 187.8"/>
<circle cx="304.4" cy="272.0" r="25.06" pathLength="320" stroke="#cffa00" stroke-dasharray="0 114 1.2 16.8 2.2 185.8"/>
<circle cx="304.4" cy="272.0" r="25.06" pathLength="320" stroke="#aff700" stroke-dasharray="0 113 1.2 19.8 1.2 184.8"/>
<circle cx="304.4" cy="272.0" r="25.06" pathLength="320" stroke="#8ff400" stroke-dasharray="0 112 1.2 21.8 2.2 182.8"/>
<circle cx="304.4" cy="272.0" r="25.06" pathLength="320" stroke="#70f100" stroke-dasharray="0 111 1.2 24.8 2.2 180.8"/>
<circle cx="304.4" cy="272.0" r="25.06" pathLength="320" stroke="#50ee00" stroke-dasharray="0 110 1.2 27.8 9.2 171.8"/>
<circle cx="304.4" cy="272.0" r="25.06" pathLength="320" stroke="#30eb00" stroke-dasharray="0 108 2.2 37.8 4.2 167.8"/>
<circle cx="304.4" cy="272.0" r="25.06" pathLength="320" stroke="#10e800" stroke-dasharray="0 107 1.2 43.8 2.2 165.8"/>
<circle cx="304.4" cy="272.0" r="25.06" pathLength="320" stroke="#00e810" stroke-dasharray="0 105 2.2 46.8 2.2 163.8"/>
<circle cx="304.4" cy="272.0" r="25.06" pathLength="320" stroke="#00eb30" stroke-dasharray="0 104 1.2 50.8 1.2 162.8"/>
<circle cx="304.4" cy="272.0" r="25.06" pathLength="320" stroke="#00ee50" stroke-dasharray="0 102 2.2 52.8 2.2 160.8"/>
<circle cx="304.4" cy="272.0" r="25.06" pathLength="320" stroke="#00f170" stroke-dasharray="0 100 2.2 56.8 1.2 159.8"/>
<circle cx="304.4" cy="272.0" r="25.06" pathLength="320" stroke="#00f48f" stroke-dasharray="0 72 18.2 2.8 3.2 0.8 3.2 59.8 1.2 158.8"/>
<circle cx="304.4" cy="272.0" r="25.06" pathLength="320" stroke="#00f7af" stroke-dasharray="0 64 8.2 17.8 3.2 2.8 1.2 63.8 1.2 157.8"/>
<circle cx="304.4" cy="272.0" r="25.06" pathLength="320" stroke="#00facf" stroke-dasharray="0 61 3.2 97.8 2.2 155.8"/>
<circle cx="304.4" cy="272.0" r="25.06" pathLength="320" stroke="#00fdef" stroke-dasharray="0 58 3.2 102.8 1.2 154.8"/>
<circle cx="304.4" cy="272.0" r="25.06" pathLength="320" stroke="#00effc" stroke-dasharray="0 57 1.2 106.8 1.2 153.8"/>
<circle cx="304.4" cy="272.0" r="25.06" pathLength="320" stroke="#00cff5" stroke-dasharray="0 56 1.2 108.8 1.2 143.8 8.2 0.8"/>
<circle cx="304.4" cy="272.0" r="25.06" pathLength="320" stroke="#00afee" stroke-dasharray="3.2 4.8 1.2 44.8 2.2 110.8 1.2 140.8 2.2 7.8 1.2 399.8"/>
<circle cx="304.4" cy="272.0" r="25.06" pathLength="320" stroke="#008fe7" stroke-dasharray="0 3 5.2 0.8 4.2 39.8 1.2 113.8 1.2 137.8 2.2 10.8"/>
<circle cx="304.4" cy="272.0" r="25.06" pathLength="320" stroke="#0070e0" stroke-dasharray="0 13 3.2 35.8 1.2 115.8 2.2 133.8 2.2 12.8"/>
<circle cx="304.4" cy="272.0" r="25.06" pathLength="320" stroke="#0050d9" stroke-dasharray="0 16 2.2 32.8 1.2 118.8 2.2 116.8 7.2 0.8 7.2 14.8"/>
<circle cx="304.4" cy="272.0" r="25.06" pathLength="320" stroke="#0030d2" stroke-dasharray="0 18 1.2 30.8 1.2 121.8 2.2 113.8 1.2 6.8 1.2 21.8"/>
<circle cx="304.4" cy="272.0" r="25.06" pathLength="320" stroke="#0010cb" stroke-dasharray="0 19 2.2 27.8 1.2 124.8 3.2 108.8 2.2 30.8"/>
<circle cx="304.4" cy="272.0" r="25.06" pathLength="320" stroke="#1000cb" stroke-dasharray="0 21 2.2 23.8 2.2 128.8 4.2 48.8 9.2 45.8 1.2 32.8"/>
<circle cx="304.4" cy="272.0" r="25.06" pathLength="320" stroke="#3000d2" stroke-dasharray="0 23 3.2 18.8 2.2 134.8 4.2 11.8 9.2 19.8 4.2 8.8 3.2 16.8 6.2 18.8 1.2 33.8"/>
<circle cx="304.4" cy="272.0" r="25.06" pathLength="320" stroke="#7000e0" stroke-dasharray="0 210 13.2 45.8 2.2 10.8 2.2 35.8"/>
<circle cx="304.4" cy="272.0" r="25.06" pathLength="320" stroke="#8f00e7" stroke-dasharray="0 271 2.2 6.8 2.2 37.8"/>
<circle cx="304.4" cy="272.0" r="25.06" pathLength="320" stroke="#af00ee" stroke-dasharray="0 273 3.2 0.8 3.2 39.8"/>
<circle cx="304.4" cy="272.0" r="25.06" pathLength="320" stroke="#cf00f5" stroke-dasharray="0 276 1.2 42.8"/>
</g>
<g stroke-width="6.06">
<circle cx="304.4" cy="272.0" r="19.80" pathLength="320" stroke="#00e810" stroke-dasharray="0 123 9.2 187.8"/>
<circle cx="304.4" cy="272.0" r="19.80" pathLength="320" stroke="#00eb30" stroke-dasharray="0 121 2.2 8.8 2.2 185.8"/>
<circle cx="304.4" cy="272.0" r="19.80" pathLength="320" stroke="#00ee50" stroke-dasharray="0 119 2.2 12.8 1.2 184.8"/>
<circle cx="304.4" cy="272.0" r="19.80" pathLength="320" stroke="#00f170" stroke-dasharray="0 117 2.2 15.8 2.2 182.8"/>
<circle cx="304.4" cy="272.0" r="19.80" pathLength="320" stroke="#00f48f" stroke-dasharray="0 82 3.2 29.8 2.2 19.8 1.2 181.8"/>
<circle cx="304.4" cy="272.0" r="19.80" pathLength="320" stroke="#00f7af" stroke-dasharray="0 76 6.2 2.8 7.2 19.8 3.2 22.8 2.2 179.8"/>
<circle cx="304.4" cy="272.0" r="19.80" pathLength="320" stroke="#00facf" stroke-dasharray="0 73 3.2 15.8 8.2 8.8 3.2 27.8 1.2 178.8"/>
<circle cx="304.4" cy="272.0" r="19.80" pathLength="320" stroke="#00fdef" stroke-dasharray="0 71 2.2 26.8 9.2 31.8 2.2 176.8"/>
<circle cx="304.4" cy="272.0" r="19.80" pathLength="320" stroke="#00effc" stroke-dasharray="0 69 2.2 71.8 3.2 167.8 2.2 3.8"/>
<circle cx="304.4" cy="272.0" r="19.80" pathLength="320" stroke="#00cff5" stroke-dasharray="0 14 6.2 42.8 6.2 76.8 2.2 160.8 5.2 1.8 3.2 0.8"/>
<circle cx="304.4" cy="272.0" r="19.80" pathLength="320" stroke="#00afee" stroke-dasharray="2.2 3.8 8.2 5.8 2.2 37.8 3.2 84.8 2.2 84.8 10.2 58.8 5.2 9.8 1.2 399.8"/>
<circle cx="304.4" cy="272.0" r="19.80" pathLength="320" stroke="#008fe7" stroke-dasharray="0 2 4.2 15.8 2.2 32.8 3.2 89.8 6.2 74.8 4.2 9.8 2.2 48.8 8.2 15.8"/>
<circle cx="304.4" cy="272.0" r="19.80" pathLength="320" stroke="#0070e0" stroke-dasharray="0 24 3.2 25.8 4.2 98.8 4.2 66.8 4.2 15.8 1.2 41.8 6.2 23.8"/>
<circle cx="304.4" cy="272.0" r="19.80" pathLength="320" stroke="#0050d9" stroke-dasharray="0 27 4.2 19.8 2.2 106.8 3.2 60.8 3.2 20.8 2.2 36.8 3.2 29.8"/>
<circle cx="304.4" cy="272.0" r="19.80" pathLength="320" stroke="#0030d2" stroke-dasharray="0 31 3.2 13.8 3.2 111.8 3.2 54.8 3.2 25.8 2.2 32.8 2.2 32.8"/>
<circle cx="304.4" cy="272.0" r="19.80" pathLength="320" stroke="#0010cb" stroke-dasharray="0 34 4.2 5.8 4.2 117.8 1.2 50.8 3.2 30.8 2.2 26.8 4.2 34.8"/>
<circle cx="304.4" cy="272.0" r="19.80" pathLength="320" stroke="#1000cb" stroke-dasharray="0 38 6.2 122.8 2.2 45.8 3.2 35.8 3.2 15.8 8.2 38.8"/>
<circle cx="304.4" cy="272.0" r="19.80" pathLength="320" stroke="#5000d9" stroke-dasharray="0 171 3.2 20.8 4.2 120.8"/>
<circle cx="304.4" cy="272.0" r="19.80" pathLength="320" stroke="#7000e0" stroke-dasharray="0 174 3.2 14.8 3.2 124.8"/>
<circle cx="304.4" cy="272.0" r="19.80" pathLength="320" stroke="#8f00e7" stroke-dasharray="0 177 2.2 6.8 6.2 127.8"/>
<circle cx="304.4" cy="272.0" r="19.80" pathLength="320" stroke="#af00ee" stroke-dasharray="0 179 7.2 133.8"/>
</g>
<g stroke-width="6.06">
<circle cx="304.4" cy="272.0" r="14.54" pathLength="320" stroke="#00fdef" stroke-dasharray="0 83 5.2 231.8"/>
<circle cx="304.4" cy="272.0" r="14.54" pathLength="320" stroke="#00effc" stroke-dasharray="0 79 4.2 4.8 6.2 25.8 14.2 185.8"/>
<circle cx="304.4" cy="272.0" r="14.54" pathLength="320" stroke="#00cff5" stroke-dasharray="0 75 4.2 14.8 4.2 16.8 5.2 13.8 4.2 181.8"/>
<circle cx="304.4" cy="272.0" r="14.54" pathLength="320" stroke="#00afee" stroke-dasharray="0 18 9.2 42.8 5.2 22.8 5.2 7.8 4.2 22.8 4.2 177.8"/>
<circle cx="304.4" cy="272.0" r="14.54" pathLength="320" stroke="#008fe7" stroke-dasharray="0 11 7.2 8.8 6.2 23.8 1.2 5.8 6.2 32.8 8.2 30.8 4.2 166.8 1.2 5.8"/>
<circle cx="304.4" cy="272.0" r="14.54" pathLength="320" stroke="#0050d9" stroke-dasharray="0 3 2.2 144.8 4.2 77.8 8.2 8.8 18.2 31.8 5.2 15.8"/>
<circle cx="304.4" cy="272.0" r="14.54" pathLength="320" stroke="#0030d2" stroke-dasharray="0 154 3.2 70.8 4.2 34.8 9.2 18.8 4.2 20.8"/>
<circle cx="304.4" cy="272.0" r="14.54" pathLength="320" stroke="#0010cb" stroke-dasharray="0 157 5.2 61.8 4.2 47.8 5.2 9.8 4.2 24.8"/>
<circle cx="304.4" cy="272.0" r="14.54" pathLength="320" stroke="#1000cb" stroke-dasharray="0 162 5.2 53.8 3.2 56.8 10.2 28.8"/>
<circle cx="304.4" cy="272.0" r="14.54" pathLength="320" stroke="#3000d2" stroke-dasharray="0 167 5.2 45.8 3.2 98.8"/>
<circle cx="304.4" cy="272.0" r="14.54" pathLength="320" stroke="#5000d9" stroke-dasharray="0 172 4.2 0.8 2.2 35.8 3.2 101.8"/>
<circle cx="304.4" cy="272.0" r="14.54" pathLength="320" stroke="#7000e0" stroke-dasharray="0 176 1.2 1.8 8.2 2.8 8.2 10.8 6.2 104.8"/>
<circle cx="304.4" cy="272.0" r="14.54" pathLength="320" stroke="#8f00e7" stroke-dasharray="0 187 3.2 7.8 11.2 110.8"/>
</g>
<g stroke-width="6.06">
<circle cx="304.4" cy="272.0" r="9.28" pathLength="320" stroke="#00afee" stroke-dasharray="0 115 25.2 179.8"/>
<circle cx="304.4" cy="272.0" r="9.28" pathLength="320" stroke="#008fe7" stroke-dasharray="0 106 9.2 24.8 5.2 174.8"/>
<circle cx="304.4" cy="272.0" r="9.28" pathLength="320" stroke="#0070e0" stroke-dasharray="0 91 15.2 38.8 5.2 169.8"/>
<circle cx="304.4" cy="272.0" r="9.28" pathLength="320" stroke="#0050d9" stroke-dasharray="0 69 22.2 58.8 4.2 94.8 18.2 52.8"/>
<circle cx="304.4" cy="272.0" r="9.28" pathLength="320" stroke="#0030d2" stroke-dasharray="0 58 11.2 84.8 9.2 79.8 6.2 17.8 5.2 47.8"/>
<circle cx="304.4" cy="272.0" r="9.28" pathLength="320" stroke="#0010cb" stroke-dasharray="0 47 11.2 104.8 9.2 65.8 5.2 28.8 5.2 42.8"/>
<circle cx="304.4" cy="272.0" r="9.28" pathLength="320" stroke="#3000d2" stroke-dasharray="0 18 16.2 147.8 15.2 21.8 13.2 50.8 6.2 3.8 11.2 15.8"/>
<circle cx="304.4" cy="272.0" r="9.28" pathLength="320" stroke="#5000d9" stroke-dasharray="0 197 22.2 69.8 4.2 26.8"/>
</g>
<g stroke-width="7.15">
<circle cx="304.4" cy="272.0" r="3.33" pathLength="320" stroke="#1000cb" stroke-dasharray="0 100 30.2 110.8 55.2 23.8"/>
<circle cx="304.4" cy="272.0" r="3.33" pathLength="320" stroke="#5000d9" stroke-dasharray="0 22 43.2 78.8 34.2 14.8 32.2 94.8"/>
<circle cx="304.4" cy="272.0" r="3.33" pathLength="320" stroke="#7000e0" stroke-dasharray="0 178 15.2 126.8"/>
</g>
</g>
<g fill="none" stroke="#000" stroke-width="1" stroke-dasharray="4.5 4" shape-rendering="crispEdges">
<circle cx="304.4" cy="272.0" r="195.5"/>
<circle cx="304.4" cy="272.0" r="143.9"/>
<circle cx="304.4" cy="272.0" r="94.7"/>
<circle cx="304.4" cy="272.0" r="47.0"/>
<line x1="304.4" y1="272.0" x2="304.4" y2="498.0"/>
<line x1="304.4" y1="272.0" x2="500.1" y2="385.0"/>
<line x1="304.4" y1="272.0" x2="500.1" y2="159.0"/>
<line x1="304.4" y1="272.0" x2="304.4" y2="46.0"/>
<line x1="304.4" y1="272.0" x2="108.7" y2="159.0"/>
<line x1="304.4" y1="272.0" x2="108.7" y2="385.0"/>
</g>
<g fill="none" stroke="#000" shape-rendering="crispEdges" stroke-linejoin="round">
<path stroke-width="1.8" d="M119.3 147.8L122.4 150.1L125.4 152.4L128.5 153.5L131.6 152.8L134.2 152.2L136.2 153.9L138.6 154.8L140.8 153.5L143.2 154.0L145.4 152.8L147.8 152.4L150.0 153.5L152.3 154.1L154.6 154.7L157.4 155.7L160.0 157.0M125.4 152.4L127.0 155.5L126.2 158.5L129.3 160.8L132.4 162.1L133.4 159.7L131.6 157.8L134.7 157.0L137.7 159.3L140.8 161.1L143.9 159.3L146.9 160.5L149.4 161.7L151.6 160.1L154.2 159.2L156.2 161.1L160.0 161.1M128.5 156.2L130.7 155.0L133.1 155.5L136.2 157.8L138.5 157.5L140.8 157.0L143.2 157.0L145.4 157.8L147.8 157.7L150.0 157.0L152.3 157.8L154.6 157.8L157.6 157.0L160.0 159.0M127.0 157.8L130.1 159.3L133.9 160.1L136.1 160.1L137.7 161.6M206.1 356.0L208.4 351.9L210.7 348.8L213.0 345.4L215.3 342.7L218.4 339.6L221.4 336.5L223.7 333.4L226.1 331.9L228.4 328.5L230.7 325.8L233.0 323.0L235.3 321.2L237.6 317.8L239.9 315.0L241.9 312.2L243.7 310.4L245.7 307.6L247.6 305.8L249.9 302.7L249.1 298.1L246.0 295.0L244.5 292.0L247.6 290.4L250.6 288.9L252.2 285.1L252.2 281.2L256.0 278.1M196.9 330.4L199.2 327.0L201.5 324.2L203.8 320.8L206.1 318.1L208.4 315.3L210.7 311.9L212.2 309.3L213.8 307.3L215.3 304.6L216.8 302.7L218.4 299.3L219.9 296.6L221.4 293.2L223.0 290.4L224.5 288.1L226.1 285.8L224.5 281.2L221.4 278.1L218.4 276.6"/>
<path stroke-width="1" d="M120.0 147.6L115.7 154.2L111.6 161.0L107.8 167.9L104.2 175.0L100.9 182.2L97.9 189.4L95.1 196.8L92.5 204.3L90.2 211.9L88.2 219.5L86.5 227.2L85.1 235.0L83.9 242.8L83.0 250.7L82.4 258.6L82.0 266.5L82.0 274.4L82.2 282.3L82.7 290.1L83.5 298.0L84.6 305.8L85.9 313.6L87.5 321.4L89.4 329.0L91.6 336.6L94.0 344.2L96.7 351.6L99.6 358.9M104.0 368.5L109.3 378.8M136.6 161.8L132.8 167.7L129.3 173.8L126.0 180.0L122.8 186.3L119.9 192.7L117.3 199.2L114.8 205.8L112.6 212.5L110.7 219.2L109.0 226.1L107.5 232.9L106.2 239.9L105.2 246.8L104.5 253.8M256.0 107.1L250.6 111.7L246.0 114.8L243.7 120.9L241.4 125.5L236.8 127.0L233.7 130.1L232.2 134.7L235.3 137.0L236.8 133.2L239.1 130.1L239.9 134.7L237.6 140.9L233.7 142.4L231.4 147.0L228.4 150.1L226.1 153.2L223.0 154.7L219.1 155.5L215.3 157.8L213.0 160.1L210.7 161.6L206.1 162.1L203.0 163.1M252.2 113.2L247.6 120.9L243.7 130.1L240.6 139.3L239.1 143.9L235.3 148.5L232.2 151.6L228.4 153.9L226.1 150.1L229.1 147.0L232.2 144.7L234.5 141.6M246.0 132.4L249.1 130.9L252.2 128.6L255.2 127.0M246.8 130.9L248.3 133.2L250.6 134.7L253.7 137.0M244.5 139.3L247.6 140.9L246.0 142.4M242.9 113.2L245.3 111.7L247.6 112.4M206.1 162.1L209.2 163.1L210.7 164.7L207.6 167.0L204.5 165.4M214.8 161.3L222.1 170.4L229.3 179.3L236.5 188.1L243.6 196.9M256.0 191.1L252.2 193.4L246.0 196.4L239.9 198.8L236.0 200.3L233.7 202.6L232.2 205.7L231.4 209.5L229.9 213.3L227.6 215.6L224.5 217.2L222.2 220.3L219.1 223.3L215.3 226.1L211.5 228.2L207.9 230.2L206.1 233.3L205.3 236.8L201.5 237.9L197.6 238.4L202.2 239.5L206.1 240.2L207.6 244.1L205.3 247.1L202.2 249.4L200.7 253.3L202.2 256.4L199.2 257.9L196.1 260.2L193.8 261.4L197.6 262.5L201.5 261.4L203.8 263.3L201.5 266.3L198.4 269.4L196.9 272.0M228.4 224.1L232.2 223.0L236.0 222.6L237.6 225.6L239.9 228.7L241.4 232.2L239.1 234.1L235.3 234.9L231.4 233.3L229.1 230.2L228.4 227.2L228.4 224.1M208.4 234.1L212.2 232.5L216.1 231.8L219.9 233.3L223.0 235.6L226.1 238.7L229.9 239.5L233.7 241.0L236.8 238.7L239.9 237.9L242.9 239.5L241.4 242.5L237.6 244.1L233.7 245.6L229.1 246.4L226.1 248.7L221.4 247.1L218.4 244.8L214.5 244.1L210.7 241.8L208.8 238.7L208.4 234.1M206.1 249.4L210.7 248.7L215.3 250.2L219.9 251.7L224.5 251.0L229.1 252.5L227.6 255.6L223.0 256.4L218.4 255.6L213.8 256.4L209.2 254.8L206.1 252.5L206.1 249.4M216.8 258.7L221.4 257.1L226.1 258.7L230.7 260.2L235.3 259.4L236.8 261.7L233.7 264.8L229.1 265.6L224.5 264.0L219.9 263.3L216.8 261.0L216.8 258.7M236.8 241.8L239.9 243.3L241.4 246.4L239.1 249.4L236.8 247.1L237.6 244.1M249.1 246.4L252.2 248.7L252.9 252.5L250.6 253.3L249.1 249.4L249.1 246.4M236.8 255.6L242.9 257.1L249.1 255.6L253.7 257.1L256.0 258.7M233.7 267.9L238.3 266.3L242.9 268.6L247.6 267.1L252.2 269.4L256.0 268.6M227.6 269.4L232.2 270.9L236.8 272.0M206.1 264.8L210.7 266.3L213.8 269.4L212.2 272.0M215.3 234.1L216.8 238.7L219.9 240.2M221.4 224.9L223.0 229.5M210.7 252.5L213.0 258.7L210.7 263.3L207.6 267.9M180.0 330.4L183.0 324.2L181.5 318.1L183.0 313.5L186.1 310.4L184.6 305.8L181.5 302.7L183.0 298.1L187.6 297.3L190.0 301.2L188.4 305.0L190.7 305.0L196.9 304.3L201.5 302.7L199.9 298.1L204.5 296.6L209.2 297.3L212.2 292.0L210.7 287.4L207.6 284.3L203.0 285.8L198.4 284.3L196.9 279.7L192.3 281.2L189.2 284.3L184.6 282.8L180.0 279.7L176.9 281.2L175.4 285.8L180.0 288.9L184.6 287.4L187.6 284.3M171.5 287.4L175.4 286.6L174.6 288.9L172.3 289.2L171.5 287.4M170.8 295.8L174.6 296.6L173.1 297.8L170.8 295.8M160.0 302.7L164.6 304.3L169.2 302.7L173.8 304.3L175.4 310.4L172.3 315.0L169.2 318.1L166.1 321.2L163.1 325.8L160.0 328.8M160.0 333.4L164.6 331.9L169.2 330.4L173.8 332.7L175.4 336.5L172.3 339.6L169.2 342.7L163.1 347.3L160.0 350.3M161.5 325.0L166.1 323.5L171.5 324.2L174.6 327.3L175.4 331.1L173.1 333.4L167.7 334.2L163.8 332.7L161.5 328.8L161.5 325.0M180.0 330.4L184.6 328.8L189.2 328.1L193.8 325.8L198.4 324.2L201.5 319.6L199.9 315.0L196.9 314.2L195.3 318.1L192.3 321.2L189.2 322.7L186.1 321.2L185.3 318.1L183.0 319.6L181.5 325.8M184.6 316.5L186.1 322.7L187.6 327.3M190.0 315.8L190.7 321.2L192.3 326.5M194.6 314.2L195.3 319.6L196.9 325.0M198.4 313.5L199.2 318.1M178.4 275.1L183.0 276.6L187.6 275.1L192.3 276.6L190.7 279.7M203.0 275.1L207.6 277.4L212.2 276.6L215.3 279.7L213.8 282.8M213.8 272.0L216.8 275.1L221.4 274.3L226.1 276.6L227.6 279.7M232.2 272.0L233.7 276.6L236.8 279.7L239.9 278.1L238.3 274.3M242.9 272.0L244.5 275.1L248.3 275.8L250.6 279.7L253.7 278.1L256.0 280.4M243.7 293.5L246.0 296.6L248.3 298.1L250.6 296.6M224.5 318.1L227.6 315.8L232.2 313.5L236.8 310.4L239.9 308.1M223.0 330.4L226.1 328.8L229.1 330.4L227.6 332.7M236.8 338.1L239.9 340.4L238.3 342.7M242.9 345.7L245.3 348.0L243.7 350.3M183.0 349.6L184.6 351.9L183.8 354.2M250.6 350.3L253.7 351.9M334.2 418.4L335.2 413.1L334.9 407.5L333.0 404.3L332.4 401.4L330.9 396.7L333.8 392.4L333.8 387.4L333.9 382.3L334.9 376.9L335.8 371.6L338.4 368.1L339.2 365.0M339.2 365.0L344.2 365.8L347.1 363.5L347.0 359.3L348.9 355.6L351.0 356.1L352.7 359.0M339.2 365.0L343.8 367.1L347.6 371.3L350.5 376.4L351.4 377.1M352.7 359.0L353.7 355.7L353.4 354.2M352.7 359.0L354.2 363.7L357.4 367.6L361.5 370.9L363.4 375.4L367.3 378.8L371.8 381.9L371.3 388.0L370.7 394.0L370.3 397.1M373.4 401.7L373.6 405.0L375.7 408.5L376.2 411.1M376.2 411.1L372.3 411.3L369.5 411.6L368.0 412.8M376.2 411.1L379.3 413.5L381.2 415.9L378.6 420.2M378.6 420.2L373.1 419.4L367.7 421.2L363.1 424.8M378.6 420.2L378.6 424.2L379.4 427.8L375.4 431.4L374.2 432.5M365.3 428.3L369.7 428.2L371.2 430.9L362.5 434.3M371.2 430.9L374.2 432.5M374.2 432.5L377.1 439.2L379.5 443.8L383.0 448.6L382.2 457.1M381.2 415.9L389.8 415.2L393.4 419.0L400.1 421.0L400.7 428.0M379.5 443.8L386.4 440.1L394.1 437.3L399.6 433.6L400.7 428.0M400.7 428.0L407.2 424.4L413.7 426.3L419.7 427.8L424.7 426.0L431.0 422.3L433.6 427.1L436.8 431.4L434.9 437.8M347.3 441.7L348.7 447.2L351.3 450.9L353.6 455.7M353.6 455.7L357.9 456.1L360.8 457.5L363.3 456.7L365.9 458.1L368.2 459.5M368.2 459.5L372.5 459.2L375.6 457.4L382.2 457.1M353.6 455.7L350.7 457.5L345.4 461.5L347.3 465.4L352.5 468.0M352.5 468.0L350.4 471.3L351.3 475.0L344.2 477.0L339.6 477.8M339.6 477.8L331.9 478.5L333.0 470.7L328.0 470.3L325.5 469.0M326.8 449.2L326.7 453.4L323.8 456.9L324.4 462.2M315.6 459.7L320.8 459.9L324.4 462.2L325.1 465.8L324.4 469.1L325.5 469.0M312.7 461.5L316.2 464.4L319.7 466.8L324.4 469.1M329.8 439.9L333.4 439.9M331.9 478.5L329.9 479.8L327.3 486.7L330.8 487.3L336.1 483.9L338.2 485.2L342.7 480.6L339.6 477.8M330.8 487.3L330.4 492.9M342.7 480.6L349.1 478.8L355.0 479.6L359.8 478.9L363.2 475.8M352.5 468.0L356.4 465.9L363.2 465.6L365.0 469.0L363.8 471.1L363.2 475.8M363.2 465.6L368.2 459.5M365.0 469.0L371.2 468.2L374.5 464.7L381.5 460.9M363.2 475.8L365.8 477.8L371.6 478.9L379.3 474.5L382.6 468.5L384.6 461.9M365.8 477.8L362.4 483.9L356.1 485.5M371.6 478.9L374.9 477.8L377.2 482.2M379.3 474.5L385.4 478.6L385.6 479.1M382.2 457.1L384.6 461.9L390.1 460.1L396.2 455.4L398.6 452.9L404.0 458.6L406.9 463.2L408.2 465.6L414.1 464.3M398.6 452.9L405.2 452.4L411.5 457.5L408.5 459.9L408.2 465.6M414.1 464.3L414.5 458.9L414.5 455.2L417.9 453.7L422.3 453.5L423.0 458.2L427.5 457.3M433.6 453.1L435.4 449.0L430.4 452.0L428.2 448.8L429.7 444.4L433.2 439.8L436.8 435.5L436.8 438.4L437.0 441.7L437.7 444.5L437.3 448.3L437.6 450.1M467.6 423.1L465.6 419.7L466.2 414.1L468.9 407.6L470.2 402.5L474.6 400.3L476.8 401.9L480.3 404.5L478.4 407.9L478.0 411.1M493.4 389.2L490.9 385.0L489.0 380.7L490.4 375.1L493.2 373.2L494.2 377.2L496.5 378.5L499.5 378.8M467.4 412.7L461.6 413.5L452.6 412.2L447.5 405.9L449.8 400.2L451.1 393.0L450.3 388.1L455.1 383.5L461.0 381.7L463.9 375.6L469.6 369.3L470.6 362.2L463.8 360.4L458.7 356.8L456.9 351.4L461.6 345.3L460.0 333.3L463.0 328.2L468.9 327.0L471.7 321.6L475.0 319.3L475.1 313.0L482.7 309.9L491.6 305.7L493.5 300.3L492.1 295.0L498.1 287.9L503.9 281.4M503.9 281.4L507.3 287.3L514.2 288.5L514.4 297.8L522.2 300.7L524.1 306.8M488.8 396.4L491.7 386.8M504.0 279.7L497.2 272.0L498.1 263.5L494.9 255.3L498.0 245.5L488.3 244.5L486.3 241.6L487.8 233.0L492.3 228.6L490.8 218.6L492.3 209.1L490.2 198.8L482.7 190.7L477.9 185.5L479.5 182.8M504.0 279.7L507.8 277.3L511.6 272.0L518.6 268.3L525.2 268.9L526.4 258.4M510.8 189.0L506.2 183.8L506.8 179.8M506.8 179.8L502.7 177.4L496.0 171.4L489.2 165.7L487.0 170.8L487.7 175.4L491.9 182.6L487.3 182.8L480.0 183.7M479.5 182.8L473.5 177.1L466.8 178.2L459.2 180.8L452.9 175.6L450.7 167.7L454.6 159.7L458.6 153.7L459.4 148.7L457.5 141.3L461.2 135.7L454.0 132.5L449.4 128.5M299.7 494.4L299.8 490.6L299.9 487.8L297.7 486.1L296.3 482.3L294.2 480.0L288.9 478.6L287.3 475.3L292.0 474.0L297.3 474.8L299.1 474.8L297.9 468.9L299.9 469.0L303.7 471.2L305.1 470.1L307.8 468.0L309.5 466.3L310.1 462.6L312.7 461.5L315.9 459.7L317.6 456.4L319.1 451.1L321.4 448.8L326.0 448.3L328.9 446.3L330.9 445.0L330.3 443.0L329.8 439.9L327.9 437.1L327.2 432.0L328.1 428.8L331.5 425.6L333.0 424.9L332.8 428.5L333.3 431.0L333.5 433.6L332.5 436.4L333.4 439.9L334.9 441.7L337.3 441.2L337.4 443.3L340.6 442.2L343.1 439.5L345.4 440.0L347.3 441.7L350.8 439.1L354.5 435.9L357.9 433.7L359.7 435.3L362.2 434.4L362.8 432.6L363.7 430.6L364.5 428.6L363.2 425.3L362.4 420.1L362.1 417.0L364.2 415.6L367.3 418.1L369.4 417.2L368.2 413.3L367.4 410.3L364.4 410.0L363.4 407.6L365.8 404.9L368.6 403.6L373.4 401.7L375.5 397.7L376.8 396.4L373.7 397.0L370.8 396.8L368.6 398.0L365.7 400.5L362.7 403.0L361.0 405.4L358.4 403.7L355.6 402.7L354.4 398.9L351.7 394.6L351.7 391.4L353.2 387.0L354.6 382.7L355.3 379.6L352.7 377.0L351.4 377.1L348.5 378.4L347.5 381.4L348.5 385.2L348.2 389.1L346.1 393.0L344.4 397.2L344.7 401.3L345.9 406.1L349.3 407.1L351.7 409.5L350.7 412.0L349.1 415.6L347.3 416.7L349.1 420.9L349.5 426.1L349.0 429.5L345.9 430.3L345.6 433.6L342.0 435.0L340.2 432.2L340.2 429.6L337.2 426.1L336.2 424.2L334.3 421.5L332.8 418.2L331.3 416.9L331.2 413.9L330.8 417.5L329.7 418.8L327.6 422.2L324.5 424.7L322.3 424.4L319.7 422.7L318.9 420.2L317.9 417.3L316.8 413.3L316.3 410.4L316.2 406.4L317.1 403.8L319.8 401.0L323.2 397.5L325.1 395.7L326.8 392.9L327.4 389.3L329.0 386.0L329.7 381.8L330.8 378.0L331.7 375.3L332.2 372.1L333.5 370.2L334.6 367.8L335.5 365.0L336.3 362.2L338.2 359.9L340.5 356.9L343.1 353.1L345.9 351.7L349.1 352.7L352.2 351.5L352.9 354.4L355.3 353.5L358.3 353.4L362.6 352.1L368.5 352.5L373.9 352.5L377.0 354.9L377.1 358.7L371.9 361.6L368.5 363.5L363.9 363.6L366.6 366.0L370.4 368.1L373.5 371.4L378.1 371.7L380.7 369.7L381.7 365.8L380.9 363.2L378.9 361.7L380.0 357.5L379.9 354.4L383.7 354.1L379.6 349.9L374.0 345.8L378.8 343.8L382.5 344.8L383.6 347.2L385.7 346.5L385.1 343.4L384.4 339.1L385.1 335.1L386.1 331.4L386.8 328.6L389.9 327.5L390.5 323.8L390.2 320.5L387.7 319.1L389.3 317.1L393.4 314.4L397.9 312.7L400.5 310.2L397.8 307.8L393.3 309.8L390.2 308.4L385.8 306.5L381.6 301.6L378.5 299.0L380.7 296.8L385.5 297.6L390.2 298.6L397.1 300.9L404.2 302.5L409.2 306.1L409.4 310.2L410.6 306.5L409.2 303.0L402.4 300.1L395.4 298.1L388.7 295.4L384.2 293.4L387.4 290.4L392.5 289.9L388.3 286.0L381.2 284.9L381.6 281.8L382.0 278.8L377.3 276.5L373.7 273.2L372.7 270.8L371.7 268.5L369.0 265.2L369.1 261.8L365.8 259.5L360.5 257.7L363.1 254.6L364.1 250.3L365.1 246.2L372.2 244.6L376.7 247.1L378.5 245.0L377.0 242.7L375.5 240.3L374.2 238.0L372.7 235.7L373.9 231.9L371.7 228.3L367.4 227.9L365.8 224.1L368.2 219.4L372.1 215.2L371.2 211.9L368.4 212.4L365.9 210.5L363.6 206.3L358.1 207.9L355.5 208.9L353.1 206.1L350.6 203.5L347.5 200.3L347.2 196.3L346.6 192.7L342.6 190.1L338.2 188.2L337.3 181.7L332.6 179.6L327.7 178.7L324.6 177.0L320.8 178.8L316.0 177.5L311.1 176.6L306.1 173.9M285.0 466.0L290.1 461.6L294.5 460.8L294.6 458.7L287.8 457.7L289.3 455.8L291.5 452.3L290.4 449.6L295.1 449.4L295.6 446.3L293.9 443.1L289.6 441.2L290.4 438.2L287.7 438.9L287.5 432.7L288.6 427.7L291.2 422.4L296.2 422.7L293.6 427.1L299.0 427.4L296.8 433.4L294.9 435.9L298.6 437.1L300.3 441.3L304.1 446.0L304.7 449.1L305.3 451.7L308.5 452.2L309.8 454.2L308.0 457.9L307.4 460.0L309.0 460.5L307.7 462.1L304.4 463.2L299.4 463.7L296.0 464.1L292.7 463.4L291.9 466.0L288.5 465.2L285.0 466.0M272.5 456.8L271.5 452.9L274.2 450.7L274.1 447.5L274.3 442.8L278.5 443.0L280.4 438.6L283.4 438.4L286.5 439.3L287.7 442.6L285.9 445.5L285.5 449.1L283.9 454.7L278.6 455.6L272.5 456.8M288.3 407.4L287.8 403.4L289.6 404.1L288.3 407.4M301.1 416.4L302.0 411.9L300.4 413.8L301.1 416.4M295.8 421.2L297.7 419.3M285.2 425.8L287.8 422.5L286.7 425.0M322.3 332.5L318.6 329.1L316.9 326.1L314.3 322.8L313.6 319.5L315.9 318.0L318.1 316.9L320.5 318.7L319.4 315.5L320.6 314.3L321.8 313.1L323.8 313.5L325.7 313.9L324.9 317.9L323.3 321.2L325.2 323.5L324.5 327.3L322.8 330.4L322.3 332.5M326.8 327.4L324.7 323.6L327.6 322.9L328.3 325.7L326.8 327.4M328.9 320.2L329.5 317.2L331.0 318.0M379.6 324.6L373.3 325.8L370.0 322.3L368.2 318.3L364.6 313.4L362.0 308.7L361.8 305.5L361.4 302.3L361.2 298.8L360.9 295.4L364.4 295.6L365.2 298.7L365.8 301.9L366.8 305.2L367.7 308.5L370.1 313.8L372.9 318.2L377.3 320.3L381.8 321.3L379.6 324.6M368.2 318.3L370.1 313.8M386.4 321.3L385.4 319.1L387.5 319.4L386.4 321.3M379.7 338.6L378.1 336.0L379.7 334.8L380.8 337.3L379.7 338.6M337.7 303.1L335.0 302.6L335.9 300.9L336.8 299.2L339.2 299.2L338.5 301.1L337.7 303.1M341.7 298.1L339.4 297.4L339.8 295.9L340.2 294.4L343.0 294.3L342.4 296.2L341.7 298.1M338.7 295.1L337.4 292.6L339.7 291.6M344.7 294.3L342.9 291.6L344.8 290.9M360.0 262.2L358.0 264.9L355.9 267.5L351.4 270.4L346.5 268.3L345.4 267.0L348.3 264.3L352.5 260.9L356.6 258.0L359.6 260.3L360.0 262.2M354.3 262.7L352.7 264.4M351.7 217.6L351.0 222.0L347.3 222.6L345.9 220.8L344.3 217.1L346.0 214.8L349.5 216.3L351.7 217.6M343.4 213.0L341.4 214.0L339.0 212.0L341.3 210.6L343.4 213.0M355.1 211.6L352.0 212.2L350.4 211.0L351.8 209.1L355.1 211.6M306.4 182.2L304.4 184.5L300.9 183.7L302.0 181.7L306.4 182.2M354.1 423.1L354.2 418.2L355.5 420.5L354.1 423.1M350.5 428.5L350.7 422.6L350.5 428.5M361.7 413.8L363.4 410.9L361.8 410.0L361.7 413.8M337.0 436.6L336.0 434.7L339.3 431.9L340.7 434.2L340.2 437.5L337.0 436.6M334.0 438.2L333.0 435.8L335.6 435.8L335.7 437.9L334.0 438.2M337.6 439.6L339.4 438.2M347.5 435.2L347.8 434.1M343.9 440.4L344.0 438.2L345.2 439.5M103.1 340.5L111.6 343.3L119.0 346.2L126.3 349.8L130.2 357.0L133.0 363.1L136.1 369.2L146.3 373.9L151.7 376.2L157.6 371.0L156.8 363.1L159.4 364.4L160.0 355.4L162.8 349.9L167.8 343.1L173.0 336.6L175.9 333.3L168.9 333.8L163.1 330.5L164.0 324.5L169.2 321.2L173.5 318.4L177.8 310.7L176.8 305.6L176.1 300.4L168.6 300.9L163.9 303.1L156.0 302.2L149.5 308.3L144.6 309.8L140.5 307.7L135.4 303.3M103.1 340.5L108.2 343.4L115.1 346.6L122.0 353.2L124.3 358.3L118.3 360.7L116.1 355.8L112.7 361.4L109.6 364.9L109.7 369.1L111.8 376.6L110.8 379.3M112.4 377.6L116.7 380.8L120.3 376.2L115.3 375.1L112.4 377.6M111.8 365.9L114.3 364.7L114.8 372.8L111.6 371.5L111.8 365.9M104.0 368.5L105.4 366.5L107.6 365.9L102.7 361.8L99.6 358.9M150.3 377.9L142.4 381.3L141.1 384.2L144.3 390.5L141.9 394.4L138.7 398.2L133.7 399.7L131.1 393.3L131.7 388.5L125.3 378.3L130.4 377.4L136.4 377.0L144.9 375.6L150.3 377.9M127.5 356.4L129.0 365.3L128.1 366.9L126.6 360.6L127.5 356.4M89.9 330.7L93.5 342.6L95.8 344.2L102.4 345.1L108.7 346.3L109.4 349.6L109.1 351.7L102.0 354.6L100.2 357.4L99.6 358.9M89.9 330.7L103.1 340.5M104.5 253.8L101.9 259.6L98.3 273.4L94.6 279.3L91.1 292.2L88.3 296.6L83.9 301.4M183.2 269.2L180.8 265.5L177.0 268.0L172.0 266.8L168.2 263.0L162.0 260.0L154.5 260.5L148.2 263.0L144.5 264.2L144.0 269.2L143.2 273.0L139.5 280.5L137.5 285.5L135.8 289.2L132.0 295.0L125.8 298.0L122.0 298.0L117.0 301.0L113.2 303.0M122.0 298.0L123.2 301.8L125.8 303.5L128.2 300.5L132.0 301.8L135.8 305.0L139.5 308.0L144.5 305.5L149.5 303.0L153.2 305.0L157.0 308.0L159.5 311.8L158.2 316.0M142.0 301.0L144.5 302.2L143.2 303.8L142.0 301.0M256.8 106.2L265.5 98.8L274.2 92.5L281.8 89.2M259.2 107.5L268.0 98.8L275.5 93.8M288.0 86.5L291.8 85.8M295.5 85.0L299.2 84.5M303.0 84.5L306.8 85.5M310.5 85.5L314.2 86.5M324.2 91.2L328.0 93.8L326.0 91.2M253.0 131.2L256.8 132.5L259.2 136.2L265.5 133.8L269.2 133.0L270.5 136.2L268.0 140.0L265.5 138.8L264.2 145.0L265.5 151.2L269.2 155.0L271.8 151.2L278.0 152.5L276.8 156.2L273.0 157.5L270.5 160.0L268.0 163.8L271.8 166.2L275.5 163.8L278.0 167.5L275.5 171.2L270.5 173.8L268.0 178.0M279.2 145.0L283.0 147.5L286.8 148.0L283.5 146.0L279.2 145.0M258.0 136.2L261.8 138.0L260.0 139.5L258.0 136.2M340.5 103.8L343.5 107.0L345.0 110.0M324.2 90.0L327.5 93.0M286.0 157.5L289.2 153.8L291.8 156.2L294.2 162.5L299.2 157.5L303.0 153.8L306.0 150.0L314.2 151.0L316.0 149.5L311.8 147.5L307.5 146.2L306.0 141.2L309.2 140.0L314.2 138.8L320.5 136.2L328.0 131.2L330.5 128.8L334.2 131.2L339.2 132.5L345.5 131.2L348.0 127.5L350.5 122.5L353.0 115.0L358.0 110.0L364.2 105.0L370.5 100.0L378.0 96.2L381.8 93.8L384.0 91.2M384.0 100.0L378.0 107.5L374.2 115.0L368.0 122.5L360.5 127.5L354.2 131.2L348.0 133.8L343.0 137.5L340.5 142.5L344.2 145.0L350.5 140.0L358.0 137.5L365.5 135.0L373.0 136.2L380.5 140.0L384.0 142.5M286.0 157.5L290.5 165.0L295.5 168.8L301.8 171.2L305.5 176.2L308.0 178.0M351.8 115.0L354.2 117.5L352.5 119.5M384.0 91.2L389.0 90.0L395.2 87.5M384.0 93.8L391.5 91.8M411.5 82.5L415.2 84.0M419.0 81.2L424.0 85.0L420.2 85.0L419.0 81.2M440.2 95.0L444.0 100.0L441.0 99.5L440.2 95.0M410.2 133.8L412.8 128.8L416.5 122.5L420.2 116.2L421.5 111.2L422.0 107.0L425.2 108.8L427.8 112.5L431.5 107.5L434.0 102.5L437.8 100.0L437.0 103.8L432.8 110.0L429.0 115.0L424.0 120.0L420.2 126.2L415.2 131.2L411.5 134.5L410.2 133.8M384.0 150.0L394.0 152.5L404.0 152.0L414.0 151.5L424.0 150.0L426.5 145.0L425.2 140.0L421.5 136.2L419.0 132.5L421.5 127.5L425.2 122.5L430.2 117.5L435.2 114.2L442.8 112.5L450.2 111.0L457.2 109.5M417.8 146.2L421.5 143.0L425.2 146.2L421.5 148.8L417.8 146.2M419.0 141.2L422.8 139.5L424.0 142.5L420.2 143.8L419.0 141.2M468.5 122.0L461.5 122.5L456.5 125.0L450.2 127.5L452.8 131.2L457.8 134.5L461.5 140.0L460.2 146.2L456.5 152.5L452.8 160.0L451.0 167.5L452.0 173.8L455.2 178.0M487.8 166.2L490.2 172.5L495.2 178.0M457.5 110.7L463.1 116.2L468.6 121.9L473.8 127.8L478.8 133.9L483.6 140.2L488.1 146.6L492.5 153.2L496.6 160.0L500.4 166.9L504.0 173.9L507.4 181.0L510.5 188.3L513.3 195.6L515.9 203.1L518.2 210.6L520.2 218.3L522.0 225.9L523.5 233.7L524.7 241.5L525.7 249.3L526.3 257.2L526.7 265.1L526.8 273.0L526.7 280.8L526.2 288.7L525.5 296.6L524.5 304.4L523.2 312.2L521.6 319.9L519.8 327.6L517.7 335.2L515.3 342.7L512.7 350.2L509.7 357.5L506.6 364.7L503.2 371.8L499.5 378.8M493.4 389.2L488.6 396.7L483.4 404.0L478.0 411.1M467.6 423.1L462.0 429.0L456.2 434.6L450.2 440.0L444.0 445.2L437.6 450.1M433.6 453.1L427.5 457.3M414.6 465.2L407.8 469.0L400.8 472.5L393.7 475.7L386.5 478.7L379.2 481.5L371.7 484.0L364.3 486.2L356.7 488.2M351.8 489.3L343.2 491.0L334.6 492.4L325.9 493.4L317.2 494.1L308.5 494.4L299.7 494.4"/>
<path stroke-width="2.2" d="M164.6 150.5L167.0 149.2L169.2 150.9L171.6 152.8L174.6 151.9L176.1 153.9L172.3 154.7L170.3 152.9L167.7 153.2L164.6 151.6M160.0 158.1L163.1 157.5L164.9 159.5L167.0 159.6L169.2 158.1L171.1 156.1L173.1 156.0L175.4 157.5L177.6 158.5L179.6 157.9L181.5 156.7L183.4 157.8L185.8 156.9L187.6 158.1L189.6 159.0L191.6 159.5L193.8 159.6L195.8 160.4L198.2 159.3L199.9 161.1L203.0 162.1M160.0 160.1L162.2 159.4L164.1 161.0L166.1 161.1L168.1 160.4L170.3 161.1L172.3 160.5L174.4 161.9L176.9 162.4L179.2 160.9L181.2 161.0L183.0 163.1L184.9 164.7L187.3 162.7L189.2 163.9L191.9 163.1L194.1 166.4L196.9 164.7L199.5 164.3L202.2 164.2M175.4 159.3L177.3 160.6L178.8 162.1L178.4 164.7L180.8 164.6L183.0 165.4L185.6 164.5L187.6 166.2L190.4 164.7L192.8 166.3L195.3 167.0L197.3 168.8L199.4 168.4L201.5 167.3L203.0 164.7M176.9 157.8L178.1 159.6L180.0 160.8L182.4 161.4L184.6 160.1L186.2 161.9L188.1 163.3L190.7 162.4L193.2 163.6L195.7 164.6L198.4 163.1M160.0 161.6L163.1 162.4L166.1 163.1M371.7 223.1L369.4 227.4L366.2 225.4L365.6 221.6L369.0 219.7L371.7 223.1L366.6 224.3M358.9 261.4L355.8 262.9L354.2 260.0L357.5 257.8L358.2 259.6L358.9 261.4M337.7 303.1L337.5 299.8L338.3 298.0L339.0 296.2L342.2 295.6L341.7 297.1L341.0 298.6L340.3 300.1L339.0 301.6L337.7 303.1"/>
<path stroke-width="2" d="M196.9 238.1L204.5 238.7M193.0 261.6L198.4 262.0M232.2 202.6L236.0 204.6L233.7 206.4M223.7 216.7L227.6 217.6M246.0 237.2L249.1 238.7L250.6 241.8L248.3 243.3L246.3 241.0L246.0 237.2M199.2 255.6L201.5 258.7M239.9 260.2L242.9 263.3L246.0 261.7M322.3 332.5L318.6 329.1L316.9 326.1L314.3 322.8L313.6 319.5L315.9 318.0L318.1 316.9L320.5 318.7L319.4 315.5L320.6 314.3L321.8 313.1L323.8 313.5L325.7 313.9L324.9 317.9L323.3 321.2L325.2 323.5L324.5 327.3L322.8 330.4L322.3 332.5M319.6 328.8L319.3 324.0L316.7 321.3L318.8 319.2M321.8 325.7L322.0 321.6M340.6 297.3L339.4 293.9L340.6 292.9L341.7 291.8L343.4 293.6"/>
<path stroke-width="1.4" d="M240.9 273.1L240.6 275.3L240.4 277.6L240.3 279.9L240.2 282.2L244.4 284.2L251.3 286.2L255.3 284.7L257.2 286.2L259.1 287.6L261.9 288.3L264.6 288.9L269.4 289.1L273.2 288.3L273.2 286.5L273.3 284.9L273.5 283.2L273.3 281.9L273.0 280.6L272.9 279.3L271.8 278.1L270.8 276.9L269.9 275.6L268.3 274.5L266.9 273.3L263.1 270.9L259.8 273.6L255.2 275.4L250.4 273.9L247.0 274.0L240.9 273.1M248.9 273.5L250.8 271.3L252.8 269.3L257.6 267.5L263.6 269.9L259.8 272.0L255.1 272.4L248.9 273.5M232.9 284.6L237.1 283.9L237.7 281.4L238.4 278.9L239.1 276.6L239.9 274.3L240.8 272.0L242.3 269.8L237.2 267.3L232.8 269.5L232.0 272.6L231.4 275.8L231.8 278.8L232.3 281.7L232.9 284.6M225.0 288.9L228.7 285.4L226.1 284.4L225.0 288.9M229.4 223.3L235.2 222.6L240.2 227.9L242.0 233.0L240.1 235.3L238.3 237.6L232.6 236.2L227.9 229.6L228.6 226.5L229.4 223.3M210.9 231.3L217.5 228.7L222.6 229.4L227.5 230.3L232.7 233.9L232.5 236.9L232.4 239.9L230.7 242.2L229.0 244.6L229.2 247.6L229.6 250.5L224.4 251.3L216.5 253.3L211.5 253.9L207.0 251.3L206.7 247.6L206.4 243.9L208.1 240.7L210.0 237.6L210.9 231.3M237.4 242.9L243.5 241.0L244.6 244.1L245.9 247.2L245.1 249.2L244.3 251.3L238.6 253.7L235.7 251.6L238.0 247.8L237.4 242.9M247.4 237.1L251.1 241.9L251.5 246.2L248.0 242.7L247.6 239.9L247.4 237.1M234.9 259.1L242.1 259.3L242.5 262.7L236.7 263.1L234.9 259.1M232.7 264.5L236.5 264.3L236.2 267.8L232.9 267.6L232.7 264.5M218.0 258.3L223.6 254.8L229.3 258.1L227.2 261.8L219.9 262.4L218.0 258.3M219.7 263.8L224.6 263.6L229.2 266.1L228.5 268.7L228.0 271.3L223.2 272.0L219.5 266.8L219.7 263.8M203.6 256.9L207.7 255.8L207.8 261.8L203.9 262.3L203.6 256.9M176.9 282.0L180.6 278.5L187.1 280.2L189.8 283.0L186.2 286.5L182.8 290.2L179.0 288.5L176.9 282.0M249.8 257.9L255.8 259.0L254.6 261.0L253.5 263.0L248.8 262.2L249.2 260.0L249.8 257.9M247.5 264.5L252.2 265.1L250.5 267.3L247.3 266.5L247.5 264.5M185.3 300.6L185.5 297.3L188.9 300.8L192.3 304.1L197.6 304.7L204.3 301.6L207.8 296.1L211.6 290.9L211.7 286.7L211.9 282.5L212.4 278.4L212.2 275.2L218.4 272.8L226.6 273.4L227.7 278.0L226.3 280.9L225.0 283.9L224.5 289.0L222.5 293.2L220.8 297.6L219.6 301.6L218.5 305.8M243.6 196.9L240.1 198.0L236.5 199.2L234.5 204.5L233.1 207.8L231.9 211.1L231.7 215.2L225.6 216.9L221.2 220.0L218.5 223.1L215.8 226.2L213.3 229.5L208.9 227.5L207.1 231.7L205.4 236.0L206.5 240.2L204.1 243.2L201.7 246.4L201.9 252.1L199.6 257.3L203.2 259.6L207.7 263.5L217.3 264.4L219.6 265.3L209.8 268.7L204.9 272.0L202.5 272.9L207.5 278.8L209.6 284.5L203.4 286.2L196.3 288.1L191.9 283.8L192.0 279.9L185.5 277.2L180.4 273.1L178.0 269.8L173.1 266.3L165.9 261.8L161.0 260.2L154.9 261.0M280.2 175.0L275.9 181.7L271.9 187.2L269.1 190.9L265.5 191.1L261.9 191.5L258.3 192.1L254.3 193.4L250.4 194.8L247.0 195.8L243.6 196.9M204.3 301.6L206.1 303.2L207.4 305.2L208.1 307.8L210.9 308.3L212.4 310.1L211.8 312.2L210.9 314.2L211.6 316.7L209.8 318.4L209.2 320.5L207.3 322.6L206.2 325.3L204.2 324.0L201.6 326.2L199.5 325.2L197.4 324.2L195.8 326.1L193.2 324.0L191.3 324.9L189.9 327.6L187.6 326.5L184.5 324.9L181.7 326.9M218.5 305.8L216.6 307.3L214.2 308.2L212.4 310.1M251.5 288.7L253.7 289.7L255.5 291.8L257.5 293.4L260.5 292.5L262.7 291.0L265.5 292.5L267.6 290.8L269.7 291.7L271.9 290.8L273.6 292.9L277.2 292.6L278.2 295.6L281.0 293.9L283.2 295.9L285.4 297.8L288.0 297.2L290.8 299.8L292.4 302.1L291.8 304.9L293.2 306.9L295.3 308.5L296.1 311.0"/>
<path stroke-width="1.2" d="M203.9 376.4L203.4 369.5L200.4 364.0L201.8 358.1L204.5 353.5L207.9 348.2L211.3 342.2L216.0 337.0L220.5 334.1L225.9 335.5L227.8 334.0L229.5 331.5L228.5 326.1L231.7 324.8L232.3 321.5L237.1 317.4L241.1 313.1L244.1 308.9L246.2 303.0L244.9 300.4L243.7 297.8L245.1 294.8L249.0 291.6L251.5 288.7L254.0 290.1L256.5 291.4L260.5 292.5L263.3 289.4L265.5 290.2L267.6 290.8L271.9 290.8L273.3 291.8L274.8 292.7L275.9 293.7L277.1 294.7L278.2 295.6L279.5 296.0L280.8 296.5L282.0 296.8L283.3 297.2L284.9 297.3L286.5 297.3L288.0 297.2L288.9 298.1L289.9 299.0L290.8 299.8L291.2 302.3L291.8 304.9L292.6 307.2L293.7 309.5L294.9 310.3L296.1 311.0L294.2 313.0L292.1 314.9L289.9 316.7L288.0 321.0L285.6 325.2L285.0 330.0L282.4 334.2L282.0 339.0L279.1 341.6L274.9 345.1L272.4 349.2L271.9 353.2L269.8 357.6L265.0 356.5L267.4 359.2L263.5 361.7L258.9 363.2L252.7 361.6L246.2 361.6L239.8 364.3L234.0 363.7L230.2 362.0L224.8 365.1L219.0 368.6L214.3 371.0L210.0 373.9L205.9 376.9L203.9 376.4M315.5 416.2L316.0 413.7L315.6 411.4L314.0 409.3L314.3 407.1L313.8 404.8L314.9 402.7L315.2 399.9L318.4 400.1L319.4 398.1L321.0 396.6L322.9 395.0L322.8 392.3L325.1 390.9L325.4 388.4L325.4 385.7L328.0 383.8L327.8 381.0L329.2 379.1L328.8 376.6L329.8 374.5L330.8 372.0L331.6 369.5L333.3 367.2L333.7 364.3L334.0 361.3L336.4 359.3L338.7 356.4L340.1 354.6L341.3 352.6M258.4 293.5L260.5 291.8L263.2 292.9L265.5 291.8L267.7 291.3L269.8 292.0L272.2 292.4L273.2 294.5L274.8 295.8L276.5 297.1L278.6 297.5L280.6 297.8L282.8 297.5L284.9 297.9L286.8 299.2L287.8 301.1L289.8 301.9L291.0 304.4L290.9 307.1L292.0 309.5L293.2 311.9L295.6 313.3"/>
<path stroke-width="1.5" d="M263.1 392.0L256.2 387.3L258.5 385.6L255.6 381.7L256.0 378.1L260.2 376.2L261.5 375.6L262.2 380.2L265.4 379.3L269.4 379.6L273.2 379.3L275.6 380.9L277.0 385.3L275.2 388.9L271.5 390.5L267.9 391.5L263.1 392.0M324.5 424.7L322.3 423.2L319.7 422.7L319.8 419.6L317.9 417.3L318.6 414.7L318.7 412.2L316.3 410.4L317.6 408.3L318.7 406.2L317.1 403.8L317.1 400.8L320.0 400.6L323.0 400.5L323.2 397.5L324.8 395.8L326.9 394.2L324.8 390.6L327.4 389.3L328.1 386.8L327.9 384.0L329.7 381.8L330.6 379.7L331.4 377.5L331.7 375.3L330.6 372.0L333.5 370.2L333.3 367.2L335.5 365.0L336.0 362.0L338.2 359.9L340.5 356.9L343.3 356.1L343.1 353.1L345.9 351.7L349.1 352.7M203.9 376.4L202.7 374.5L201.4 372.7L202.7 370.0L199.9 368.6L201.1 366.0L200.4 364.0L200.7 361.7L200.4 359.2L202.9 357.7L201.9 354.9L204.5 353.5L205.4 351.5L205.3 348.8L206.5 347.0L208.8 345.8L211.3 344.7L211.3 342.2L211.8 339.7L213.6 338.6L216.2 338.5L218.6 338.1L219.2 335.7L220.5 334.1L222.6 333.1L225.5 334.7L226.8 330.4L229.5 331.5L231.5 329.9L229.8 327.3L229.8 325.2L230.3 323.1L232.3 321.5L233.3 319.6L236.1 319.6L235.8 316.4L238.4 316.2L240.0 314.9L241.1 313.1L241.7 310.8L243.3 309.1L242.6 306.2L243.6 304.2L246.2 303.0L244.7 301.1L246.3 298.8L245.1 296.9L245.1 294.8L246.2 292.7L248.5 292.0L249.7 290.1L251.5 288.7M296.1 311.0L294.6 312.6L293.3 314.2L292.4 316.3L289.9 316.7L287.5 318.1L289.5 321.8L286.6 323.1L285.6 325.2L283.3 326.9L285.6 330.2L283.0 331.8L282.4 334.2L281.1 335.8L282.4 338.6L280.3 339.9L279.1 341.6L277.1 342.6L276.6 344.8L274.4 345.6L274.8 348.6L272.4 349.2L272.8 351.6L272.6 353.9L270.5 355.5L269.8 357.6L267.4 359.2L264.5 358.7L263.0 360.9L260.6 361.2L258.9 363.2L256.7 363.4L254.8 361.7L252.4 364.0L250.3 363.0L248.4 361.2L246.2 361.6L244.0 361.1L242.2 362.6L240.4 364.3L238.2 363.9L236.3 364.5L234.0 363.7L232.1 365.2L229.3 363.9L227.9 366.9L224.9 365.0L222.8 365.7L221.7 369.6L219.0 368.6L217.4 370.0L215.4 370.7L214.6 373.4L212.0 373.1L210.0 373.9L207.4 373.2L206.6 377.0L203.9 376.4M257.4 108.3L256.6 110.4L254.0 110.5L252.5 111.9L251.5 113.9L249.1 114.5L249.9 117.8L248.5 119.2L247.5 121.0L245.2 121.6L245.1 124.4L242.2 125.8L242.0 128.5L242.3 131.0L239.9 132.1L240.0 134.6L238.0 135.9L237.8 138.2L236.4 140.0L235.2 141.8L234.5 144.2L235.9 145.9L236.9 147.8L236.4 150.9L233.8 151.7L231.3 152.7L229.2 154.4L226.6 151.8L224.5 153.5L221.7 153.6L219.5 154.8L217.8 157.1L215.3 156.8L213.5 158.0L211.9 159.8L209.4 158.1L206.9 158.9L204.6 161.2L202.1 160.3L199.6 158.9L197.2 160.4L194.7 160.4L192.7 159.3L190.6 160.0L188.5 160.4L186.4 160.6L184.3 160.0L182.1 160.2L179.8 160.6L177.6 159.8"/>
</g>
</g>
<circle cx="304.0" cy="272.0" r="229.0" fill="none" stroke="#000" stroke-width="2.1"/>
<g class="lb">
<text transform="translate(280.8 21.8) scale(0.920 1)" textLength="49.3" lengthAdjust="spacing">180°W</text>
<text transform="translate(58.1 150.1) scale(0.920 1)" textLength="48.9" lengthAdjust="spacing">120°W</text>
<text transform="translate(507.8 150.1) scale(0.920 1)" text-anchor="start">120°E</text>
<text transform="translate(62.0 408.0) scale(0.920 1)" textLength="40.2" lengthAdjust="spacing">60°W</text>
<text transform="translate(510.8 408.0) scale(0.920 1)" text-anchor="start">60°E</text>
<text transform="translate(304.2 537.2) scale(0.920 1)" text-anchor="middle">0°</text>
</g>
<g class="lw" fill="#fff">
<text transform="translate(304.6 76.3) scale(0.920 1)" text-anchor="start">50°</text>
<text transform="translate(304.6 127.9) scale(0.920 1)" text-anchor="start">60°</text>
<text transform="translate(304.6 177.1) scale(0.920 1)" text-anchor="start">70°</text>
<text transform="translate(304.6 224.8) scale(0.920 1)" text-anchor="start">80°</text>
</g>
<defs><linearGradient id="cbg" x1="0" y1="1" x2="0" y2="0"><stop offset="0.00" stop-color="#ff0000"/><stop offset="0.20" stop-color="#ffff00"/><stop offset="0.40" stop-color="#00e600"/><stop offset="0.60" stop-color="#00ffff"/><stop offset="0.80" stop-color="#0000c8"/><stop offset="1.00" stop-color="#ff00ff"/></linearGradient></defs>
<g shape-rendering="crispEdges">
<rect x="564" y="125" width="24" height="295" fill="url(#cbg)"/>
<rect x="564" y="405" width="4" height="1" fill="#fff"/>
<rect x="582" y="405" width="5" height="1" fill="#fff"/>
<rect x="564" y="388" width="4" height="1" fill="#fff"/>
<rect x="582" y="388" width="5" height="1" fill="#fff"/>
<rect x="564" y="371" width="4" height="1" fill="#fff"/>
<rect x="582" y="371" width="5" height="1" fill="#fff"/>
<rect x="564" y="354" width="4" height="1" fill="#fff"/>
<rect x="582" y="354" width="5" height="1" fill="#fff"/>
<rect x="564" y="337" width="4" height="1" fill="#fff"/>
<rect x="582" y="337" width="5" height="1" fill="#fff"/>
<rect x="564" y="320" width="4" height="1" fill="#fff"/>
<rect x="582" y="320" width="5" height="1" fill="#fff"/>
<rect x="564" y="303" width="4" height="1" fill="#fff"/>
<rect x="582" y="303" width="5" height="1" fill="#fff"/>
<rect x="564" y="286" width="4" height="1" fill="#fff"/>
<rect x="582" y="286" width="5" height="1" fill="#fff"/>
<rect x="564" y="269" width="4" height="1" fill="#fff"/>
<rect x="582" y="269" width="5" height="1" fill="#fff"/>
<rect x="564" y="252" width="4" height="1" fill="#fff"/>
<rect x="582" y="252" width="5" height="1" fill="#fff"/>
<rect x="564" y="235" width="4" height="1" fill="#fff"/>
<rect x="582" y="235" width="5" height="1" fill="#fff"/>
<rect x="564" y="217" width="4" height="1" fill="#fff"/>
<rect x="582" y="217" width="5" height="1" fill="#fff"/>
<rect x="564" y="200" width="4" height="1" fill="#fff"/>
<rect x="582" y="200" width="5" height="1" fill="#fff"/>
<rect x="564" y="183" width="4" height="1" fill="#fff"/>
<rect x="582" y="183" width="5" height="1" fill="#fff"/>
<rect x="564" y="166" width="4" height="1" fill="#fff"/>
<rect x="582" y="166" width="5" height="1" fill="#fff"/>
<rect x="564" y="149" width="4" height="1" fill="#fff"/>
<rect x="582" y="149" width="5" height="1" fill="#fff"/>
<rect x="564" y="132" width="4" height="1" fill="#fff"/>
<rect x="582" y="132" width="5" height="1" fill="#fff"/>
</g>
<g class="cb">
<text x="595.5" y="410.2">5</text>
<text x="595.5" y="393.1">10</text>
<text x="595.5" y="376.1">15</text>
<text x="595.5" y="359.1">20</text>
<text x="595.5" y="342.0">25</text>
<text x="595.5" y="325.0">30</text>
<text x="595.5" y="308.0">35</text>
<text x="595.5" y="290.9">40</text>
<text x="595.5" y="273.9">45</text>
<text x="595.5" y="256.9">50</text>
<text x="595.5" y="239.8">55</text>
<text x="595.5" y="222.8">60</text>
<text x="595.5" y="205.8">65</text>
<text x="595.5" y="188.7">70</text>
<text x="595.5" y="171.7">75</text>
<text x="595.5" y="154.7">80</text>
<text x="595.5" y="137.6">85</text>
</g>
</svg>
</body></html>
